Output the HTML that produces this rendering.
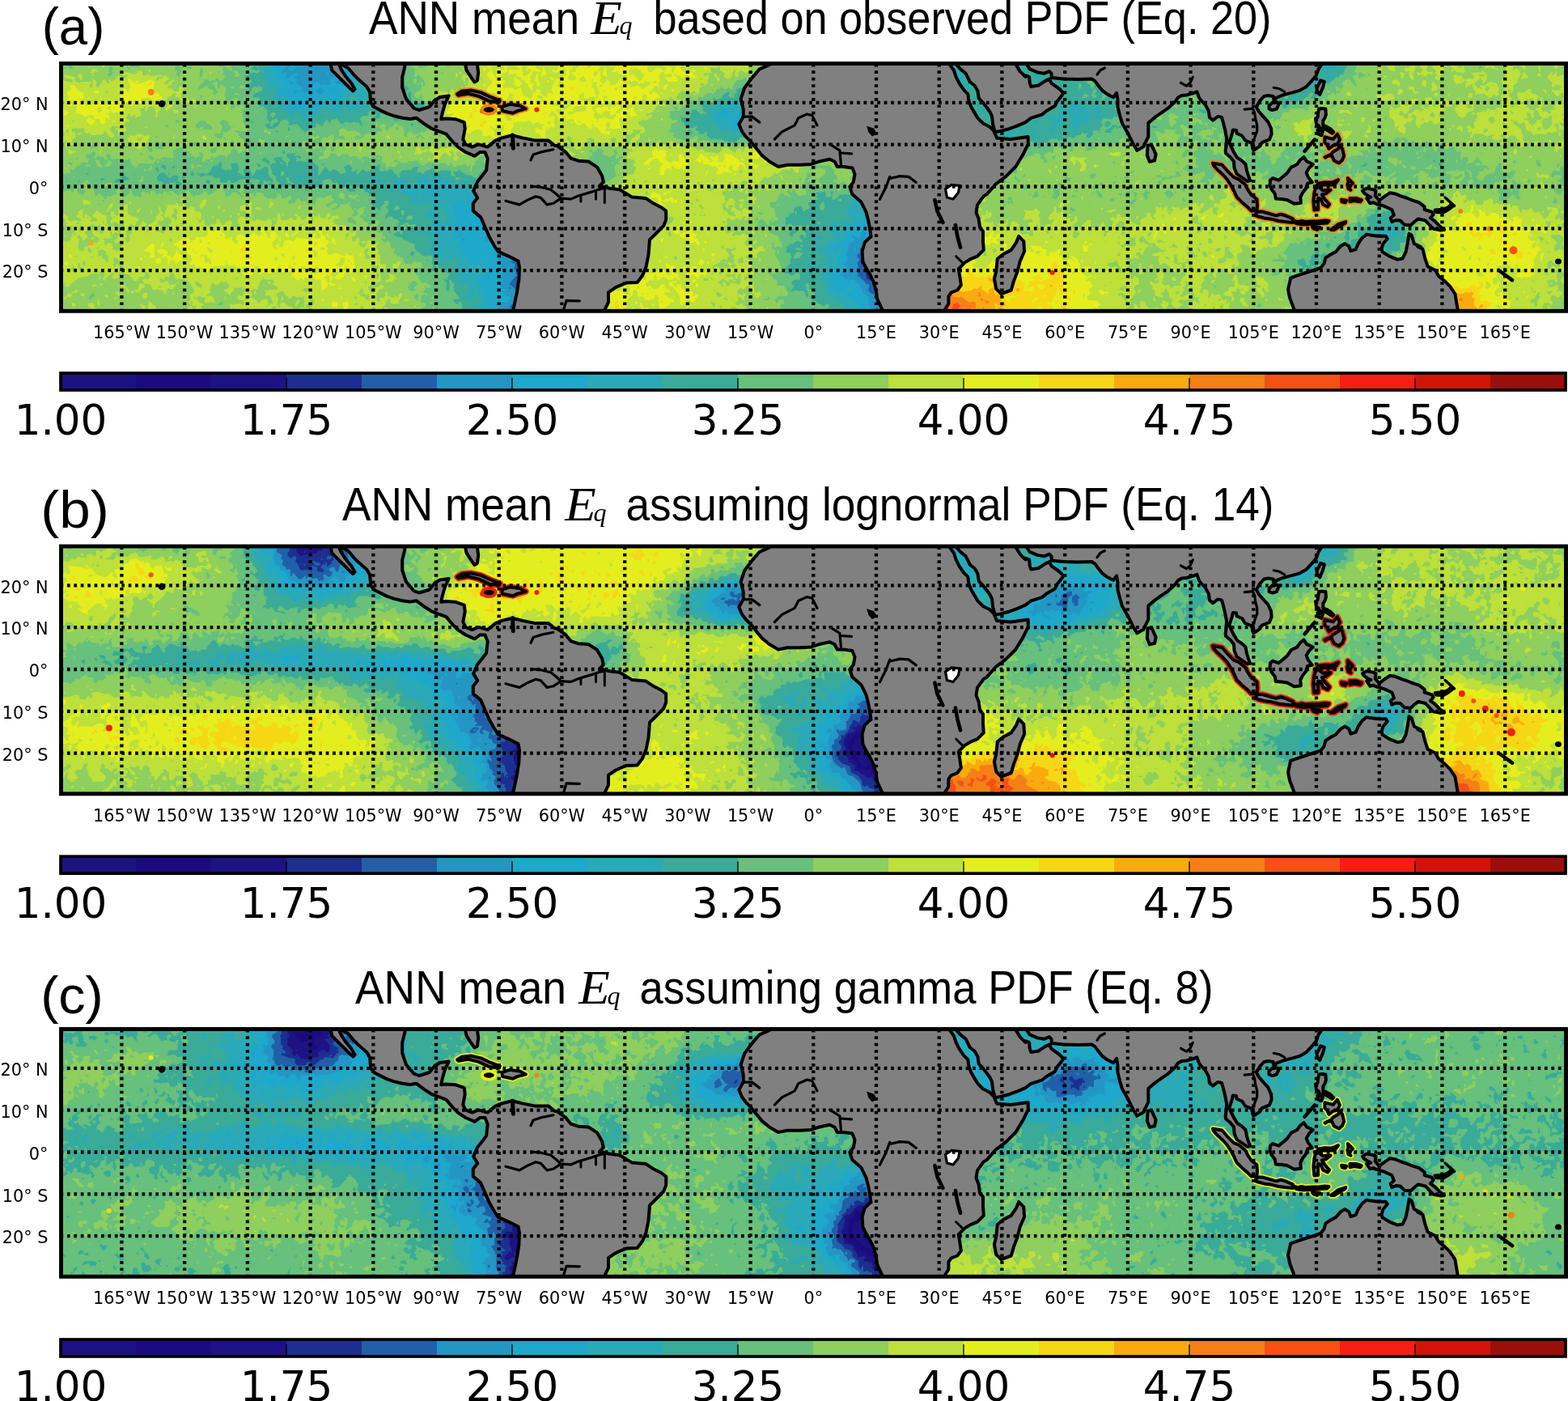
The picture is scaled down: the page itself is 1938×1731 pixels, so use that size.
<!DOCTYPE html><html><head><meta charset="utf-8"><title>ANN mean Eq</title><style>html,body{margin:0;padding:0;background:#fff;}svg{display:block;}.tk{font-family:"DejaVu Sans",sans-serif;font-size:20.8px;fill:#000;}.cb{font-family:"DejaVu Sans",sans-serif;font-size:51.5px;fill:#000;}.tt{font-family:"Liberation Sans",sans-serif;font-size:58px;fill:#000;}.em{font-family:"Liberation Serif",serif;font-style:italic;fill:#000;}</style></head><body>
<svg width="1938" height="1731" viewBox="0 0 1938 1731">
<rect width="1938" height="1731" fill="#fff"/>
<defs>
<clipPath id="mc"><rect x="75.5" y="78.5" width="1860" height="305.8"/></clipPath>
<g id="land"><g fill="#808080" stroke="#000" stroke-width="4" stroke-linejoin="round"><path d="M422.2 70.6 422.2 79.4 430.2 84 437 92.1 443.7 98.8 453.1 106.9 457.1 113.6 457.7 120.3 458.4 127 462.4 132.3 470.5 136.4 478.5 140.4 486.6 143.1 497.3 145.8 506.7 147.1 514.8 145.8 520.1 149.8 525.5 153.8 534 159.2 551.5 165.6 559.5 175.2 565.9 181.6 575.5 188 586.7 192.8 593.1 188 599.5 188 602.7 196 601.1 210.4 596.3 216.8 589.9 224.8 585.1 235.9 590.2 244.4 584.8 251.3 584.8 260.6 594.1 268.4 600.2 282.3 604.9 293.1 611.1 304 615.7 310.9 628.1 316.3 640.5 322.5 642 330.3 641.3 345.8 638.9 361.2 634.3 382.9 634.3 398.4 748.1 398.4 748.1 381.4 752 373.6 752 361.2 761.2 355 773.6 349.6 787.6 348.9 793.7 341.1 798.4 330.3 801.5 314.8 803 296.2 810.8 288.5 820.1 279.2 823.2 271.5 823.2 260.6 817 256 807.7 251.3 798.4 245.1 781.4 243.6 773.6 238.9 765.9 234.3 753.5 232.8 741.1 229.7 745.8 225 744.2 217.3 738 206.4 727.2 199.5 714.8 198.7 705.5 195.6 699.3 187.9 688.5 180.1 685.9 180 677.9 173.6 661.9 173.6 645.9 170.4 633.1 167.2 620.3 170.4 612.3 173.6 602.7 181.6 591.5 178.4 583.5 181.6 575.5 178.4 572.3 172 574.7 159.2 573.9 151.2 562.7 147.2 551.5 146.4 545.2 147.2 546.7 140 549.9 128.8 554.7 118.4 543.6 120 537.2 124 530.8 132 518 136 511.6 133.6 502 122.4 497.2 108 497.2 95.2 500.4 82.4 500.4 69.6Z"/><path d="M408.8 70.6 408.8 79.4 410.1 86.7 416.8 93.4 424.9 101.5 431.6 108.2 436.3 112.5 438.6 110.2 434.3 102.8 427.6 94.8 422.2 86.7 418.8 79.4 418.8 70.6Z"/><path d="M575.1 70.6 575.1 79.4 576.5 86.7 581.8 94.8 586.5 101.5 589.9 99.5 591.2 89.4 589.9 79.4 589.9 70.6Z"/><path d="M565.1 116.3 570.7 112.8 581.9 111.5 594.7 114.4 605.9 119.7 617.9 124.3 616.8 126.5 604.3 124.9 591.5 118.9 578.7 115.7 566.7 117.9Z"/><path d="M620.3 132 629.9 128.8 642.7 130.4 649.9 134.4 639.5 137.1 633.9 139.7 621.1 137.1Z"/><path d="M951.2 69.8 951.2 79.9 938.8 85.3 929.5 96.1 920.2 108.5 915.6 122.4 918.7 134.8 918.7 144.1 913.3 153.4 917.2 162.7 921.8 168.9 928 175.1 934.2 182.8 941.9 192.1 951.2 199.8 962 206 972.9 203.7 988.4 203.7 1002.3 202.9 1011.6 199.8 1025.5 196.7 1031.7 199.8 1034.8 206 1042.5 206 1053.4 207.6 1056.5 215.3 1054.9 224.6 1050.3 230.8 1053.4 240.1 1064.2 249.4 1070.4 261.8 1073.5 274.1 1075 281.9 1076.6 292.7 1074.9 293.5 1068.7 299.7 1065.6 310.5 1066.4 322.9 1070.2 330.6 1074.9 338.4 1079.5 347.6 1082.6 358.5 1084.2 369.3 1090.4 382.5 1091.9 397.2 1167.8 397.2 1167.8 382.5 1172.4 375.5 1172.4 366.2 1175.5 361.6 1183.3 358.5 1187.9 352.3 1186.3 341.5 1184.8 332.2 1192.5 324.4 1200.3 319.8 1208 316.7 1215.8 308.9 1215 298.1 1215 285.7 1211.1 281.1 1209.6 270.2 1206.5 262.5 1208 253.2 1215.8 242.4 1219.7 240.1 1230.5 227.7 1242.9 218.4 1255.3 206 1264.6 190.6 1270.7 178.2 1270.7 168.9 1249.1 172 1232 170.4 1228.5 161.9 1223.2 156.5 1215.1 152.5 1208.4 145.8 1204.4 139.1 1200.4 132.3 1197.7 125.6 1196.3 116.2 1191 110.9 1185.6 102.8 1181.6 94.8 1178.9 86.7 1173.5 79.4 1173.5 70.6Z"/><path d="M1181.6 70.6 1181.6 79.4 1187 85.4 1193.7 90.8 1199 101.5 1204.4 105.5 1208.4 112.2 1209.8 121.6 1215.1 127 1223.2 137.7 1225.9 143.1 1227.2 153.8 1229.9 163.2 1236.6 161.9 1247.3 159.2 1258.1 155.2 1267.4 151.1 1274.2 145.8 1287.6 141.7 1294.3 136.4 1303.7 131 1306.4 125.6 1311.7 118.9 1314.4 114.9 1309 109.5 1299.6 102.8 1297 97.5 1291.6 100.1 1283.5 105.5 1274.2 106.9 1272.8 102.8 1272.1 94.8 1268.1 93.4 1267.4 94.8 1260.7 88.1 1255.4 79.4 1255.4 70.6Z"/><path d="M1268.8 70.6 1268.8 79.4 1272.8 85.4 1282.2 89.4 1290.3 90.8 1297 88.1 1299.6 90.8 1299.6 96.1 1314.4 97.5 1331.8 98.1 1349.3 97.5 1353.3 100.1 1357.3 105.5 1362.7 112.2 1368.1 116.2 1376.1 120.3 1380.1 114.9 1381.5 123 1381.5 132.3 1384.2 143.1 1386.8 151.9 1394.6 165.8 1400.8 178.2 1405.4 185.9 1413.2 181.3 1419.3 168.9 1419.3 151.9 1428.6 144.1 1444.1 133.3 1451.9 126.3 1456 120.6 1460.7 118 1466.4 117.5 1474.2 115.4 1479.4 113.3 1482 120.6 1484.5 124.2 1489.7 129.4 1493.9 137.2 1494.9 144.9 1499 148.6 1505.3 143.9 1509.9 144.9 1511.5 150.1 1514.1 160.5 1516.1 170.9 1515.6 178.7 1514.6 186.4 1515.1 189.5 1520.8 194.2 1525 199.4 1525.5 207.2 1528.6 214.9 1534.8 219.1 1541.5 223.8 1545.2 223.2 1543.1 217.5 1541 210.8 1539.5 203 1534.8 198.4 1529.1 194.7 1524.4 186.9 1519.3 176.1 1522.9 165.2 1523.9 160.5 1528.1 161 1528.6 164.7 1535.3 167.8 1538.9 173.5 1546.7 176.6 1549.3 185.9 1557.1 180.7 1559.7 176.1 1569 172.4 1571.6 165.7 1571.1 158.9 1567.4 150.7 1561.7 144.4 1555.5 137.2 1552.9 132 1557.1 124.7 1562.3 119 1567.4 118 1573.7 119 1574.7 125.2 1577.8 120.6 1585.6 117.5 1593.3 115.4 1597.5 114.4 1606.3 111.8 1614.1 107.6 1621.8 99.3 1627 93.1 1629.6 85.3 1634.8 77.5 1634.8 64.6Z"/><path d="M1418.6 179.7 1423.2 178.9 1428.6 190.6 1427.1 198.3 1420.9 199.8 1417.8 192.1Z"/><path d="M1259.1 291.9 1265.3 298.1 1266.1 310.5 1260.7 322.9 1257.6 335.3 1252.9 347.6 1249.8 358.5 1237.4 363.1 1231.2 356.9 1228.9 344.6 1231.2 335.3 1232.8 319.8 1240.5 313.6 1249.8 308.9 1256 299.7Z"/><path d="M1568.5 130.4 1572.6 126.8 1578.8 126.3 1580.4 128.9 1577.8 134.6 1572.6 136.1 1568.5 134.6Z"/><path d="M1632.2 99.3 1636.9 100.9 1634.8 108.7 1631.2 116.9 1628.1 113.3 1627.5 108.7 1630.6 102.9Z"/><path d="M1630.1 134.6 1633.8 134.1 1638.4 134.6 1638.9 141.3 1637.4 146 1635.3 149.1 1635.3 154.8 1640.5 156.9 1644.1 158.9 1648.3 163.1 1646.7 164.7 1641.5 161.5 1635.8 158.4 1630.1 158.4 1630.1 155.3 1627 153.8 1626 146.5 1628.6 144.9 1629.1 139.8Z"/><path d="M1637.4 169.3 1643.6 170.9 1647.7 171.9 1652.9 165.7 1656 172.4 1652.9 178.7 1647.7 179.7 1642.6 183.8 1640 178.7 1637.4 176.1Z"/><path d="M1628.6 160.5 1634.8 162.1 1633.2 167.2 1629.1 165.2Z"/><path d="M1637.4 194.2 1645.2 190.6 1647.7 187.5 1654 183.8 1656 179.7 1659.1 183.8 1661.2 192.6 1659.1 197.8 1655 201.5 1648.8 198.4 1646.2 192.6 1641.5 192.6 1637.9 194.7Z"/><path d="M1570 222.7 1573.1 220.1 1580.4 222.7 1590.8 213.9 1595.9 206.6 1603.2 203 1606.8 197.8 1611.5 194.2 1615.1 199.4 1622.9 203 1618.2 207.2 1614.6 213.4 1616.7 218.6 1621.8 225.3 1616.1 226.4 1614.1 233.1 1609.9 238.3 1607.3 243.5 1607.9 250.7 1599.6 251.8 1590.8 247.1 1584 246.1 1576.8 245.5 1575.7 239.3 1571.6 234.1 1569.5 228.9Z"/><path d="M1499 201.5 1510.4 203.5 1516.7 210.8 1525 219.1 1531.2 221.7 1538.9 227.9 1543.1 235.7 1546.7 240.9 1553.4 246.1 1554 253.8 1553.4 260.6 1546.7 260.6 1541.5 255.4 1535.3 250.2 1528.6 243.5 1525 235.7 1521.3 228.9 1516.7 221.7 1511.5 216 1505.3 210.3 1500.1 204.6Z"/><path d="M1550.9 265.8 1554.5 261.6 1559.7 261.4 1566.4 263.2 1577.3 266.3 1583 264.7 1588.7 266.3 1598 270.4 1598 275.1 1588.2 274.1 1580.4 273 1570 270.4 1562.3 269.4 1556 267.8Z"/><path d="M1654 222.2 1649.3 228.4 1642.6 228.4 1634.8 228.4 1630.6 231.5 1634.8 235.2 1644.6 234.6 1638.9 239.3 1633.8 240.4 1637.4 246.1 1643.1 252.3 1641 255.4 1635.3 252.8 1632.2 245.5 1629.1 245 1629.1 259 1624.4 259.5 1623.4 248.6 1624.4 238.3 1626.5 230.5 1629.6 226.4 1637.4 225.3 1645.2 225.6 1650.3 223.8Z"/><path d="M1665.9 220.1 1668.5 222.7 1672.1 226.4 1669.5 228.9 1667.9 233.1 1669.5 234.6 1666.4 233.1 1665.4 227.9 1666.4 225.3Z"/><path d="M1668.5 245 1676.2 245 1683 247.1 1681.4 249.2 1673.6 248.1 1668.5 249.2Z"/><path d="M1598.5 272.5 1603.7 274.1 1608.9 273 1614.1 274.1 1621.8 273.5 1629.6 273.5 1637.4 272.5 1642.6 273 1640 275.6 1632.2 276.1 1624.4 276.1 1616.7 277.2 1608.9 277.2 1602.2 276.1Z"/><path d="M1647.7 281.8 1654 277.2 1663.3 274.1 1662.3 276.1 1655.5 279.8 1649.3 283.9 1645.2 283.9Z"/><path d="M1684 235.7 1689.2 232.6 1697 234.1 1700.6 235.7 1699.6 241.9 1704.7 247.6 1712.5 241.9 1717.7 238.3 1724.4 239.3 1733.2 242.9 1738.4 244.5 1746.2 247.6 1754 250.2 1760.7 255.4 1760.7 259 1769.5 261.6 1771.6 265.2 1767.9 269.4 1773.1 273 1779.9 279.8 1785 283.9 1779.9 284.4 1772.1 282.9 1767.9 279.2 1761.7 272.5 1752.9 270.4 1748.8 273.5 1743.6 278.2 1735.8 277.7 1730.6 272.5 1725.5 272 1720.3 274.1 1718.7 269.4 1722.9 265.8 1720.3 259 1709.9 254.4 1702.1 252.3 1697 250.2 1693.3 251.2 1689.2 245 1694.4 243.5 1690.7 241.9 1685.6 238.3Z"/><path d="M1773.6 259.5 1779.9 259 1785 258.5 1790.2 255.9 1793.8 252.3 1794.9 255.4 1790.2 259 1784 262.6 1774.7 262.1Z"/><path d="M1621.8 279.8 1631.2 280.8 1628.1 283.9 1622.9 281.8Z"/><path d="M1658.1 246.6 1664.3 247.6 1662.8 250.2 1658.6 249.2Z"/><path d="M1628.6 160.5 1634.8 162.1 1633.2 167.2 1629.1 165.2Z"/><path d="M1599.2 393.8 1599.2 381.5 1594.1 368 1592 357.7 1594.1 348.4 1595.1 343.3 1604.4 340.2 1616.8 336 1626 333 1632.2 330.9 1636.4 325.7 1638.4 318.5 1644.6 314.4 1650.8 311.3 1657 304.1 1662.2 301 1667.3 304.1 1669.4 310.2 1675.6 308.2 1678.7 301 1683.8 293.7 1689 289.6 1694.2 290.6 1703.4 291.7 1712.7 291.7 1714.8 294.8 1709.6 301 1707.6 307.2 1708.6 311.3 1716.9 316.4 1727.2 320.6 1733.4 319.5 1737.5 311.3 1739.6 301 1741.6 288.6 1744.7 290.6 1747.8 301 1756.1 305.1 1752.3 304.6 1758.4 307.6 1761.5 319.9 1764.6 329.2 1773.8 333.8 1778.4 341.5 1786.1 347.6 1792.2 353.8 1798.4 363 1801.5 381.5 1803 399.9Z"/></g><g fill="none" stroke="#000" stroke-linecap="round" stroke-linejoin="round"><path d="M633.5 167 634.3 183.2" stroke-width="5"/><path d="M656 197.9 659.1 191 668.4 187.9 683.8 184.8" stroke-width="3.2"/><path d="M625 248.2 642 252.9 652.9 246.7 662.2 242.8 668.4 244.4 676.1 252.9 683.8 251.3 693.1 245.1 705.5 245.9 714.8 242 730.3 237.4 739.6 234.3 745.8 232.8" stroke-width="3.2"/><path d="M659.1 230.4 668.4 231.2 680.7 234.3 688.5 240.5 693.1 245.1" stroke-width="3.2"/><path d="M717.9 242 717.9 249" stroke-width="3"/><path d="M736.5 237.4 736.5 245.9" stroke-width="3"/><path d="M747.3 234.3 747.3 250.6" stroke-width="3"/><path d="M697 381.4 700.1 371.3 716.3 371.8" stroke-width="3.2"/><path d="M918.7 144.1 929.5 144.1 938.8 151.1" stroke-width="3.2"/><path d="M957.4 172 966.7 162.7 982.2 154.9 986.8 145.7 997.6 141 1003.8 142.6 1010 154.9" stroke-width="3.2"/><path d="M1025.5 178.2 1037.9 185.9 1039.4 202.9" stroke-width="3.2"/><path d="M1039.4 189 1052.6 189.8" stroke-width="3.2"/><path d="M1087.4 246.3 1095.2 230.8 1099.8 218.4" stroke-width="3.2"/><path d="M1099 220.7 1112.2 217.6 1123 218.4 1132.3 225.4" stroke-width="3.2"/><path d="M1155.4 247 1158.5 261 1165.4 274.9" stroke-width="4.6"/><path d="M1180.9 278 1183.3 291.9 1187.1 305.9" stroke-width="4.6"/><path d="M1181.7 316.7 1189.4 324.4" stroke-width="3"/><path d="M1538.2 135.1 1548.5 134.1 1550.6 139.2 1551.6 146.4 1553.7 154.7 1553.7 161.9 1550.6 170.2 1548.5 176.4 1547.5 182.6" stroke-width="3.2"/><path d="M1574.3 108.3 1581.5 109.8 1587.7 113.4" stroke-width="3.2"/><path d="M1356 92.1 1360 86.7 1365.4 84" stroke-width="3.2"/><path d="M1459.5 102.3 1466.4 106.2 1471.1 102.3 1474.2 95.3" stroke-width="3.2"/><path d="M1612.5 186.9 1624.9 172.4" stroke-width="4.5"/><path d="M1786.1 244 1797.5 254.4" stroke-width="3.5"/><path d="M1852.2 333.8 1869.1 346.1" stroke-width="4.5"/></g><path fill="#000" stroke="#000" stroke-width="2" d="M1072.7 157.3 1079.7 159.6 1082.8 165 1078.1 167.3 1074.3 162.7Z"/><path fill="#fff" stroke="#000" stroke-width="3.2" d="M1168.5 233.5 1176 228.5 1186 229.5 1184.5 238 1178 246 1170.5 244Z"/><ellipse cx="200" cy="128.2" rx="4.3" ry="4.3" fill="#000"/><ellipse cx="604.3" cy="135.5" rx="6.5" ry="3.2" fill="#000"/><ellipse cx="1926" cy="323" rx="4" ry="3.5" fill="#000"/></g>
<g id="halo" fill="none" stroke-linejoin="round"><path d="M565.1 116.3 570.7 112.8 581.9 111.5 594.7 114.4 605.9 119.7 617.9 124.3 616.8 126.5 604.3 124.9 591.5 118.9 578.7 115.7 566.7 117.9Z"/><path d="M620.3 132 629.9 128.8 642.7 130.4 649.9 134.4 639.5 137.1 633.9 139.7 621.1 137.1Z"/><path d="M1499 201.5 1510.4 203.5 1516.7 210.8 1525 219.1 1531.2 221.7 1538.9 227.9 1543.1 235.7 1546.7 240.9 1553.4 246.1 1554 253.8 1553.4 260.6 1546.7 260.6 1541.5 255.4 1535.3 250.2 1528.6 243.5 1525 235.7 1521.3 228.9 1516.7 221.7 1511.5 216 1505.3 210.3 1500.1 204.6Z"/><path d="M1550.9 265.8 1554.5 261.6 1559.7 261.4 1566.4 263.2 1577.3 266.3 1583 264.7 1588.7 266.3 1598 270.4 1598 275.1 1588.2 274.1 1580.4 273 1570 270.4 1562.3 269.4 1556 267.8Z"/><path d="M1598.5 272.5 1603.7 274.1 1608.9 273 1614.1 274.1 1621.8 273.5 1629.6 273.5 1637.4 272.5 1642.6 273 1640 275.6 1632.2 276.1 1624.4 276.1 1616.7 277.2 1608.9 277.2 1602.2 276.1Z"/><path d="M1647.7 281.8 1654 277.2 1663.3 274.1 1662.3 276.1 1655.5 279.8 1649.3 283.9 1645.2 283.9Z"/><path d="M1654 222.2 1649.3 228.4 1642.6 228.4 1634.8 228.4 1630.6 231.5 1634.8 235.2 1644.6 234.6 1638.9 239.3 1633.8 240.4 1637.4 246.1 1643.1 252.3 1641 255.4 1635.3 252.8 1632.2 245.5 1629.1 245 1629.1 259 1624.4 259.5 1623.4 248.6 1624.4 238.3 1626.5 230.5 1629.6 226.4 1637.4 225.3 1645.2 225.6 1650.3 223.8Z"/><path d="M1665.9 220.1 1668.5 222.7 1672.1 226.4 1669.5 228.9 1667.9 233.1 1669.5 234.6 1666.4 233.1 1665.4 227.9 1666.4 225.3Z"/><path d="M1668.5 245 1676.2 245 1683 247.1 1681.4 249.2 1673.6 248.1 1668.5 249.2Z"/><path d="M1658.1 246.6 1664.3 247.6 1662.8 250.2 1658.6 249.2Z"/><path d="M1637.4 169.3 1643.6 170.9 1647.7 171.9 1652.9 165.7 1656 172.4 1652.9 178.7 1647.7 179.7 1642.6 183.8 1640 178.7 1637.4 176.1Z"/><path d="M1637.4 194.2 1645.2 190.6 1647.7 187.5 1654 183.8 1656 179.7 1659.1 183.8 1661.2 192.6 1659.1 197.8 1655 201.5 1648.8 198.4 1646.2 192.6 1641.5 192.6 1637.9 194.7Z"/><path d="M1621.8 279.8 1631.2 280.8 1628.1 283.9 1622.9 281.8Z"/><ellipse cx="604.3" cy="135.5" rx="6.5" ry="3.2"/></g>
<g id="grid" stroke="#000" stroke-width="4.3" fill="none" stroke-dasharray="3.7 4.715"><path d="M150.4 78.5V384.3" stroke-dashoffset="-0.39"/><path d="M228.1 78.5V384.3" stroke-dashoffset="-0.39"/><path d="M305.9 78.5V384.3" stroke-dashoffset="-0.39"/><path d="M383.6 78.5V384.3" stroke-dashoffset="-0.39"/><path d="M461.3 78.5V384.3" stroke-dashoffset="-0.39"/><path d="M539 78.5V384.3" stroke-dashoffset="-0.39"/><path d="M616.7 78.5V384.3" stroke-dashoffset="-0.39"/><path d="M694.4 78.5V384.3" stroke-dashoffset="-0.39"/><path d="M772.2 78.5V384.3" stroke-dashoffset="-0.39"/><path d="M849.9 78.5V384.3" stroke-dashoffset="-0.39"/><path d="M927.6 78.5V384.3" stroke-dashoffset="-0.39"/><path d="M1005.3 78.5V384.3" stroke-dashoffset="-0.39"/><path d="M1083 78.5V384.3" stroke-dashoffset="-0.39"/><path d="M1160.7 78.5V384.3" stroke-dashoffset="-0.39"/><path d="M1238.4 78.5V384.3" stroke-dashoffset="-0.39"/><path d="M1316.2 78.5V384.3" stroke-dashoffset="-0.39"/><path d="M1393.9 78.5V384.3" stroke-dashoffset="-0.39"/><path d="M1471.6 78.5V384.3" stroke-dashoffset="-0.39"/><path d="M1549.3 78.5V384.3" stroke-dashoffset="-0.39"/><path d="M1627 78.5V384.3" stroke-dashoffset="-0.39"/><path d="M1704.7 78.5V384.3" stroke-dashoffset="-0.39"/><path d="M1782.4 78.5V384.3" stroke-dashoffset="-0.39"/><path d="M1860.2 78.5V384.3" stroke-dashoffset="-0.39"/><path d="M75.5 126.8H1935.5" stroke-dashoffset="0.98"/><path d="M75.5 178.7H1935.5" stroke-dashoffset="0.98"/><path d="M75.5 230.5H1935.5" stroke-dashoffset="0.98"/><path d="M75.5 282.4H1935.5" stroke-dashoffset="0.98"/><path d="M75.5 334.2H1935.5" stroke-dashoffset="0.98"/></g>
</defs>
<g transform="translate(0,0)">
<g clip-path="url(#mc)">
<rect x="75.5" y="78.5" width="1860" height="305.8" fill="#1c2f91"/>
<g transform="translate(76.2 79.2) scale(1.5)" stroke-width="1" stroke-linejoin="round">
<path fill="#2160a8" stroke="#2160a8" fill-rule="evenodd" d="M389 198l2 3-3 2-2-2zM391 185l3 2-2 2-3-1zM389 180l1 1-1 3-2-2zM673 181l1-2 3 1-2 2zM676 176l1-1 1 1-1 1zM393 173l2 2-1 2-3-1zM669 167h0zM383 166l2-1 2 3-1 1zM383 164l1-1 1 1-1 1zM381 162l2-1 1 2-2 1zM666 160l1-1 3 0 1 1-2 2zM660 159l5 1 1 1 0 3 3 0 1-2 3 1-1 2 0 5-1 2-2 1 0 1 3-1 3 3-2 4-3 0-1-2-2 1-4-2-1-5-2-1 1-2 3-2 0-2-1-1-2 2-3-1 0-4zM383 160l1-1 1 2-1 1zM674 153l2-1 1 2-2 1zM393 150l3 4-1 2-2 1 1 2-3 2-3-3 3-3-1-2zM0 0l0 203 1239 0 0-203z"/>
<path fill="#2496c4" stroke="#2496c4" fill-rule="evenodd" d="M380 202l0 1zM671 200l1-1 2 3-1 1zM674 199l1-1 2 1-1 1zM375 195l1-1 1 1-1 1zM662 187l1-1 1 1-1 1zM368 184l2-1 1 2-2 1zM681 179h0zM376 179l0 1 2 1 0-2zM681 169l0 1zM653 160l1-1 1 1-1 1zM398 159l1-1 1 1-1 1zM368 156l2-1 2 3-1 1zM384 154h0zM669 147l3 0 1 1-1 3 1 0 1-2 1 1 3 0 3 3-1 1 1 3 4-6 2 1 1 3-1 3-4 0 0 5-1 1 3 4-2 4 0 4 1 1-1 1 0 5-5 2-2 2 1 1 0 3-1 1-3-2-1 1-6-2-2-3 1-4-2 0-3-4-3-1 1-1-3-1 1-2-2-3 2-3-1-3 2-3-2-2 0-2 3-2-1-3 2-2 3 1 5-1zM378 148l1-1 2 2-2 1zM675 144l1-1 1 2-1 1zM389 138l1-1 1 1-1 1zM388 136l1-1 1 2-1 1zM0 0l0 203 371 0 1-2-1 1-2-1 0-2 2-2 2 2 1-1 2 3 1-1 1 1 7-2 0-3-1 1-4 0-2-2 1-3-7-2 4-3 1-2-3 1-5-4 0-2 5-6 3 0-2 0-2-2 1-1-2-3 1-3-4-2 4-3 1 1-1-3 2-2 1 1 3-4 3-1 0-2 2-2-1-5 2-2 2 0 2 2 1 3-1 2 1 0 0-4 2-2-1-1 1-2 4-2 2 1 0 4 1 1-2 1 2-1 5 3-3 5-2 1-1 3 1 1-2 4 2 2-2 4 3-1 1 1 0 3-1 1 1 2-3 2 1 3-2 3 3-1 1 3-1 1-3 0 2 4 0 4-5 3 2 2 0 3 2 1 1 3 840 0 0-203z"/>
<path fill="#1ea8cb" stroke="#1ea8cb" fill-rule="evenodd" d="M661 199l1-1 1 1-1 1zM662 194l1-2 2 1-2 2zM660 192l1-1 2 1-1 1zM650 189l1-1 1 1-1 1zM358 184l2-1 1 2-2 1zM352 181l1-1 2 1-1 1zM350 177l1-3 3 1-3 3zM637 174l1-1 2 1-1 1zM646 172h0zM368 167l0 2 2 0zM338 159l1-1 1 1-1 1zM358 152l1-1 1 1-1 1zM689 151h0zM654 151l0 2zM360 149l1-1 2 2-2 1zM406 146l1-1 1 1-1 1zM329 144l3-1 1 2-2 1zM357 143l1-1 1 1-1 1zM348 143l3-2 3 2 3 0 2 2-2 1-1 3-1-2-2-1-4 0zM358 140l1-1 2 3-2 1zM327 140l1-1 2 3-1 1zM684 137l3-1 1 1 0 3-1 1zM346 135l1-1 1 1-1 1zM348 134l1-1 1 2-1 1zM343 133l1-1 1 2-1 1zM370 134l2-3 2 2-1 2zM353 133l3-2 1 1-1 2zM342 132l1-1 1 1-1 1zM336 132l2-1 2 4-1 1zM364 130l2 1 1 3-2 5-2-1 0-5-1-1zM675 129l1-1 1 2-1 1zM669 129l1-1 2 3-1 1zM387 127l1-1 1 1-1 1zM388 126l1-1 2 1-1 1zM366 126l2-1 1 2-1 1zM359 124l1 3-1 1-1-1-2 2-1-2zM343 121l1-1 2 1 1 2-1 1-2-1zM359 117l1-1 1 1-1 1zM345 116l1-1 1 1-1 1zM346 114l1-1 1 1-1 1zM350 113l1-1 1 1-1 1zM194 21l1 2-3 2-1-2zM222 21l1-1 2 2-2 1zM218 20l1-1 2 1-1 1zM206 20l1-1 1 2-1 1zM213 18l4 3-3 5-3-1-2-3 2-1zM192 17l1-1 1 1-1 1zM187 14l1-1 4 3-1 1-3 0zM226 13l1-1 1 1-1 1zM198 12l0 1zM234 11l-5 7-5-3 1-2 2 1 3-3 3-1zM182 9l1-1 1 2-1 1zM232 7l2-1 2 3-2 1zM218 6l1 2zM189 1l1 1-3 1 1 2 3 0 0-1 2-1zM0 0l0 203 364 0 0-1-2 1-1-1 1-6 1-1 4 1 0-2 2-1 0-2-2 1-5-3 2-2 2 0 0-1-3-1-3-3 3-2-2-3 3-5-2-2-1-4-2-1 0-4 6-7-1-3 3-5 2 4 1-1 5 1-1-2 0-6-1-1 3-3 4 2-3-4 0-3 1-1 3 2 1-1 4 0 1-2-1 1-4 0-1-1 3-5 3 2 6 0 3 3 3 0 1 1-1 2 1 1 2-1 4 2-1 2 2 1-2 2 0 3 2 1-3 4 1 2-1 5 2 2-2 2 1 6-2 4 1 13-2 1 1 2-1 2 3 3-2 2-1-1-2 1 4 5 0 1-3 2 0 1 2 1 260 0 3-2-2-3 1-1-1-2 1-2-3-3-3-1 0-3-2-3 0-2-1 1-3-4-3 0-1 2-1-3-2 2-2-4-2 0-1-2 1-1 1 1-1-1 2-3 3-1-4-3 3-2 1-4-2-3 2-1 1-7 5-3-3-3 2-2 5 3 2-6 2-1 1 2 1-1 1 1-1 3 2 4-1 2 1 0 2-3 0-2-4-2 2-1 0-1-2-1 0-3 2-1 1 2 2-3 3 1-3 2 1 2 2-4 2 1 1 3 5 3 3 5 3-1 1 1 2-2 5 4 0 4-3 3 1 4-4 3 1 1 0 8-1 2 2 1 0 3-2 2-1 6-5 3 2 1 2 3-1 12 555 0 0-203-1010 0-1 4 1 1 3-1 1 2-2 2-2-1-1 1 0 3-2 2-2-1 1-1-2 0-2 3 1 2-2 2-3-1-3 1-3-3-2 0 0 1-2 1 0 2-2 1 1 3-2 2-2-2-2 2-3-4 1-1-6-5 2-2-1 0-2-3 3-1-1-2-6 5-3 0-1-1 2-2-1-1 1-1-3 1-2-2 4-3-1-3z"/>
<path fill="#2aaab8" stroke="#2aaab8" fill-rule="evenodd" d="M358 202l-2-1-2 2 3 0zM652 199l1-1 1 1-1 1zM353 197l1 0zM653 194l1 0zM357 190l1 3-1 1 1 1 0-1 2-1-1-2zM651 185l-3-1-1 1 0 3 4-2zM348 181h0zM356 170l0 1zM340 172l1-3 3 1-2 3zM345 160l0 2 3 1 1-2zM329 155l1-1 1 1-1 1zM345 153l-1 2zM634 150l1-1 1 1-1 1zM696 142l1-1 1 1-1 1zM412 139l1-1 1 1-1 1zM342 139h0zM413 138l1-1 1 1-1 1zM338 138h0zM648 136l1-1 1 1-1 1zM359 135l0 1 2 0zM328 133l3 6 1-1 0-4-2 1zM407 129l1-1 2 2-2 1zM334 128l-1 3 1 0zM378 127l-1 1zM374 125l1 0zM344 125l-1 0 0 1zM341 125l-4 1 0 1 2 1zM374 122h0zM362 121l0 1 2 1 0-1zM356 121h0zM386 120l1-1 1 1-1 1zM328 118h0zM332 114l1 3 2-1 2 1-3-3zM378 112l1 3-3 1-1-1 2-1zM358 109l0 1 1 0 0-1zM366 108l1-1 1 1-1 1zM331 108l1-1 1 1-1 1zM340 107l1-1 1 1-1 1zM371 107l2-2 1 2 2 0 1 2-1 1-3 0zM307 105l2-1 2 2-2 2zM312 102l1 1-1 3-1-1zM303 103l2-1 2 2 0 2-2 1zM320 102l1-1 1 2-1 1zM312 100l1-1 1 1-1 1zM563 51l1-1 1 1-1 1zM567 48l1-1 1 1-1 1zM543 48l1-1 1 1-1 1zM539 40l5-2 0-1 2-1 8 6-1 2 1 1 2-1-2-2 2-3 5 0 1 1-1 1 4 2-1 1 0 4-1 1-3 0 1 1-2 1-2 3-2 0-3-3-2 0-3-2 1-1 3 0 0-1-2-1 2-1 0-1-1 0-1 2-3-2-5 3-2-3 1-1zM205 32l1-1 1 2-1 1zM187 18l0 1 1 0zM175 14l2-1 2 2-3 1zM170 14l1-1 2 1-1 1zM241 7l3 0 1 1-2 5-3-5zM177 7h0zM0 0l0 203 351 0-1-2 1-3-2-2 2-1 0-1-2-1-1-5-2-2 1-2-5-3 1-2-1-3 2-2 5-2 0-5 1-2 0 1-2 1-1-2-6 1-1-2-2 1-4-2 2-3-1 1-2-2-2 0-1-1 1-2-1-3-7-3 1-2 2 0 1-4-4 1-1-1 1-3-3-1 2-1-1-3 2-2 3 1 0-2-1 1-2-2 3-3-3-2 1-2-2-2 1-9 1-1 8-1 3-2-3-3 3-2 1 1 2-1 1 2-2 1 1 3 4 0 1 1-2-3 3-2 1-2 4 0 1-2 2 3 0 2 2 1 3-4 1 1 2-1 1-3 2 1-1 1 1 3 4 2 0 1-2 1-1 4 2 1 0-3 2-3 3 1 1-1 1 1-4 6 0 2 3 0 3-4 2 2 3 0 1 1-1 2 2 0 3 2 1-1 3 2 0-1 3-2 2 0 2 2 4-2 2 3 0 3-1 1-6-1 2 1 6 0 5 6 1 3 3 2 0 2-2 2 2 4-1 2-2 1 1 4-2 2 0 2 2 1-3 1-1 2 1 1-1 19 3 2-1 2-1-1-2 1 3 4-1 1 1 1-1 1 1 1 0 6-2 4 250 0 1-2 0-3-1-1-4-1-3-4-3-1-2-3-3 0-1 1-6-5 0-3 1-1-2-3 0-4 2-1 2-3 4 0 0-1-2-1 1-2-1-1 1-1-1-1 0-3 2-2 0-2 4-3-3-1-2 3-3 2-1-1 1-5 3-3 6-3-1-3 5-2-1-1 1-2 2 1 0-4 2-3 2-1 5 0 1-2-1-5 1-1 2 1 1 2-1-4 3-2 2 0 1 3 2 0 2 4 2-1 4 0 1 2 3-1 2 2-2 3 2 1 1 2 5 0 1 1 0 4 1 1-1 3 1 0 2 3-1 4 1 1 0 3 2 1-2 1 5 2 0 2-2 2-2 0-2-3-2 0 1 3-1 1 3 2 0 2-1 1-2-1-2 1 1 2-1 2 0 5-1 1 1 2-2 3-2 1 2 3-2 2 2 1-3 1 3 1-1 2 1 2-1 1 1 2-1 5 551 0 0-203-994 0 0 2 2 1 2 3-2 2-3-2-3 1-2-3-2 0 3 2 0 3-1 1 2 2-2 3 1 3-1 1-6 0-1 1 1 0 2 3-1 1-3-1 0 3-4 3 0 1 2 1-1 1-4 1-1-2-6-4-2 1 0 2 3 1-2 2-2-1 0 2-2 2-2 0-3-3 2-2 2 1 1-2-3-1-3 2-2 0-4 6-4 0-1-1-2 2-2 0-2-4-3-2 2-2 4-1-7 0-2-3-1 2-1-1-2-7 4-2 1-3-3-1 1 1-2 1-6-7 1-3-2-4 1-2z"/>
<path fill="#3aab98" stroke="#3aab98" fill-rule="evenodd" d="M653 202l-2 1 2 0zM628 194l3-1 1 2-3 1zM339 193l1-1 1 1-1 1zM623 191l1-1 2 1-1 1zM625 186l1-1 1 1-1 1zM336 186l0 1 1 0 0-1zM341 185l0 1zM336 184h0zM614 172l1-1 1 1-1 1zM333 172h0zM1070 170l1-1 2 3-1 1zM620 170l1-1 1 1-1 1zM320 171l1-2 2 1-2 2zM610 168l1-1 1 1-1 1zM1068 163l1-1 1 1-1 1zM1058 163l1-1 1 2-1 1zM408 162l1 0zM622 161l1 2-3 1 1 2-1 2-2 1-2-1-1 2-3-3 5-3 0-3 1-1zM1073 159l1 2-3 2-1-1zM624 161l1-2 3 0 1 1-2 3zM314 159l1 0zM628 158l1-1 1 1-1 1zM1076 154l1-1 1 1-1 1zM317 153l1 3 3 0zM632 152h0zM1093 151l1-1 2 1-1 1zM1068 150l1-1 3 2 1 2-1 1-2-1zM618 151l2-4 4 3-2 3-2 0zM616 145l1-1 1 1-1 1zM615 144l1-1 1 1-1 1zM631 143l1-1 1 1-1 1zM309 143h0zM617 143l3-2 1 1 2-1 3 0 1 2-2 2-2 0-1 2zM299 142l1-1 1 2-1 1zM642 141l0 2 1 0zM618 141l1-1 1 1-1 1zM640 140h0zM1103 139l1-1 1 2-1 1zM294 139l3-1 2 3-3 1zM1099 138l0 1 1 0zM1092 138h0zM1096 137l-1 3zM292 136l1 2-2 2-2-2zM631 134l1-1 1 1-1 1zM300 134l2-1 2 2-3 1zM302 133l1-1 1 1-1 1zM313 132h0zM1104 136l0 2-1 1-1-1 1 2-5 4-3-1 0 3-3 1-5 6-4-3 3-4-2 3-3 0-1-2-8-6 1-2 2 1 5-1 1-4 3-3 1 0 2 3 4-2 3 1-1-1 4-4 1 1 0 3-2 2 2 1 3-2zM700 123l1-1 1 1-1 1zM312 118l1 1-1 2 2 2-2 2-3-2 1-2-2 1 1 2 2 1 0 3 2 2 2 0 1-1 0-5-2-1 1-5-2 1zM318 118l2-1-2 0zM290 117l1-1 1 1-1 1zM658 116h0zM313 114h0zM281 113l1 1-1 3-1-1zM393 113l1-1 1 2-1 1zM644 112l1-1 1 1-1 1zM681 110l1 1-2 3-1-3zM316 111l-1 0 0 3 2-1zM682 110l1-1 1 1-1 1zM645 110l1-1 1 2-1 1zM264 110l1-1 1 2-1 1zM306 109l0 1zM289 109l1 1zM295 107l-1 2 2 0zM678 109l2-5 3 0 4 3-1 2-3-1-3 2zM378 103l1-1 1 1-1 1zM271 101l1 0 2 3-1 2-3 0-1-1 0-2zM365 101h0zM379 100l2-1 1 2-2 1zM253 100l1-1 2 1-1 1zM251 99l1-1 1 1-1 1zM379 96l1-1 1 1-1 1zM375 96l1-1 3 1 1 2-2 1-2-1zM335 96l1-1 2 3-1 1zM311 94l0 1zM255 94l4-2 1 2 4 2 1 2-3 2-1-2-3-2-1 1zM261 92l1-1 1 1-1 1zM289 91l1-1 4 3-1 1-3 0zM220 91l1-1 1 1-1 1zM203 91l2-1 2 1 1 2-3 1zM197 90l3 3-4 3-3-2 0-2zM373 90l1-1 1 1-1 1zM247 90l1-1 1 1-1 1zM196 86l1-1 2 1-1 1zM141 85l1-1 1 1-1 1zM724 77l1-1 1 1-1 1zM740 70l1-1 1 1-1 1zM731 67l2-1 1 2-2 1zM730 66l1-2 2 1-2 2zM730 67l-1 1-5 0-1-2 1-1 2 1 2-2zM743 62l1-1 1 1-1 1zM808 59l1-1 1 1-1 1zM803 59l1-1 1 1-1 1zM789 59l1-1 1 1-1 1zM545 59l1-1 1 1-1 1zM797 57l1 1-1 3-1-1zM546 57l1-1 1 1-1 1zM542 57l1-1 1 1-1 1zM536 57l2-1 1 2-1 1zM773 54l2 2-3 3-2-3zM802 53l2 2-1 3-2 2-2 0-1-3 1-2zM582 54l1-1 1 2-1 1zM826 53l1-1 1 1-1 1zM806 52l5 3-2 3-2-3-3-1zM749 52l1-1 1 1-1 1zM780 50l3 0 1 1 0 2-2 1 0 2 2-3 1 1 0 3-1 1 3 4-1 3-2 0-2-2-3 1-3-2-1-3 3-2 2 1-3-4zM738 51l1-1 1 1-1 1zM577 52l2-2 3 1-2 2zM809 49l1-1 1 2-1 1zM581 49l1-1 1 2-1 1zM774 48l1-1 2 1 2 3-2 1zM748 48l1-1 1 2-1 1zM715 48l1-1 3 1-1 1zM722 47l1-1 1 2-1 1zM526 49l2-1 1-2 4 3-2 2-3 0zM802 44l3 3-1 3-3-1-1-3zM719 46l1-2 2 1-2 2zM838 44h0zM230 44l2-2 2 1-1 2zM214 43l2-1 1 2-2 1zM742 41l1-1 1 1-1 1zM213 41l1-1 1 2-1 1zM724 40l1-1 1 1-1 1zM710 40l2-1 1 2-2 1zM701 40l1-1 1 1-1 1zM579 40l2-1 5 4-5 3zM568 40h0zM202 40l0 1zM837 39l0 1-2 1 1 0zM783 38l3 2 2-1 5 4 0 3 4-2 1 1-4 5-1 0-2-3-2 0 1 5-2 1 3-1 2 3-3 2-5-3 0-3 2-1-1-3 2-3-3 1-1-3-3-1zM777 39l1-1 1 1-1 1zM840 38h0zM799 36l2 1 0 3-1 1-3-2zM788 37l1-1 1 2-1 1zM555 37h0zM750 36l1-1 1 1-1 1zM703 36l1-1 1 1-1 1zM258 36l1-1 2 1-1 1zM849 35l3-1 5 4 0 7-1 1-3 0-1-1-1 1-2-2 1-2 2 0-1-3-4-2zM763 34l1 1-1 1 1 4-2 2-3 0-2-4 2-2 1 2 1-3zM747 35l1-1 1 2-1 1zM744 35l1-1 1 1-1 1zM725 35l1-1 2 1-1 1zM716 35l1-1 1 1-1 1zM713 35l2-1 1 2-2 1zM859 34l1-1 2 1-1 1zM768 34l2-1 1 2-2 1zM754 34l1-1 1 1-1 1zM693 34l1-1 1 1-1 1zM581 34l1-1 1 1-1 1zM254 34l1-1 1 1-1 1zM232 34l1 0zM809 33l1-1 3 0 1 1-1 1-3 0zM699 32l1 1-3 3-2-2 2-2zM677 33l1-1 1 1-1 1zM247 32h0zM847 36l0 4 2 2-2 1-2 4 1-1 2 2-1 2-2 0-1 2-2-2 0-2-3 1 0 4-5 3-3-7 1-1-1-2 1-4-2-1 0 1-2 1 0 2-4 2 3 1 1 3-1 1-3-2-3 1-5 7-2 0-2-4 3-1 1-2-1-1 2-2 0-3-1 1-3 0-4-2-3-4 0 1-2 1-1-1 2-3-1 0-2-3 2-1 1 2 2 0 3-2 1 1-1 1 1 2-1 1 0 3 3 1 2-2 1 1 2-1 1 3 2-1 0-2 3-2-3 0-2-2 6-3 2 2-3 1 2 1 3-2 1 1 2-7 2 0 3 2 2-1 2 3 4 0zM800 31l1-1 1 1-1 1zM786 31l1-1 1 1-1 1zM719 31h0zM692 33l1-3 2 2-2 2zM173 31l1-1 2 1-1 1zM543 30l3-1 2 2-2 1zM171 30l1-1 1 1-1 1zM744 27l2 3-1 1-3-1zM837 27l1-1 1 1-1 1zM688 26l1 1 0 3 2 1-5 4-3-1-2 1-1-3 3-1 3-5zM569 27l1-1 1 1-1 1zM261 26l2 2 0 2-6 5-1-1 2-4-1-3 1-1 2 1zM804 26l1-1 1 1 5-1 5 2 1-1 3 0 2 3-2 3-6-2-3 0-1 2-1-1-3 0-1 1-1-1zM236 29l2 2 4-1 2-3-1-1-2 1-3-1zM1017 24l1 1-3 4-2-2zM793 25l1-1 2 1-1 1zM567 25l1-1 1 1-1 1zM562 24l1 1-3 2-1-1zM711 24l3-1 1 3-2 1zM585 28l-1 2-1-1-9 6 0 1 4 3-1 10 2 1-2 2-7 1 1 2-2 2-4-1-2 2-3 0-1-1-5 2-5-4-4 1-5-4-1-3-1 1-3 0-2-2 2-1-1-3 1-3-3-3 2-1 1-2 1 1 3 0 2-4 6 2 3-1-1-1 1-3 1 2 2-2 3 1 4 5-1-3 1-1 2 0 1 2 4 1 1-3 2-2 2 0-1-1 0-4 1-1 5 2-3 3 0 2 3 1 4-5zM797 25l2-3 2 2-2 2zM731 22l1 1-1 2 2 1-1 1-3 0-1-2zM721 24l1-3 4 2-3 2zM718 21l2 1-1 3 1 1 3 0 4 3 0 2-2 2-4-1-3 3-4-6zM168 21l2 4-1 1-2-1 0-3zM1008 21l2-1 2 2-3 1zM865 21l1-1 1 1-1 1zM733 19l1-1 5 3-3 2-3-2zM1012 22l2-5 1 1 6 0 1-1 2 1-1 3-5 0-2 2-3 0zM1005 17l2 3 0 2-3 2-3-3zM830 18l1-1 1 1-1 1zM816 20l1-3 4 0 1 1-1 2-3 1zM662 18l1-1 2 1-1 1zM829 17l1-1 1 1-1 1zM822 17l1-1 1 1-1 1zM674 17l1-1 1 2-1 1zM268 16l1 3-2 1 1 1-1 1 0 3 1-1 1 2-1 1-4 0-2-4zM247 17l-2 1 2 0zM990 16l1-1 1 1-1 1zM764 16l1-1 1 1-1 1zM662 16l1-1 1 1-1 1zM1015 13l1 1-4 4-1-3zM684 12l1 1 0 3-2 2-3 0-1 1-2-2 2-3 3-2zM807 11l1 2 4 2 1 3 3 1-4 5-1-2-8-4 0-1 3-2 0-3zM735 12l1-1 1 1-1 1zM1037 14l-4 3-3-1 1 3-1 2-2-2-2 0-2-3-2 1-2-2 2-2 2 1 8-4 1 3 3 0zM728 10l1-1 1 2-1 1zM736 8l1 2-2 2-1-2zM260 9h0zM828 8l1-1 2 2-2 1zM807 8l1-1 3 0 1 2-2 1zM805 7l2 2 0 2-1 1-4 0-1-2zM683 8l-4 5-5-2 1-3 4 1 1-2zM1049 8l0 1-5 4-3 0-1-1 7-6zM857 7l2-1 1 2-1 1zM791 7l1-1 2 2-2 1zM759 7l1-1 1 1-1 1zM257 7l0 1 1 0 0-1zM758 6l1-1 1 1-1 1zM735 6l1-1 1 1-1 1zM273 5l2 2-3 3-1-2zM987 5l1-1 2 1-1 1zM852 5l1-1 3 2-3 1zM740 4l2 1-1 1 2 1-1 2 2 3-1 1 1 3 3-1 2-3 2 0 2 2-3 4-2 0-3 3-2-1-2 4-3-1 2-1-2-3 3-4-2-1-1 1 1 3-1 1-2-1 0-5 2-3-1-2zM734 5l1-1 1 1-1 1zM728 8l0 3-2 2-6-4-3 2-1 2 1 2-1 1-4-2 1-3-1-2 2-1 2-3 6-1 1 2zM706 5l-1 1 1 0zM1028 4l2-1 1 2-2 1zM252 4l1 0zM831 3l2-2 3 2 1-2 1 1 0 3-4 2-3-2zM795 2l2-1 1 2-1 1zM763 1l1-1 1 2-1 1zM669 1l1-1 1 1-1 1zM666 1l1-1 1 2-1 1zM741 0h0zM698 0l0 1 8 0-2-1zM253 2l3-2-3 0zM0 0l0 203 338 0 1-1 1 1 1-1 3 0 0-1 2-1-2 1-2-1-2 2-3-2 1-3 4 1 3-2 0-1-4-3 0-4-1 0 1 2-2 2 1 2-2 1-1-2-3 0-2-2 0-3 1-1 1 1 0-5 1-2-6 1-2-4-3-2 3-7 0-2-3-2 0-2 2-2-3-2 0 2-2 2-2-1-2 1-1-1 1-1-1 3-3 2-2-3 0-4 1-1-2 1-4-2-4-4 2-3 3 1 0-2-1 0-3-4 2-3 1 1 1-1-4 0-1 1-2-2 1-3 3-1 2-3-1-1 0-3 1-1-4-2 1-1-2 1-2-2 3-5 3-2-1-1 3-2-2 1-4-1-1-1 1-3-1 0 0 3 1 1-1 1-3-1-1 1-1-1-2 2-1-1 1-3-1 0 0 2-2 2-4-2 1-1 0-4-3-3-1 2-3-2 0-2-3 0-1-1 1-2-5-5 0-3 2-2 3 3 3 0 0-1 2-1 3 2 0 2-5 2 6-1 4 2-1-1 1-1 3 1 0-2-2-1 1-2 8-3 7 6 1-1-2-1 0-2 2-3 6 3 4 0 1-1 2 2 0 2 3 2 4 0 2-2 5 1 1 1-1 3 3 0 1-1 3 1 2-1 1 1 0-2 2-1 4 2 1 2 0-2 3-2 2-3 5 0 1 1 1-2 3 0 4 5 7 6 1 3 3 1 2-1 4 4 0 2 2 1 1 2 2 0 1-2 2-1 2 1 3 4 1 0-1-2 3-2 6 4-1 1 0 3 3 1-2 1 5 4 3 1 2 6-2 2 0 3-1 1 1 6-5 4-1 11-2 1 1 6-1 1-1-1 0 2 2 1-2 5 2 4 0 3-1 1 1 5-1 1 0 9-1 2 236 0-3-2 1-2-1-4-4 2-1-1 0-3-1-1-4 0-3-4 0-4 2-2-1-1-1 1-3-3 0-3 1-1 3 0 0-1-5 0-1-1 1-2-1-2 1-1 3 1 3-3-3 0-3 2-2 0-2-2 2-1 1-2 1 2 5-3 0-4-2-2-7-2 5-3 1-2 2 0 2-3 6-3-1-3-1 1-3-1 0-1 3-2 0-2-3-2 2-2 6-2 1 1-2 3 2 1 2-2-1-1 1-2 8 1-2-4-1 1-1-1-1-5 2-2 0-3 4-5 8 0 1 3 3 1 1-2 5 1 2-2 1 3 1 0 1-2 2 0 1 3 5 3 3 0 2-1 1-2 1 3 3 0 1 1 0 2-3 1 0 1 1-1 1 1 0 3 6-1 2 2-1 5-3 1 2 0 2 3-1 6 1 1 2-1 1-2 4 4-1 2 1 3 2 1-2 6-2 2-4 1 0 2-6 7 0 2-3 2-1 3 1 5-1 1 0 6-1 1 0 9 1 1 0 3-1 1 548 0 0-203-185 0 0 3-1 1-5 0-5 3-3 0-1-1 1-1-2-3-1 1-2-1-1-2-45 0 1 1-1 3-3-2 1-2-132 0 1 2-1 1-3-2 1 1-3 1-1-3-17 0-3 5-3-2 2-3-19 0-4 2-1-2-23 0-1 1-1-1-22 0 0 1 2 1-1 3-3 0-1-1 1-4-1 0 1 2-3 1 0 3 2 0 3 2 1 5-2 3-1 0-2-3 1-2-7-5 1-2-1-2-1 2-3 0-1-1 1-1-5 3-4-1-2 4-1-1-3 1-4-2 2-1-1-2 1-3 2 1 0 2 4-3 1 1 3 0 1-1 1 1 0-1-8 0-1 1-1-1-18 0-2 1 0 1 2-2 1 1 3-1 3 2-1 2-6-1 4 3-2 2-4 1-4 6 1-1 3 0 2 2-1 1 0 5 2 2-4 2-4 0-3-3 0-3-1-1 1-3-5 2-2-1-1 1 1 3 2 0 3 3-2 4 3 2-1 2-7-3 0-5 2-1-2 1-2-2 1-1-1 0-1 2-3-5 0-3 3-2 0-2-2-1 3-3 4 1 5-3 1 1 3-1-2-1-1 2-2-2-6 2-1-1 1-2-2-1 2-2-2 0 1 1-2 2-3-2 1-1-3 0-2 2-1-1-2 3-1-1 0-3-417 0-1 2 6 7 0 2 1-1-1-1 0-6 1-1 4 2 1 6-4 3-3 0-1-1 0 3 2 0 1 2-5 3-2-2-3 0-1-1 0-3 1-1-1 1-2-1 1 1-3 2 3 4-2 2 0 2 2-2 1 2 2 1 0 3-1 1-3 0-1-1-3 2 4 5 0 2-2 2-2-3-4 0-1 1 2 2-1 2-2 0-3-4 0 1-3 2-3-2 2-3-1 0-2 2-3-1 2 3-6 4-2-2 2-1-11-4 0 3-2 1-1 2-2 0 0 1-3 2-1-1-1 1-2-1-2 2-3-1-3-4-3-1-1 1 1 2-4 2-1-1 0-3-9-6 2-2-1-2 1-1-1 1-7-2 2-1-1-2 4-6-1 1-3-1-4 2-2-3 3-3-2-3 0-2-3-3 2-4 0-2-2-2z"/>
<path fill="#67c07c" stroke="#67c07c" fill-rule="evenodd" d="M319 196l1-1 1 1-1 1zM330 190h0zM329 186h0zM604 185h0zM1057 184l1-1 1 1-1 1zM598 184l2-1 1 3-1 1zM1051 184l3-2 3 2-1 1-4 0zM607 182h0zM1037 180l1-1 1 1-1 1zM1062 178l0 1zM311 178l1-1 1 1-1 1zM308 177l1-1 2 1-1 1zM305 177l1-1 1 1-1 1zM1019 175l2 2-2 3-1-1 0-3zM1068 175l-1 1 1 0zM1061 175h0zM1048 174l1-1 1 1-1 1zM602 171h0zM1030 172l0-2 2-1 1 2-2 2zM1046 169l1-1 1 1-1 1zM1056 166l-1 2 1 0zM1045 166l1-1 1 1-1 1zM1020 164h0zM1077 162h0zM300 162l1-2 2 1-2 2zM1031 160h0zM1053 159l0 1zM1036 159l1 3 0-3zM284 159l1-1 1 1-1 1zM1067 157h0zM610 156l-4-1-2 3 0 2 4-1zM288 154l3 0 1 1-2 2 1 1-1 1-4-2zM280 154l1-1 1 1-1 1zM1081 153l0 1 1 0 0-1zM1056 153h0zM605 152l4 1-1-1zM1035 149l1-1 2 1-1 1zM610 149l-1 1 1 0zM1042 147l3 0 1 1-2 6-3-4zM1027 148l1-1 1 2-1 1zM1046 146l1-1 2 1-1 1zM1047 142l3-1 1 2-2 1zM1062 140l1-1 2 3-1 1zM707 139l0 1zM1058 137l2 0 2 2-1 2 1 3-2 4-4-5 2-3-1-2zM269 138l2-1 1 2-2 1zM605 135l2 3-4 3-1 3-3-4 3-5zM614 133l1 2 0-2zM705 131h0zM703 131l-1 2 1 3zM428 131l1-1 1 2-1 1zM279 133l3 3 2-1-1-1 1-3 2 3 2-1 3 1 0-2-5 1-1-2zM264 131l1-1 1 1-1 1zM625 131l-1-1-1 1zM617 130l0 1zM272 129l1-1 1 1-1 1zM279 127l1 0zM597 125l1-1 1 1-1 1zM289 127l-1-2-3 1-1 2zM1105 123l1-1 1 2-1 1zM629 123h0zM257 123l2-1 2 2-3 1zM1090 122h0zM259 122l1-1 2 1-1 1zM605 121l0 3zM299 121h0zM282 121l-2 0 1 3zM1115 125l-2 1-1 4-6 4 2 2 0 4-1 1 3 2 0 2-2 2-5 1 2 1-2 1 1 3-5 2-3-1 1 1-3 3-4-3 0-2-4 10-3-1-1-2-2 0-1 3 1 1-2 1-1 2-3 0 1 2 1-1 1 1 0 4-2 2 2 3-2 3-4 1 1 2-1 1-6-2-4 3-2-5-1 1-8-6 1-3 2 3 1-1 1 1 3 0-1-5-2 1-3-2 1-3-3-2-2 2-4-4-1 3-2-3 1-1-2 0-2 4-1-1-2 1-2 3-3-3 1 2-2 3-4-3-1 1 2 2 0 2-2 2-3-3 0-4 1-1-4-2 0-4 1-1 1 1 2-2 3 2 1 4 2 0-1-3 2-1 0-3 2-2 2 0-2-2 1-3 2 0 3 3-1 1 1 2 3-2 3 1 2 3 1-1 2 1 2 4 1-3-3-1 0-2-2-3 1-1 3 0 0-3 2-3 3 0 3 2 4-2-1-1 2-2 5-1-1-3 1-2-1-7 2-2 2 2 0 4 3 0 1-2 1 1 1-2-2-2 0-4 5-3 2 0 0-3 1-1 3 1 0 2-2 1 0 1 4-2 1-2 3 1 2-2 2 0 3 2 3-2 3 0 1 1-1 5 3 3 3-4 3 0zM708 118l1-1 1 2-1 1zM277 117l-1 0-2 3 4-1zM599 116l1-1 1 1-1 1zM639 114h0zM627 114l-2 3 0 2 2 1 1-1 0-4zM419 113l2 2 0 3-1 1-4-3zM261 114h0zM705 113l1-1 1 1-1 1zM698 113l1 1 0-1zM689 111l0 1 1 0zM640 111l0 1 2 1 0-2-1 1zM709 110l1-1 1 1-1 1zM674 109h0zM438 106l1-1 1 1-1 1zM216 105l1-1 2 1-1 1zM717 103l1 2-3 2-1-2zM646 104l1-1 1 1-1 1zM437 104l1-1 1 1-1 1zM383 104h0zM648 103l1-1 2 2-2 1zM656 102l1-1 2 3-1 1zM258 102h0zM234 102l1-1 1 1 4-1 3 3-2 2-1-1-2 1-2-1zM176 102l2-1 1 3-2 1zM688 101l0 1 2 0 0-1zM218 101l1-1 1 1-1 1zM178 101l1-1 1 1-1 1zM158 101l1-1 1 1-1 1zM661 100l1-1 2 1-1 1zM75 100l1-1 1 1-1 1zM695 98l1-1 3 0 1 2-2 2-1-2zM80 98l1-1 1 1-1 1zM389 97l3-1 2 3-2 1zM3 97l1-1 1 1-1 1zM13 97l1-2 2 1-2 2zM210 95l1 0zM120 94l3 2-1 3-2 0-2-2zM325 95l3-1-3 0zM33 93l3 1-2 3-3-2zM351 93h0zM224 93h0zM440 92l2-1 2 3-3 1zM271 92h0zM98 94l2-3 2 3-1 1zM998 91l1-1 1 1-1 1zM59 91l1-1 1 2-1 1zM56 94l-1 2-5 0-3 2-3 0-1-1 2-3 3 0 1-2 3-2 1 2zM999 90l1-1 2 1-1 1zM441 90l1-1 1 1-1 1zM341 90l1-1 1 1-1 1zM317 90h0zM87 90l2-1 1 2-2 1zM78 93l3-4 4 0 3 4 2 0 2-2 3 0 2 2-1 3 4 2-2 3-2 0-3 2-1-1 2-2-1-3-1 2-1-1-7 2-2-3-2 0-2-2zM20 90l2-1 1 2-2 1zM1001 89l1-1 1 1-1 1zM342 89l1-1 1 1-1 1zM183 89l-2 0 0 3 2-1zM106 89l1-1 2 1 1 3-3 1-1-1zM702 87l1 3-2 1 1 2-2 2-1-2-3 0-1-1 1-2 1 1zM105 88l1-1 1 1-1 1zM1083 87l1-1 1 1-1 1zM382 87l1-1 1 2-1 1zM368 87h0zM88 87l1-1 1 2-1 1zM47 87l1-1 1 1-1 1zM21 87l1-1 1 1-1 1zM1082 86l1-1 1 1-1 1zM708 86l1-1 1 1-1 1zM306 85l1-1 1 1-1 1zM101 86l2-2 2 2-1 1zM1083 84l1-1 1 1-1 1zM154 84l1-1 1 1-1 1zM93 83l1 1-1 2-2 1-1-2zM78 83l3 5-1 2-2-1-1-3zM304 83l2-1 1 2-2 1zM249 83l1-1 1 1-1 1zM232 83l1-1 1 1-1 1zM208 83h0zM203 83h0zM93 83l1-1 1 1-1 1zM83 82l3 1 1 3-1 2-5-3zM1077 82l-3 3-3 0-1-1 5-3zM216 81l1 1-2 3-1-3zM160 82l3-1 2 3-3 2zM118 82l1-1 2 1-1 1zM1134 81l2-1 2 2 0 2-2 1-2-2zM1064 81l1-1 1 2-1 1zM180 81l2 1zM148 80l1-1 1 2-1 1zM133 80l1-1 1 2-1 1zM111 90l1-1 2 1 1-1 5 1 3-3 0-2 3-2 2 0 3-4 2 4-1 2 3 2 3-1 1 1 1-1-1-1 0-3 1-1 5 0 2 6-2 2 2 0 3 3-1-5 2-2 2 0 4 4 0 3 4-6 2 1 4-3 2 0 2 2 0 5 1 2 3 2-1 3 2 1 0 2-2 2-1-3-2 1-2-2 2-2 1 1 0-1-4 0-1-1-1 4-2 2-1-1-2 1-1-2 3-4-3-1-2 2-1-3-2 3 2 0 2 3-3 2-4-3-1-4-2 0-9 4-2-3-2 2-5 0-1-1 0-3-3 1-4-3-1 1-1-1-3 0-3 2zM1131 78l2 2-1 2-3-2zM132 79l1-1 1 1-1 1zM1082 78l1-1 1 1-1 1zM754 77l3 0 1 1 0 3-2 2-1-2-3-2zM167 76l5 4 0 2-2 2-2-3-2 0-2-2zM1124 76l1-1 1 2-1 1zM1125 75l1-1 1 1-1 1zM172 75l1-1 2 1-1 1zM170 75l1-1 1 1-1 1zM1011 72l1-1 1 2-1 1zM788 71l1-1 1 1-1 1zM183 70l2 3-2 2-2-2zM746 68h0zM775 67l-1 0 0 1zM968 66l1-1 1 1-1 1zM765 66h0zM758 66l3 0 0-1zM750 65l0 1zM792 64l0 1 1 0 0-1zM191 65l1-2 2 1-2 2zM154 63l1-1 2 2-2 1zM761 62h0zM719 61l1 0zM752 59l-1 1 2 2 1-2zM704 59l1-1 1 1-1 1zM826 58l0 2zM737 59l-1-1-3 2 1 1 1-2zM747 56h0zM824 55h0zM176 55l2-1 1 2-1 1zM526 54h0zM516 54l1-1 4 4-3 2-2-3zM982 52l1 2-2 1-1-1zM979 53l1-1 1 1-1 1zM298 53l1-1 1 1-1 1zM759 52l-2 1 1 1-1 3 2-1zM187 51l2 3-2 2-1-1 0-3zM898 51l2-1 3 2-1 1-3 0zM880 51l1-1 1 2-1 1zM877 51l1-1 1 1-1 1zM743 51h0zM902 50l1-1 1 2-1 1zM875 51l-1 2-3 0-2 1-1-2-3 3 1 1-1 1-5 0-1-1 1-2 4-2 2-3 1 1 2-1 1 2 3-1zM730 50l-2 2-3-1 0 3 3 2 2-3-1-2zM222 50l1-1 1 1-1 1zM219 50l1-1 1 1-1 1zM964 49l2-1 1 2-2 1zM762 49l2 1 0 4 2 0 0-3zM591 49l-2 0 1 1-1 1 1 0zM287 49l2-1 2 3-3 1zM249 49l1-1 1 1-1 1zM857 48l1-1 1 1-1 1zM851 48h0zM859 51l0-2 2-3 5 2-3 4-3 0zM155 47l1-1 3 1-2 2zM882 45l4 5-2 3-4-5zM296 46l1-1 2 1-1 1zM278 46l1-1 1 1-1 1zM243 45h0zM177 45l-4 2-1 3 1 1 2-3 3-1zM604 44h0zM151 44l1-1 1 1-1 1zM955 44l1-2 3 1-2 2zM884 43l1-1 1 1-1 1zM741 43h0zM706 43l-1 1 2 1zM698 43h0zM609 43l1-1 1 1-1 1zM509 43l1-1 1 1-1 1zM278 43h0zM152 43l1-1 2 1-1 1zM733 42h0zM682 42l1-1 1 1-1 1zM621 41l1-1 1 1-1 1zM973 39l2 3-4 2-1-3zM771 41l2-1-2 0zM736 40l1 0zM174 40l-2 2 1 0 1 2 2-3zM165 40l1-1 2 1-1 1zM960 38l3 2-2 4-2-3zM283 40l-1-1-1 1zM936 38l2-2 1 1 3 0 2 3-1 1-3 0zM923 36l1-1 1 1-1 1zM599 37l2-1-2 0zM876 35h0zM586 35h0zM279 35l-1 1zM953 33l2 2 0 2-2 2-1-1 1 1-1 1 1 3-1 3-2 1-2-3 1-2-1-2 3-6zM1018 33l1-1 1 1-1 1zM900 33l1-1 1 1-1 1zM604 33l0 1 2 1 1-1zM596 33l1 1 0 3 0-3zM901 32l1-1 2 1-1 1zM886 32l1-1 1 1-1 1zM598 32h0zM593 32l0 1zM776 31h0zM271 31l-3 1 2 1zM167 31l0 1zM997 30l1-1 2 2-2 1zM864 30l0 1 1 0 0-1zM998 29l1-1 1 1-1 1zM944 28l2 3-1 1-3-2zM609 29l1-1 1 1-1 1zM919 28l1-1 1 1-1 1zM749 28l-1 0 0 1zM922 27l1-1 1 1-1 1zM918 27l1-1 1 1-1 1zM881 27l1-1 7 1 1 2-4 3-4-3zM784 27l0 1zM737 27l-2 1-1 2 1 1 3-1zM672 27l1 2 2-1 0-1zM273 27l0 1zM977 29l-1 2-4 0-4 2-2-4 1-1 3 0 2-3zM948 26l1-1 1 1-1 1zM946 26l1-1 1 1-1 1zM925 26l1-1 1 1-1 1zM923 26l1-1 1 1-1 1zM920 26l1-1 1 1-1 1zM900 24l3 3-2 2-3-2zM875 25l-1 1 1 0zM846 26l-3-1-1 1 1 1-2 1zM825 25h0zM785 25h0zM1008 24l0 4 2 0 0-2zM995 24h0zM861 26l-1-1-1 1-1-2 0 4-2 1 2 0zM612 24l1-1 1 1-1 1zM552 24l1-1 1 1-1 1zM948 23l1-1 2 1-1 1zM877 23l1 0zM1035 22l1-1 1 1-1 1zM954 22l3-1 2 3 2 1-3 3zM580 22l2 1zM281 22l0 1zM278 22l0 1 1 0 0-1zM905 20l4 2-2 4-1 0-2-3zM852 21l-1 0-2 4 1 2 2 0 0-1-2-1 0-1 2-1zM966 20l1-1 1 2-1 1zM890 20h0zM667 20l0 1zM767 19l-1 0-1 3 1 0zM878 18l0 1zM854 18h0zM826 18h0zM633 17l1 1 4 0 2 2-1 1 0 4-3 4 2-1 2 2-2 3-2-2-2 1-1-1 0-2-2-2 0-3-2-2zM966 16l1-1 1 1-1 1zM839 16l-1 3 1 1 1-2zM649 16l2-1 2 4-2 1zM916 15l1-1 2 2-2 1zM883 18l2-1 3 0 1 1 2-3-3 1-2-1-3 2zM645 15l1-1 1 1-1 1zM627 14l1 3-3 2-1-2 1-2zM971 13l1-1 1 1-1 1zM969 13l1-1 2 2-2 1zM962 12l2 2 1 8-4 2-1-1 0-3 1-1-1-6zM959 12l1 3-2 3-2-2zM908 13l2-1 1 3-1 1zM769 13l1 2zM872 12h0zM647 12l2-1 1 2-2 1zM979 11l1-1 1 2-1 1zM917 11l1-1 1 1-1 1zM844 11l0 2 2 3 3 1-1 2 1 1 2-4-2-2-4-1zM836 11l0 2zM759 11h0zM622 42l-2 2-6-2-1-2-2 1-1-2-2 0 1 3-2 2 1 2-2 2-3 0-2 4-3 0-1-3-1 1-3 0-1 3 1 1-2 2-1-1-4 3-4 1-3-1-2-3-1 3-4-1 3 2-2 2-5-2 0 2-2 2-4-2-3 0 0 1-4 3-8-1-5-2-2 1-1-1-5 0-3-3 0-3-2 2-4 0-1-1 1-1-3-1 1-4-2 2-4 0-7-6 0-3 1-1 6 1 2-7 4 0 4 4 2-1 2 1-4-3 1-2-3-3 5-4 3 2 4 0-1-2 1-2 3 2 4-2 0-1 5-4 2 1-1 3 1 1 3 0-1-2 3-2-1-1 1-2 7-2 3-2 5 4 1-3 2 1 2-2 1 1 2-1 2 2 1-2 2 0-2-3 1-3 5 3-2 3 1 1 2-1 3 5-1-1 1-1 4 1 2-3 3 2 1 2-3 2-5-1 1 1-1 2 3 3 4-2 1 3 2 0 1-1-1-3 2-4 3 4-2 3 3 2 0 3 1 1-1 3 2 0-1-1 1-3 4-1zM964 10l1-1 1 1-1 1zM953 10l1-1 1 1-1 1zM989 9l-1 1 1 2 1 0 2-2zM886 9l-1 1 1 1zM835 9h0zM963 8l1-1 2 1-1 1zM661 8h0zM628 8l1-1 1 1-1 1zM844 6l1 0zM770 6l-1 2zM664 6l1 2 3-1-1-1zM154 6l1-1 1 1-1 1zM150 6l1-1 1 1-1 1zM953 5l2-1 1 2-2 1zM909 4l1 1-1 3-1-1zM898 5l-3 1-1 6 2 0 1-3 2-1zM763 5h0zM883 4l1 0zM1007 3l0 1 2 0zM1002 3l-1 1 1 0zM151 3l1-1 1 1-1 1zM1025 2l0 1 1 0 0-1zM1013 2l1-1 1 1-1 1zM946 3l2-2 2 2-1 1zM875 2l1 0zM778 2l-2 1 2 2 1-2zM161 2l1 0zM1028 1h0zM957 1l1-1 1 1-1 1zM906 1l1-1 2 1 1 2-3 1zM868 1l-1 3 2 0 1 3 0-3zM1010 0l2 2 0 3 1-1 5 6 3-2 2 0 0-2-3-5-5 1-1-2zM1004 0h0zM978 0l0 5 1 0 1-3zM961 0l1 0zM886 0l1 7 2 2-1 2 2 1 1-1-1-1 0-4-3-2 2-2 1 1 0-3zM878 0l1 4 2-3zM274 0l0 1 3 2 0-2zM0 0l0 203 318 0-1-1 2-1 1 2 6 0 1-1 3 1-1-6-1-1-1 2-2 0-3-3 1-2 4 0-5-7 1-1-1-1 1-3-1 0-2-3 0 8-2 2-2-3 1-4-2-3-3-1 1-1 5 1-1-1 2-3-3-1-2-3-3 0-2-4-1 1 1 1 0 3-1 1-3 0-1-1 0-2 2-1-2-4 1-1 0-3-2-1-3 1-3-1-6-5-1-5-3 0-2-2-4-1-1-2-3 0-4-2 1-2 4-2 2 3 1-2-5-2-1-2 2-1-1-1 2-2-2-2-2 0-2-2-2 0-3 2-1-1 0-2 3-4-1-2-2-1 3-2 0-3-3 0 1 2-4 3 1 2-3 1-1-2-1 0-1-2-2 0-2-3 2-2 2 0 0-2-1-1-3 0-2-3-2 0-2-3-1 1-2-1-1-2 0 1-2 1-2-2-3 0-1-1-3 2-4 0-2-4-3 1-3-4-5 1-1 1 1 2-1 2-3 0-1 1-2-1-1 3-1-2-3-1-3 4-1-1 0-3-7 2-1-1 1-1-6-5 0-2-2 0 2 2-1 1 4 1 1 2-5 2-3 0-1-1-1 1-1-2-2-1 1-1-3-2 0-3-4-3 1-1-2-6 3-2 2 0-2-3 2-2 4 0 1-1 1 3 4 4-1 1 1 1 0-3 2-2-3-2 0-3 1-1 6 0 1-1 1 2-2 1 4 0 2 2-2 2-2-2 0 3 2-1 6 1-1-1 1-1 5 1 1 2 4 3 0 7 5-7 1 0 3 4 3-2 3 1 3 3 4-1-2-4 4-3 3 2 1 2-1 2 2 0 0-1 2-1 1 1-1 3 1 0 4-4 3 2 2 0 2-2 2 1 2-3 3-2 1 1-1 4 2 1 3-1 1 1 2-2 2 0 3 4 3 1-1 1 1 1-1-3 2-1 1-2 5 0 1-1 1 1 4-3 3 0 1 1-2 3 1 1 1-1 3 2 1-2 7-3 3 4 3-2 8 0 1 1 0 3 3 1-2-3 1-1 3 0 1-2 7 5 3 0 5 3 1-3 5-5 8 2 3-3-1-2 1-1 2 0 2 4 11-4 2 6 6 2 1-1 1 1-1 3 3 2 1 7 2 0 2 2 6-1 3 2 0 2 1 0 1-2 5 1 1 1 0 6 6-2 2-3 2 4-3 3 1 1 0 3 3 1-1 6 1 2 3 0 1 1 0 3-1 1 1 0 3 4 0 2-3 4 0 4-5 3 0 3-1 1 1 1-4 4 1 1 0 3-2 3 0 4 1 1-1 1 2 6-2 3 0 5-1 1 3 5 0 2-2 1 0 1 3 2 0 2-5 3 218 0 0-1 3-2-1-2-3 2-6-3-1-2-2 1-3-4 3-3 1 1 0-2-5-3 1-3-2-1 0 5 2 1-1 1 1 2-1 3-3-3 0-2-2-1-2 1-1-1-4 0-1 2-2-2 3-4-2-1 0-3 3-2 4 0 0-4-3-2 1 1-5 3-2-2-3 0-1-1 1-1 0-3 4-4 0-4 1-1-1-3-3 0-1-1 1-3-1-1 5-4 1 1 4-3 3 1 1-1-1 0-2-3 2-2 2 0 2 3-1-1 1-2-3-4 1-2-2-1-6 1-2-2-2 0-2 2-1-1 0-7 1-1 1 1 1-3 4-1 0-3 2-2 4-1 2 3 0 2 5-3-1-1 0-3 1-1 3 0 2-2 2 0-2-1 1-2-1-2 1-1 5 0 2-1 1 1 0 4 3 0 1-1-1-3 2-1 1 1-1 6 2 0 4-4 3 0 1-1 1 1 3 0 1-1 1 1 5 0 1-1 1 1 1-1 3 1 2-3 7 2 1-2 4-2 3 0 1-2 2 1 2-4 3 1 4-1 4 3 0 2-2 2 3 3-1 1 1 3 0-3 4-2 4 3 0 4-1 1-1-1-1 2 1 1 1-1 6 5-1 3 3 0 1 1-2 4 2 1-1 1-3 0 0 2 1 1 1-1 1 2-3 1 3 2-1 5 1 3 4 4-3 4 0 5-1 2-3 1-3 4-3 1 0 1-5 4-1 3 1 3-3 4 0 5-1 1 2 3-2 4 3 2 0 2-2 2 1 3 544 0 0-203-178 0-2 2 1 1-2 1-2 6-2-1-2 3-2-1 0 1-5 4-7 1-4 3 2 3-1 1 1 2-2 1-1 2-4 0-1-1 3-3-1-1-2 1 0 2-3 1-3 4-3-1-1 2-5-1-4 5-2 0-2-2 1-3-3-1-2-3-1 1-2-2-5 1-7-2-1-2 2-3-4-2-2 4-1-1 0-7 2-2 2 0 1-3-2-3-2 0-1 3-3 3-4 0-1-2 2-1-1-1-3 1-2-3-7 0-3-3 1-4-33 0-1 1-1-1-30 0-1 1 4 0 1-1 2 2 3 0 1 1-3 1 3 2 0 1-2 1 0 6-3 2-1-1-2 1-4 5 1 2-3 5-2-2 1-3-2 0-2-2-2 1 0 3-2 1-1 2-3 1-1-1 0 3-1 1-3-1-4 6 3-1 3-4 7-4 1 1-3 2 3 2-1 4 2-1-1-1 3-2 2 1-2 3 2 0 2-3 2 0 2 2-2 4 0 3-2 3-2-1-2-4-1 0-1 3-3-3-4 0-1 1-3 0-2 2-3 0-1 2-7-1-2 3 2 3-3 2 0 4-1 1-1-3-3 0-1 1 1 2-5 4-2-1 0-3 1-1-1 1-3-1-1 2-3 0-3 3-4-2-4 6-2-3-3 1-1-2-4 0-2 1-1 2-4 0 1 2-4 3-2-1 0-2-3 0-1-1 1-1-4-1 1 2-1 1 1 1-1 3-4 0-4-2-4 3-3-1-3-3-5 3-2 0-1-2-3 0 0 3-2 3-8-3-1 1 1 1-2 1-1-1 0-4 1-1-2-1 0 1-4 3 1 4-3 3-3-2 2-3-1 1-4 0 1 2-2 2-1-1-5 4-3-3-5 1-2 2-6-3-3-11-3-3 0-3-1-1 2-3-1-3-1 0-3 4-2-1-5 0-2-2 0-2 3-1 0-2-2 1-1-2-2-1-1-3-3-1-1-4-3 0-1-1-4 0-1 1-1-3-7 1-1-2-3-2 0-2 2-2-2 0-2-3-4 1-2-3 1-3-2 0-1 3-2-1 2 1-3 2-1-2-1 1-2-2 1-1-1-2 2-3 1 1 0 3 3-2-1-2-3-1-1-3 2-1 0-1-5 0-2-3-4 0-1-1 0-4 2-1 1 2 2-1 2 1 2 3 3-6 0-2-3-1-373 0-2 1 2 3-4 2 0 5-1 1 1 1-2 2-1 5 2-1 0-2 2-2 3 0 1 2 4 3-3 3 0 3 1 0-1-2 3-2 2 2-1 2 1 5 1-1 3 0 6 4 0 5-2 2-3-2-2-4-4-1-1 2 5 3-1 1-4 0 1 1 2-1 2 3-5 3-3-1-3 2-1-2-1 0-2 2-3 0-3-5 0-3-2 4-4-2-2 1 0 2-2 2-1-1 0 1-3 2-3-3 5-3-1-2-4-1-1 1 1 1-2 2-3 0-3 2 2 3 0 3-1 1-3-4-1 1-2-1-3 1-4-1-2 2-3-1-1-2-2-1 1-1-1 1-3 0-2 4-3-4 1 1-3 2-1 3-5-3 0 3-1 1-4-1-1 3-3 1-1 2-1-3-1 0-4-5-7 1-1-1 1-2-2-2-4 1-2 4-3 2-5 1-4-3 1-2 3-1-3-4 1-1 0-5-1 0-2-3-3 0-1-1 0-4 1-1-1-1-4 0-1-1 1-3 4-1 1-2 1 1 1-2-3-2 1 1-1 1-2-1-3 1 0 2-2 2-1-1 0-5-2-1 1-2 2 1 1-2-4-2-1-2 7-4 3 1 2-2-2 1-4-1-2-2 2-1 1-2z"/>
<path fill="#8ecf5e" stroke="#8ecf5e" fill-rule="evenodd" d="M593 203l2 0zM313 203l2 0zM306 203h0zM616 202l0 1zM304 201h0zM622 200h0zM322 200h0zM307 200l-1 0 0 1zM94 198l1-1 1 2-1 1zM1032 199l3-3 5 3-6 2zM987 196l2 1 0 3-1 1-2 0-2-2zM984 196l1-1 1 1-1 1zM304 197l2-1-2 0zM134 196l-2 3-3 0-1-1 2-2 3-1zM984 194l1-1 1 1-1 1zM20 193l1-1 1 1-1 1zM1045 192l1-1 1 1-1 1zM1070 191l1-1 2 1-1 1zM578 194l1-2 2 1 1-3 1 2 2 1-3 2-3 0zM306 191l-1 2 1 0zM1015 190l3-1 1 3-2 1zM293 188l2 3-1 2 1 1-2 2-1-2-2-1 0-2zM1006 188l1-1 1 2-1 1zM592 188l1-1 1 2-1 1zM290 188l1-1 1 1-1 1zM27 187l1 1-1 1 1 2-5 4-1-1 0-3zM294 187l1-1 1 1-1 1zM47 186l1-1 2 1-1 1zM312 185h0zM1007 184l1-1 1 1-1 1zM21 184l1-1 1 1-1 1zM1008 183l1-1 1 1-1 1zM951 181l1 3-2 1-1-2zM1049 181l2 0zM1031 180l3 3-1 2-2 0-2-2zM951 180l1-1 1 2-1 1zM577 179l1-1 2 1-1 1zM291 178l3 3 0 1-3 2 0 1 1-1 1 2-5 2-3-3 0-2 4-5zM282 179l1-1 1 1-1 1zM1008 176l2 2-1 3-2-1 0-3zM973 177l1-1 1 1-1 1zM954 177l1-1 1 1-1 1zM302 174h0zM296 173h0zM1015 172l-1 0 0 1zM1042 170l-2 1 0 4 1 0-1-3zM992 169l1-1 2 1 2-1 2 2 1-1 4 0 1 2-2 3-5 1-2-2 1-1-4-1zM979 168l1-1 1 1-1 1zM290 167l1 1-3 3-1-2zM1011 167h0zM588 164l1-1 1 2-1 1zM578 160l1-1 1 1-1 1zM994 159l1-1 1 2-1 1zM295 159h0zM995 158l1-1 1 1-1 1zM993 158l1-1 1 1-1 1zM591 154l-1 0 0 2zM721 152l1-3 3 2-2 2zM1024 147l0 1zM1017 144l2-1 1 3-1 1zM1044 143l0 1zM1040 142l0 2 1 0 0-2zM1116 137l1-1 1 1-1 1zM265 136l0 1zM577 134h0zM272 134h0zM247 130l1-1 1 1-1 1zM1050 133l4-5 1 2 5 0 1 1-5 3-1-1-3 1zM717 128l1-1 1 1-1 1zM426 128h0zM573 125l2 3-3 2-1-2zM775 125l1-1 1 1-1 1zM769 125l1-1 2 3-1 1zM571 125l1-1 1 1-1 1zM432 125l1-1 1 1-1 1zM249 125l1 0zM238 124l1 2 5 4-2 3-7-3 0-3 2-1zM776 124l1-1 3 1-1 1zM718 124l1-1 1 2-1 1zM236 124l1-1 1 1-1 1zM1071 123l1-1 1 1-1 1zM433 123l1-1 2 2-2 1zM573 122l1-1 3 1 1-1 1 2-2 2-3-1zM118 122l1-1 1 1-1 1zM235 121l1-1 1 1-1 1zM1126 120l1-1 1 2-1 1zM1121 123l0-3 3-1 1 2-3 3zM1012 119l1-1 2 2-2 1zM241 119l1 0zM832 117l4 3-2 2-2 0-2-3zM1007 117l1-1 2 1-1 1zM847 115l1 1-1 3-1-1zM776 116l1-1 3 1-2 2zM590 116l1 0zM923 115l1-1 1 1-1 1zM30 116l1-2 2 1-2 2zM1103 114l0 2 2 1-1-3zM898 114l1-1 1 1-1 1zM776 114l1-1 1 1-1 1zM715 114l-2 3 3 2-1-2 1-3zM578 114l1-1 1 1-1 1zM1167 113l1-1 1 1-1 1zM216 113l1-1 1 2-1 1zM29 113l1-1 1 1-1 1zM781 112l0 1zM442 112l1-1 1 1-1 1zM244 112l1 0zM35 111l1 1-2 3-1-3zM1034 111l1-1 1 1-1 1zM788 111l1-1 1 2-1 1zM1230 109l3 3-1 3-3 0-1-1zM923 110l2-1 2 4-2 1-2-2zM868 110l1-1 1 2-1 1zM866 109l2 2 0 2-1 1-2-1-1 1-1-2zM155 109l2 2-2 2-2-2zM102 110l1-1 1 2-1 1zM24 110l1-1 1 2-1 1zM1116 109l1-1 1 1-1 1zM1111 109l1-1 1 1-1 1zM930 109l1-1 2 1-1 1zM847 109l1-1 2 1-1 1zM808 110l1-2 2 1-2 2zM805 109l1-1 1 1-1 1zM782 108l3 7-1 1-2-1-2 1-1-1 0-5zM206 109l-3 1 0 3 3-2zM81 109l2-1 1 2-2 1zM1160 108l1-1 1 1-1 1zM1123 115l-1 2-2 0-1 3-1-1-3 2 4-1 1 1-1 1 1 3-1 2 2-2 1 2-2 6-2-1-3 1 2 6-1 6-2 2-2 0 1 1-4 5-1-2 1 3-3 3-1-1-5 0 1 4-5 3-2 0-1-1 1-1-1 1 1 2-3 2-2 0-2-2-2 2 0 3-3 2 0 4-1 1 1 3-3 4-3 1-5 4-2 0-1-2-4 0-4 3-1 2 1-1 2 1-2 3-1-1-2 1-3-3 0-2-3 2-3-3 1-2-5-2 2-2-1-1 0-4-2 0 1 3-2 5 3 4-4 2-1-3-4-2-4-6 1-3-9 8-3-2-3 2-2-1-1-2 0 2-3 2-1-1 2-2-1 0-2-3 2-1 0-2-2-2 1-1-3 2-1-1 4-5-1-1-2 1-3 0-1-1 0-2 3-2 0-2-2 1-1-1-5 0-1 1-1-1 1-3 5 0-1-1 1-3 2 1 0 2 1-1 2 3 1-1 0-2-5-3 3-1 5-7 3 0 1-2 1 2 2 1 2-3 3 0 2-3 4 2 1-1 2 1 4-1-3-6 1-1 2 0 1 2 2-1 2 1 6-1 2 2 5 0 2-3 3 0-1-3 4-3 3 0 1-2-1-1 2-4 3 0 1 1-1 2 1 0 3-4-2-1 4-3 4 1 3-4 3-1 3 2 0-3 4-3 2 0-1-1 2-2 2 4-4 2 1 1-1 2 2-1 3-6 4 0 2 2 0 2 3 2 2-3 3-1 2 2-2 1 0 2 4-5zM1002 108l2-1 1 2-2 1zM989 109l1-2 2 1-2 2zM831 109l3-2 3 2-1 1-4 0zM237 109l5 2-1-1 3-2-2 0-1 2-1 0-1-2-2 0zM870 108l1-2 3 0 1 1-2 2zM836 107l1-1 1 1-1 1zM796 107l2-1 1 2-2 1zM755 107l1-1 1 2-1 1zM1179 106l1-1 1 2-1 1zM1100 106l1-1 1 1-1 1zM934 106l1-1 2 1-1 1zM848 106l2-1 1 2-2 1zM830 106l1-1 1 1-1 1zM828 105l1 2-2 1-1-1zM824 106l1-1 1 1-1 1zM814 105l1 2-2 1-1-1zM230 106l-1 2 1 2 3 1-1-1 1-2zM90 105l1 2-2 2-1-2zM1167 104l1 2-2 1-1-1zM1121 105l2-1 2 3-3 1zM1109 104l3 2 0 2-3 1-1 2-3-2 0-2zM1099 105l1-1 1 1-1 1zM916 105l2-1 2 2-3 1zM804 104l2 4-2 2-4 1-1-1 2-3 0-2zM742 105l1-1 1 1-1 1zM427 105l-1 3-3 1 5 1zM35 105h0zM1223 104l1-1 1 1-1 1zM1064 104l1-1 1 1-1 1zM911 103l3 1 3 3 0 1-4 3-1 0-4-5zM894 103l4 3-3 2 1 3-3 2-3-6zM883 103l1 2 2 0 1 2-1 1 0 5-5 4-3-2 3-3 3-1 0-2-3-5zM880 103l1 1 0 5-4 2-2-4zM854 103l2 3 2 1 0 3-2 2-1-2-2-1 0-2-2-1 0-1zM834 104l3-1 1 2-2 1zM728 104l1-1 1 1-1 1zM591 104l1-1 2 1-1 1zM1195 103l-1 1 1 0zM933 103l2-1 1 2-2 1zM433 103l1 4 0-3zM994 103l1-2 2 1-2 2zM941 102l1-1 1 1-1 1zM832 102l1-1 1 1-1 1zM745 104l2-3 3 2 1 2-3 1zM642 102l-2 0 0 2 1 0zM445 102h0zM420 102l-1 1 1 1 1-1zM137 102l0 1 1 0zM1041 100l1 1-4 3-1-2zM942 101l2-1 3 5-2 1zM872 101l1-1 1 1-1 1zM850 100l3 1-2 3-3-2zM770 101l1-1 2 1-1 1zM722 100l1 2-2 1-1-1zM607 101l2-1 2 2-2 2zM1004 100l3-1 1 2 2 1-3 2zM934 99l1 2-3 4-2 0-1-2zM928 100l1-1 2 2-2 1zM894 100l2-1 1 2-2 1zM815 99l5 4 1-1 2 2 0 4-4 4-4-2 2-3 0-4-1 0-2-3zM792 100l1-1 3 0 1 3-2 2-2 0-1-1zM776 100l1-1 2 1 1-1 1 1 0 3-2 1zM43 100h0zM1084 98l1 1-1 1 1 2-2 1-1 2-1-1 0-5zM1079 99l1-1 1 1-1 1zM923 98l2 2-1 1 2 1 0 3-1 1-3-2 0-5zM441 99l0 1zM1124 99l1-2 2 1-2 2zM895 98l1-1 2 1-1 1zM854 100l1-3 3 0 1 1-1 2-3 1zM842 98l1-1 2 3-2 1zM823 97l2 3-1 3-1 0-3-4zM41 98l-5 1 0 2 4-1zM1227 97l2-1 1 3-2 1zM1132 96l2 1 0 3 1 1-2 3-1-1-1 1-2-2 0-3zM1030 97l1-1 1 2-1 1zM951 98l2-2 3 0 1 1-1 2-4 0zM934 98l2-2 2 1-1 2zM865 97l3-1 1 2-2 2zM610 97l1-1 1 1-1 1zM401 97l1-1 1 1-1 1zM1204 101l-2 1-1 2 1 1-1 3 2 2-2 2-2 0-3-4-6 5-1-1-1 1-3 0-1-1 0-3 1-1-2-2 0-3 2-2 7 1 3-3-1-3 1-1 2 0 3 3 2-1zM1125 96l1-1 1 1-1 1zM904 95l3 2 0 2-2 2-2-2 0-3zM875 96l1-1 1 1-1 1zM639 96l1-1 1 1-1 1zM403 98l1-3 2 2-2 2zM0 106l0 97 296 0 0-2 4-2-1-2-3 0-1-1 1-3-1-2 4-2 2 1-5-2 3-2 0-4 1-1 1 3 1-1 2 1-1-2-1 1-2-3-3 1-4-5 1-2-1 1-2-2 0-3-1-1 2-2 5 0-1-3-5-1-4 3-1-1-3 0-2-3 0-2-2 0-1-2-2 1-1-2-2-1 1-4-2 1-1-1-1-5-2-1-1 2-3-2-1-3 1-1 2 2 0-2-1 1-1-1 0-3-4 0-1-3-2-1 3-2 1-4-4 1-3 5-2-2 0-2-3-1-1-2-3-2 1-2 2-1 1-5-5 2 1 4-3 2-2 0-2-2 2-1 0-2-4-5 1-2-2 2-5 0-2 4-1-1-3 2-2-1 1-3 1 1 3-2-1-1-2 0-5 4-2-4 7-3-2-2 0-2-7 3-2-1-3 1 0 3-3 3-1-2-3 2-2-4-3 1-3-3-4 5-1-1-3 1-1-2 1-2 2-1-1-2-4 2-3 0-1-3-2-1 1 1-1 2-3 2-1-1-5 0-3-2 0-2-5-1-2 5-2-4-8 0-1-1 1-1 0-3-3 1 2 4 3 1-1 2-2 1-1-2-4-3-2 0-2 3-3 1-2-2 0-3-2-1 0-4-4 2 0 2-5 4-3 0-3-4 1 1-3 3-3 1-1-1-2 3-5-7-3 3-2 0-3 2-5-4-2 0-1 2-3-2-2 3-2-1-3 1-2-3-3 0 1 2-2 1-1-2-1 1-3-2-1 2 1 1-2 3-3-2-2 1-2-2-1-4-1 3-5 4-2-2 1-2-3-4-2 2 1 2-1 1-2 0-3 2-2-1 0 2-2 1-5-5-3 3-1-1-1-6-6-2 0-3 2-1-1-1-6 5 0 1 6 2-3 4-2 0-5-4 2-4-2 1 0 3-2 2-1 0-1-2zM1207 97l2-3 3 1-3 4zM1087 94l1 2-2 2-2-2zM1083 94l1 2-2 1-1-1zM1062 95l1-1 1 1-1 1zM914 95l1-1 1 2-1 1zM749 95l1-1 1 1-1 1zM1107 94h0zM898 94l2-1 1 2-2 1zM872 94l1-1 2 1-1 1zM774 94l2-1 1 1-1 1 1-1 2 2 2 0 1 2-1 1-1-1-5 0-1-1zM622 93l1 2-2 3-1-1 0-3zM609 93l2 2-3 2-1-2zM1181 93l1 0zM875 93l1-1 3 0 1 3-1 1-3-1zM833 94l-2 3-3 0-1 2-2-1 1-4 2-2zM609 93l1-1 1 1-1 1zM67 93l-1 0 0 2-2 1 1 1 2-1-1-1zM10 93l0 1zM1119 92l1-1 1 1-1 1zM1037 92h0zM953 92l1-1 1 1-1 1zM901 92l1-1 4 0 1 2-1 1-3 0zM890 92l1-1 1 1-1 1zM881 92l1-1 1 1-1 1zM866 93l2-2 2 2-1 1zM786 91l2 3 3 1-2 3-5-4zM1155 91l0 1-4 3-3 0-1-1 1-2 2 0 3-2zM1090 91h0zM1073 90l8 4-1 3-2 1-1 2-3 0-1 1-4-4 2-3 2 1-1-2zM1018 91l1-1 1 2-1 1zM978 90l2 1 0 3-2 3 3 0 1 1-3 4-3-3 0-2-2-1zM844 91l1-1 1 1-1 1zM794 90l1 1-1 2-2 1-1-1 1-2zM1102 90h0zM1092 90h0zM923 90l1-1 1 1-1 1zM872 90l1-1 1 2-1 1zM851 89l2 2-3 4-3-1-1-3zM655 90l1-1 3 1-2 2zM1039 89l-2 1zM923 92l-1 1-7 1-2 2-1-1-2 0-3 2-1-1 0-2 2-2 4 1 1-2 2 1 3-1-1-2 1-1 3 0zM652 90l1-2 3 1-3 2zM936 88h0zM921 88l2-1 1 2-1 1zM901 88l1-1 1 2-1 1zM883 87l1 2-3 1-1 2-1-3 2-2zM817 88l1-1 1 1-1 1zM1158 87l2 2 1 4 1 0-1-1 1-1-1-2zM1043 87l0 1 1 0 0-1zM640 87l1-1 1 1-1 1zM68 87l0 1 1 0 0-1zM59 87h0zM1229 86l1-1 1 1-1 1zM1183 86h0zM948 86h0zM440 86l-2 0 1 2zM1131 85l2 1zM1092 85l1 0zM1051 85l-1 5 4 1 0-2zM694 85l0 3 1-1zM642 85l1-1 3 2-3 1zM1179 84l1-1 1 1-1 1zM1112 84l0 2 3 1 0-2zM900 84l1-1 1 1-1 1zM354 84h0zM117 84h0zM74 84l-1 0 0 2-2 1 3-1zM1192 83l1-1 3 1-1 1zM1129 84l-1-1-2 3-1-1-1 1 4 0zM1105 83l1 2 2 0zM902 83l1-1 2 1-1 1zM899 83l1-1 1 1-1 1zM785 82l3 5 0 2-2 2-1 0-3-4 2-1 0-3zM255 83h0zM112 83l0 1 3 0zM107 83l1 3 1-2zM21 83l0 1 1-1 1 1 0-1zM1234 81l1 1-1 3-2 1-1-3zM1191 82l1-1 1 1-1 1zM1165 82l1 1 3 0-1-1zM974 82l-1 1 2 1zM898 82l1-1 1 1-1 1zM686 82l1-1 1 1-1 1zM638 83l2-2 2 1 1 2-1 1-3 0zM630 82l1-1 1 1-1 1zM464 81l2 2 0 2-2 2-4-2 3-2zM428 81l1 1-1 3-1-1zM352 82l0 1zM1234 81l1-1 1 1-1 1zM936 81h0zM915 81l1-1 1 1-1 1zM900 81l2-1 1 2-2 1zM819 81l1-1 1 1-1 1zM702 81l0 1zM638 81l1-1 1 1-1 1zM454 81l0 1zM430 81l1-1 1 1-1 1zM229 81h0zM61 81l1-1 1 1-1 1zM6 80l3 1 0 3-1 1-1-2-3-1zM1181 80l1-1 3 1-1 1zM1117 80h0zM1104 80l-1 0-1 2 1 0zM1060 80l-1 2 2 1 0 3 2-2-3-2zM865 80l2-1 2 3-2 1zM653 80l2-1 1 2-2 1zM641 81l1-2 2 1-2 2zM629 80l1-1 1 1-1 1zM428 80l1-1 1 2-1 1zM238 80l0 1 1 0 0-1zM80 80l-1 0 0 1zM40 80l-1 0-3 4 2 0 3-2zM1214 79l3-1 3 5-2 2-2 0zM1198 78l1 3-2 2-2-3zM1149 79l1 2zM919 78l2 4-1 2-1 0-2-3zM784 79h0zM644 79l2-1 1 2-2 1zM381 79l2-1 1 3-1 1zM257 79l-2 0 0 2 0-1zM124 79l-1 1 1 0zM91 79l-1 1zM83 79l1 0zM71 78l1 2-2 1-1-1zM28 79l2 5 2 1 1-1-2-2 0-2zM1075 78h0zM1033 78l1-1 2 2-2 1zM955 78h0zM248 78l0 2zM1183 77l2-1 1 2-1 1zM1119 77l-1 0 0 1zM1113 77h0zM1111 77h0zM1094 77l-1 2 7 5 0-3 1-1-1-3-2 1zM1030 77l-1 1 1 0zM1022 77h0zM977 77h0zM916 77l1-1 1 1-1 1zM645 77l1-1 1 1-1 1zM262 77l-1 0 0 1zM13 76l1 2-2 2-1-2zM1132 76h0zM1108 76h0zM1075 76l1 0zM1070 76h0zM979 76l0 1 1 0 0-1zM975 76l-3 4 3-1zM819 75l1 1-3 4-2-3 2-2zM703 76l1-1 2 1-1 1zM688 76l1-1 1 1-1 1zM272 76l1-1 1 2-1 1zM96 76h0zM70 77l2-2 3 0 1 2 2 1-3 2zM47 76l1-1 1 1-1 1zM1219 75l1-1 1 1-1 1zM1171 75l1-1 1 2-1 1zM1121 75l0 1zM1008 75l2 3 1-1zM917 75l1-1 1 1-1 1zM635 76l1-2 2 1-2 2zM1220 74l1-1 2 1-1 1zM1062 74l1-1 1 1-1 1zM985 74l2 1 0 2 1-2zM918 74l1-1 1 1-1 1zM699 74l1-1 1 1-1 1zM669 74l1-1 1 1-1 1zM639 73l1 0 2 3 0 3-1 1-3-4zM449 74l1-1 2 1-1 1zM358 74l1-1 2 1-1 1zM214 74h0zM105 74l-1 1 1 0zM1171 72l1 1-3 2-1-1zM1116 73l1 1 0-1zM714 73h0zM163 73l1 1 0-1zM66 72l1 3-2 1-1-2zM1119 72l1 0zM1020 72l-1 1 1 2zM891 72l1-1 1 1-1 1zM1164 70l1 2-2 1-1-1zM938 71h0zM228 71l1-1 1 1-1 1zM202 72l2-1-2 0zM1126 70l1 0zM1110 70l0 1zM1001 70l1-1 1 2-1 1zM890 70l1-1 1 2-1 1zM213 70l1 2zM132 70l1-1 1 2-1 1zM1123 69l-1 1 1 2 1-1zM1083 69l0 2 2 1 1-3zM943 69l1 0zM939 69h0zM658 69l1-1 1 1-1 1zM655 68l4 3-3 5-4-2 0-2 3-1-1-1zM342 68l2 3-3 3-2-2 0-2zM270 69l1-1 1 1-1 1zM162 69l0 1zM139 69l1-1 1 1-1 1zM75 69l1-1 1 1-1 1zM985 68l2-1 1 2-1 1zM951 68l1-1 1 2-1 1zM894 67l2 3-3 2-1-1zM268 68l1-1 2 1-1 1zM130 67l1 1-3 2 1 1-2 2-3 1-2-2 1-3zM69 68l1-1 4 1 2 4-3 1zM974 67l-2 0 0 2 1 0zM148 67l1-1 1 1-1 1zM48 67l1-1 1 2-1 1zM23 68l2-2 2 1 1 2-3 1zM1152 66l1-1 1 1-1 1zM1060 67l1-2 3 0 1 1-3 2zM1051 66l1-1 1 2-1 1zM915 66l1-1 2 1-1 1zM217 66l1-1 1 1-1 1zM187 66l-1 0 0 2zM1171 64l1 3-2 2-1-3zM921 65l-1 1zM910 64l2 3-2 2-2-2zM701 65l0 1zM691 65l1-1 1 1-1 1zM647 65l1-1 3 0 2 2-3 1zM176 65l1 1 0-1zM105 67l2-3 3 0 2 2-2 2-4 0zM89 66l1-2 2 1-2 2zM1036 63l3 2-1 3-4-2zM653 64l1-1 2 1-1 1zM320 64l1-1 1 1-1 1zM265 66l1-3 3 2-2 2zM199 64l0 4 2 1-2-3 1-2zM76 67l2-3 2-1 5 7-3 1-5-2zM1175 63l2-1 1 2-1 1zM1106 63l-2 0-2 4-1-2 2 6 1-1-1-3zM885 63l1-1 1 1-1 1zM868 63h0zM188 63l0 1zM141 62l2 2-1 3 1-1 1 1-1 2-2 0-3-3 0-2zM1037 63l1-2 2 1-2 2zM999 61l2 2 0 3-3 2-1-1 1-2-2-2zM886 62l1-1 1 1-1 1zM163 62l0 5 1 0 3-4zM1031 93l0-4 2-2 1 1-1-1 2-3-1-1 3-3-1-1 2-1 1 2 5-2 2 1-1-5-1 1-1-1-3 1-6-3 0-2 3-3 1 3 6-1 1 3 3 0 1-1 2 1-1 2 2 4-4 3 3 2 2-3-1-2 2-4 6 3 3-2 5 0 1-1 3 1-1-2-3-1 1-1 7-1 2 3-2-4 2-1 3-4 1 0 1 3 5-2 2-3 3 2 0 3 1 0 2-3 2 3 1 0-3-3 2-3 3-1 2 1 3-1 4 3 1 2 1 0-1-1 2-2 4 3 0 2 3-1 1-2 4-1 6 5-1 1 1 2 2 0 0-4 3-2 3 0 1 1 0 4 7-3 3 5 2-1 2 2-1 1 0 4 2-2 3 0 2 3-2 3 1-1 3 0 4-4-1-1 2-1 1 3 3 3 0 2 3 0 3 3-1 2-3-2-2 3-3 0 0 2-2 2 4 3 3-5 7-2 1-4 4-5 2 2 0 6 2 2 4-1 2-2 2 0 2 2-5 7-3-2 2 2-2 3-2 0-1-2-3 0-1 1-2-1-4 8-1-1-1 1-2-3-6 1-7-2-1-2 3-2-1-2-3 2 1 3-1 1-3 0-2 2-2 0-1-1 1-6 2-1 2-3-1-2 1-2-5 1-1-2-1 1-8 1 0 1 3 0 3 2-2 2-1 6-2 1 0 2-2 2-3-2 0-2 2-2-5-2 1-4-7 2-1-2-1 1-1-1 1-2-1-1-1 1-1-2-3-1-1 2-5 2 0 1 1 0 0-1 2-1 2 2-1 3 1 1-3 3-3 0-3-4-2 0-4 5-2 0-4-2 0-2 2-3-3 0-2 3 1 3-2 2-3-2-1-3 4-2-1-2 3-2 2 0-1-1 2-1-8 5-5-3-5 2-6-5-2 0-1 3-1-1-2 1-1-1 0-3 0 2-2 2 1 1-1 2-3 0-1-3-4 0-1 3-3 1 0 1 2-1 2 2-3 4-1-1-2 1-1-2-4-3-2 0-2-3-4 0 0 3-1 1-4 0zM1007 61l1-1 1 2-1 1zM854 61l1 0zM314 63l2-3 2 2-2 2zM237 61l2-1 1 2-1 1zM133 61l2-1 1 3-1 1zM1067 60l1-1 1 2-1 1zM303 61l1-2 2 1-2 2zM1135 59l1-1 1 1-1 1zM1101 59l1-1 2 1-1 1zM212 60l-1-1-2 2-1-1-3 0 0 1 3 1zM187 59l-2 1zM161 59h0zM99 59l1-1 1 2-1 1zM77 59l1-1 2 2-2 1zM1139 57l1 2-2 1-1-1zM1117 57l1 1-1 3-1-1zM964 58l0 1zM150 58h0zM989 58l1-2 2 1-2 2zM949 62l-1 2 1 2-3 3 4 3-1 2 3 0 1-2 6 5 1 3 0-2 2-3 1 1 2-1 2 3 2-3-1-4-1 0-1 2-5 1-1-1 0-3-6-5 1-2-1-1 2-1 1-4-3 1 1 3-2 3zM312 56l1 1 0 3-1 1-2-2zM667 55l6 2-2 2 0 3-2 4-6-4 1-1 2 1-1-4zM483 56l1-1 1 1-1 1zM1040 54l1 1-1 1 1 3-2 2-1-1 0-5zM208 55l-1 1zM963 54l0 1 4 1 0-1-3 0zM957 55l2-1-2 0zM937 54h0zM256 54h0zM168 54l-1 2 3 0 1 2 1-2-2 0zM141 54l1-1 1 1-1 1zM114 54l1-1 1 1-1 1zM685 52l1 3-2 1-1-1zM663 53l1-1 2 1-1 1zM157 53h0zM1081 52l1-1 1 1-1 1zM951 53l-3-1 1 2-2 2-1-2-2 0-1 1-3 0-4 3 2 0 2 2 0 2 1-2 3 2 3 0 0-1-4 0-1-1 3-3 1 2 3-2-1-2 2-2 1 1zM274 52l3-1 2 3-2 1-2-1zM998 51l1-1 2 1 1-1 4 2-4 3zM984 51h0zM608 51l0 1zM302 51h0zM184 51h0zM140 51l2-1 1 2-1 1zM126 51l1-1 1 2-1 1zM993 51l3-2 2 3-1 1-3 0zM923 50l-1 1 3 5 0 3 3 0 2 4 1 0 0-3 1-1-1-4zM908 50h0zM626 50l1-1 1 1-1 1zM96 50l1-1 1 2-1 1zM85 50l2-1 2 3-3 1zM942 49l1 0 1 2 0-1zM695 49h0zM479 49l1-1 2 1-1 1zM97 49l1-1 1 1-1 1zM260 48l-1 3 1 0zM1012 47l1-1 1 1-1 1zM942 47h0zM923 47h0zM110 50l4-4 4 0 2 3 2 0 2 2 1 3-1 1-6-1-1 1-1-3-3 2-3-2zM1043 46l2-1 1 3-2 1zM1007 47l1-2 3 1-2 2zM987 46h0zM133 45l5 3 0 2 2 1 0 3-5 3-2-1 1 2-1 1 1 1-3 2-5-2-1-2 2-2 2 1 2-1 1-5-2-2 0-2zM92 47l4-2 2 3-3 1zM985 45h0zM978 45h0zM1075 44l1-1 1 1-1 1zM1064 44l1-1 1 1-1 1zM142 44l1-1 1 1-1 1zM1143 43l1-1 1 2-1 1zM1091 42l1 1 0 3-1 1-1-1 0-3zM988 43l0 1zM1015 42l1-1 1 2-1 1zM900 43l1 1 1-2 1 3 3 1 0-3-1-1-4 0zM933 42l3-1-3 0zM916 41l-2 0-2 2 1 1 0 5 1 2 1 0 2-3 1 1 0-2-3-1 3-2 2 0 0-1-2 0zM983 40l-1 1 1 2 1 0 1-2zM930 40l0 3-2 3 4 4 4-3 1 0 1 2 2 0-2-3-1 1-1-2-5-1-1-1zM639 40l1-1 1 1-1 1zM506 40h0zM146 40l1-1 1 1-1 1zM98 41l1-2 2 1-2 2zM1020 39l1-1 1 2-1 1zM141 39l1-1 1 2-1 1zM1143 38l1-1 1 1-1 1zM162 37h0zM639 35l1 0zM978 34l0 1 2 0 0-1zM917 34l0 1 2 1 0-1zM660 33l1-1 1 1-1 1zM142 32l1 1 0 3-4 3-1-1 1-1 0-3zM1078 32l1-1 2 1-1 1zM1068 32l1-1 1 1-1 1zM128 32l1-1 1 1-1 1zM1049 29l2 3 0 2-4 3-1-1 0-4zM957 30l0 3 1-2zM907 30h0zM654 30l-1 0 0 1zM126 30l2-1 1 2-2 1zM939 29h0zM125 29l1-1 1 1-1 1zM981 28l1 3 1 0 1-2 1 1 1-1-1-1zM914 28l-4 3-1-2 1 2-4 2 0 3 4 1 3-3zM615 28l2 1 0-1zM151 28l0 3 1 1 3-1-2-3zM625 28l3 0-1-1zM1054 26l1-1 1 2-1 1zM113 26l2-1 2 2-2 2zM1217 24l1-1 1 1-1 1zM143 24l0 1 3 0zM110 23l1-1 1 1-1 1zM1043 22l0 1 2 0 0-1zM939 21l1-1 1 1-1 1zM614 21l1 1 0-1zM535 22l1-2 2 1-2 2zM533 21l1-1 1 1-1 1zM107 21l1-1 1 1-1 1zM1074 20l1-1 2 2-2 1zM132 20l1-1 1 1-1 1zM140 19l1 1 0-1zM124 19h0zM612 19l-1-1-1 1zM150 18l-2 0-1 2 3-1zM1223 17l1-1 1 1-1 1zM606 17l-2 1zM301 16l1 1-1 3-1-1zM951 16l2 0zM294 16l0 1zM307 15l1-1 2 1-1 1zM1059 14l1-1 2 2-2 1zM634 14h0zM612 14h0zM300 14l1-1 1 1-1 1zM600 13h0zM606 12l-1 0-2 3 1 0zM305 12l1-1 1 1-1 1zM292 12l-2 1 1 3 1-1zM308 10l1-1 1 1-1 1zM1075 9l2-2 2 2-1 1zM312 7l2-1 1 2-1 1zM1068 8l2-3 1 2 3 1 1 2-6 2-1-1zM598 6l-1 1-1-1 0 4 2-1zM142 6l2 2-1 2 2 0 1-1-1-2zM128 6l2-1 1 2-2 1zM925 4l-1 4 2 0 2 2-4 2-1 6 1 2 1 0 1-2 4 3 1 8-3 5 1 0 1 2 2 0 1-2-1-1 0-3 2-1 0-1-2 1-1-3 2-2-3-2-1-5-3-1 5-4 1 1-1 2 1 0 1 2-1-2 0-3 1-1 3 3 3-1 1 2-3 1-2 4 3-1 1 1-1 2 3 0-1-3 1-6-1-1-3 0-5-3-3 1zM625 4l-1 0-1 3 2-1zM602 4h0zM108 4l1-1 1 1-1 1zM86 4l1-1 3 1-1 1zM1064 3h0zM612 4l3-2 1 1-1 2zM115 2l2 3 0 3-2 4-2-2 1-7zM326 2l1-1 1 2-1 1zM53 2l1-1 4 3-3 1zM41 1l2 3-1 1 1 2-1 2-3 2-2-3 2-1-1-2 1-3zM4 1l1 2-3 2-1-2zM1169 0l2 3-3 2-1-2zM643 1l0 1 1 0 0-1zM316 2l2-2 2 1-1 2zM108 1l0 2-2 2-5-2 1-2 4 0 1-1zM98 1l0 1 1 0 0-1zM91 0l1 2-2 1-1-1zM1239 0l-171 0-2 6 2 2-2 2-2 0 1 2 2 1-1 1 2 4-2 1-5-6-4 1-2 2 2 2-2 3-5-2 1 3 1 0 1-2 1 1 0 2-2 2-1-1 0 1-2 1-1-2-1 0-1 2-2 0-1 2 2 3-1 3-2 0-2-2 1-1-1-3-4 5-7 1-2 2 1 1-1 2-2 0-2-2-5 0-1 1-1-1-3 0-2 3-4 0-3 6-3 0-2 3-1-1 0-3-5 2-1 3-2 1 0 2-1 1-2-1-2 2 3 1 1 4-4 2-4-2-2 4 3 0 1 2 2 1-1 2-2 0-1-2-3 0 1 0 2 3 4-2 1 1 0 3 2 0 2-3 3 5 3 1 1 2-1 1 2 2-1 1 1 1 2-1 0-3 4-2 0-3 3-2 1-3 4 0 4-3 7 1 3 5 3-1 1 3 2-1 1 1-1 13-4 2-1-1 1-2-5-4 2 7 2 1 0 5 3 2-1 2-1-1-3 0-3-5-2-1 1-4-1-2-3-2 4-2 0-1-3 1-1-1 1-2-1 0 0 3-2 1-1-2 1 2-1 1 0 5-4 2 0 1 3 0 1 3-2 1-1 2-5-1-4 4-3-2-3 1-1-1 1-1-2 0-2-2-2 1-2-2 2-3 3 0 1-3-1 0-2 3-4-1-1-2-2 2 1 1-1 2-5-3 3-2-2 1-2-2-3 2-1 3-3-2 0-2-4 2-3-2-2 3-1-1-2 1-2-4 1-1 3 2 1-1 0-2-3-2 1-1-6 4-6 10-3-1 1 2 0 3-1 1-3-3-3 0-2-2 2-1 3-4-1-2-9 3-2-2-7-3 1-2 4-3 2 0 2 2 4 1 0-1-2-1 0-6-1 0-1-2-4-1-1 2-4 2-1-2 4-6 4 0 2 2 4-2-1-1 2-2-1-1 0-3-3 1-1 4-3 2-1-1 1-4-3-1-1 1 1 0 2 3-1 1-1-1-6 2-2-3 0-2 2-5 2-1-6-2 2-3-1 1-8-1 1 2-2 2-2 0-2-2-3 0 2 3 1 5-1 1-3 0-2 4-3-1 1-2-2 0-2 2-1-1 3-5 0-2-1-1-2 1-1-1 1-1-2 0-2-2 0-2-1 0-1 4-5 5-6-2-2 2 2 1-2 2-4-1-3 5-2 0-2-3-4 0-4-3-1 2-2 0 3 0 1 1-2 4-2-1-2 2-5 0-1-1 2-1 0-2-6-2-4 3 0 2-2 2-3-2 2-2-3 0-3 2-5-3-2 1 0 4-1 1-3-1-4 2 2 4 2 1-3 2-2-1 0-2-3-1 0-3-1-1-3 0-1 2-5 0-1 2-5 1-3 3-7 0-2-3 1-3-3 0-4 13-2-1 1-4-2 0-1 2-2 1-1-1 1-1-1-1 0-3-1 0 0 2-2 3 4 2 0 3 5 3 0 3-3 2-2-3-2 0 0 2-3 3-1-2 2-3-1-3 1-1-3-3 2 3-2 1-1 2-3-1-1-3-3-3 0-1 2-1-2-3-1 1-2-1 0 2-3 3-5-3-3 3-2 0-3-3-1 1-2-2-3 1-4-1-2 2-4-4-1 1-2-3-2 0-1 1 1 1-1 2 2 2 0 1-2 1 1 3 2 0-2-3 3-4 2 1 0 4 5-4 3 0 2 3-1 1 1 2-3 3-1-2-2 1 3 1-1 3 1-1 1 1-1 2-2 1-1-1 0-4-7 1 3 5 3 2 2 0 2 2-1 1 4 4 0 2-4 3-3-1 2 4-2 1 0 3-2 3 1 2-2 1 0 1 2 1 0 2-4 6 6 2-2 4 0 2 2 2-4 4 0 4-2 1 0 3 1 1-6 2-3 4-3 2 0 2-5 4 0 5-3 3 0 4 3 3 0 7-1 1 1 5 342 0 2-4 3 1 1 3 193 0 0-97-1-2-1 0-1 3-3 2-1-2-3-2 0-2-1 1-1-1 2-3 2 2 3-1 1 1 3 0 0-1-4 0-1-1 1-3-1 1-1-1 0-2 3-1 0-2-5 0 1 1-3 1-1-1 0-3 2-3 5 1 0-3 2-1 3-4zM932 0l0 1zM930 0h0zM625 0l1 2 2 1 1-1 0-2zM618 0l-6 0-4 6 1 1 2-2 2 0 1 2-2 2-3 0 0 1 3-1 1 1-1 2 1 0 1-2 2 0 0-1 2-1-1-3 4-3-3 0-1-1zM599 0h0zM205 65l0 4 2 1 6-2 1-2 5 3-3 4 1 2-2 2-2-1-1 2 7-1 3-5 1 1 3 0 2 3 4-3 1 1 2-1 3 3 3-1 3 1 1 2 1 0 2-3 1 1 2-1 3 2 2-2 3 1 1-2 5 2-1 4 3 1 1 4 3-2 1 1 3 0 0-1 2-1-1-1-2 1-1-3 3-1 3 3 1-1 1 1 3 0 2-2 3 1 1-1 4 0 1 2 3 2 5-3 8 2 2-2 1 1 3 0 1 2 2 0-1-1 2-1 2 3 2 0 1-2 1 1 3 0 2-2 3 3 1-2 2 2-1 1 0 3 1-4 2-1 0-3 2-1 2-3 3-1 0-3 1-1 2 0 1 1-1 3 1 2-3 2 0 2 1 0 2-3 5 0 1 1 6-1 1 3 1 0 0-3 1-1 2 1 1 3 2-1 9 1 1 2 5 1 3 3-1 2-2 0 2 3 9 5 2 5 1-1 1 1 2-3 2 1 6 0 2-3 1 1 1-3 1 0 1 2 1-1 5 0 1 1-1 2 1-1 1 2-1-10 3-1 1-3 4 0 1 1 1-1-2-3 2-2 0-5 3-1 0-1-3-2 1-2 2 0 1 2 2-1 1-2 2 0 5 3-2 2 6 2 3-2-1-3 2-1 3 3-2 2 0 3 4-3 2 1 0 2-3 1-1 2 2 1-1 1-3 0-1 2 0 3 2 4-9 6 0 2-2 2 2 7-1 1-2-1-1-2-1 1-2-1-3 4-4 0 1 1 0 3-3 2 0 2-3 2-2 0-1 2-2-1-2 2 0 1 3-1 3 3 1-1 3 3 0 2-2 3 1 8-8 5 1 1-1 1 1 2-1 2-3 0-1-1 1 8-1 1-2-1-1 1 2 2-4 5 1 2-1 4 1 2 2 1-2 3 1 1 0 22 173 0 2-3-1-1 2-2 2 0-1-3-3 1-1 2-2 0-1-3 5-4 5 1 1-2-3-6-5 0-1-1 0-4-2 0-3-4-2-1-1-5 3-2 3 3-3 2 1 1 3 0 3-2 2 0-2-7-4-6 1-3-3-2 0-5 1-1 2 2-1 1 1 2 3-2 2 2 0-3-2-2-1-4-8-3 3-5 2 0 1 3 2-1 2 1 0-2-7-2-2 3-4-1-5 3-2-1 2-3-1-1 0-3 2-2 3-1 4 5 1 0-1-3 2-1 1-2 2 1-2 3 3-2 2 0 0-1-2-1-1-6-4-3 0-3 1-1 4 0 5-8 4 3 1-1 1 2 1 0-3-4 2-3 2 3 1-2 2 0 3 5 6-1 0-3-3-5 2-2 0-2 2-3-1-1 1-2 3 0 1 1 0 4-2 1 0 1 2 1 1-1 4 5 2 0 0-3-1 0-1-2 1-2 5-4 0-3-5-1-7 2-1-2 2-3 3-2 2 2 1-1 2 1 1-1 1 1 3 0 1-1 5 5 0 3 2 2 1 3-1 1-3 0 1 1 4 1 3-2 2 1 2 3 1-1 4 1-1-3-3-2 1-3 5 0 1 1 0 4 2 0 1 2 1 0 2-3 2 1 6-3 1 1-1-2 1-2-1-6 1-1 3 1 5-6 2 1 1-1 1 1-1 3 3 3 2-2 1 1 3-1-2-3-1 1-1-2 1-1 3 0 1-2 5 1 2 3-2 1 2-1 2-4 4 3 1-2 4-3-3 2-2-3-5-1-1-2-2 0-1-1 1-2-1-2 2-3 3-1 0-1-6 2-3-3 1-3-3-3-1-4-2-1 0 1-4 2-1-2-3 2-2-3 2-1 2-3-3 1-3-1-5-4-3-5-3-1-3-3 0-2-1 3-4-3-2 3-2 1-2-1-1 1-3-4-2-1 0 3 1 1-1 1 0 3-1 1-3 0-1-1 1 2-1 1 1 1-1 3-5-3 2-1-1-1-1 2-2 0-1-1 1-3-4-2 1 3-1 6-2 1-2 3-2-2 1 2-1 1-4-3-3 5-4 4-3 0-1 2-7-2-5 4-3-1-2 1-2 3-2-1-3 1-6-1-4 2-1 2-3 0-1-1-2 2-3 0-1-1-7 4-6-3-3 0-1 1-5-1-2 1-6-4-1 1-2-1-5 2-1-1 1-4-2 0-2 2-4 0-3 2-3-2-4 0-3-3 1-2-3 0-2-2 3-2-1-1 1-3 5-2-1-1-3 1-3-4 1-2-1-1 2-2 3 0-3-3 1-1 2 1 2-1 1 1 0 3 1 0 2-3 6-1 1-2-3-3 2-3 3 1-1 2 4 1 1-1-1-1 2-2 3 1 3-3 3-1 3 1 3-4 2 0 1-2 3 2 2 0 2-2 1 2 2 0-1-2 4-5 5-1 2-2 1 0 1 3 4-2 2 0 3-4 3 4 5-4 6 2 1 2 2 1 1-2 0-6 3-2 1-2-286 0-1 1-2-1-1 2-1 0-1-2-2 2-6 2-3-2 0-2-1 2-3 0 3 2-1 6 1 0 1-2 2 1 4 4 1 4-2 2-1-1 0-3-1 1 1 1 0 4-5 3-1 2 2 1-1 1 2-1 1-2 2 0 1 1 0 4 3 0 1 1 2-1 2 2-3 5 0 3 1 0 4 5 0 2-2 2 3 3 2-3 5 4-6 2 1 1-4 4-2-1 1-2 2-1 0-2-2 1-3 0-1-1-3 3-3-1 0 2 1 0 2 3-2 1-1-2-3 2-2-2 2-1 1-2-4 2-2-3-2 0-1 2 1 2-2 1-3-2 1-2-1-5-1-1-2 1-1-2-2-1-2 3-3 1-1 3-1 0-2-3 1-3-4 0-1 2 3 2-1 2-3 0-1 2-4 2-2-3-5 2 1 1-1 1-7 2-1-3 2-2 3 1-1-2-4-2-5 1-2-2-1 1-1-2-3 2 0 4 3-1 2 2 0 2-1 1-5-1-3 2 1 2-2 7-2-1-1-3 3-8-1-3-4 3-4 0-1 5-1 1-1-1-3 3-1-3zM134 0l0 1 6 4-1-3 1-2zM0 0l0 81 1 1 0 6 1 2 5-1-1-2 1-1 2 1 4-4 2 0 0-1 3-2 3 1 1-3-2 0-1-3 1-1 3 0 3-3 3 2-2 4 1 0 1-2 6 1 1 3 2-1-2-1 1-3 2-1 2 3 0 2 6-1 1 1-1 3 2-2 6-1 1-2 2 6 3 3 3-4 6 0 1 1 3-1 1 1 3-4 3 0 2-2 9 1-1-6 6-3 2 0 1 2 5 1 3 4 3 1-1 1 3-2 1 1-1-1 0-3 1-1 3 3-1 6 2 0 1-2 3 0 2-3 2 2 4-3 5 1 1 2 0-2 3-2 0-2 2-2 3 0 2 4 6-3 2 4-1-7-3-2 0-2-4-3-1-3-3-1 1-2 9 1 2-2 0-2-3 0-2-3 0-4-1-1 1-3-2-2 3-2 0-1-2-1-3 2-2-2 2-6-3 2-1-1-2 2 1 1-3 1-3-3 1-2-1-3 1-5-4-3 0 2-2 2-1-1 0-5-4 1 2 1 1 3 3 3-4 3-2-1 1-3-1-1-3 0-1-3-1 0-2 3-1-1-2 1-1 2-2-1 3-6 2-1 2-3 3 0 1 2 1-1 3 0 1-2 2 0 1 2 2 0 2-2 0-1-3-2 2-1-1-5-2 1-3-3-25 0-4 8 1 1-3 2-2-2 1-3-3-1 1-1-1-2 4-2-3 0-1 1-1-1-4 0-1 3-2-2 1-1-19 0-2 3-7 0-2-3-1 1-1-1-6 0-1 1-2-1-20 0-1 1-2-1-15 0 2 0 2 3-2 2-1 0-4-5z"/>
<path fill="#bde03a" stroke="#bde03a" fill-rule="evenodd" d="M911 203l1 0zM267 203h0zM34 203h0zM1235 202l-1 1 1 0zM1055 202l3 1zM272 202h0zM240 202l1-1 1 1-1 1zM165 202l1-1 2 1-1 1zM84 202l0 1 1 0 0-1zM14 203l3 0-1-1zM8 202l1 1 1-1zM266 201l2 0zM167 201l1-1 1 1-1 1zM1008 200l0 1 3 2 2-2 0-1-1 1zM1006 200l0 1zM582 200l-1 1 1 1-1-1zM172 202l2-3 3 0 1 1-3 3zM119 200h0zM15 200h0zM541 199l2-1 2 3-2 1zM291 199l0 1zM247 198l3 3-2 2-3-2zM72 199l1-1 1 1-1 1zM941 198l2-1 1 2-2 1zM569 198l0 2zM79 198h0zM65 198l2 3 0 2 2-3zM47 198h0zM947 197l1-1 3 2-3 1zM530 197l1-1 3 1-1 1zM22 198l1 2 4 1-2-4zM9 197l0 2 2 0-1-2zM884 198l0 3 2 2 6 0 1-1 1 1 10 0-1-2-6 1-4-3-1-3-3 0 0 5-2 1-1-3zM534 196l1-1 4 2 0 3-2 1zM262 196l1-1 2 3-1 1zM243 195l2 3-3 2-1-2zM72 196l0 3-1 1 2 3 1 0 1-2 2 0 0-2-2 0-1-2zM48 196h0zM1225 195l1-1 1 1-1 1zM907 195l1 2-2 1 2 2-1 1 2 1 3-5zM196 195l-2 0-1 4zM64 195h0zM992 194l1 1 0-1zM552 194l1-1 1 1-1 1zM283 195l3-1-3 0zM30 194l0 4 1 0zM1003 193l0 1 3 0zM981 193h0zM972 193l-1 2 2 1 0 2 1 1 3 0-3-4 0-2zM954 192l2 2-1 2-3-1zM932 193h0zM551 193l1-1 1 1-1 1zM544 193l1-1 3 0 2 2-2 1zM1200 191l1 3-2 2-2-3zM900 192l0 3 1 0zM238 192l1-1 1 2-1 1zM206 191l3 5-3 5-5 1-1-1 1-3 4-3-3-3 1-1zM182 192l-1 2 1 0zM135 192l0 1zM45 192l-1 0 0 1zM31 192h0zM1237 191l2 2 0-2zM983 191h0zM888 191h0zM549 191l1-1 1 1-1 1zM242 190l2 2-1 2-3-1zM878 190l2-1 2 2-2 1zM547 190l1-1 1 1-1 1zM163 190h0zM36 190l0 1 2 1 0-1zM265 189h0zM115 189l1-1 1 1-1 1zM70 189l-2 0-1 2 1 2 2-1zM18 191l0-2-2 1zM8 190l-2-1-2 3-3 1 2 0 2-2 2 1zM1218 187l1 1-1 2 1 2-3 4 1 3-3 2-1-1 0-3-2 0-2-2 2-2 2 0 3-5zM928 188h0zM539 188l2-1 3 2 1 2-4 2-2-3zM248 188l0 1zM92 188l0 2zM45 188l0 1 3 2-2-3zM1223 187l1-1 1 1 3-1 1 2-3 2-2-1zM1212 188l1-2 3 1-2 2zM917 188l3-2 2 3-1 1-3 0zM159 187l0 2 1 0zM59 187l-2 1 2 0zM957 186h0zM889 186l-2 1 1 1zM537 187l1-2 2 1-2 2zM34 186h0zM13 187l-1-1-1 2-2 0 3 0zM546 185l1-1 1 1-1 1zM198 186l2-2 4 0 1 2-3 2-2 0zM1210 184l1-1 2 3-2 1zM921 183l1 2-2 1-1-1zM248 183l2 6 1 1 1-2 2 2 0 4-1 1-3-1-1-2-2 0-2-2 1-1-1 1-1-1zM191 184l1-1 2 1-1 1zM85 184l1-1 1 1-1 1zM1222 183l1-1 1 1-1 1zM1086 183l1-1 1 1-1 1zM930 183l-2 1 1 1zM249 183l1-1 1 1-1 1zM79 184l2-2 3 1-3 2zM980 182l0 1zM968 182l1-1 1 1-1 1zM858 182l2-1 1 2-2 1zM26 183l3-1-3 0zM881 181l-3 2-1 3-1-1-1 3-4-2 1-3 3 0 3-3zM574 181h0zM68 182l-3-1-1 1 0 3-2 2-1-1 1 1-1 1 1-1 1 1 3-4 2 0zM32 181l1 1 0-1zM1228 180l-1 0 0 1zM1214 180l1-1 1 2-1 1zM889 180h0zM869 180l1-1 1 1-1 1zM151 180l1-1 2 2-2 1zM100 180h0zM48 180l0 2 5 2 2 4 0-2-4-4-2 0zM865 178l1 2-2 1-1-1zM564 179l1-1 2 1-1 1zM249 179l2-1 1 3-1 1zM171 179l-1 1 2 1zM108 179l1-1 4 1 3 3 0 2-1 1-3-1-3-3 1-1zM96 179l0 2zM1211 178l1-1 2 2-2 1zM950 178l-2 1 0 1zM882 178l1-1 1 1-1 1zM581 177l1 0zM528 178l1-2 4 0 1 1-2 2-3 0zM166 176l2 1 6 0 2 2-2 2 5 3-2 3-2-1-6 1-1-1 1 2-1 2 4 0 3 7-3 1-3 3-1-1 2-3-1-3-3 0-3 3-2 0-1-2-3-2-2 0-3 2-2-1 3-3 3 0 1-1-2-3 2-2 4 0 2-6zM133 177l1-1 2 1-1 1zM107 177l1-1 1 1-1 1zM1221 176l1-1 1 1-1 1zM1214 176l1-1 1 2-1 1zM915 176l1 2 2 0-1-2zM875 175l1 1-3 2-1-1zM534 176l2-1 1 3-1 1zM142 176l3-1 1 2-3 1zM984 175l-1 1 2 2 1 4 1-1 2 2-2 2-2-1 1 3 3 3 0 2 2-1 0-1-3-4 2-3 3 4 1-1-1-3 1-1-1-2-3-2 0-2-1 1zM255 175l1-1 1 1-1 1zM128 174l1 1-1 3-1-1zM32 175l-1 2zM1239 174l-3 3 0 2 2 2 1 0zM968 174l-1 0-2 4 3 1-1 1 0 3-1 1-3 0-1 1 1 1-5 3 0 1 6 1 1 1-1 3 1 0 1-2-3-5 1-1 3 0 2-4 1 2 3-1 2 2-1 1-2-1 0 3 3 0 0-2 3-1 0-3-3 0-1-1-2 1-3-2zM903 174l1-1 2 1-1 1zM133 174l2-1 1 2-2 1zM540 180l5-4 4 3 1 0-1-1 1-1 3 0 1 2 1 0-3-4-3 1-3-2 3-2 3 1 3-1 1 1-1 2 1 2 2-5 3 1-2 3 1 1 0 3-2 3-2-2-3 0-1-1-1 2-3 2-2-5-1 3 1 1-2 2-1-3zM462 173l1-1 2 1-1 1zM276 177l-3-3-3-1 1 3-2 2-2 0 1 2 1-2 3 1 2-3zM972 172h0zM535 173l1-2 2 1-2 2zM260 171l2 2 0 2-2 3-1-1 0-5zM80 172l1-1 1 1-1 1zM1216 171l1-1 1 1-1 1zM933 171l2-1 1 2-2 1zM540 172l3-2 2 2-2 2zM891 170l-2 0-1 3 3-1zM459 170l1-1 1 1-1 1zM80 169l1 2-2 1-1 2-1-3zM12 170l1-1 1 1-1 1zM1219 169l2-1 1 2 2 0 1 1 0 3-1 1zM559 169l1-1 1 1-1 1zM103 169l1-1 1 1-1 1zM83 169l3-1 1 2-2 1zM892 168l2 1zM39 169l1-2 3 1-3 2zM988 167h0zM918 167l1-1 1 1-1 1zM9 166l3 2-1 1 2 3-1 1-5-3 1-1-1-1zM940 166l1-1 2 1-1 1zM937 166l2-1 2 3-2 1zM899 166l-2 0 0 3 1 0zM858 166l1-1 1 1-1 1zM269 165h0zM254 165l1-1 3 0 1 2 1-1 2 1-1 3-4 2zM990 164l0 1zM889 164l-1 4 1 0zM14 163l2 2-1 1 3 1 0 2 2 2-1 1-2 0-1-2-3-2 0-4zM941 163l1-1 1 1-1 1zM550 163l-1 1 2 1-1 1 1 0 1-2-1 1zM547 163l0 1zM279 163l-2 0-1 2-3 0 0 2 3 2zM1223 165l2-3 3-1 1 2 3 2 1-2 2 2 0 2-1 1-3 0-3-2 1 1-4 3-2-3 1-1zM983 162h0zM981 162h0zM967 162l1-1 1 1-1 1zM940 162l1-1 1 1-1 1zM894 162h0zM861 165l2-2 3 0 3-2 6 10-3 2-3-4 0-2-5 1zM759 161l1 1-3 2-1-1zM563 162l1-1 2 2-2 1zM57 162l1-1 1 1-1 1zM19 161l1 1 0 4-2 1-2-3zM1229 160l1-1 1 1-1 1zM923 160l1-1 2 2-2 1zM575 160l0 2 1-1zM984 159h0zM908 159l1-1 3 0 2 3-2 1zM560 158l2 2 0 4-1 1-1-1-2 1-1-1 0-3zM491 159l1-1 1 1-1 1zM13 159l1-1 1 1-1 1zM506 157l2 3-1 2-3-1 0-2zM27 157l1 1-3 2-1 2-1-3zM10 158l2-1 1 2-2 1zM906 157l1-1 2 1-1 1zM492 156l1-1 1 2-1 1zM944 155l3-1 1 2-2 1zM939 155l1-1 3 0 2 4-2 2-4-3zM871 154l2 2-1 3-3-1zM1226 153l1 2-2 1-1-1zM927 155l3-2 2 1 2 3 1-1 2 2-3 2-2 0-2-2-2 0zM259 154l1-1 1 1-1 1zM62 154l1-1 1 1-1 1zM1117 153l1-1 1 1-1 1zM761 152l2 5-1 2-3-1 0-3zM257 153l1-1 1 1-1 1zM33 152l4 2 0 2 2 3 0 4-2 1-2-3-3-1 1-2-2 1-2-2 1-1-1-2zM950 154l2-3 3 0 1 1-2 3-3 0zM945 152l1-1 2 1-1 1zM887 152l2-1 2 2-3 1zM767 152l2-1 2 3-3 2-1-1zM489 152l1-1 1 1-1 1zM434 152l1-1 1 1-1 1zM251 151l3 1-2 4 3 2-1 3-3 0-1-1-1-7zM962 150l1 1-1 2 4 4 0 3-1 1-5-1 0 2-2 2-5 1-1-1 1-4 1-1 1 1 2-1 1-2 0-6 1-1zM937 150l2 4-2 2-2-4zM765 151l1-1 1 2-1 1zM556 151l1-1 1 2-1 1zM555 150l1 3-4 2 3 3-1 2 1 2-1 1 1 2 2 1-2 2-5 0-1 1-1-1-6 1-1-2-2 0-2 3-1-1 0-3 6-3 1-2 3-1 2 1 0-2 2-1-4-6 1-1 6 1 0-1zM514 151l1-1 2 1 1 2-3 1zM28 151l3-1 1 2-3 1zM21 151l1-1 4 4-3 2-2-2zM927 149l3 1-2 4-2-2zM897 150l1 0zM434 150l1-1 1 1-1 1zM991 149l1-1 1 1-1 1zM981 149l1-1 2 1-1 1zM553 149l1-1 2 1-1 1zM545 148l1 1 0 3-2 1-1-2zM479 149l3-1 2 4-2 1zM30 149l1-1 2 1-1 1zM912 150l1-1 1 1 1-2 2-1 3 4-1 1-3-1-3 1zM580 148h0zM936 149l2-3 2 2-1 2zM869 147l2-1 2 2-2 1zM859 147l1-1 2 1-1 1zM1222 146l1-1 3 3-2 1zM858 146l1-1 1 1-1 1zM822 146l1-1 1 1-1 1zM572 146l-1 0-1 2 2-1zM557 146l1-1 1 1-1 1zM248 146l0 1 2 0zM965 145l1-1 3 1-1 1zM902 145l3-1 5 3-1 1-3-1-3 1zM506 145l1-1 1 1-1 1zM473 144l2 2-3 5-2-3 1-3zM22 145h0zM945 143l2 0 2 3-2 3-3-2 0-3zM795 144l1-1 1 1-1 1zM550 144l1-1 2 1-1 1zM233 144l1-1 2 2-2 1zM88 146l1-3 3 2-2 2zM981 142l3 3-3 2-2 0-1-2zM896 143l1-1 1 2-1 1zM563 143l1-1 1 1-1 1zM26 143l-1 0 0 1zM1218 141l4 3-2 3-4-4zM872 141l1 2-2 1-1-1zM814 142l2-1 1 2-2 1zM1004 141l1-1 1 1-1 1zM957 141l2-1 2 3-3 2-1-1 1-1zM948 141l1-1 1 1-1 1zM886 141l-1 2 0 4 1 1-2 3-1-1-2 1-5-1 0 1-2 1-2-2 1-2 2 0 4-4 1-3 3 2 2-3zM810 141l1-1 1 1-1 1zM70 141l1-1 1 1-1 1zM3 141l0 1zM1003 140l1-1 1 1-1 1zM808 140l1-1 1 1-1 1zM803 140l1-1 3 1-1 1zM580 140l0 2 1 0zM437 140h0zM233 142l1-3 3 0 1 1-3 4zM898 138l1 1-3 4-2-2 2-3zM888 139l1-1 1 2-1 1zM857 139l1-1 1 1-1 1zM845 139l1-1 1 2-1 1zM227 139l1-1 1 1-1 1zM944 140l2-3 2 1-1 3zM942 138l1-1 1 1-1 1zM930 137l1 2-2 2-1-2zM878 138l2-1 1 2-2 1zM839 138l1-1 1 1-1 1zM732 138l1-1 1 1-1 1zM501 137l2 3-1 3-3-1 1-1-1-2zM1236 137l1-1 1 1-1 1zM1023 137l0 1zM1013 137l-2 2 2 1zM989 137l1-1 1 1-1 1zM846 137l1-1 2 1-1 1zM812 136l2 1 0 3-1 1-3-3zM781 137l1-1 1 1-1 1zM569 137l0 2 2 1zM558 137l1 1zM197 137l1-1 1 1-1 1zM1126 136l1-1 1 1-1 1zM995 136l1-1 1 1-1 1zM228 136l2-1 1 3-1 1zM160 136l1-1 1 2-1 1zM1039 135h0zM824 135l1-1 1 1-1 1zM500 135l1-1 1 1-1 1zM139 134l1 1-1 3-1-1zM958 133l3 2-2 4-3-4zM888 134l1-1 1 1-1 1zM169 134l1-1 1 1-1 1zM125 134l1-1 1 1-1 1zM41 134l1 6 2-2 3 1-4-5zM986 133h0zM945 133l1-1 2 1-1 1zM820 132l1 3-3 2-1-3zM168 133l1-1 1 1-1 1zM104 133l2-1 1 2-2 1zM102 133l1-1 1 1-1 1zM93 133l2-1 2 3-2 1zM16 132l2 1 1 2-3 2 1 1-2 1-3-3zM1016 132l2 0zM977 132h0zM896 132l1-1 3 1-1 1zM804 131l1 3 2 1-2 3-3-3 0-2zM472 132l2-1 2 2-3 1zM199 131l1 1-2 1-2 3-1-3 2-2zM31 131l2 3 1-1 2 1 0 3-3 4-2-1 0-2-1 1-1-1 0-4zM26 131l3 3-1 3-2-1 0 3 1 2 3 1 2 3-3 3-2-1-2 2-6 2 0 3-2 1-3-2-1-3 1-6-1 0-1-2 3-2 3 5 3-3-3-4 4-2 0-3zM1027 131l0 1 3 2 0-1-2-1 1-1zM893 131l1-1 1 2-1 1zM829 131l1-1 1 1-1 1zM820 131l1-1 2 3-1 1zM726 131l-1 0 1 3-5 3 1 1 3-1-1-1 3-2zM542 131l1-1 1 2-1 1zM97 131l2-1 3 2-3 2zM11 132l1-2 3 0 1 1-4 2zM0 131l0 1 1 0 0-1zM878 130l1-1 2 1-1 1zM743 129l2 1-2 4 2 1-1 2-2 0-2-4zM543 130l1-1 3 0 1 1-2 2zM194 130l1-1 2 1-1 1zM58 130l1-1 1 1-1 1zM33 130l2-1 1 2-2 1zM1223 128l2 2 1-2 2 1-2 7-2-1-1-2 1-1-2-1zM821 129l1-1 1 2-1 1zM730 129h0zM49 129l1-1 1 1-1 1zM31 129l1-1 1 1-1 1zM1132 128h0zM738 128l1-1 2 1-1 1zM48 128l1-1 1 1-1 1zM18 128l1-1 1 1-1 1zM889 127h0zM822 127l1-1 1 1-1 1zM817 127l1-1 1 1-1 1zM734 127l0 1zM468 127l1-1 1 1-1 1zM174 127l2 1zM142 127h0zM971 126l1-1 1 1-1 1zM815 126l1-1 1 1-1 1zM760 126l1-1 1 1-1 1zM752 126h0zM504 126l1 2-2 3-5 3-2-3-3-2 1-2 3 1 1 2 0-1 2-1-1-1 1-2zM448 126l4-1 2 2-1 3 1 0 1-2 2 0 1 3-3 1-1 2-2 1-5-7zM207 125l1 1 0 3-2 1-2-3zM124 126l1 0zM110 126l1-1 1 1-1 1zM19 127l2-2 2 2-1 1zM995 125l0 1 1 0 0-1zM935 124l2 1 0 5 1-1 2 1 2 5-2 3-4 2-2-1 2-3 0-2 2-1-6-2-2-4zM886 125l0 2 1-1zM725 125l-1 1 1 1 1-1zM453 125l1-1 1 1-1 1zM140 125l-1 0 0 1zM88 125l1-1 1 1-1 1zM42 125l1-1 2 3-2 1zM1202 124l1-1 1 2-1 1zM1049 124l1-1 1 1-1 1zM908 123l1 2-2 2-1-2zM830 124l1 1 0-1zM528 124l2-1 1 2-2 1zM525 124l2-1 1 2-1 1zM182 124l1 0zM812 123h0zM759 123l1 0zM522 122l1 2-2 2-1-2zM145 123l1 2 0-2zM87 123l1-1 1 1-1 1zM8 123h0zM1048 121l1 2-1 2-2 1-2-2zM1008 123l3 1 0-2zM984 122l-3 2 1 1-1 3 3 0 1 2 2-1 0-4-1 0zM729 122h0zM444 121l2 2 0 3-1 1-2-2 0-3zM1235 122l4 1 0-2-3 0zM1221 121l-1 1 1 0zM919 121l1-1 1 1-1 1zM876 121h0zM555 121l1-1 1 1-1 1zM205 121l2 1 0-1zM122 121h0zM74 121l0 2zM51 121l1-1 1 1-1 1zM964 119l1 2-2 1-1-1zM868 120l-6 1 3 1 2-2 1 1zM134 120l-1 1 1 0zM50 120l1-1 1 1-1 1zM1045 119l1-1 1 1-1 1zM858 119l-1 0 0 1zM756 119l2 2-1-1 1-1zM93 118l3 2 0 3-1 1 1 3-2 3-2-3-3-1 3-4 0-3zM76 119h0zM65 119l-3 2 1 1zM56 119h0zM1239 118h0zM729 118h0zM160 119l4 1-2-2zM0 118l0 1zM1233 117l1 0zM1019 117l2 0zM749 117l1 0zM574 117l0 1zM197 117l-2 1 0 1 1 0zM68 117h0zM1142 116l1-1 1 2-1 1zM795 116h0zM732 116l-1 3 1 0zM524 116l3-1 3 4-3 1zM130 116l-1 3 1 0zM86 116l0 1zM1152 115l1-1 1 1-1 1zM930 115l0 1zM905 115l1 0zM561 115l-2 1 0 2 2 0zM1 126l3 2-1 1 2 2-1 2 3 3-1-1 1-2 2-1 1 1-1 3 1 0 3 4-3 2-1-1 1-2-3 7-4 1-3-2 0 4 2 1 0 2-1 1-1-1 0 20 1 1-1 1 0 5 1 1-1 1 1 1 0-2 2-1 1 1-1 2 1 1 2 0 0-1 7-6 9-2 3-2 5 0 1 1-1-1 2-2 3 0 1 1 0 3-2 3 2 1-1-1 7-6 2 2-2 2 1 2 4-2 2 1-3-2 2-6-2-1 1-1-2-1 1 1-2 2-2-2 1-3-1-3 2-1 5 3 1-1 2 1-1 5 2 2-2 3 5 1 4 5 2 0 2-3 3 0 1-1 0-3 1-1 4 3 0 3-2 2-3-1-1 1 1 2 5 1 3 5 2-1 6 1 1 3 2-5 4 1 3-4-1 1-3 0-1 2-2-5-5 2-2-3 1-2 3 1 2-3 2 1 1-3 2-1 3 3-1 1 2 2 2-1 7 2 3 3 3 6-1 2-3 1 1 4-2 3 1 0-1-1 1-1 2 0 1 1-1 2 1 1 2-1 1 1-2 4-2 0-1-3-2 0-1 3 12 0-2-4 3-1-4-1-1-2-4-2 1-2 2 1 2-2 1 1 1-1 1 2 2-1 1 1-1 4 3 0 1-1 4 1-2-4-2-1-2 1-1-2 3-2 0-6 3-3 1 2 3 0 3-3 1 1 3 0 2 2 1 3-3 2-2 0 5 4 0-2 2-1 0-2 2-2 1 1 5-1 1 1-1 1 2-1 2 2-1 2-2 0 1 1-2 3-3-1-1 1 1 2 4 0 1 3-2 2-1-1-5 0-1 1-3-1 1 5 1-3 4 3 7 0 1-2 1 0 1 2 26 0 1-1 2 1 1-1 1 1 5 0-2-3-2 0-4-3-2 0-1 2 1 1-2 2-2-4 1-5-1-2-2-1 7-4 6 7 3-3 3 2 2-1 2 1 1-2 1 1 0 3 1 1-1 2 1 1-1 1 1 1-1 1-3 0-2 2-2-1 0 1 64 0-1-2 1-1 2 1 0 2 4 0 1-3 3-3-1-1 4-4 2 5 5 0 0-2 3-4 0-2-1 0-2 4-1 0-1-2-1 2-2 0-4-2 0-3-1 1 1 1-2 3-4 0 1 2-2 2-2-3 0-6 4-4 1 1 1-2-2-1-1 2-3 0-2 6-4-3-1-4 2-1 0-2 2-2 3 2 4-2-1-6 1-2 3-1 1-3-2-1-1 1-3-3 1-1 0-4-2-2 1-2-2-2 0-3 2-2-2 2-6-4-3 6-2 1-4-3 1-2 0-3-1-1-3 4-2-1 0-4 3-1 0-4 0 1-3 2-6-7-3 0-1 1-4-2-2-2 2-4 3 1-1-2-3 1-1-1 0 2-3 2-2-2 3-2-1-2-3 5-4-1-1-3-1 2-3 0-1-2-4 1-2 3-3 1-2-2 1-1-2 0-1-2-2 0 3 2-2 3-2 0-2-2-4 2-4 0-2-2 1-1-1-3-1 1 1 1-1 1 0 5-2 1 1 3-1 1-2 0-2-2 1-3-1-3-2 0-2 2-7-2-1 2-2 0-4-3-2 2-2-3-2 0-3 2 3 7-3 2-2 0-1-2-3-2 1-3-2-1-2 1-2 3-2 0-3-5-1 0 0 3-2 2-2-1-2 2-2 0-3-2 0-4-3 4-3-5 1-1 2 2 1-3-1-3-4 0-1-1 0-3-1 1-2-2 0 2-3 1-2-4-4 2-2-3-2 2-1-1-2 1-2-1-3 9 1 1 2-1 3 3 0 2-2 3 1 1-3 3-2-1 0 3-1 1-7-2 1-3 3 1 1-2-2-1-2 1-1-1 2-2-1-1 2-2 2 1 2-1-1-2-2-1 0-1 2-1-2-3 0-2-1 1 2 3-4 4 0 3-6 4 0 2 2 1-4 3-1-1 1-2-2-1 0-2 2-1-3-2-4 6-4 0-1 2 1 1-3 2 1 4-3 3-3-4 2-2 0-3-1-1 2-2 2 0-1-3 2-2 3 2 1-2-1-1 3-1 0-1-3-2-2 0-2-2-1 1-1-1 0-3-1-1 1-1 0-3-2 0 0 1-5 4 1 3-2 2-3-2 0-2-2 0 0 3 2 3-2 1 0 2 4-2 1 2 3 0 1-1 3 3-5 3 1 1 0 4-2 1-3 4 0 1 2 0 0-1 2-1 3 2-1 3-4 5-1 0-1-2-1 1-2-1 1-2-1-3-3 0 0 1-2 1-2-3 1-1-1-2 1-2 1 1 3 0 1-1 1 1-2-5-2-1 1-5-1 2-2-1 2-3-1-3 1-2-3 0-5-4-3 4 3 2 1 2-1 1-5 0-1-1 1-2-4-3-1 1 1 1-2 2-1-1 0-7-3 2 1 1-2 2 0 1 2 0 2 2-1 2-3 0-1-1-5 1-3-2 1-2-3-2zM42 115l-2 1-2 5 1-2 2-1zM1037 114l1 0zM519 113l2 2-1 2-3-2zM180 114h0zM172 114l0 3-1 1 2-1 1-2zM147 118l1 1-1 2 1-1 3 0 6 6-1-1 0-10 1-1-1 0-4 5-2-2 1-1zM57 114l-1 0 0 1zM961 116l4-4 5 2 2 0 2-2 1 2 2 1 2-1 2 3-1 1-5-1-4 5-1-3 2-1 0-2-3 1-1-2 0 2-2 3-1-2zM930 113h0zM830 113l-1 1-2-1-2 2-2-1-1 4 3-1 1-3 3 1zM766 113h0zM734 113l1 2 5 0-1-2zM1029 112h0zM965 112l1-1 1 1-1 1zM731 112l0 1 1 0 0-1zM559 112l0 1 3 0 0-1zM457 111l2 3-1 2-3-3zM452 112l2-1 1 2-2 1zM119 112l-2 0-3 5 1 2 0-1 3-2zM72 112h0zM18 112l0 3 5 0 1-1zM889 111l1 0zM761 111l-1 0-1 2 2 0zM523 110l3 2-2 2-3-2zM99 111l0 1 2 1-1-2zM740 110l1 0zM1223 109l0 1zM1064 109l1 1 0-1zM985 109l-2 3zM841 109l0 2zM735 109l0 1zM564 109h0zM1062 108h0zM1061 110l-1 0-1-2-1 2-2-2-2 0-4 5-5-2-2 1-3-1 3 4-4 3-5 0-7-3-3 2 1 2-2 2 4 2-2 1-1 2-2-2-1 2-2 0-2-2 0 2 4 0 1 1-1 1 1 2-1 4 1 0 0-3 2-2-1-2 3-2 2 3 3-4 3 5 1-3-2-1 1-2 3 1 1 2-1 1 2 4 1-1 4 0 3-2 2 1 2-1 1-2-1-6 2-3 6-3 2 2-1 1 1 1 1-2zM1038 108l1 1 0-1zM946 109l0 2 3 1-1-4zM771 108h0zM738 108l0 1zM585 108h0zM567 108l1 2-3 1 1 1 2-1 3 5-1-3 2-2-3-3zM551 108h0zM463 108l1-1 1 1-1 1zM1149 106l2 2-1 3-2-1 0-3zM1083 107l0 2 2 1 1-2zM1013 107l0 3 5 3 0-1-2-1 1-2zM729 107l-2 1 2 3zM554 107h0zM536 107l1-1 3 1-1 1zM1129 106h0zM1051 106h0zM764 106l0 1 1 0zM541 106l1-1 1 1-1 1zM1090 105l3 2-1-2zM1028 105l1 0zM760 105l0 1 2 1 0-1zM531 105l1-1 1 1-1 1zM524 104l1 2-2 1-1-1zM453 106l4-2 3 5-1 1-3 0zM1239 129l-3 0-1 1-1-3-2 2-2-2 0-2 3-2-1-4-8-1 1 2 3-1 1 2-3 2 0 2-4 3-5-6-4 1-2-4-4 2-3-1 0 2-2 1-3-6-3 0-1 2-2-2 0-2-3 3-2-2-4 0-1-1-3 1-1-1 0-3-2-1-3 2-2 0 0 2-2 2-2-1-2 1-2-4-2-1-2 2-1-2 0 1-3 2-2-2 3-2 0-3-4 1-3-5-1 2-2 1 0 2-3 5-2 0-3-3 0-2-2-1 0 2 2 3-4 5 1 0 1-2 8 2 1 2-1 1-8 0-1-1 0 2-3 3 2 4-3 1-1 2-2-1 0-2-3 0-1 1 0 6 2 2 0 3-3 3-2-1-1 3 2 1 2 3-5 4-3-2-3 4 0 2-2 1-3 4-1-1-2 2-3-1-2 2-2 0-1 2-4 1-1 2-3 1-1 6-1 1-2-1 0 1 2 1-6 7-1-1-2 1 0 2-2 1 1 2-5 4-2-1-4 2 1 1-1 2 1 2-1 1-5-1-2 2 165 0 1-1 1 1-2-4 0 3-1 1-1-1-3 0-1-1 3-5 4 0 1 2 1 0 0-2-2-2 1-3 2-1 4 2 3-3 0-2-1 1-1-1-1 1-2-1 2-2-1-1 1-2-4 2-4 0-1-1 1-2-2-2 3-2 4 0 1 2 1 0 0-3-1-1 1-3-4 1-1-1 1-3 3 0 8 3 0-19-2 1-3-1-2 2-3-2 1-4 2-2-5-4 0-3 1-1 1 1 6 0 3 3-1 6 2 0 0-5-1-1 1-10-3 4-1-1-2 2-1-1 0-5 2-1 1 3 0-2 2-2 2 1-1-1zM1053 104l1 2zM966 103l1 0 2 3 0 3-2 2-1 0-2-3 0-3zM482 103l2 4-2 2-2-3zM1055 103l1 1zM1018 104l-1-1-1 2zM767 103l0 1zM575 103l0 1zM530 103l1-1 1 1-1 1zM1214 102l0 1 1 0 0-1zM1044 102l-3 4 0 2 4-2 1-2zM552 102l-2 1 0 1 2 0zM999 101l1 0zM767 101h0zM765 101l0 3zM1018 100l-1 1 1 0zM1008 129l-3 2-4-3 1-2-1-1-1 1 0 6 3 0 2 3-2 1-1 3-1-1-3 1 1 3-1 1 0 6-1 1-3-2 0-2-2-2-4 1-3-2 3-2 3 0 2-3 2 0 3-2-2-1-1-6-3 2-3 0 0 3 1 1-3 3-2 0-1-1 1-2-2-1-3 1-2 3 3 1 3-2 1 1-1 2 1 1-1 1-4 0-3-2-5 3-3-3-1 1-2-3 1-2-1 1-1-2 3-2 3 3 1-1 2 2-1-1 1-1-1-2 1-2 2-1-2-3 2-2 3 0-1-1 0-4 2-1 1-2 6 2 4-3 1-3-1-1 1-1-3 3-2 0-2 3-6-7 2-3-2 0-2 2-3 0-1-1-1 1-3-5 1-2-3-2-2 3-1 0-1-2-5 4 2 1 1 3-2 2-4 1 0 3-1 1-1-1-3 0 0 3 1-1 4 2-3 2 1 3-1 1-4-2 0-5-9 6-3-2 2-2 0-2 1-1 1 1 1-3-2 0-1 3-2-1-1-2-2 0-2 3-6 1-2 2-1 0-2-3-1 1-4-1 2 3-2 1-2 3-2-2 0-1 2-1-2 1-1-1 1-3-2 0-2 4-1-1 0-3-1 1-3-1 0 5-2 1 0 2 1 0 1 2-2 1-3-3 0-3-2 0-1 3-5 3 1 3-2 2-6-3-4-5-5 1-1-3-2 0 0 2-2 2-2-2-1 2 3 1-2 3 0 2 3 0-1-1 4-5 4 2 0 5-1 2 2 2-3 3-1-1 0-5-2-1-3 2-4-1 1 1-4 3 1 1-3 2-1-1 1-5 1-1 2 1-4-3 1-1-1-3-2 4-7 2-2-4 1-3-3 0 0 1-4 3 2 3-1 1-3 0-1-1 1-1-4-1 2 0 1 1-1 3 3 1-3 4-3 1-1-1 0-5 1-1-1-2-2 1-2-1 8-6-1-3-1 0 0 3-3 2-2-2 1-2-3 1-2-1 1-1-2-3 0-2-4 3-2-2 0-4-1 0 0 4-2 1-3 4 1 1 3-1 1 1 0 2-2 1 0 4 1 1-1 2-3-2 1-1 0-3-3 1-1 2-2-1-1 1-1-1 0-3-1-1 1-2-2-4 2-2-2-1-1-2-2 2-7 0-1-1 2 2-2 6 6-1 2 2-1 2-3 0 0 4-1 1 0 2 1 0 1-2 3 1 0 4-1 1-3 0-1-2-5 1-2-3-2 0-1-3 3-2-4-3-2 0-1 4-2 1-2-2 1-1 0-4 0 3-1 1-5-1-1 1 1 2-1 1-3-1-2-2 0-2-2 1-5-1-1-1 2-2 4-1 1-2-1-2-2 2-1-1 1-2-1 0 0 3-1 1-3 0 1 1-1 2-2-1-4 3-3-4 1-1-1-3-1 0 0 3-1 1-1-1-3 0-1-2-4-1 2 2-2 3-2 1-3 4-2 0-1 2 3 5 0 2-2 1 0 1 2 0 1 3-2 2-1 0-1-2-1 1-1 5-3 4 1 2-3 3-7 3-6 0 0 2-4 3-6 8-1 5-2 2 0 3 3 4-1 12 180 0 0-3-3-1 0-4-3-4-2 1-1-3 1-1 3 0 4 3 0 3 2 2-1-2 2-1 4-5-2-3 1-3 3-1 0-4-3-2-2 3-3-2 1-4-3-4 2-3-3-4 1-1-1-1 3-2 2 3 3-1 3 1 0-1-3-2 3-3 1 0 2 3 3-6 2-1 0-1-2 0-2-2-1 1-2-1-1-3 3-3 1 0 5 6 5 0 1 2 5 4 1-1 3 1-4 3-2-1-6 2 1 1 1-1 1 1 2-1 1 1-1 3 1 4 4-2 9 8 2-1 1 2 2-1-2-3 2-2-1-1-2 1-5-3 1-1 0-5 2-1 2 2-1 1 1 1 0 3 5 0 3-2 2 0 2 2 0 3 1 1 0 2-3 1-3-6-1 1 1 1-1 2 1 4-1 3-2 1-2 4 1 2-1 1-5 0-2 2-1 0-2-3-2 1-3-1-1-2 2-6-2-3-2 0-1 2 1 3-2 1 0 1 2-2 1 3-2 2-3 0-3-2 0 2 3 2-1 2 3 2-1 3 6 2 0-1-2-1 1-2 2-1 1-3 2 1 2 4 0 3 3 2-1 3 1 2 3 2 4-3-3-1 0-2 2-2 3 1 5-1-1-3-2 0-2 2-3 0-1-2 2-1 0-2 2-1-2-2 3-2 0-1-3-1 2-2 1 1 3 0 3 3 2 9 1 1 2-1 1 1-1 2 1 3-1 1-4-3-1 2-3 2 1 2-1 2 5 0 1-2 4 2 8 0 2-4 2 1 0 3 2 0 1-4 3-2 1 1-1 3 1 2 1-2 3 1-1-3 1-1 0-3 0 2-2 1-1-1 1-3-3 1-2-2 0-2-2-1-4 1-1-2-2 5-2-2 1-4-2-2-2 0 0 2-2 2-2-3 2-3-1-2 3-4-1-2 6-5 1-2-1-2 2-1 2 2-1 6 2 2 0-4 2-2 2 0 1-2 3 1 3 3 4 0 0-2-2-1 0-4 2-1 1 2 2 0 1-2-2-3 0-5 5-2-3-4 2-2 6 1 2 3 0 2 3 1-1 2 1 0 2-4 4-1 2-3 1 2 3-2 2 2 1-1 3 0 2-3 4-2-1-5 2-1 0-1-2-1 0-2 2-3zM910 100l-1 0 0 1zM725 100h0zM579 100l3 4 1-2-2-2zM531 101l2-2 2 0 1 2 2-2 1 1 0 3-3 2-3 0-1-1 1-1-1 0zM527 100l1-1 1 1-1 1zM542 99l2-1 1 1-1 2 2 1-3 1-1-1zM926 98h0zM601 98l0 1zM597 98l1 0zM1219 97l0 4 2 1 0-2zM732 97h0zM568 97l3-1 1 2-1 1zM889 96l-4 2 0 3 1 0 0-3zM565 96l1-1 2 1-1 1zM546 96l1-1 1 1-1 1zM531 96l1-1 2 1-1 1zM525 95l1 3 2 1-3 2-2-3zM479 96l3-1 1 2-2 1zM1205 95l1 0zM821 95l-1 0 0 1zM797 95l0 1zM535 95l3-1 1 2-3 1zM471 94l2 1 0 3-1 1-2-4zM461 95h0zM520 94l1-1 1 1-1 1zM741 93l-3 1-1 6 3-3zM521 93l1-1 1 1-1 1zM727 94l2 1 2-1-3-2zM592 92l2 3-1-3zM505 92l1-1 3 1-1 1zM573 91l1-1 1 1-1 1zM1215 90l2 3 3 0 1-1 3 2 1-1-1-2-1 1-3-1-2 2-2-3zM828 90h0zM526 89l1-1 1 1-1 1zM906 88l1 0zM1207 87l1 1 0-1zM813 87l2 3 0-2zM560 86l1 1 0 3-2 1-1-3zM790 86l0 1 1 0 0-1zM415 88l-3-2-1 3-2 1-3-1 1 6 3 0 2-3 3-1zM819 84l0 1 1 0 0-1zM851 83l0 2 3-1zM862 82h0zM840 82l1-1 1 1-1 1zM417 82l2 1-1 1 2 1 1 2 2-2 0-2zM874 81l0 2 1 0 0-2zM650 81l1 0zM667 80l0 1 1 0 0-1zM467 80h0zM303 78l0 1zM296 78l1 0zM898 77l1 0zM877 77l-1 1 1 0zM1211 76l-1 0 0 1zM889 76l2 1zM831 78l0 1 3 2 0 2 1-1 0-3 2-1 4 5 0 2-2 2 1 1 3-1 1-4-2-2 0-2 2-2-7 1-4-2zM649 76l1 2 1 0-1-2zM279 76l0 1zM1235 75l0 1zM848 75h0zM393 75l1-1 1 1-1 1zM912 74l1 1 0-1zM864 73l0 1 2 1 6 0 0-2-4 0-1 1zM685 73l-2 3zM666 73l-1 0-1 2 1 0zM648 73l1 0zM857 72h0zM617 72l1-1 2 1-1 1zM428 73l2-1-2 0zM294 72l1-1 1 1-1 1zM277 72l1 1 0-1zM996 71h0zM693 71h0zM516 73l1-3 2 2-2 2zM48 71h0zM1198 70l-1 1 0 3 1 0 1-3zM673 70l1 0zM616 70l1-1 1 1-1 1zM608 70l1-1 1 1-1 1zM564 70l1-1 1 1-1 1zM32 70l0 3zM6 70l0 3 1 1 4-2-3 0zM887 69l-1 0 0 1zM685 69l0 1 1 0 0-1zM677 69l-1 1 1 0zM618 69l1-1 1 1-1 1zM368 70l3-2 3 4-3 1-1-2zM325 69l1-1 1 1-1 1zM291 74l2-1 2 1 3-2 3 0 0-2-3 2-2 0-1-3-2-1-1 2 2 2zM501 66l2 2-1 3-4-2 2-1zM428 67l1-1 1 1-1 1zM310 67h0zM289 67h0zM247 67l-2 1 1 3zM237 67l-2 1 0 1 1 0zM527 66l-1 1 1 1zM641 65h0zM600 64l1 1-1 3-1-1zM457 65l1-1 1 1-1 1zM333 74l-2-3 1-2-2-2 1-2-3 0-4 6-2-2-3 0-1 1-1-1-3 1-1-1-2 2-3 0-2-3-1 0-2 3 4 3 0 3-1 1 3 2 6-8 5 4 1-2-1 0-1-2 3-2 3 6-2 1 1 2 1 0 1-2-2-3 1-2 3-1 2 3zM301 65h0zM133 65h0zM102 65l1 0zM47 65h0zM1216 64l-4 1 1 2 3-1zM1184 64l3 2 0-1zM459 64l1-1 1 1-1 1zM381 68l1-1-1-1 2-3 1 0 1 2 1-2 3 1-2 3-4 2zM282 64l1 2 0-2zM44 64l0 1 1 0 0-1zM5 64l1-1 1 1-1 1zM1226 63l0 1 1 0 0-1zM1161 63l-3 2 2 0zM616 63l1-1 1 1-1 1zM487 63h0zM408 63l1-1 1 1-1 1zM384 63l1-1 1 1-1 1zM87 63h0zM38 63h0zM1073 62h0zM484 62l0 1 1 0zM386 62l1-1 1 1-1 1zM1239 61l-2 4-1-2-2 1 0 2-3 2 0 1 2 1-3 1 2 1 2-4 2 1 3-4zM600 61h0zM451 62l3-2 2 0 2 4-1 1-3 0-2-1zM264 61h0zM32 61h0zM498 60h0zM461 61l1-2 2 1-2 2zM66 59l1 1-1 3-2 1-3-2 2-3 1 2zM1190 59l1-1 1 1-1 1zM269 59l-1 1 2 1zM117 59l-1 2 3 1zM93 59l-1 2zM90 59h0zM1074 58l0 2 2 0 0-1zM681 58l-3 4 4 0zM640 58l1-1 1 1-1 1zM71 59l-3 1-2-2-3 0-3 2-3-1 0 1-2 1 0 2 6 2 2 2-1 2 2 1 2-1 1-3 3-2 2-4zM8 58l1-1 1 1-1 1zM639 57l1-1 1 1-1 1zM634 58l1-2 3 1-2 2zM423 57l1-1 1 1-1 1zM317 57h0zM14 58l2-1-2 0zM1234 56l0 3 1-1zM1096 56h0zM422 56l1-1 1 1-1 1zM1194 55l1-1 1 2-1 1zM1133 55h0zM1063 55l-1 1-3-1-1 1-3 0 3 6zM640 55l1-1 1 1-1 1zM1116 54h0zM1091 54l0 1zM1067 54h0zM4 53l2 1 0 3-1 1-2-2zM1185 53l1-1 1 1-1 1zM1174 52l2 3-4 3-1-3 1-2zM1144 53l0 1zM1021 53l1-1 1 1-1 1zM626 53l-4 1-1 2-1-1-4 0-3 5-3-1-3 1-1-1-1 1 1 2-1 1-6 0-1-1-3 2-3-1-1 1-3 0 0 3-2 2-3 0-1-1-4 1-1-1 1-1-2 0-4 3-1-1-7 0-3 4-2-1 1-2-3 0-2 4-7-5-1 1-2-1-1 3-3 2-3 0-1-1-1 1-1-1-5 0-1-2-2-1-2 2-5-3-3 0-1 1-1-1-4 0-2-3-4 1-1-3-4 0-3 3-3 0-1-1 0-3-2 2-2 0 0 1-4 3-6-2-1-1 1-1-5 4-3-3 0-1 5-4 0-3-2 0-2 3-2 0-1 5-2 2 1 2 2-1 1 3-2 2-1-2-2 5 5 1 2 2 0 2-2 1 3 2-2 5-2 2-2-1-5 3 0 1 3-1 2 2-2 2-10 2 1 2-4 4 1 3-2 3-2 0 2 4 2 1-2 4-5-3 2-3-1-1-2 3-3-1-4 5 1 2-1 3-3 2 0 4 3 0 2 3 4 0 2 2-7 5 1 5-2 2-3-1-3 2-1-1 1-2-6 1 0 6-4 4 0 3-3 3-1 7-2 2 0 1 3 2 2 7-2 4 0 5-1 1 1 1-1 2 1 1 0 5 1 1 130 0-1-2 4-2 3 2 6 1 0-2-3-2 1-1-3 2-2 0-2-3 3-1-1-2 2-2 4 3 0-3 1-1-1-1-1 2-5-2 0-2 4-4 1 2 1 0 3-3 2 0 3 7 2 1-1 1 1 1 2 0 0-1 2-1-1-2-3 1-2-1 0-5-1-1 1-1-3-2-1-2-1 0-1 2-2-1 0-2 4-4 3 1 1-1-2-1 1-2 1 1-3-5 1-2-1 0-2-3-1 1-1-3 5-3 2 2 0 2 3 0-1-3 2-1 1-2 1 1 1-1 2 1 0-1-2-1 1-2-4 1-1 2-3 0-2-4-3 2-2-2 0-4 3-2 0-2-1 2-2-3-2 0-2 2-3-1-3 2-1-3 2-2-5 2-4-3 1-1-1-2 2-1 1-2-1-2 2-3 3 2 2 0 2-2 3 2 3-4 2 2-1 2 1 0 1-3 3 1-1-1 1-4-5-2-2 1 0 3-1 1-1-3-2 0-3-3 0-4 1-1-1 1-1-3-2 0-4 5 2 3 0-3 1-1 1 1 2-1 1 2-2 2 1 1-1 1 2 0 2 4-1 1-5-1-3-4-1 1-2-3 0-4 3-2-1-1 0-3-2-1 0-3 4-3 1-4 2-2 2 2-1 1 1 1 4 0 5-5 4 2-2 4-4-1 1 2-2 2 0 1 1 0 5-4 1 1-3 5 2-1 0-3 2-2 1 2 2 1 1-3-1-1 1-1 2 1 5-7 2-1 1 2 4-2 2-3 3 1 5-4 4 1 2-2 1 0 3 4 2 0 0-3 3-3 3 0 3-4-4-5 0-2-3-3 1-1-1 0-1-2 4-4 4 2-3 3 0 3 3 2 1 4 2 1 1-1 3 0 1-2-4-5 2-2 2 0 1-3-5-2-4 0-1-2 2-2 1 1 2-3 5 3 0-3 1-1-1-1zM617 53h0zM1219 51l1 2-2 2-2 0-1-2zM1212 52l1-1 1 2-1 1zM1042 52l2 0zM1022 52l1-1 1 1-1 1zM69 52l1 0zM29 52l1-1 1 1-1 1zM1151 51l-1 3 1-1 3 2 0-3zM1146 51l1 0zM1077 51l1 1-3 4 3 0 0-4zM1182 50l1-1 2 1-1 1zM381 50l1-1 1 1-1 1zM1157 49h0zM1060 49l0 1 1 0zM1052 49l0 2 3-1zM664 49h0zM465 49l1-1 2 1-1 1zM16 49l1-1 1 1-1 1zM1239 48l0 1zM1188 47l5 5-2 3-1-3-1 1-2-2 0-3zM1120 48l1-1 1 1-1 1zM667 48l-1 1 3 2 0-2zM46 49l1-2 2 1-2 2zM1193 46l1-1 3 1-2 2zM1086 46l1 1 0-1zM1082 46l-1 0 0 1zM1055 46l0 1 1 0 0-1zM1052 46l0 1 1 0 0-1zM315 46l1-1 1 1-1 1zM8 48l1-3 2 2-2 2zM494 45l0 1 1 0 0-1zM57 45h0zM1229 44l1-1 2 1-1 1zM1122 43l1 3-2 1-1-2zM1073 44l-2 1 1 3 2-3zM1032 44l-6 3-2-1-2 1-2 3-1 0-1-2-3 1 2 3-1 2 2 2 1-1 1 1-1 2 1 1 2-1 2 1 0 4 3 0-2-4 5-2-2-6 3-5 2 1-1 1 1 4 4-3-2 0zM657 47l-4-3-3 3-2-2-6 2-6-1-2 3 1 1 2 0-1-1 4-2 2 1 0 2-2 1 0 2-2 3-2-3-7-1-1 3 2-1 3 2-3 2 1 2-3 1-1 3 2 0 2 2 0 2 4-1 0-3 2-1-2-3 2-2 1 1 3 0 1-1 1 1 0 4 1-1 3 0 0-2-4-1-2-3 2-1-1-1 1-2 6 2 1 1-1 2 2 2 2 0 1-1-2-1 0-2-3-3 1-1 6 0 0-3zM1179 42l3 5-4 3-3-4 1-2zM1041 43l0 1zM1229 42l1-1 3 1-1 1zM1227 41l2 3-1 2 1 3-2 3-4 3-3-2-1-7 3-2 2 0zM666 42l2 3zM1235 41l2-1 1 2-2 1zM1182 41l1-1 1 1-1 1zM1176 39l1 2-2 1-1-1zM1164 41l-1-1-1 1zM1129 39l1 0 2 3-1 3-5-2zM1124 40l1-1 2 1-1 1zM1201 39l1-1 1 2-1 1zM1193 39l1-1 2 1 1 2-1 1-2-1zM1099 39l1-1 1 2-1 1zM491 39l1 0zM1183 37l1 2-2 1-1-1zM1166 38h0zM1128 38l1-1 2 1-1 1zM1053 39l0 1 5-1 5 2-4-3-1 1-3-1zM1035 38l-3 1 1 0 1 2 2-1zM92 38l2 2 2-1-1-1zM1223 37h0zM1205 37l1-1 1 1-1 1zM1191 37l1-1 1 2-1 1zM1074 37h0zM664 38l-2-1-4 4 4 1zM650 37h0zM645 38l0 2 2-1 3 2-2-3-2-1zM136 36l0 1zM1198 35l1-1 1 1-1 1zM1080 35l0 1 1 0 0-1zM1065 34l2 1zM110 34l0 2zM1210 33h0zM1157 33l2-1 4 3-2 2-2 0-2-2zM79 34l1-2 3 1-2 3zM92 32l-2 1-2-1 0 3-2 1 0 2 1 0 1-2 2 0zM1159 31l-4 2-1-1-6 5 3 5 3 2 2-1 2-4 5-1 0-4zM512 30l1 0zM1136 32l4-1 1 1 0 3 1-1 2 1 4-5-4 2-4-3zM331 29l1-1 1 1-1 1zM108 29l0 2 2 0 0-1zM1152 28l-2 1 2 0zM1140 37l-3 0-3-5-1 2 1 1-3 1-2-2 1-4-1 0-1-2-4 0 0 3 3 2 1 2-4 3-2-3-1 1-1-2 0 1 3 2-3 3-2-2-2 0-4 3-2 0 0 3-3 2-2-3-2 0-2-2 3-4 3 4 3-3 0-2 2-1 0-2 5-3 0-1-5 0 1 1-3 2-1 3-2 0-2-2 0-2-2 1 1 3-1 2-1-1-4 2-1-2-2-1 1 2-2 2 1 5 2 1 2 3 0 4 3-2 1 1-2 2 1 2 4 2 1-1 0-3-2-3 2-1 1-2 3 0 3-2-3-1 1-3 2 0 3 2-1 5 2 4 1 0 0-2 4-3 2 1 2-2 2 0 2 3 2 0 3-2-2-7 3-2 1 2 1 0-1-1 2-1zM1190 27l1-1 1 1-1 1zM1225 26l1 0zM1197 26h0zM1080 26h0zM37 26l1-1 1 2-1 1zM1175 25l1-1 3 1-1 1zM521 25l1 0zM1160 24l-1 3 3 0 0-2zM1144 24l-1 2zM1134 24l-2 0-1 2 2 1zM1084 25l0 2 2 3 6-1 1 2 2-3 1 1 2-1-2-3-4 0-4 2-2-3zM1227 23h0zM1060 23l-1 2 3 1 0-2zM1122 22h0zM306 22l1 2zM36 22l2-1 1 3-2 1zM1221 21l2 3 0-2zM1104 21l-2 0-1 3 1 1 3-2zM1135 19l0 1zM1110 20l2 1 1-1 2 4 3-1-3 0-1-1 0-3-3 0zM330 19l0 1zM16 19l1-1 1 1-1 1zM1174 17l4 3-2 1-1 3-3-3zM502 18l1-1 2 1-1 1zM1199 17h0zM1178 17l1-1 2 2-2 1zM535 17l2 0zM1229 16l1-1 1 1-1 1zM336 16l1-1 1 1-1 1zM332 16l1 0zM305 16h0zM17 16l1-1 1 2-1 1zM1216 15h0zM1130 15l-1 2 1 2-1 3 4-1 0-2zM1228 14l1-1 1 1-1 1zM1124 14l-2 0-1 3 2 1 1-1zM1154 13l1-1 1 1-1 1zM1097 14l0 2 3 0 2 2 0-3-3-2zM1086 13l-3 1zM1228 12l1-1 1 1-1 1zM1152 12l1-1 2 3-2 1zM1122 12h0zM526 13l1-2 2 1-2 2zM1227 11l1-1 1 1-1 1zM1143 11h0zM1090 11l2-1-2 0zM71 10l1-1 1 1-1 1zM1181 9h0zM1167 9l1-1 4 0 1 1-2 2-2 0zM25 9l1 0zM1216 9l3 1-1-2zM538 8l0 2 2 1 1 3 1-1zM325 8l0 2 1 0 0-2zM15 8l-1 2 2 3 1-3zM1208 10l-1 0-2-3-2 5 1 0 1-2 1 1 2 0zM1103 7l1 1 0 3 1 0 1-3zM1087 7h0zM555 7l1-1 1 1-1 1zM328 7l1 1 0-1zM122 7l1 0zM1228 7l-3 3 0 2 1 0 3 4-1 1 1 2 2-3 6 2 0 1-2 1 1 1-1 1-5 0-2-1 4 5 1 0 3-4 3 4-2 3 1 2 1 0 0-16-1 1-1-1 0-6-4 2-2-2 1-3-2 3-2 1-1-1zM1184 25l-1-1 1-3-2-5-5-1-4 3-4 0 2 2-1 2-2-2-1 1-2-1 1-1-2-1-1-2 6-5 3 3-1 1 1 0 2-3 0-3-3-3-2 2-2-1-5 1 3 2-2 3-3-1-3 1-3-1-1-2-3 0-1-1-2 1 2 1-2 1 2 4 5-1 2-2 2 1-1 5 4-3 2 0 1 1-1 1 1 3 2 2-1 2 2-2 1 1 4 0 4 3 2 0 0-1 3-2 1 2zM1142 6h0zM105 31l-1-2-5 0-1-1 0-4 2-3-1-2-2 0 0 3-1 1-3 0-4-3-1 1-2-1 2-3 2 0 0-2 2-1 0-1-5 4-2 0-1-2 4-3-2-2-2 0 0 1-2 2-1-1-2 3-2-2 2-4 3 1 0-1-1 1-2-1-1 1-5 0-1-1-5 1-1-1 0-3-4 0 1 1-2 2-8-2-2 1 0 1 3-1 1 1-1 2-3 1-5-2 0 2-5 3-2-2 1 2-1 2-2-1-2-3-5 7-2-1 0-5-2-1 0 6-3 1-1-1 2-4-7 0-2 1-3-1-2-2 1-1-1-1-7-2 0 2 5 1 2 2-2 2-1-1-7-1 0 37 1 1 0 3 2 1 0 3-3 2 0 3 2 0 0-1 2-1 1 1-2 3 1 2 2 0 1-2 2 0-1-2 1-3 2-1 0-3-3-1 0-3 1-1 1 1 1-1 2 1 1-1 1 1 2-1 3 2-1 2 2 1 2-1 2 2 3 0 1-1 3 1 2-1 2-3 4 6 2 0 1-1-4-5 2-3 2-1 1 1 3 0 1 2-1 1-2-1 2 2 0 2 3 0 3-3-2-4 2-3 2 0 0-1-3-1 3-5 2 1 0 2 4-2 1 1-1 2 4-2 0-3-2-2 1-1 3 0 0-1 2-1 1 1-1 3 1 0 1-3 3-1 4 3-1 1 1 1 0 4 1 0-1-2 5-7 2 0 2-7 1-1 1 1 3-4 3 1-1 3 3 0 3 5 1-2 1 2zM545 5l1-1 1 1-1 1zM72 5l0 1 1 0 0-1zM32 4h0zM24 7l2 0 1-2 3 1-4-2zM1135 3l1-1 1 1-1 1zM588 3l0 1 1 0zM1158 52l2 2-1 1 1 1 1-1 2 1-2 4 1 0 2-4 1 1 1-1 1 1 4 0 3 2 6-2 1 2-2 1 0 1 2 1 3 0 1-1 2 1 0-1-3-2 3-2 3 2 0 2 1 0 1-2 4-1 3 2 1 2 3 1-1 1-3 0 2 4 2 0 4-2 1-2-2 1-3-3 1-2-2-6-7-5 2-3 2 0 2 3 4-2 2 4 0 3 2 1 1-1 3 4 2-1 8 0 2-2 2 1 5-1-1-3-3-2 5-2 1 1 0 5 3-1 2 1 0-2-3 0-3-4 1-1 3 1-1-3 3-1 0-11-2 1-2-2 1-1-2-1-3 3 1 1-2 1 0 1 2 1-1 1-4 0 1 2-2 2-3-3-2 1-3-3 2-3-1-3 1-3-1 0 0 2-2 2 1 1 0 3-3 1 3 3 0 2 3 2-3 3-2-1 0 2-3 2-1 2-4-4 1-1-1 1-1-2-1 1-2-1 1-2 3 0-1-1 0-3 1-1 3 2 1 3 1-1-1-1 1-3-1-1-1 1-4-3-1-7 1-1 2 1 3-2 1 3 2 0 0-2 2-1-3-2-2 0-2-2 1-2-2 0-4 3-3 0-1-1-1 2 1 6 4 0 1 1-1 1-5 0-5 4-2-3 1-2 3-1 0-1-2 0-1-2-3-2 2-1-2-4 3-1 1 1-1 2 1 0 1-3-1-2 4-3 0-2 3-5-3-4-3 2-1-1 1-3-5 0-1 1 1 1-1 2 3 1-6 6 0 2 3 3 0 2-2 2 1 3-3 1 2 4-1 1 1 5-1 1-4-1-2 3-2-1-2 1-1-2-1 0-1 3-3-1-1 1-3 0-1 1 1 1 0 3-2 1 2 1-3 1 1 5-3 1-2-3zM1142 2h0zM539 2l1-1 1 1-1 1zM341 2l1-1 1 1-1 1zM1231 1l-1 1 1 2 2-2zM1173 3l4-1 6 3 0-1-2 0-2-3-3 0-1 1-1-1zM1222 0h0zM1219 0l-2 0 1 6 0-5zM1204 0l-1 2 1 0 1 2 1-1zM1144 0l2 1-1 1 2 1 0 1-2 1 1 1 1-2 1 0 1 2 4 0 1 1 2-1-2-5 1-1-1 0 1 2-2 2-3-1-2-3zM1140 0l-10 0 0 3 2 1 1 2-1 1 2 2-2 2 2 2 2-2 0-2 3-2-1-5 2-1zM1120 0l0 3 1 0 1 2-2 3-3-1 1 2 2-1 4 2 2-3 3 1 0-1-3 0-3-3 2-1-1-3zM1115 0l-1 0-1 2-2 0-2 3-1-2-1 1 1 2 2-1 1 1 0 4 2 3 1-2-2-3 3-4zM1101 0h0zM1091 0l3 4 4 2 0-4-1-1 1-1zM1080 0l2 1 3-1 3 3-2 1 0 1 2 0-1-1 1-1-1-3zM577 4l5-4 3 2 3-2-10 0zM308 28l2-2 1 1-1 3 1 0 3 4-2 5 2 1-2 2 3 2 3 9 2 1 1 3 2-1-2-1 4-4 2 0 2 2 0 3-2 1 0 1 2 0 2 2-1 2 3 1 3 4 1 0 3-4 2 3 5 0 2-1 1 2 2 0-1-3 3-1 3 2-2 3 2 1 1-2 2-1 1-3 4 5-1 1-3 0-2 2 1 1 3 0 8 5 3-1 3 1 0-2-2-2 1-2 2 0 2 4 4-2 2 2 4 1 1 1 0 3 2 2 5 1 2 2-2 1 0 5 2-1 2-3 2 0 0-2-5-4 1-2 3-1-1-1 1-1 3 2 1-1 2 2-1 5 4 0-4-6 1-2 3 0 6-3 2 2 3-1-3-1-3-3-4 0-1 1-1-1 2-5 2 1 3-1 0-1-3-2 2-3 2 0 3 6-3 2 3 0 2 3 3 0 1-2 3-1 0-2 2-2-1-1 1-2 1 1 2-1 4 2-1 1 1 1-1 1 1 2 1-1-2-1 1-1 3 1 4-1 1 1 3 0 4 3 6-1 1 1 3-3 0-4-2-2 4-2 1 1 3-2-1-2 1-1 3 1 3-1 1 1-1 2 1 1 2-1 0-3-5-3 0-3 5-2 1 1 5-3 0-1-4 1-2-2 7-2 3-5 2-1 2 1 1-1 1 2 1-1-3-4 2-2 1 1 3 0 1-2 2 0 3 4 4-1-1-1-1 1-3-2 4-5 3-2 4 3 2 0 2-2 2 0 2 2 1-1 0-4 3-1-2 0-1-2 3-1 2 2 2-2 1-6-2 1-3-1 2-2 5 0-1-3 1-2 5 1 2-2 1 1 0 3 4 2-1 3 3 2 3-2 0-3 2-3 2 1-1 3 1 2 1 0 0-3 2-2 2 0 3 2 2-2 0-3-1-1 1-1 3 1 0-1-5 0-1 2-4-2-213 0-1 1-2-1-8 0 3 2 2 0 2 2-1 5 1 0 1 2 4 0 1 1-6 3-2-2-2-5-2 0-2 2-3-1-1 2 2 3 0-2 2-2 2 2-1 6-2 1 1 1-2 4-5 1-1-1 0-3-2 2-3-2-1 5-2 1-1-1 1-2-1-1-5 0-2-1zM34 0l0 2 1 0z"/>
<path fill="#e4ee1e" stroke="#e4ee1e" fill-rule="evenodd" d="M1193 203h0zM860 202l0 1zM505 202l2 1zM449 202l1-1 1 1-1 1zM845 201l1-1 1 2-1 1zM472 203l-1-2-2 2-2 0zM848 200l1-1 1 1-1 1zM515 200l0 1 1 0 0-1zM846 199l1-1 2 1-1 1zM210 199h0zM848 198l1-1 1 1-1 1zM487 198l1 1 0-1zM477 197l1 6 4 0 1-2-4 0zM473 196l0 1 1 0 0-1zM235 196l-3 1 1 6 0-1 3-2 0-3zM223 197l0 2 4 1 0-3-2-1zM492 196l3-2 1 1-1 2zM216 194l-1 0 0 1zM211 194h0zM423 193l1-1 1 1-1 1zM445 192l1-1 1 1-1 1zM1208 191l0 1zM504 191l1 1zM230 191l1 2zM842 188l2 2-2 4-1-1 0-4zM837 189l1-1 1 1-1 1zM534 189h0zM477 189l2-1 1 2-2 1zM532 188h0zM481 188l1-1 2 2-2 1zM472 188h0zM1205 187l0 1zM491 187l1-1 1 1-1 1zM855 187l2 3 3-2 2 1 0-1-3 0-2-2zM461 186l1-1 1 1-1 1zM483 185l2-1 1 2-2 1zM1201 184l1 0zM230 184l-1 1 1 0zM517 183h0zM475 182l2 1-1 3-3-1zM158 182l1 0zM935 181h0zM523 181l0 2 1 0 0-2zM459 181l1 0zM838 180l1-1 1 1-1 1zM831 180l1-1 3 1-1 1zM516 180h0zM424 180l1-1 1 1-1 1zM235 180h0zM220 180l2 2 3 0-1-1-1 1-1-2zM1174 178l5 4-4 4-2-1 0-6zM501 180l0 2 3 1 6 8 0 6 1 1 3-3 1-3 5 4 2-2-1-1 2-1 1-2-2 0 1 1-2 1-1-1 0-4-1 2-2-4-2 1 1 1-3 2-1-1 1-2-3-1 0-3-2 0-2 3-1-2-3-2 2-2 2 1 0-1zM467 178l2 1-2 3 2 3-1 3 2 2-1 1-5-1-2-2 1-3 2-1-1-1zM1154 178l1-1 2 1-1 1zM1152 178l1-1 1 1-1 1zM1150 178l1-1 1 1-1 1zM520 180l3-2-3 0zM239 176l2 3 1-1-1-2zM1227 175h0zM861 175h0zM851 175l0 1 1 0zM163 175h0zM1193 174l-3 1-1-1 1 3-1 2 2 1-1 1 2-1-2-3 3-2zM251 174l-1 2 1 0zM99 174l2-1-2 0zM1165 172l1-1 4 0 1 2 2 1-1 1 1 2-1 1-2-3-1 1-2-1zM1137 172l-1 2 1 2-5 4-5 0-1-1 0-2 2-2 4-2 1 2 1 0-1-2 3-2zM860 172h0zM126 172h0zM862 171l1 0zM253 171h0zM1157 170l1-1 3 0 2 3-3 1-1-2zM834 169l2 2-2 3-2-2zM445 170l1-1 1 1-1 1zM186 170l1-1 1 1-1 1zM1237 169l1 0zM1209 169l1-1 1 1-1 1zM1140 169l1-1 1 1-1 1zM473 169l0 1 1 0zM192 169l1-1 1 1-1 1zM56 169l-1 1 1 0zM466 168l1 1zM246 168l-1 1 1 0zM1176 166l1 1-1 3-1-1zM843 167l2 3 3 1-1-3zM510 168l7 3-2 2 0 4 1 0 2-3 3-1 3 3 3-4 3 2 1-2-3 0-2-3-4 3-1-2 2-1 0-2-3 0-2 3-5-3-1 2zM198 166l2 0 2 2-1 2-2 0 1 2-1 1-5-3zM170 166l1 2-4 2-1-1zM63 167l0 1 1 0 0-1zM747 166l1-1 1 2-1 1zM727 166l1-1 1 1-1 1zM195 166l1-1 1 1-1 1zM186 166l1-1 5 2-4 2zM1116 166l3-2 1 1-1 2zM824 165l1-1 1 2-1 1zM445 165l1-1 2 1-1 1zM1174 166l0-2 2-1 1 2-2 2zM849 164h0zM775 163l2 3-1 1-3-1zM498 164l1 5 1-1 1 1 3 0 1-1-1-2-2 1zM237 164l2-1 1 2-2 1zM190 164l3-1 1 2-3 1zM852 163l0 1zM532 163l1 1 0-1zM3 163l0 2 2 0 0-1zM840 162l1 1 0-1zM747 164l1-3 2 2-2 2zM493 162l0 1zM188 162l1-1 1 1-1 1zM1125 160l4 2 3 4 1-2 3 1-2 4-2-1 2 3-1 2-2-1 0-2-2 1-2 3-1 0-1-2-4 1-2-2 3-5 2 0 1 2 2-1-3-5zM537 161l0 1zM527 161l-2 3 1 1 2 0 1-2zM471 162l2 2 2 0 2 2 0 2 3-1 0-4-1-1-4 1-1-2zM446 160l2 2-1 2-3-2zM234 161l2-1 2 3-1 1zM180 161l1-1 1 2-1 1zM1155 160l1-1 1 1-1 1zM1134 163l0-3 1-1 2 0 3 2-2 1-1 3zM801 160l1-1 1 1-1 1zM209 160l1-1 1 1-1 1zM81 160l-3 1 0 2 2 1 1-2 1 1zM65 160l0 1 1 0 0-1zM1168 158l2 4-1 1-2-1 0-3zM497 159l2 0zM232 158l2 2 0 3-2 3-3 2-4-3 4-3 0-2zM176 158l1 0 2 3-2 2-3-2zM1184 158l1-1 1 2-1 1zM948 158l0 1 1 0 0-1zM453 159l1-1 2 2-1-2zM69 158l0 1zM67 158h0zM1161 156l1 1 0 4-3 1-1-1zM192 156l1 3-1 2-2 1-1-3zM114 157l1-1 3 1 1-1 2 2-1 1 3 1 1 5-1 1-2-2-3 0-1-1 0-4-1-1-1 3-1-1zM7 157l-1 2 2 0zM1221 156l-2 1 0 5zM847 156h0zM536 156l0 2 2-1zM246 156l0 2zM182 155l2 1 0 3-1 1-3-3zM232 155h0zM109 156l1-2 2 1-2 2zM801 155l4-2 3 1-3 4zM475 154l-2 0-2 2 0 2 4-1-1-2zM207 153l2 0 2 2 0 3-2 2-2-2 0-3-1-1zM1171 153l1-1 1 1-1 1zM826 153l1 1 0-1zM79 154l2 2 3 0 1 1-2 2 3-1 2 2 0 5 0-2 3-3 3 2 0 2 2-2 3 0 0-4-2-1-2-3-3 6-2 0-1-2-2 0-1-1 1-2-3-2-4 0zM1135 154l2-3 1 0 1 2 1-1 3 1 0 2-4 2zM801 152l1-1 1 1-1 1zM529 152l0 1zM422 166l0 3 3 4-1 2 3 3-1 2-1-1-2 1 3 5-2 1-2 3 0 3 2 2-1 2 2 3-2 3 2 1 39 0 1-2 0-5 2-4 3-2 0-3 2-2 3 2 0 4 5 0 1 3 1-1 1 1 5-1 0-2 2-2 3 4-1 1 1 7 2 0 4-2 3-4 2 1 0-2-4-1-5-4 3-2 2 1 1-1-4-2-1-3-2 0-2 3-5 1-2-3-3 1-1-1 0-3 4-3 2 1 1-1-1-2 2-2 2 2 0 3 4-3 3 0 1 2 4 0 2-2 2 1 1 2 1-2-1 1-1-1 1-3-3 0-1-2-3 3-2 0-3-4-3 0 1 1-1 2-4-2-2 2-2 0-1-1 0-3-1 0-1 2 0 7-1 1-6-4 1 3-2 1 1 1-2 1-1-2-2-1 0-3-3 0-4 3-1 2 2 3-1 2-5 3-3-3-6-3 1 5-3 2-2-2 0-2 1-1 1 1-1-1 4-8 1 3 2 1 3-1-3-2 0-5 1-1-2-3-3 2-2-2 0-2 1-1 2 1-2-4 0-3-2 0-1 2-3-6 2-1 0-2-4 0-1 1 3 2-2 2-3-1-1 2-3-1-1-2-2 0-2 4-4 3 0 2zM107 152l1-1 2 3-2 1zM797 151h0zM783 151l1 0zM748 151l1 0zM493 151h0zM212 152l2-2 2 1 1-1 1 1-1 2-3 1zM119 151l1-1 6 4-2 2-3-1zM104 151l2-1 1 2-2 1zM794 150l-2 1 2 0zM455 150l2 4 3-1-1-2zM448 151l1 1 2-1 0-1zM101 150l1-1 2 1-1 1zM1166 152l2-4 1 0 2 3-1 2-3 0zM1154 148l1 2 3 2-1 3-4-4zM842 149l0 5 3 0 0-3 1-1-3 0zM221 149h0zM166 149l1-1 1 1-1 1zM1154 148l1-1 1 1-1 1zM847 148l2 1zM75 148l-6 5 0 1 3 0 3 3-2 1 0 1 3 0 0-3-1-1 1-1 0-5zM523 147l1-1 1 1-1 1zM229 147h0zM205 147l1-1 1 1-1 1zM119 147l3-1 1 2-3 1zM83 147l-1 3 2-2zM1216 146l0 2zM921 146h0zM843 146l1 1 0-1zM811 146l0 1 2 0zM530 146l1 1 0-1zM216 146l1-1 1 1-1 1zM209 145l2 3-1 2-1 0-2-3zM1147 145l1-1 1 1-1 1zM780 145h0zM740 145l1-1 1 1-1 1zM136 145l1-1 1 2-1 1zM113 147l1-3 3 2-3 2zM765 145l1-2 2 1-2 2zM494 144l0 2 1 0 0-2zM469 143h0zM223 143l1 2-1 2 3 1-3-1 2-2zM180 143l0 3zM127 144l1-2 2 1-2 2zM146 142l1-1 1 2-1 1zM519 141l1-1 1 1-1 1zM540 140h0zM460 140l-4 1 0 1-2 1 0 3 1-2 1 1 1-2 2 0zM219 140l1 3zM180 140h0zM130 142l1-3 2 2-2 2zM819 139l1 0zM533 139l0 1zM185 139l0 3 2 0zM903 138l-1 0-2 6zM465 138h0zM455 138h0zM195 138l-5 3zM1220 137l0 1 3 1-1-2-1 1zM1151 137l1-1 3 2-3 1zM764 138l-1-1-1 1zM754 137h0zM510 141l0 1 6 1 1 1 0 3 5-1 3 3-1-4-3-2 2-3-1 1-4-3 1-1-2 0-2 3-2-1zM504 138l3 2 2-1-1-2zM461 137l1 0zM909 136l-1 1 1 2 1 0zM1212 135h0zM700 183l1 12 2 4-2 4 147 0 3-3 2 0 1 2-1-2 2-2-2-3-1 1-1-1-5 0-2-3 3-3-1-4 3-2-2-4-3 1-1-2 3-3 2 0 0-1-3 2-7-6 1-5-2-2 0-2-5-3 3 4-2 1-1-2-2 0-2 2 1-1 3 5-3 1-2-2 1-1-4-3 0-3-3-2 2-4-2 0-3 3-1-1-3 1 1 2-2 1-3-2 1-4-2 0-3-3-1 1-1-1-5 0 3 4-1 1-3 0-1-1 1-1-2 1-2 3-2 0 1 1-1 1 2 1-1 2-5-2 0-1 2-1-2-1 1 1-2 1-1-2-3 1-2-2 0-2-3-1 0-5-2 0 0 3-2 4 1 1 2-1 4 6 3 0 1 1-1 2 1 1-2 2-3-4-9 1-4-2-5 7-7 0-1-1-2 1-3-5 1-1 1 1 2-1-1-1 1-5-1 1-3 0-1 2-2-1-1-3 2-1 0-2-3-1 0-3-1 0-2-3 1-1 5 0 3 4 2 1 4 0 2-3 6 2 2-3 6 2-3-4 3-1 1-3-3 1 1 1-3 2-1-1 0-3 1-1-1-1-4 5-4 0-2-2 2-3-2-3 0 2-2 2-2 0 0 3-1 1-4 0-4 2-1-2-3 2-3-1 3 3-1 2 0 5-3 1-7-2 1 0 3 4-1 1-2-1-2 3 0 3-2 2-8-1-2 1-2 3-3 0-6 6-1 3-3 2 1 1zM522 135h0zM514 135l0 1zM93 148l0 1 2 0 3 4 3-2 3 5 3 1 1 6-2 1 0 1 3-1 2 3 3-1 3 2 1 3 2 0 0-1 3-2-1-1 1-1 6 0 1-1 2 1 3-1 0-1-2-1 2-2 3 5 5-1 2 2 2-1 1 1-1 1 1 0 1-2 3 1 1 2-3 3 0 1 2 1 1-1 1 1 3-1 0-3 2-1-1-2 1-1 3 0 2 2-1 5 2-2 8 1 0-1 4-2 1-3 2-1 1 3-2 1 1 0 1 2 2 0 1-2 3 2 1-1 3 2-1 3 2-1 1 3 2 1 2-3 2 2 1-2 3 0 1-1 0-3 6-5 2 2 0 4-1 1-4 0 2 4 4 0 2 2-1 1 1 6 2-1 2-3-2-5-1 1-1-2 2-1 1-2 2 0 2 2-1 1 1 2 1-2-2-3 4-5 5 4-5 4 4 1 3-2 0-1-2-1 3-1 0-1-2-1 3-4 4 2 0 4 3-4-1-10-4 0-2-2 1 1-2 2-7-3-5 2-2-1-1-3 1-2-2-3 3-2 0-1-3-1 0-2-3-3 0-3-2 1 2 3-1 3-4 0-1-1 1-3-1 0-1 4-2 2-4-2-5 0-2-1-3 4-4-2-3 1-1 4-2 2-3-2 1-2-2 2 1 1-1 2-3-1-1-5 5-6-1 1-2-4-3 0 1 2-1 2 1 1-2 1-2-2 0-2-4-3 1-1-2-1 0 2 2 2-3 4-5-4-1 2-7 2-1-2-4 0-1 3 2 1 0 2-3 2-2-3-2-1 1-2-4 2-2-1 0-4-3-2 0-3-2 0 0 2-4 2-4-3 0 4-3 3-7 0 0 1-2 2-1-1 1 1-3 2-1-1 1-2-1 0-1-2-2 2-2-1-2 2-2 0-1 2zM1229 134h0zM508 134l1 0zM492 134h0zM919 133l-1 1 1 1-2 1 0 2 3-2zM1215 132l1 2-2 1 3 1 1-3zM962 132l0 1zM907 132l1 2 1-1zM460 132l-2 1 1 1zM512 130l0 1 1 0zM960 129l-2 1 2 0zM515 131l3 0 1-2-1 1-2-1zM1212 128l0 1 1 0 0-1zM1199 127l1 1-1 3-1-1zM1143 128h0zM957 128h0zM916 127l0 1 1-1 1 1 0-1zM475 127l1 0zM1148 125l-3 2 1 2 1-2 2 0zM942 125l-3 2 2 1zM488 125l-1 2 1 0zM1157 124l1-1 1 1-1 1zM1041 124h0zM539 124h0zM957 123l-4 3 4-1zM458 124l3-1zM473 122l1 1 2-1zM449 122l-1 1 2 1zM500 121l1 1zM1027 118h0zM512 117l-1 1 1 0zM1218 153l-1-2-2-1-2 3-2-2 0-3 3-2-4 0-3-4 2-2 1 0 1 2 0-1-3-2 2-2-3-2 1-1-2 0 2 2-2 2-2-1-2-4 1-5-2 0-2-2-3 1 1 2-1 2-4-3-1 1-3-3-3 2-1-3-3-2-3 0-1 2-2 1-2-1-1-3-2 0-1-2-2 0 2 3 0 2-3 2-5-5 2-2-1-1 1-1-1-2 0 3-2 4-4 1-2-2-3 0 3 2 0 2-3 1 0 2-2 1 2 6-1 2-2 1-2-2-7-3-3 2 0 1 2 1 0 2 2 1-1 2 1 4-2 1-3-3 0-3 1-1-1-2-4-3 2 2 0 2 2 1-2 2 1 3-2 1-2 3-3 1 2 3-3 1-2 5-2 1 0 2-1 1-5-1-1 1 1 2-1 1-3 0-1-1-3 3-4 0-1-1-9 6-1 2-2 0 0 1 3 2 0 2-2 1-2 4-3 1 0 3 1 1-4 4-2-1 1 1-2 4-2 0-1 2-7 1-1 1 1-1 3 0 1 1 108 0 1-1-3-2 1-2 3 0 2 3-1 1 1-1 5 0 2-6-2 0-2-3-2 0-1-1 0-3-3 1 2 1-1 2-3 0-2-3 1-3 3-2 0-3 1-1-2 0 1 1-1 1-3 0-1-1 0-5 3-1 0-4 1-1-1-1 0-3 1-1 3 1 2-1 1-2 8 5 1-1-1-2 2-1 2 3-1 3 3-1 2 1-2 3-1-1-3 1 0 2 3 0 1 1 1-1 6 0 3-3 0-3-2-1 2-3-1-4 3-4 0-3zM509 114h0zM511 112l0 3zM480 111l0 2zM507 112l-3 0-1-2-1 0-2 2-1-1-3 2 3 0 2-2 2 3 2-1 1 1zM498 106l-2 1 2 0zM487 106l-2 4 5-1 2 3 0 3-1 1 1 2 2 0 1-3-2-1 1-2-1-4zM500 106l2-1-2 0zM471 105h0zM491 97h0zM487 97h0zM516 96l0 1zM489 96h0zM491 95h0zM557 93h0zM555 90l-1 1 1 0zM475 89h0zM532 88l-1 3zM499 88h0zM483 86l1 0zM582 83h0zM544 83l3-1 1 3-2 1zM540 83l3-1 1 2-2 1zM514 80l1-1 1 1-1 1zM580 78l1-1 1 1-1 1zM567 78l0 4 3 1 2 3 2-3-3 1zM560 78l1 1 0-1zM607 76l0 2 4 2 1-1-2-3zM602 75l-3 2-2-1-1-2 0 3-1 1-5-1-1 2 1 4 1 1 5-6 2 3 2-1 0-3 2-1zM523 79l3 2 2-3 1 1 0 3 4 0 3 2 1-1 3 1 2 2-2 4 4 0 2-2 6 1-4-3 4-4 2 2-1 2 1 1 3 0-1-1 3-4 3 1 2 4-2-5-4-1-1-1 1-1-3-1-3-3-3 0-1-1-2 1 1 3-2 3-4 0-1-1 1-2-1-2-1 0-1 2-3-2 0 1 3 2-2 2-2 0-1-2-7-5 0 2zM502 74l0 1zM585 73l-3-1-3 2 2 3-2 1 1 1-1 2 7-5zM575 76l-1-3-1 1-1-2-7 3 4 1 1 2 2-1 1 1zM511 71h0zM387 71l1 1 0-1zM481 83l1-1 2 1-1-1 4-4 4-1 2 3 3 2 0 1-3 2 1 1-1 2 1 2-1 1 3 0 0-3 3-3 4 2-2-1 2-3 1 0 2 3 1-1 1 1 3-1 2 2 1-2-2-1 5-3 1-2-1 0-1-2 0 1-2 1-4-5-1 1 0 4 1 1-1 1-5-1 0 1-2 1-5-3 0-3 1-1-1-2 1-1-2-1-5 1-1-2-1 0-2 3 1 4-1 1-2-1 0 1-2 1-1 2-2 0zM597 66l-3 2 1 4 1 0-1-1 0-3 2-1zM405 60h0zM468 54h0zM378 53l1 0zM462 52h0zM36 51h0zM4 51l1 0zM443 50l1-1 2 1-1 1zM440 50l1-1 1 1-1 1zM358 49l1 2-2 1-1-1zM377 49h0zM364 49l1-1 2 1-1 1zM420 48l1 0zM1173 47h0zM436 48l1-2 2 1-2 2zM425 47l2-1 1 2-2 1zM401 46l3 2-2 2-3-1zM42 47l2 0zM359 47l3-2 2 2-2 2zM427 45l1-1 1 1-1 1zM22 45l-1 2 4 3 1-1-1-1 2-1-3-2zM462 43l1-1 1 2-1 1zM452 41l1-1 1 1-1 1zM365 40l3-1 1 3 3 3-2 2-3 0-2-4zM2 39l1-1 1 2-1 1zM477 38l2 0zM377 37l2 2-2 1 0 3-1 1-3-3 2-1 0-2zM2 38l0 3 1 1 2-2zM323 37l1-1 1 2-1 1zM22 36l1-1 1 2-1 1zM328 35l1-1 1 1-1 1zM32 34l2 5-4 2-1-1 0-3 1-2zM5 35h0zM42 34l1-1 1 1-1 1zM451 33h0zM433 32l-1 3 1 3-2 2-3-1-1 1-4 0-2 2-4 0-1-1 1-2 4-1 0-2 2-2 7 0 1-1-2-1 1-1zM404 33l3-2 2 0 3 2-2 2-5 0zM489 31h0zM403 30l2 2-3 3-1-3zM350 30l3 1-1 1 2 1-2 2 0 2 3 2-3 5-3-2 1-2-1-3-2-1 3-4-1-1zM74 31l0 1zM492 29h0zM463 29l1-1 1 1-1 1zM419 28l2 4-1 3-6 4-2-1 1 3-1 1-3 0-1-3-3-1 2-1 1-2 1 2 1 0 3-4 3 1 1-1-1-2 1-2zM348 29l1-1 1 2-1 1zM369 28h0zM22 28l1 0zM13 28l2-1 1 2-1 1zM473 26l2 2-4 2-1-2zM473 26l1-1 1 1-1 1zM462 33l2 4-3 2-2 3-3-2 0-1 4-3 0-1-2-1-2 2-3-1-1 3-3-1 1-2-2 1-1-1-2 2-1-1-3 0-1 1 2 3 2 1 4-3 4 0 1 1-1 2 1 1 3-2 2 3-2 1-1 2-4 0-4-2-1 1-3 0 0 2-2 2-1-1 1-2-3-2 0-3 1-1-3-4 6-5 1 1 4 0-1-1 0-5 1-1 4 2-3 2 1 2 1-1 4 1 1-3 2 3 2-1zM391 26l1-1 3 0 2 2 0 2 3 2-2 2-1-2-2 1-1-1 1-2-3 0zM494 24l1 0zM411 24l1-1 2 1-1 1zM369 23l4 2-1 3 2 2-1 1-3-1 1 1-2 3-4-2zM355 23l2 0 2 2-1 4-2 2-3-4 0-2zM73 24l1-1 1 2-1 1zM414 23l1-1 1 2-1 1zM360 23l1-1 1 2-1 1zM445 22l1-1 3 1-2 2zM367 22l1-1 1 1-1 1zM27 23l3 1 0-2zM503 21l0 1 1 0zM444 20l1-1 1 2-1 1zM456 18l3 2-2 3-2-2zM459 18l2-1 2 3-1 1-2-1zM513 17h0zM499 17l-2 1-1 2 1 1zM442 17l3-1 1 2-2 2zM431 17l2-1 1 3-2 1zM349 17l-1 0 0 1zM414 16l1-1 1 1-1 1zM440 14l2 2-1 1 3 7-2 2 1 2-2 1-1 2-2 0-2 3-3-3-3 0-1-1-1 1-2-2 0-4 4-2 1 1 0 4 7-2 2 1 0-2-2-2 1-2-3-2 1-2-1-1 2-2zM360 14l1 2-3 2-1-2zM486 15l3-2 2 1-1 2-3 0zM408 18l2-5 4 2 0 2-2 2-3 0zM400 14l1 1 0-1zM482 12l1-1 1 1-1 1zM436 14l1-3 2 2-2 2zM82 27l-1 0-2-3-1 1-3-2 1-1-1-2 1-5-3-2-3 2-8 2-1-1 2-2-1 0-1 2-2 0-3-4-1 1 2 4-1 6-2 1-2-4-3 4 0 3 2 1 0 3-1 1-2-1-4 2-2-2-7 4-2-4-2 1-1-1-2 2-8 2-2-4-2-1 0-1 2-1-1-4-4-2-3-4-3 0 2 3-4 2 0 2 2 3-2 1 0 4 3 1 0-1-3-1 4-3 2 2 2 5-1 4 5 1 2 2 6-2 2 2 0 2 4-1 2 5 3-1-1-3 2-2 2 2 0-2-4-3 1-1 3 1 0-2-3-2 3-2 3 1-1 1 0 3 2 1 1-1 5 0 2-1 0-1-2-1 0-3 1-1 4-1 4 3 1-2-1-1 3-2 1 1-1 2 4 0 1 1-1-2 0-3 1-1 1 1 1-1 5 0 2 2 4 0 1-1 2 1zM403 11l0 1 2 1 0-1zM389 11h0zM373 11l1 6 3 1 2-2zM430 8l3 6-1 1-4 0-2-2 0-2 3-1zM392 8l-2 6 2 1 0 3 1 0 1-2-2-3zM516 9l3 2 4 0-1 0-3-4zM352 5h0zM519 5l3 1-1-2zM530 3l0 1 2 0zM470 2l1 2 2-2 2 2 2 0 1 3 3 2-4 6-1 0-5-6-2 1-2-1 0-4zM459 3l1-1 1 2-1 1zM448 3l-2 5 3 2zM397 3l-2 7 1 0 1-2 1 1 1-2zM348 3l0 2 1 0 0-2zM514 2l1 1 2-1zM475 1l1-1 2 1-1 1zM455 0l0 1-2 1 1 0zM393 0l1 0zM369 5l0 3 4-1 2 1 1 2 3 0 1 3 1-1 2 3 2 1 0 2 2 3 1 0-1-2 2-3-1 1-3-3 1-2-1-2 2-1 0-3 1-1 6 1 0-1-3-1-2-3-3-1-2 1 0 3-1 1 1 0 1-2 3 2-1 2-5 4-3-2 1-2-2-2 1-1-1-1 3-3-3 0-1 2-1-2-2 1 4 3-1 1-3 0-1 1-1-1zM369 0l1 1 0-1zM317 41l1-1 2 1 3-2 1 1-3 4 2 4 1 0 0-2 2-2 2 0 4 5-1 1 1 2 2-1 1-2 2 2-5 6 1 3-1-3 1-1 3 1 2-2 5-2 5 2-1 2 1 1-1 1 6-1 5 4 0-2-2-1 0-3-4-5 1-1 4 3 3-4 3 2 1-2 1 1 0 4-2 2 1 2 6-2 0-2 2-3-1-2 2-2 10 0 1-1 2 0 3 3 3-2 3 2 2 0 1 1-2 2 2 2-2 1-5-2 0 3 3 1 2 3 2 0 0-5 1-1-1-2 2-1 1 2 2-2 2 1 1-1-1-3 1-4-2-1-2 1-1-1 2-5 2 0 5 6 0 2 2-1-1-2 3-1 2 2 0 2 1 0 1-2 1 1 2-1 3 5 2 1 5-2 4 5 2-1-1-2 2-2 1 3 2 0 4 5 6 2 1-3-1 1-3 0-1-1 2-3-2-2 3-3 3 1 0 2-2 3 2-1 1 1 3 0 1-1 2 1-1-9 2-1 3 4 2 0-2-6 1-2 3 0 1 1-1 2 2 1 1-1 3 0-3-3 0-4-5 4-3-5 1-2 1 1 1-1 2 1 2-2 4 0 4-2 0-3 2-2 2 1 1 2-1 4 2 1 1-3 2 1 3-3 2 0 0-1-4-3-1 2-3 0-1-2 2-1 4-5 3 1-1-2 2-3-2-3 3-4 2 0 2 2 4-1 2 2-3 3-3-1 2 3 7 0 0-2-3-3 1-2 1 0 1 2 3 0 1 2 1 0 2-3-4-3-1-2 1-2-4-1 1 1-1 3-3 4-1-1 0-4-6-3 0 1 3 1 0 2-2 2-2 0-1-2-4 0-5 4-2-2-1-3 1-2-1-1-6 0-4 2-1-2-4 0-2 4-2-1 0-3-3 0-1 3-2-3 1 1-4 5 4 0 4 3 4-1 1 2-2 3 0 2 3-2 2 1 2-1 3 1 1 2 1-1 3 0-1-1 2-2 1 2 3 0 1 2-3 3-2 0-1 2-2 0-3-3-6 2-2-3-3 0-4-5-1 3-4 3-3 0-1-1 1-2-1 0-1-2-1 2-3 2-3-3 1-3-1-3 1-2-1 0-3 5-3-1 1-1-1-1 3-3 1 1 2-3-1-2-3 0-1-1-1 2-3 2-2-3 1-1-6 0-1 3-2 1 1 1-2 2-2 0 0 2 2 0 2 3-3 2-5-1-1-2 2-2 0-4 3-2 0-1-2-2-10 0 1 2-2 4-4-1 3 2 7-4 2 2 0 4-5 4-4-1 1 1-2 2-2 6 2 3-1 1-3-1-2 1 1 2-2 1-6-4 2-2-3-1-1 2-3 2 1 1-2 3-2 1-1-2-4-2-2-6-4 2-3-2-5 0-1 1-2-2 0-2 2-3-5-3 3-3 1-3 1 2 2-1-1-1 1-2-2-3-1 0 1 1 0 3-2 2-3-2-2 2 1 4-2 2-4-9 1-1-2 0-1 1 2 0 1 3-2 1-1 2 4 5 0 2-4 4 0 3-2 2-3 0 0 6-3 2-1-2-4 2-2-2-3 1-6-1-3 3-1-1-3 1 0 2zM361 0l0 1zM356 0l1 0z"/>
<path fill="#f6d716" stroke="#f6d716" fill-rule="evenodd" d="M796 201l1-1 1 1-1 1zM811 199l1-1 1 1-1 1zM781 198l1-1 2 2-2 1zM828 200l-1 0-3-4-1 1 1 1 0 3-1 1-4 0 1 1 1-1 5 1 0-2zM447 196l1 0zM819 195l1 1 2-1zM458 195l-2 2 1 4 2 0-1-1 1-1-2-1zM799 198l0-3 2-3 4 0 1 1-2 2-2 0-2 4zM439 192l1-1 1 1-1 1zM430 192l1-1 2 1-1 1zM787 191l-1 3-1-1-3 0 0 3-1 1-3-2-1-3 7-2zM1171 190l0 1zM810 189l3 2-3 1-1 2-1-3zM426 189l0 1zM816 188l1-1 1 1-1 1zM835 187l-1 0 0 2zM432 186l1-1 2 1-1 1zM1111 184l1-1 1 1-1 1zM433 183l1-1 1 2-1 1zM1129 183l-1-1-1 2zM803 182l3-2 6 3-2 1-2 3-3-2zM441 180l1 1 0-1zM438 179l1 0zM1107 178l1-1 1 1-1 1zM1123 177h0zM738 177l1-1 1 1-1 1zM434 177l-1 0-2 5-3 2 1 2 3 1 0 3-2 1 1 2 0 3-1 1-2 0-1-1 1-1-2 0 1 2 0 6 11 0 1-1-1-1 1-4 3-3 0-3-1-1 1-1-2 0 0 1-2 1-2-3 2-3-1-3-3-1 1-2zM1114 176h0zM1098 175l1 0zM769 175l1-1 2 1-1 1zM815 173l1-1 1 1-1 1zM760 173l1 0zM737 173l1-1 1 1-1 1zM797 172l1 0zM788 172l-3 1 2 1zM756 172l1 1 0-1zM731 172l1-1 2 2 1-1 3 2-1 1-4 0zM1090 202l1 1 83 0-1-2 2-2 2 0 1-2-5-2-3 1-2-2 1-3-2-1 1-5 3-2 0-3-1 1-2-2 2 3-2 1-1 2-5-3-2 3-5 0-1 1-6-3-2 1-1-2-2 0-1 2-5 1-1-3 0 2-6 5-2-2-1 1-3-1-4-7 1-1-4 1-4-2-3 0-2-3 1-2-2-2-2 0 1 4-5 5-4-2 2 3-2 1-1 2 5 4-2 1-2-2-1 1-2-1-2 2 1 3 3 2-3 2 2 3zM806 171l0 1zM775 170h0zM792 168h0zM436 164l-1 4 2 1-1 3 3 0 6 3-4-5-2 0-2-2 0-3zM202 164l1 2 1 0 0-1zM831 194l0-1-4-3 1-3-3-3 0-2-1 1-1-1-1 2-1-1 1-3 2-1 2 1-1-2 1-2-1-2 1-1-6-5 1-2-3-2 2-1-3 0-1 5-2 2-2-1 1 3 3 3-2 3-1-1-6 3-5-4 3-1 1 2 1 0-1-3-6 2 1 0 1 2-1 1-3 0 0 3-2 3 1-2 4 0 1 1 0 3-1 1-4 0-1-1-2 1-2-2 1-2-1-2 1-2-4-2-3 1-8-4-2 2-2 0-3-4-2 2-1-1-4 0-2 2-3-1-1 1-5 0-3-3 0-2-3 1 0 3-3 1-5-4 1-2 2 1 1-3-1-3-1 0 1 1-1 1 1 1-1 2-2 0-2-3-1 0-1 3-4 0-1 1-4-1-2-2-1 0-1 2-2-1-2 1-1-1 1-1-3 2-3 0-1 2-4 2-1 4-4 5 0 6 1 1-1 3 1 3 4 4 0 3 89 0 1-1 6 1 0-3 2-2 6 5 4 0 2-1-2-4-2 0-2-2 1-1 3 1 2-3-1-1 2-1 2-6-1-1 1-1 2 1 0 3 2 1-1 1 1 1 0-1 2-1 2 3 0 2zM149 162h0zM1177 161l1 0zM433 161l-3 2-1 3-3 1 1 3 1 0-1-2 2-2 2 1 0-4 1-1 1 1zM224 161h0zM1175 159h0zM154 159l0 1 1-1 1 2 1 0-1-2zM149 159l0 1 1 0 0-1zM1193 156l0 1zM1210 155l-1 0 0 1zM1204 156l-3-2-2 2 0 4 4-1zM140 154l0 1zM1177 153l1 3 3 0-1-3zM202 153l-1 1 1 0zM155 151l1 0zM134 151h0zM151 150l-3 2 0 3 3-2zM1195 148h0zM1191 148l-3 2 2 1-1-1zM1164 147h0zM1166 145h0zM1184 144l1 2 3 1-2-3zM1181 143l0 1zM1199 140l-1-1-2 1 1 1zM1193 134l1 2 3-1 0-1zM1179 136l-3-2-2 0 0 3 3 1-3 2-4 0-1 1-1-2-1 1-1-1-2 2-2-3-1 0 2 4 5-1 1 1-1 2 3 0-1 0-1-2 4-2 3 2 2-2zM1159 131l-1 2 3 3 1-1-1-1 0-3zM1184 130l0 4 2 2-1 3 5-1-2-1 0-2-2-2 0-3zM350 48l-2-1-3 4 2 0 0-2zM344 47l1 0zM337 47h0zM398 43l0 1 1 0zM399 40l-2 1zM338 40l-1 0-1 3 1 2 1-1zM340 36l-1 2 3 1zM392 35l1 2 1 0-1-1 1-2zM357 33l1 0zM381 32l0 1 1 0 0-1zM422 26l1 1zM433 23h0zM419 19l0 2 3 0 0-1zM74 15l-3 2 2 0z"/>
<path fill="#f9aa0f" stroke="#f9aa0f" fill-rule="evenodd" d="M1108 199h0zM1171 199l-1-1-2 3zM1119 196l1-1 2 1 2 3-2 2zM1158 195l1-1 1 1-1 1zM1099 195l-1 1zM1103 192l1 2zM775 188l-1 1zM1108 188l1 4 4 2-1 3 1 0 1 2-2 4 3 0 1-1 3 0 1 1 45 0 1-2-2-1-1-3 1-3-3-2 2-3-1-1-3 1-2-1-2 2-1-1-1 1-3-1-1 1 2 1-2 2-2-2-5-2-1 3-4 0-2 2-1-3-3 4-1-1-5 3-2-2 1-2-2-1-5 1-4-2 1-2 2 0 0-2-3 1-4-1zM752 187l1-1 1 1-1 1zM1106 185l-1 2zM787 185l0 2 2 0 0-2zM1108 183h0zM777 183l0 1 1 0 0-1zM815 182l0 1 1 0zM773 182l0 2 1-1zM1111 181l-1 0 0 1zM764 176l0 2 4 2-1-2zM704 187l1 5 2 2 0 3 2 2 0 4 60 0-1-5 2-2 2 3 1-1 2 1-3 2 0 1 2 1-1-2 4-3 0-1-2-1-1 1-1-1 1-4-3-2-1 1-2-2 0-3 3-3-5 2-2 2 1 1-1 2-6-4-1-2 1-1-4 3-2-1-2 2-9 1-1-1 0-4-4 0-1-3-1 1-4-1-3-5-3-1-2 1-2-2-2 1-5 0-2 2-2 0-1 1 0 3 1 1-2 1 0 3z"/>
<path fill="#f48017" stroke="#f48017" fill-rule="evenodd" d="M1122 203l1 0zM758 203h0zM760 200l-1 1zM742 200l1-1 3 3-2 1zM1130 203l26 0-4 0-2-3 1-1-1-2-1 1-2-1-2 2-2-1-3 1-2-3-3 0 0 4-3 3zM761 195l1 2 2-1zM1152 194l2 1 0-2zM758 193l-1 1 2 1zM756 188l1 2-1 1 1 0zM713 177l1 5-3 2-1 3 1 6 2 4-1 2 0 3 1 1 35 0 1-2 2-1 1 1 1-1-1-1 1-1-1-2-4 1-7-5-1 1-6-1-1-1 1-1 0-3-4 1-2-2 3-3-2-2-4-1-1-1 0-3-3 1z"/>
<path fill="#f65015" stroke="#f65015" fill-rule="evenodd" d="M722 202l1-1 1 1-1 1zM740 199l-2-2-3 1-1 4-2 1 5 0zM718 183l-1 1 1 1-2 2 0 6 3 0-1-1 2-1 1-3 1 0 2 4 2 1-1 2-5 0-1 2 0 4 1 1-1 1 11 0-1-3 2-4-2 0-3-5-1 1-1-1 0-5z"/>
</g>
<circle cx="1300.6" cy="336.8" r="3" fill="#f61e10"/>
<circle cx="1805.2" cy="261.1" r="3" fill="#f48017"/>
<circle cx="1840.5" cy="282.4" r="3" fill="#f48017"/>
<circle cx="1870.5" cy="309.3" r="5" fill="#f65015"/>
<circle cx="112.6" cy="300.5" r="3" fill="#f9aa0f"/>
<circle cx="186.7" cy="113.8" r="4" fill="#f48017"/>
<circle cx="596" cy="137.2" r="3" fill="#f65015"/>
<circle cx="663.4" cy="135.6" r="3" fill="#f61e10"/>
<use href="#halo" stroke="#f48017" stroke-width="7.5"/>
<use href="#land"/>
<use href="#grid"/>
</g>
<rect x="75.5" y="78.5" width="1860" height="305.8" fill="none" stroke="#000" stroke-width="4.9"/>
<g class="tk"><text x="150.4" y="418.2" text-anchor="middle">165°W</text><text x="228.1" y="418.2" text-anchor="middle">150°W</text><text x="305.9" y="418.2" text-anchor="middle">135°W</text><text x="383.6" y="418.2" text-anchor="middle">120°W</text><text x="461.3" y="418.2" text-anchor="middle">105°W</text><text x="539" y="418.2" text-anchor="middle">90°W</text><text x="616.7" y="418.2" text-anchor="middle">75°W</text><text x="694.4" y="418.2" text-anchor="middle">60°W</text><text x="772.2" y="418.2" text-anchor="middle">45°W</text><text x="849.9" y="418.2" text-anchor="middle">30°W</text><text x="927.6" y="418.2" text-anchor="middle">15°W</text><text x="1005.3" y="418.2" text-anchor="middle">0°</text><text x="1083" y="418.2" text-anchor="middle">15°E</text><text x="1160.7" y="418.2" text-anchor="middle">30°E</text><text x="1238.4" y="418.2" text-anchor="middle">45°E</text><text x="1316.2" y="418.2" text-anchor="middle">60°E</text><text x="1393.9" y="418.2" text-anchor="middle">75°E</text><text x="1471.6" y="418.2" text-anchor="middle">90°E</text><text x="1549.3" y="418.2" text-anchor="middle">105°E</text><text x="1627" y="418.2" text-anchor="middle">120°E</text><text x="1704.7" y="418.2" text-anchor="middle">135°E</text><text x="1782.4" y="418.2" text-anchor="middle">150°E</text><text x="1860.2" y="418.2" text-anchor="middle">165°E</text><text x="59.5" y="136" text-anchor="end">20° N</text><text x="59.5" y="187.8" text-anchor="end">10° N</text><text x="59.5" y="239.7" text-anchor="end">0°</text><text x="59.5" y="291.6" text-anchor="end">10° S</text><text x="59.5" y="343.4" text-anchor="end">20° S</text></g>
<rect x="75" y="461" width="93.6" height="21" fill="#1d1282"/><rect x="168" y="461" width="93.6" height="21" fill="#1c0a80"/><rect x="261" y="461" width="93.6" height="21" fill="#1e1285"/><rect x="354" y="461" width="93.6" height="21" fill="#1c2f91"/><rect x="447" y="461" width="93.6" height="21" fill="#2160a8"/><rect x="540" y="461" width="93.6" height="21" fill="#2496c4"/><rect x="633" y="461" width="93.6" height="21" fill="#1ea8cb"/><rect x="726" y="461" width="93.6" height="21" fill="#2aaab8"/><rect x="819" y="461" width="93.6" height="21" fill="#3aab98"/><rect x="912" y="461" width="93.6" height="21" fill="#67c07c"/><rect x="1005" y="461" width="93.6" height="21" fill="#8ecf5e"/><rect x="1098" y="461" width="93.6" height="21" fill="#bde03a"/><rect x="1191" y="461" width="93.6" height="21" fill="#e4ee1e"/><rect x="1284" y="461" width="93.6" height="21" fill="#f6d716"/><rect x="1377" y="461" width="93.6" height="21" fill="#f9aa0f"/><rect x="1470" y="461" width="93.6" height="21" fill="#f48017"/><rect x="1563" y="461" width="93.6" height="21" fill="#f65015"/><rect x="1656" y="461" width="93.6" height="21" fill="#f61e10"/><rect x="1749" y="461" width="93.6" height="21" fill="#d21408"/><rect x="1842" y="461" width="93.6" height="21" fill="#9a0f0a"/><path d="M354 482V467" stroke="#000" stroke-width="1.3"/><path d="M633 482V467" stroke="#000" stroke-width="1.3"/><path d="M912 482V467" stroke="#000" stroke-width="1.3"/><path d="M1191 482V467" stroke="#000" stroke-width="1.3"/><path d="M1470 482V467" stroke="#000" stroke-width="1.3"/><path d="M1749 482V467" stroke="#000" stroke-width="1.3"/><rect x="75" y="461" width="1860" height="21" fill="none" stroke="#000" stroke-width="3.7"/>
<g class="cb"><text x="75" y="536.8" text-anchor="middle">1.00</text><text x="354" y="536.8" text-anchor="middle">1.75</text><text x="633" y="536.8" text-anchor="middle">2.50</text><text x="912" y="536.8" text-anchor="middle">3.25</text><text x="1191" y="536.8" text-anchor="middle">4.00</text><text x="1470" y="536.8" text-anchor="middle">4.75</text><text x="1749" y="536.8" text-anchor="middle">5.50</text></g>
<text class="tt" x="51.7" y="54.6" style="font-size:65px" textLength="77.6" lengthAdjust="spacingAndGlyphs">(a)</text>
<text class="tt" x="456" y="41.9" textLength="260" lengthAdjust="spacingAndGlyphs">ANN mean</text>
<text class="em" x="730.2" y="41.9" style="font-size:59px" textLength="38.5" lengthAdjust="spacingAndGlyphs">E</text>
<text class="em" x="765.5" y="42.4" style="font-size:32px">q</text>
<text class="tt" x="807.5" y="41.9" textLength="764" lengthAdjust="spacingAndGlyphs">based on observed PDF (Eq. 20)</text>
</g>
<g transform="translate(0,596.5)">
<g clip-path="url(#mc)">
<rect x="75.5" y="78.5" width="1860" height="305.8" fill="#1d1282"/>
<g transform="translate(76.2 79.2) scale(1.5)" stroke-width="1" stroke-linejoin="round">
<path fill="#1c0a80" stroke="#1c0a80" fill-rule="evenodd" d="M385 198l1-1 1 1-1 1zM381 195l1-1 1 2-1 1zM677 177l1 3-3 3-2-3 2-3zM388 177l1 3-2 2-1-2zM385 177l1-1 1 1-1 1zM668 175h0zM387 170l1 1-3 2-1-1zM391 169l1 1-1 3-1-1zM672 152l5 7-1 4 3 2-3 3 2 3 0 3-2 1-2 3-2 0-3 3-2-2-5 3-1-1-1 1-5-8 0-5-5-4 3-3-1-3 1-1 4 0 3-3 4 2 1-1 0-3 2-2 2 2zM0 0l0 203 1239 0 0-203z"/>
<path fill="#1e1285" stroke="#1e1285" fill-rule="evenodd" d="M395 193l2 2-1 3-2-2zM395 188l1-1 1 1-1 1zM391 186l-1 0 0 1zM669 185h0zM390 184h0zM392 164h0zM386 151l3-2 3 1-2 2-3 0zM384 150l1-1 2 1-1 1zM655 152l5 1 3-1 3-4 2 0 2 2 1-2 1 1 2-1 4 6-1 1 3-1 1 3 3 2-2 5 2 6-4 2 2 2 0 3 2 3-4 3 0 4-1 1-5-2-6 1-2-2 1-1-9 0-2-2 0-3-6-5 2-4-1 0-3-4-1-6 2-1zM0 0l0 203 377 0 1-1-2-3 3-5-1-1 3-3-3-4 2-2 2 1 0-2-2 1-2-2 0-6-1-1 1-1-1-1 2-2 1 1 0-2-3-1 2-2-3-4 3-2 1-3 3-2 1 1 0 3 3 2 2-3-3-2 1-3 9 1 2 3-1 3 2 2-3 6 2 3-1 3 2 3-2 3 0 3-1 1-1-1 1 2-5 3 0 1 4 3-1 1 0 4 2 1-3 2 1 2 845 0 0-203-1032 0-1 2-1-2z"/>
<path fill="#1c2f91" stroke="#1c2f91" fill-rule="evenodd" d="M670 197l1-1 1 1-1 1zM669 196l1-1 1 1-1 1zM676 193l-1 1 1 0zM658 150h0zM672 139l1 1-1 2 6 3-1 1 4-2 2 4 3 2-2 3 1-1 1 1 0 3 2 3-3 10 1 2-2 2 1 8-2 3 0 6-1 3-2 2-2 0-1 3-1 0-4-5-1 3-4-6-1 1-4-1-1-2-2 0-3-3-3 0-1-1 1-1 0-3-2 0-1-2-2 0-1-1 1-1-1-3-4-2 0-2 3-3-2-3 0-4 4-6 5-1 0-2-1 1-1-2 1-1 3 0 1-2 2 1 1-1 1 1 3-1 1 1 0-2 4-5 1 1zM201 3l-1 2zM0 0l0 203 370 0 0-2 4-6-5-5 4-3-1-2 3-3 0-1-3-2 1-1-1-2 0-5 1-1-3-2 4-2 0-2-2-2 5-4 2-3 3 0 0-1-3-1-1-2 2-2 2 0 3-2-2-3 4-3 3 1 1-2 1 1 5-3 2 1 1 4 3 4 2 1 0 3-5 3 2 2-3 4 2 3 0 2-2 2 3 5 0 4-1 1 1 5-3 4 3 2 0 5-1 1 1 6-2 2-2 0 0 1 841 0 0-203-1021 0-1 3-1-2-1 2-2 1-1-1-2 3-5 0-9 2-1-2-2-1 0-5z"/>
<path fill="#2160a8" stroke="#2160a8" fill-rule="evenodd" d="M362 202l1-2 2 1-2 2zM367 189l0 1zM367 180h0zM360 152l1-1 2 1-1 1zM359 149l1-1 1 2-1 1zM344 140l1-1 1 1-1 1zM657 137l1-1 1 1-1 1zM206 22l1-1 1 1-1 1zM204 19l1-1 2 3-2 1zM200 14l0 1zM185 13l1-1 1 1-1 1zM207 12l2 3 3 0 1-1zM214 10l1 0zM219 8l0 2 3-1 0-1zM225 3l-2 1zM0 0l0 203 366 0-2-1 2-2-2-3 1-1-3 0-1-1 0-6 1-1-1-1 3-2 1 1 0 3 0-1 2-1-2-3 0-3-3-3-1 1-2-1 1-1-1-1 4-4-1-3 1-1-2-4 0-3 1-1 3 0-1-2 2-2 2 0 1-2 2 1 0-5 10-8-1 1-2-2 5-2-1-2 3-4 6 2-1-2 1-2 4 3 0 2 1 0 1-2 3 0 1 1 2-1 2 2-2 3 5 3-1 9-3 4 0 6-2 8 3 6-1 1 1 9-1 1 0 15-1 2 263 0 0-1 3-1 0-1-4-1-1-2-3 1-2-2 0-3-3-4-6-3-1-5-6-2-4-4 0-2-1 1-1-2 5-6 0-2-2-2 0-2 2-2 0-3 1-1 1 1 4-4 1-4 2-2 0-2 2-1 4 2 1-5 3-4 2 1-2 2 3 0 4-3 3 0 4-2 5 1 3 2 2 4 0 5 7 3 0 2-3 4 4 3-3 2-2 7 0 4-1 1 1 4-2 7 1 7-2 2 1 2-2 6-3 2 0 1 2 1 556 0 0-203-1012 0-1 1 2 2 3-2 2 3-2 2-4-1 2 1 1 2-1 1-4-1-1 1 1 2-2 1 0 2-4 3-1-1 0-3-1 2-2 0-1 2 3 2-2 3-1-1-3 0-1-1 0-3-3-1-5 4-1-1-2 1-3-1-2-5-2-2 1-3-1-1-3 2-4-3 3-6-1-1z"/>
<path fill="#2496c4" stroke="#2496c4" fill-rule="evenodd" d="M355 200l1-1 1 1-1 1zM351 190l2-1 1 2-1 1zM639 182l1-1 1 1-1 1zM348 163l1-2 2 1-2 2zM358 152l-2-1-1 3 2 0zM341 150l-1 1zM335 152l4-4 4 0 2 2-2 1-2 3-4 0zM332 149l1-1 1 1-1 1zM363 147h0zM374 142l0 1 1 0zM364 142l-1 1 3 2 1-2zM351 139l-2 1 2 0zM335 139l1-1 1 1-1 1zM362 138l0 1 1 0 0-1zM369 136l0 3 1 1 1-3zM357 135l-1 2 1 0zM354 135h0zM368 127l-1 1 1 0zM343 125l1 0zM338 124l1 2zM364 123l-1 1 3 2zM355 119l1-1 1 1-1 1zM338 118l1-1 1 1-1 1zM354 115l2-1 1 2-2 1zM352 113l1-1 1 1-1 1zM347 115l1-3 2 0 2 2-2 3zM344 113l2-1 1 2-1 1zM326 111l1 2-2 1-1-1zM551 50l1-1 2 1-1 1zM811 48l1-2 3 0 1 1-2 2zM561 47l1-1 1 1-1 1zM542 43l2-1 1-2 2 3-1 1-3 0zM840 40l1-1 2 1-1 1zM836 38l4 4-2 1 0 5-1 1-3 0-1-1 1-1-2-1 0-5zM820 38l1 3-2 2-1-3zM832 36l1 1 0 3-3 2-1 8-2 2-2 0-1-3-4 0-1-3 1-1 1 1 3-4-1-2 2-1 1-2 1 1 3-2zM552 36l1 0 2 3 5-2 2 2-3 4 2 2-1 1 1 2-2 3 1 1-1 2-2-2 0-3-5-1-3 2-1-2-3-2 2-3 1 1 2-2 1 1 2-1 3 2 0-2-3 0-3-2 0-2zM230 21l2-2 2 2-1 1zM225 13h0zM237 2l1-1 1 1-1 1zM0 0l0 203 358 0 0-1 2-1-1-3-3-2 0-3-1-1 2-1 0-2-3-1 1-2-1-2-2-1 0-3-2-3 1-3 3 2-3-7 2-2 4-1 1-3-3-1-1-3-3-1 1-5-4-2-1 1 3 1-4 2-2-2 0-2 2-3-5 0-1-1 2-2-2-1 0-3-2-2 4-3-2-4 1-2-3 1-1-3-3-2 0-3 3-2 2 0 1-2 3 2 4-4 2 1-4 5 2 1 1-1-1-2 2-2 5-1 3 3 2-4 2 1-1-1 1-1-2-2 2-2 2 3 4 3-1 1 2 3 2 1 3-1 1 1-1 2 2-1-1-1 2-1-1-1 1-1 7 2 0 2-3 2 0 1 3 1 0 2-1 1-3-1 2 3 2 0 3-4-1-2-3 0-1-1 1-1 9-1 1 1-2 1 1 1 1-2 3-1 3 4 2 1 0 2 3 0 8 9-1 3 1 4-2 1-1 2 1 2-3 6 1 1 0 4-2 5 0 5 2 6-1 1 2 3 0 2-2 3 0 5 1 1-1 1 1 2 0 5-1 1 254 0-3-9-6-5-2 0-2-2-2-5-3 1-6-5-2-6 1-3-1-1 1-1-1-1 0-3 2-1 0-3 3-2 1-2-2-3 0-2 1-1 2 2 5-1 0-5-1-1 3-2 2-5 4 0 1-4 2-1 0-1-3-1 7-4 5 0 2 2 0 2 2 0 1 2 6-2 5 3 5 1 1 1-1 1 1 2-1 2 3 2 1 3 1 0 2 3 0 3 2 1-1 1 1 2-1 4-2 1 2 3-1 2-4 3-1 3 1 4-2 6 1 3 0 4-1 1 0 8 1 3-1 3 551 0 0-203-997 0-1 1-4-1 0 4 2 1 0 2-2 1-1-2 1 6-3 5-1-1 0-4 0 1-3 2-2 6-2 0-2-4-3 1 0 1 3 2-2 4-3 0-2-2-1 1 1 2-2 3-1-1-2 1-2-3-4 1-1-2-2 0 0 1-2 1-1-1 1-2-3 3-3 0-4-5-2 3-1-1 0-5-3 0-1-2-3-2 1-4-2-1 1-3-5-3 1-1 0-3z"/>
<path fill="#1ea8cb" stroke="#1ea8cb" fill-rule="evenodd" d="M630 181l1-1 1 1-1 1zM342 176l1-1 2 1-1 1zM345 158l-2 1zM319 149l1-1 1 1-1 1zM318 126l1-1 1 1-1 1zM328 123l-1 0 0 1zM326 104l1-1 1 1-1 1zM317 104l-1 1 1 1zM818 56l1-1 1 1-1 1zM841 53l1-1 1 2-1 1zM815 53l1-1 1 1-1 1zM846 51l2-1 2 2-2 2zM844 50l1-1 1 1-1 1zM566 49l1-1 2 1-1 1zM846 46l3-2 3 2-1 1-4 0zM806 32l1-1 1 1-1 1zM560 31l4 5 2 5 2 1-1 3-2-2 1 6-3 1 0 3-2 3-10 0-1 1-3-4 0 2-2 1-2-3-2-1 1-2-3 0-1-3-2-1-1-2 12-8-2-1 2-2 7 0 1-1 1 2 2 0-1-1zM795 53l1-1 4 0 0-4 2-2 2 1 1-1 1 1 0-3 3-2 1 1 0-2-2-2-2 1-2-2 4-6 2 1 4-3-1-2 2-2 3 0 1 1-1 5 1-1 4 0 2-2 3 6 6-4 3 0 1 2 2-1-1-3 2-2 2 2-1 2 0 5 4 0 1-1 2 1 0 2-3 1 0 3-1 1 1 3-3 3-4 7-6-1-2 3-1-2-3-2-1 2-2 1-1-1 0-3-4 0-1 1-2-2-2 2-4-1 0 2 5 3 0 1-2 1-5-3-1-3-3 1-3 3-3-3-2 0zM804 25l1-2 2 1-2 2zM248 19l1-3 2 2-2 2zM246 8l1-1 1 1-1 1zM0 0l0 203 349 0 3-1 0-1-4-3 2-2 0-4-3 2-2-1 1-6 4-2 0-4-2-3-2 1-2-1 1-2 3-1-2-4 0-3-3-3-3 2-3 0-2-2 2-2 0-3-2-3 0-2-1-1-1 1-1-2-3 0-1-1-1-5-2-1-2-5 1-1 2 1 0-2-4 1-2-2 1-1 4 0 2-3 2 1-3-2 2-1-2 0-3-3 0-5-2-2 1-2-2-2-5 1-3-2-1-2 2-1-1-1 2-6-2 3-2 1-3-5-5-1-2-2 2-3 3 2 3 0 1-1 3 0 2-3 5 0 1 2 6 1 1 1-2 3 1 3 2-1 2-4 7 1 8-3 2 2 0 2 2 1 4-1 1 3 3-1-1-3 2-2 2 1 0 2 3 0 0-1 2-1 4 7 8 4-1 3 2 1 3-1 2 3 3-1 5 3 5 0 2 2 2 0 2 2-1 1 3 2 2 0 2 2 0 2 4 3 2 4 0 4-1 1 1 4-1 1-1-1-2 4-1 12-2 3 1 1 0 3-1 1 1 2 0 5 2 3-1 2 1 3-2 1 0 5 2 3-1 1 0 5 247 0-6-4 0-2-4-3 1-1-5-3-2-4-3 1-3-1 0-3-2-1 0-3 2-3-1-1-2 1-2-2 0-3 3-5-3 2-4-5 2-2 1 2 3 1 0-5 3-6-2 1-3-2 3-3 2 0 2 3-1-5 5-2 2-2-1-1 1-7 1-1 2 1 2-2 1-5 2-2 2 1 3-6 1 1 7 0 1 1 0-2 1-1 1 1 2-3 1 0 2 3 1-1 1 1-1 2 2 0 1 2 2 1 5-1 1 2-2 2 4 0 1-3 2 2 1 3-1 1-2-1 2 2 5 2-3 4 1 1 2-1 2 1 2 4-1 5 3 2 0 4 1 1-3 1 0 3 1 1-1 1 0 3-1 2-4 3-1 2 1 1-2 4 0 15 1 1-1 2 1 3-1 5 549 0 0-203-992 0 2 1-1 5-3 1 3 4 1-1 1 1 0 3-2 2-1 0-1-2-4 0-1 2-2 0 3 1-1 1 1 1-1 1 0 3-1 1-5 0-1 4-2 2-3-2-3-4-1 2-2 0-2 2 2-1 2 1-3 5-2 1-2-2-4 0 1 2-1 1-2 0-1-2-3-1-3 1-4-1 0 1-2 1-5-3-2-3-1 1-3-1-3-4 0-3-5-2-1-2-4-3 0-3-1-1 0-3 1-1-1-2 1-1-2-3z"/>
<path fill="#2aaab8" stroke="#2aaab8" fill-rule="evenodd" d="M346 182l-2 1-1-1 1 1-1 1 1 1zM329 176l1-1 1 1-1 1zM626 174l0 1 1 0 0-1zM330 173l1-1 2 3-1 1zM341 169h0zM630 159l-2 1zM619 156l1-1 1 1-1 1zM325 155h0zM313 153l1-2 3 1-2 2zM1090 143l1-1 1 1-1 1zM1095 139l1-2 2 1-2 2zM694 129l1-1 1 1-1 1zM687 122l1-1 1 1-1 1zM318 121h0zM312 120l0 2 1 0zM394 113l2-1 1 2-2 1zM299 98h0zM201 96l1-1 2 1-1 1zM208 95l1-1 1 1-1 1zM255 92l1 2 3 1-4 7-2 1-1-2-2-1 0-5zM240 96l3-1 1-3 2 0 1 2 2 1-1 2-1-1-1 2-1-1-3 1zM150 93l2-1 1 2-2 1zM238 92l1-1 2 2-2 1zM231 92l1-1 1 1-1 1zM299 91l1-1 1 2-1 1zM157 91l1-1 1 1-1 1zM229 90l1-1 1 1-1 1zM223 89l1-1 1 2-1 1zM205 89l2-1 3 2-3 2zM180 92l3-6 2 3 6 0 5-2 2 3-2 3-3 0-2 3-1-2-6 1-1-2zM190 84l1 1-4 3-1-2 2-2zM782 60l2-1 1 3-2 1zM561 60l1-1 1 1-1 1zM796 58h0zM777 56l1-1 1 1-1 1zM775 54l2-1 1 2-2 1zM790 52l0 1 1 0 0-1zM793 51l0 1zM862 50l1-1 1 1-1 1zM779 48l1 1 0 4-2 1-1-1 1-1-1-2zM740 46l1-1 1 1-1 1zM768 39l1-1 1 2-1 1zM740 39l1-1 1 1-1 1zM576 39l1-1 1 1-1 1zM856 37l-1 2 2 1zM796 37l-1 2 2 1 1-2zM193 37l1-1 1 1-1 1zM187 36l1 1-1 3-1-1zM787 35l1 2-2 1-1-1zM762 35l1-1 1 1-1 1zM538 35l1-1 1 1-1 1zM758 34l2-1 1 2-2 1zM742 32l1-1 1 1-1 1zM846 31h0zM698 30l1-1 1 1-1 1zM574 33l0 2-2 2 2-1 2 2-1 1 1 5-2 3 0 2-7 8-2 0-2 3-1-1-6 0-1-1-6 2-9-1-1-1 1-2-1-1-3 2-1-3-5-3 0-4 1-1-2-2 1-1 2 1 1-1-2-4 4-4 5 2-1-1 1-2 2-1 2-3 5 1 4-3 6 0 1 1 2-1 5 2 2 2-1 1 2 1 1-3zM746 25l1-1 1 1-1 1zM697 25l1-1 1 1-1 1zM699 24l1-1 1 1-1 1zM685 24l2-1 1 2-2 1zM707 22l1-1 2 1-1 1zM1023 19l1 2-2 1-1-1zM737 17l3 1 1 3-1 3-2-2-1 1-2-1 1-2-1-1zM787 61l0-3 1-1 3 0 1-2-4 0-2-2 0-4 2-2 2 0 1-2-1-1 0-3 3-3-2-3 2-2 0-4 3-2-1-1 2-2 3 0 1 1 0-3 4-3 0-3 2-2 5 3-1 1 1 2 1-1 5 0 1-2 4-1 1 1 0 3-3 2 0 3 5 1 2 3 2-3-1-2 1-2 1 1 2-1 1 1 11 1 1 1 3-2 5 0 1 2 4-2 2 2 0 2-2 1 1 2 2-1 3 2-1 3 2 2-2 2 1 1-2 5 1 3-4 3-1-1 1 1-8 7-1-2-3 0-5 4-5 0-2 1-2 3-5 0-1 1-5-3-1 2-1-2 0 3-1 1-3 0-4 2-2-1-3 0-1 1-1-1 0-4-4 3-2 0-3-5-2 2-7 0zM756 14l1 2-3 2-1-2zM716 15l1-1 2 2-2 1zM683 15l1-1 2 3-1 1zM726 12l3-1 3 2-1 1-4 0zM740 7l3-1 2 4-2 2zM0 0l0 203 343 0-1-3 3-2 0-2-3-2 0-2-1 1-1-1 0-3 1-1-3-1 3-4-2-1 1-1-3-4 0-1 4-3-2-3-2 1-3-1-2 1-2-3 1-2-5 0-1-1 0-4 1-1-4-2-3 2-3-3 1-2 3 1 0-1-1 0-3-4 1-5-3-2 0-1 2-1-4-2 0-3 1-1 3 0 1 1 0-1-3-2 3-2-2-2 0-4-1 0-1-2-2 0-1 3-5-1-2-2 2-3 0-2-4-5-5 1-2-2 0-4-4 0-2-1 1 3-2 1-2-2 1-4-4 0 1 2-2 1-2-5-4-4-2 0-3 4-3-2-2 0-2-2-2 2-1-1-1 3-2-1-1-2 2-3 3-1 2 1 1-1-3-4 1-3 4 0 2 2 0 2 1 0 0-1 4-3 3 2 2 0 6-3 6 3 5 0 1-1 2 3 2-1 2 3 5-6 1 2 2 1 8 0 1 1 2-1 1 2 3 0 1 1 6-3 2 2-1 2-2 0 1 2 1-1 2 1 8 0 2-2 2 0 1 3 2 1 1-3 1 1 2-1 2 1 1-1 3 0 2 3 2 0 2-2 4 0 2 2 4 1 3 3-1 3-3 1 0 1 4-1 1 1-1 1 2 2 4-4 3 2-3 2 3-1 2 2-3 1 0 1 4-2 2 3 2 1-1 1 5 2 4-3 4 7 1 0 6 6 0 2 3 2-1 2 1 2-1 1 2 3-5 10-2 1 1 1 0 6-2 6 1 3-1 3 1 5-1 1 2 7-1 1 0 6 1 1-1 2 1 1-1 4 1 2 236 0-6-5 0-3-2-3-3-1 1-1-1 1-6-5-4 0-2-2 1-2-3-3 1-2-3-1 0-3 2-2 2 1 1-2-4 0-1 2-3 0-1-1 0-4 4-2 1-2-2-1 1-5 1-1 3 0-3-4-2-1-1-3 2-2 2 0 1 1-1 2 1 0-1-3 2-2 3 1 1-1-1-2 2-2-1-1 3-2 3 2 0 3 2-1 2 1-2-2 0-2 2-2 0-5 2-3 1 1 3-1 0-1-2-1 3-4 5-1 1-2 2 0 0-1 3-2 2 1 0 3 2 0 1-2 2 0 4-3 7 1 4 4 6 1 4 3 4-1 1 1 0 6 4 3-1 1 2 5-2 1 0 2 3 1-1 3 2-1 2 2 0 9 1 3-4 2-2 6-5 6 0 4-1 1 0 10-1 1 2 3-1 3 0 4 1 1-1 3 547 0 0-203-198 0-1 1-1-1-290 0-1 1-1-1-9 0 2 1-1 1 1 3-1 1-2 0-1-1 1-1-3 0-1-1 3-1-1-1 1-1-484 0 0 2-3 4 3 1-1-1 3-4 2 4-2 2 1 1-1 1 1 1 3 0 2 2 0 3-2 2-1-1-1 3-2 1 1 3-1 1-3-1-2 2-5-1 0 1 3 2-1 1-4-2-4 6-4-2-1 3-5 3-5-2-4 2-2 4-3 1-4-3 2-1-3-3-1 1-7 0-1-1-3 2-2-2-2 2-2 0-3-2-1-2-2-1-2 1-3-5 0-2-4-4 1-2-2-2-2 3-1-3-2-1 1-3-1-1 2-1 1-2-2-2 1-1 0-3-2 3-2 0-4-5 1-2z"/>
<path fill="#3aab98" stroke="#3aab98" fill-rule="evenodd" d="M642 203l1 0zM336 193l1 0zM331 193l1-1 1 2 2 1-2 2-2-2zM1066 178l1-1 3 1-2 3zM1021 171l1-1 2 1 1 3-2 1-2-2zM610 170l1 2-3 3-2-2zM1022 169l1-1 2 2-2 1zM1014 167l1-1 2 1-1 1zM1033 168l1-3 3 1-2 3zM1026 165l2-1 1 2-2 1zM1036 164l1-1 1 2-1 1zM1038 163l1-2 3 0 1 1-2 2zM616 161l-2 0-2 3 1 1zM603 160l1 2-2 1-1-1zM1052 160l1-1 2 1-1 1zM1001 160l1-1 1 2-1 1zM612 159h0zM1066 157l3-1 2 3 0 2-1 1zM1032 157l1-1 1 1-1 1zM1065 156l1-1 1 1-1 1zM1017 154l1 1-1 3-1-1zM1030 153l2 2 0 4 2 6-2 1-2-4-3-2 0 1-2 1 1 2-1 2-5 2-2-3 2-2 1-6 2-2 2 1 3-3zM608 152l-1 1 1 0zM1066 149l1-1 2 1-1 1zM596 149l3-1 1 2-2 1zM1068 148l1-1 2 1-1 1zM612 147l-2 2 1 0zM1102 144l1 1-1 3-1-1zM309 146l3-1-2 1-1-1zM707 143l1-1 1 2-1 1zM601 136l1-1 1 1-1 1zM598 135l1-1 1 1-1 1zM299 133l2 2-5 4-1-2zM701 132h0zM307 129l0 1 1 0zM580 128l1-1 2 1-1 1zM1105 133l1 3-3 1-1 5-2 2 1 2-5 3 1 2-2 2-5-1-5 4-3-1-2-2 1-1-2 1 1 6-1 1-3-3 1-4-3-1 0-3 3-4-2-4 4-3 1 1 3-1-1-2-2 1-4 0-1-1-2 1-1-1 1-2 2 0 3-3 4 3 2-2-1-2 4-4 2 3 2 1 0 3 4-1-3-1-1-2 1-3 3 1 2 2 0 2 1-1 3 0 1 2zM579 127l1-1 1 1-1 1zM300 126h0zM637 125h0zM612 122l3 3 0 1-2 1 2 1 0 2-2 1 0 4-3 2 0 3-2 1-4-5 3-2 2-6 2-1-1-4zM696 122l-1 1 2 3zM290 121h0zM606 119l-1 1 1 0zM599 118l1-1 1 2-1 1zM608 117l0 4-1 1 1 2-1 1-2-3-1 1 2 1-2 1 3 2-1 1 1 1-3 3-6-2-1-2-4-2 0-3 1-1 4 0 3-2 2-3 3 0 1-1zM645 116l1 0zM699 114l1-1 1 1-1 1zM268 114l2-1 1 2-2 1zM266 114l1-1 1 2-1 1zM636 111l1 1-3 4-2-2 2-3zM628 113l-1 2-3 0-1-1-5 1-1-1-3 4-2-1-1 1-1-1 0-2 1-1 3 1 2-4 3 0 1 1 4-2 1 2zM255 111l2-1 2 2 0 2-1 1zM259 110l1-1 2 1-1 1zM261 109l1-1 1 1-1 1zM208 107l1-1 3 1-1 1zM389 106l2-1 1 2-2 1zM164 100l1-1 1 1-1 1zM119 100l2-1 1 2-1 1zM213 99h0zM102 97l1-1 2 1-1 1zM98 97l1-2 3 1-3 2zM96 95l2 1 0 3-1 1-3-1zM78 95l1-1 1 1-1 1zM174 94l-2 2 1 0zM69 95l1-2 3 1-3 2zM113 93l1-1 1 1-1 1zM102 95l4-2 3 2 1-2 2-1 2 4 0 3-2 2-1-2-4-1zM227 92l-1 0 0 1zM169 92l0 1 1 0 0-1zM356 91l1-1 1 1-1 1zM341 90l1 2-2 2-2-2zM145 91l-1 0-1 3 2 0zM72 90l1-1 1 2-1 1zM171 89h0zM358 88l1-1 1 1-1 1zM133 87l1 1 0 3-2 2-2-1-1 4 2 3-1 1 1 1-1 2-4-4-5-3-1 1-2-2 3-1 2-3 1 1 3-1-1-2 1-1zM104 88l0 4-1 1-2 0-1-2-1 1-3 0-2-2 1-2 2 1 4-2zM305 87l1-1 1 1-1 1zM125 87l1-1 1 2-1 1zM443 86l1-1 1 1-1 1zM443 84l1-1 1 1-1 1zM171 84l1-1 1 1-1 1zM170 83l1-1 1 1-1 1zM195 79l1-1 2 1-1 1zM724 77l1-1 2 1 1 2-2 1zM732 77l2-2 2 1-1 2zM732 73l1-2 3 1-2 2zM820 71l1-1 1 1-1 1zM821 70l1-1 1 1-1 1zM738 67l2 3-2 3-2-2zM760 66l3 3-2 4-2-1-1-3zM721 68l2-2 2 2-1 1zM722 65l1-1 1 1-1 1zM721 64l1-1 1 1-1 1zM851 63l1-1 1 1-1 1zM752 62l1-1 4 3 1 3-3 1zM852 61l1-1 1 2-1 1zM733 58h0zM761 56l2 2 0 3-4 3-2-1-1 1-1-1 1-3 4-2zM711 56l2-2 2 2-1 1zM744 54l-3 3-1 3-1 0-2-3-1 0 3 4 1-1 1 2 3-6zM746 53l1-1 1 1-1 1zM746 52l3 7 1 0 2-4-2-3-2 1zM741 52l0 1 1 0zM739 53l-3-2-3 1 1 1-1 2 1 1 3-3 2 1zM868 48l-1 0 0 1zM526 48l-1 2 1 0zM725 47l1-1 1 1-1 1zM745 46l2 1zM584 46l-5 1 0 2zM521 47l2 1 3-2-4-1zM896 43l1-1 1 1-1 1zM882 43l1-1 1 1-1 1zM720 42l4 3-3 2 1 1-1 3 1 1-1 1-3-1-2-5zM878 42h0zM181 42l1-1 2 3-2 1zM757 41h0zM752 41l1 3 3 3-2 4-1-1 0 1 2-1 1 1 5-1 0-1-6-5 0-3-1 1zM896 40l1-1 1 1-1 1zM763 39l-2 2-2 0 0 3 2-2 3 4-1-2 1-3zM723 39l3-1 2 4-1 1-3-1zM202 38l0 1zM773 35l0 2 2 2-1-4zM771 35l0 1zM754 35h0zM738 35l2 0zM771 33h0zM731 33l0 1 2 0 1 2 1-1-2-2zM527 32l2-1 2 3-2 1zM765 31l0 1 1 0 0-1zM716 31l1-1 1 1-1 1zM581 31l0 1 2 1-1-2zM593 30l1-1 2 1-1 1zM578 30h0zM1022 29l1-1 1 1-1 1zM713 29l2-1 1 2-2 1zM574 28l1 0zM1001 27l1-1 1 1-1 1zM779 27l1 2 1-1zM174 27l1 0zM706 25h0zM575 25h0zM175 25h0zM1012 24l1-1 1 2-1 1zM759 25l3 1 0-2zM875 23l3 2 0-2zM867 22l1-1 1 2-1 1zM766 22h0zM170 22h0zM1005 20l1 2-2 1-1-1zM862 21l1-1 1 2-1 1zM731 21l0 2 2 0zM846 20l0 1 1 0 0-1zM591 30l0 2-3 3-3 0-3 4 2 1-1 1 2 2 2-4 2 1-1 4 2 2-4 2 0 4-2 2-4 0-1 1-1-1-2 2-2 0-4 3-6 2-2 2-3-2-4 1-2-2-4 3-1-1-5 1-2-2-2 1-2-2-3 0-2-3-5-3-6 1-1-2-3-2 1-3-1-3 2-2 0-3-1-1 2-2 6-2 1 1 0 4 1-2 5-4-1-2 3-3 5 1 2-1 1-3 5 0 3-3 2 3 1-1 1 1 4 0 3-4 4 2 2-2 1 1 6 0 0-2 2-2 1 2 3 2 5 1zM723 20l-2-1-2 2 3 0zM673 19h0zM871 16l7 2 1-1 3 5-3 6-4 3-2-4-2-1-2-3 2-4-1 1-1-2zM865 17l1-1 1 1-1 1zM880 16l1-1 1 1-1 1zM881 15l1-1 1 1-1 1zM859 15l1-1 1 1-1 1zM772 15h0zM712 15h0zM998 14l1-1 3 4-3 1-1-1zM1031 13l-3-1 2 1-3 4 2 0-1-1 3-2zM874 11l2 2-1 2-3-2zM761 12l-1 2 2 0zM713 12l0 1 1 0zM826 11l-1 1 1 1-2 1 4 3 0-6zM998 10l1-1 1 1-1 1zM833 10l-1 1 2 2zM167 10l-1 2 2 0zM848 8l1-1 1 1-1 1zM788 9l1-2 2 1-2 2zM731 8h0zM665 8l1-1 1 2-1 1zM162 8h0zM752 6l0 1 5 3 2 0 1-3-2-1-1 1zM266 6l1-1 1 1-1 1zM152 6l2-1 1 2-1 1zM787 5l1-1 3 1-2 2zM668 6l3-2 1 1-1 2zM676 4l1-1 1 1-1 1zM669 4l1-1 1 1-1 1zM779 3l2-1 2 3-2 1zM755 3l1 0zM712 4l-1-1-1 1zM875 5l-5 6-1-1-6 4-2-1 1-1-1-1 1-4-1 0-1-2 2-2 2 0 3-2 2 2-2 3 1 2 1 0 4-5zM742 3l3 0-1-1zM258 2l1-1 1 1-1 1zM986 1l1-1 2 1-1 1zM719 1l-3 0-1 4-3 2 3 1 2-1 0-5zM705 1l-8 6 3-1 1-2 3 1 1-1-2-1 2-1zM693 1l0 4-1 1-4-1 1 2 5 4 0-1-2-1 2-6zM762 9l3 2-2 1 1 1 1-2 4 1 1-3 2 1-1 1 1 0 0-2 4-2 1 1 0 6-2 1 0 1 2-1 1-3 3 0 1 2-3 2 1 2 1-1 2 2-2 1-1 2 1 1 1-1 3 0 1 2 1-1 1 1-1-2 2-4-1-2-1 0-1-2-2 0-3-2 3-4 2 2 2-1 4 4 5-7 5 0 2 3 2 0 2-4-1-2 1-2 4 2-2 4 4 0 1-2 3-2 2 2 0 2-3 1 1 1 3-1 2 1 1-1-1-2 3-1 0-1-2-1 1 1-3 2-1-3 2-2-3 1-1-2-3 0 0 2-2 2-1-1 1-3-40 0-1 1-1-1-3 2 2 1 1 3-1 3-2-1 0 1-2 1-1-1 1-2-2-2 1 3-1 1-3-1zM767 0l-3 2zM0 0l0 203 337 0 1-2-2 0-2-2 2-2 2 2 0-2-4-3-1-5-3 0-4-6 1-8-2-1-2-3-2 0-6-5 1-2-7-1-2-2 0-1 3-2 0-4-2 1 0 3-1 1-3 0-2-2 1-2-1-1 0-3-1 0-3-4-1-4 2-2 1 3 4 2 1-2-3-2 1-1-1-4 2-1 1 2 1-3-5-3-2 0-3-4-3 0-4-4-7 2-1-3 3-3-2 0-2-2-3 0-2-2 0-3-1-1 3-3 0-2-2 1-1-1-1 3-2-1 0-2-5 3-2 0-4-5 0 2-5 3-1-2-3 1-3-3-2 5-4 0-1-1-2 1-2-3 1-1-1-1 0-3-2 3-2-2-6 1-2-3 1-1-1-2-4 0 0 1-3 2-2-2-6 2-1-1-5 0-2 1-1 2-4-3-3 0-1 2-3 1-3-4-4 1-1-3-9 2-3-4-1 0 0 2-3 2-2-3 1-3-7 1-1 1 1 2-1 1-3-1 0 1-3 2-2-1 0-3-2-2-2 4-3-2-1 1-5-1-1-1 1-2-2-2 4-6 2 1 0-3 1-1 2 2-1 2 8-1 5-4 6 1 1 3 6-3 2 0 3 4 5-2 3-3 7 0 8-2 1 3 3-2 5 1 3 3 2-1-1-1 2-2 3-1 2 1 5 6 2-3 1 1 4 0 5 3-1-1 2-3 2 2 3 0 1 1 1-1 3 0 1 2 3 0 2 1 2-3 1 1 3 0 1-1 6 1 2-2 3 3 3-2 2 1 2-2 3 0 1 2 1-1 1 1 2-1 6 0 1 2 1 0 2-3 3 2 4-1 1 1-1 1 3-1 6 1 1-1 2 2 3-2 4 3 6 1 1 2 5-3 5 1 4 5 4-5 4 0 1 1-1 2 2-2 4 3 1 0 2-3 2 0 1 1-1 1 1 2 2-1-1-1 1-1 6-1 1-2 1 1-1 3 3-1 2 2 2-4 3 1 4 4 2 6 3 3-2 1 3 3 4-1 1 1 7 1 1 1-2 1 0 3 3 0 2 2 4-1 4 3-2 3 2 1 1 4 3 1 0 3 4 6-1 7-5 11-1 8-2 3 1 1 0 20 1 1 0 9-1 1 1 1 0 3-1 1 227 0-2-3 0-2-4 1-6-4-2 1-1-1 2-3-2-1 0-3-7-1-3-5 2-3 0-2-1 1-2-2 1-2-3-5-2 0-2 2-3 0-1-1 2-4-1-2 1-1-1-2 1-1-1-1 1-3-1-3-4 1-1-3 10-6 1-2 4 0 1-1 0-5 7-5-5-6 4-4 7 5 2-3-1-3-4 0-1-1 0-2 2-2 2 1 0-1 3-2 1 1-1 2 2 1 4-3 2 3 2-1-1-2 1-3 2-2 3 2-1-1 2-2 3 0 1 2 3 1 7 0 5 2-1-2 3-2 1-3 3 0 1 3 3 1 1 2 2-1 3 2 3-2 3 5 4 4 2-4 3 1 4 4 0 6 1 2 2 1-3 5 1 0 2 3-3 2 4 3 1 4 3 1-1 1 0 3-2 1 1 3-1 2-5 4-4 8-4 3 0 11 1 1-1 1 0 4 1 1 0 6-1 1 1 1-1 3 545 0 0-203-185 0-2 6-1 1-3 0-1 3-3-1-3 1-4-4-2 0-2 3 1 1 4-1 2 3-5 4-1-1 1 3-2 3-3 2 1 1-3 3-3-1-6 5-2 0-5-3 3-5-6 2 0 1-3 2-2-2 3-2-3-6 3-3 3 0 1-2 3 0 2 2 1-3 2-1 2-3 3 0 1 2 2-1 2-3-3-1 0-3 4-2-33 0-1 3-2-3-135 0-4 3 0 2 2 2 0 4-1 1-1-1 0-3-2-1-3 1-1-1 0-3 1-1-2 2 1 2-3 2-6-4-2 1-3-4-4 1 2 2 4 0 1 1 0 5 3 2 0 2-2 3 4 1 3-1 2-3 4 2-3 1 1 1 2 0 1-3 5 1 1 2 2 1 0 2 2 1 0 4 3 0 3 2 0 5 5-1 2-2 4 5-1 2 2 4-1 1 1 1 0 3-1 1-2-1 0-2-3 2-1-1 0 3-3 2-1 2-4-1 0 1-3 2 0 3-1 1-11 1-3 2-2 0 0 1-3 2-3-2 0 1-3 2-2-1-8 4-2 0-3-2-1 2-3 0-1-1-3 2-1-1 0 2-2 2-3-1 0-3-1 2-4 0-1-3-1 1-1-1-3 2-1-1 0-3 1-1-1 1-1-1 0 1-4 3-3-1-3 1-1-1 2-3-2 1-5 0-1-2-2-1-5 1-1-2-3 1-1-1 0-3-1 0-3-4-5-1-2 1 0 5-1 1-8 1-2 2 0 3 3 2-1 4-2 2-4-3 1-3 2 1 0-1-3 0-1-1 2-4-4 1-2 2-4-1 1 2-3 2-1 3-2 0-2-3 3-2 1-5-2-1-1-2 2-2 2 1 2-6-2-3 0-2 3-2 2 0 1-3-1-2-4 1-4-5-3 0 1 1-2 2-2-1-2 2-5-3 2-3 1 1 2-1 1-2 1 2 1-1-1-1 1-6-6-1-1 2-2 0-3 2-3 0-1 2 3-1 3 1 0 2-4 4-8 0-1-1 1-3-2-1-1 1 2 2-1 1-4-1-2-4-2 1-2-3-5-3-2 0-2-3-3 2-1 2-1-1 0-3 1-1-4-3 1-1-1-2 3-3 3 1 2-1-3-1 1-2-2-1-1-4 2-1 4 3 0-2-2-3 0-3-6 0-1 1-2-1-407 0-1 1-5-1 4 3-1 4 1 0 0-3 1-1 5 2 0 2-2 3 0 5 2 3-2 1 0 1 3 0 3-2 1 1-2 4-1-1-1 3-3 3-3-2 1-3-2 0 1 1-3 3 0 3 2 2-2 2-2-2-2 1-5 0 0 4-1 1-6-2-5 9-3-4-2-1-1 2-3-1-2 1-1 2-3 0-1-2-6 4-3 0-1-3-1 2-5 0-1 1-1-2-5 0-2 2-4 0-2-3-4 0-3-4-4 2-2-2 1-3-1-1-1 1-2-1-2-5 1-1-5-6 1-2-2-1 0-4-3-2-1-4-2 2-1-1 1-2-1-2-3 0-1-1 3-3 3 0-1-2-1 1-2-2z"/>
<path fill="#67c07c" stroke="#67c07c" fill-rule="evenodd" d="M618 196l3 1 1 3-1 3-5-3zM609 197l3-1 2 3-2 1zM615 190l1 1 0-1zM605 188h0zM1066 186l1-1 1 1-1 1zM611 184l0 1 3 2-1-2zM1044 181l1-1 1 2-1 1zM600 179l2 3-1 1-3-2zM1052 178l1 1-1 2 1 3-2 1-2-5zM316 179l1-1 1 1-1 1zM1078 175l1 1-3 3-1-2zM1031 176l1-1 1 1-1 1zM1003 176l1-1 1 1-1 1zM302 175l1-1 1 1-1 1zM1037 174l1-1 3 1-1 1zM1017 172l-2 1 1 3 3-1zM1076 170h0zM1065 170l-2 1-2-2-1 1 0 4-2 1 0 1 2 1-1-2 1-1 1 1 2-3 1 1zM993 169l-1 2-3 0-1-1 4-2zM1080 168l1-1 1 1-1 1zM592 170l4-3 4 3 0 2-1 1-4 0zM993 166l1-1 1 1-1 1zM1072 165l0 1zM589 161l1-1 1 2-1 1zM1044 156l-1 1 1 0zM1020 154h0zM1042 149l-1 2 0 3 1 1 1-1 0-4zM297 148h0zM282 147l1-1 2 1-1 1zM1068 140h0zM1054 139l2-1 1 2-2 1zM590 139h0zM282 139l1-1 1 2-1 1zM261 139l1-1 2 2-2 1zM268 138l1-1 1 1-1 1zM270 137l1-1 1 1-1 1zM281 136l1-1 1 1-1 1zM1069 135l-1 2 1 1zM595 133h0zM593 132l-2-1-1 2zM1107 130l1 0zM1089 125l1 0zM1075 124l1 1-1 3-3-2zM708 125l1-1 3 1-1 1zM273 128l0-3 1-1 3 2-3 3zM260 121l1-1 2 2-2 1zM1112 129l-1 8 2 3-3 3-3 0-1 3 1 6-3 4-3-3-3 2-4 0-4 4-2-1-5 0-2 3-3 2 1 2-2 1 0 1 3 2-1 3-3 3-1-1-1 5-5 6-4-1-1-2-1 2-2 0-3-2-2 1-1-3-4-5 0-2 2-2-2-1 1-1-1-1-1 1 1 3-4 3-1-1 0-3-1 0-1 3-3 0-1-3-3 0-3 3-2 0-1 2-5 0-4 3-2-1-1 3-2-3-6 0-1-1-4 1-1-1 2-2-1-1-1 1-1-1-3 0-2-3 0-3 2-2 0-2-1 0-2 3-1-1 0-3 2-1-1-2-2 0 1 2-5 3-2-1 0-2-2-2 1-1 2 1 3-1 0-2-2 0-2-2 1-2 9 3 3-1 1-2-1-2 1-1 2 0 2 2 0-3 3-3 3 1 4-1 5 2 1-1 3 0 0-2 2-3 1 0 1 3 2 1 0 3 6-2 1-3 6 0 4 2 0-1 2-1 1 1-1 2 1-1 1 2-2 1 3 3-1 3 1 0 1-2-2-4 3-1 0-3 3-3 1 1 2-2 1-4 2-1-1-1 3-4 2-1 5 1 1-1-1-1 3-3 6-1 2-3 4 0 2-1 1-2 3 6 1-1 3 1 1-1 4 3 3-2 1 2zM582 118l1-1 2 1-1 1zM692 114l0 1 3 0zM689 111h0zM404 111l0 1 3 0zM592 109l1-1 2 2-2 1zM644 108h0zM812 107l2-1 2 2-2 1zM661 107l2 1zM795 106l1-1 2 1-1 1zM832 105l1-1 1 1-1 1zM685 105l0 2 1 0zM640 105h0zM626 104l1 1-1 2 2 2 0-3-1-1 1-1zM617 104l1-1 1 1-1 1zM116 104l1-1 1 1-1 1zM648 104l3-2 1 1-1 2zM609 102l2 2 0 3-1 1-2 0-2-2zM424 103l1-1 1 1-1 1zM163 103h0zM688 102l-1 1 1 2 3 1 1-2-1-2zM429 102l1-1 1 1-1 1zM396 102l-3 1 2 1zM17 102l1-1 2 1-1 1zM859 101l3-1 1 2-2 2zM841 100l1 1-1 3-1-1zM797 100h0zM3 100l1-1 1 1-1 1zM858 99l1-1 1 2-1 1zM615 100l2-2 2 1-1 2zM443 99l1-1 2 2-2 1zM436 99l1 0zM423 98l2 1-1 3-3-2zM4 99l1-1 1 1-1 1zM830 97l4 5-2 1-4 5-2-2 0-2 2-2-2-1-1-2zM682 98l1-1 1 1-1 1zM22 98l1-1 1 2-1 1zM621 96l3 2-2 3-2 0-2-3zM453 96l2-1 1 3-1 1zM86 96l1 0zM802 94l3 5-3 2-1 3-3 2-5-6 3-4 3 0zM697 94l1-1 1 1-1 1zM50 94h0zM696 93l1-1 1 1-1 1zM16 93l3-1 1 3-2 2-2-2zM446 92h0zM26 92l2-1 3 2-3 2zM823 90l2 3-1 2-3 2-3-4zM833 90l3-1 1 2-1 1zM766 90l1-1 1 1-1 1zM22 90l1-1 1 2-1 1zM20 90l1-1 1 1-1 1zM800 89l1-1 1 1-1 1zM764 89l1-1 2 1-1 1zM435 90l4 1 0-2zM379 89h0zM85 89h0zM30 89l1-1 2 1 1-1 3 3-1 2 4 1 3 5-2 1-3-3-2 1-1-2-2 0-1-1 2-1 0-1-2-1zM798 87l1-1 1 1-1 1zM839 88l1-3 2 2-2 2zM791 85l2-1 2 2-2 1zM990 84l1-1 1 1-1 1zM813 84l1-1 1 1-1 1zM60 84l1-1 1 1-1 1zM1093 82l1 1-1 3-1-1zM1089 83l1-1 1 1-1 1zM814 83l1-1 1 1-1 1zM108 83l1-1 1 1-1 1zM1088 82l1-1 1 1-1 1zM1026 82l1-1 3 1-1 1zM722 82l1-1 1 1-1 1zM174 81h0zM793 81l2-2 2 1-1 2zM1074 79l3-1 2 3-2 1zM788 80l3-2 3 4-3 1zM786 79l1-1 1 1-1 1zM188 79h0zM1012 77l1 3-2 1-1-2zM773 78h0zM230 78l2-1 1 2-2 1zM158 78l2 3 1 0 1-3 2 1zM714 76l1-1 1 1-1 1zM463 81l0 3-2 1-4 5-1-1-3 0 1 1-3 5-1-1 0 3-1 1-3-2-3 2 0 2-2 2-5 2-4-3 0-5-1-1 1-3-2-2 0-2 2-2 4 1-1-1 2-5 1 2 2-3 5-2 3 0 3-3 4 2-5 3 2 5 0-2 3-2 3 2 2-4zM785 74l2 2-2 3-2-2zM758 75l-1 1zM180 75l0 1-2 1 2 1zM803 75l3 0 3 2 1-1-5-3 0 1zM772 72l1 0 1 2 2-1zM438 72l1-1 1 1-1 1zM862 71l2-1 1 2-1 1zM847 72l1-2 2 1-2 2zM710 71l1-1 1 1-1 1zM857 67l3 3-1 3-2-1-1-3zM953 67l1-1 1 1-1 1zM908 67l1-1 1 2-1 1zM973 65l1 1-1 2-3 1-1-2zM955 66l1-1 2 1-1 1zM922 67l2-2 4 1 1 2-1 1-3 0zM909 66l1-1 2 1-1 1zM903 66l1-1 1 1-1 1zM181 66l1-1 1 1-1 1zM181 61l1 3-1 2-2 1-1-1 2-3-1-1zM160 62l1-1 2 1-1 1zM968 60l1 2-3 3-1-2 1-2zM965 60l1-1 1 1-1 1zM961 59l2 2-2 3-3 2-1-1 1-4zM918 60l1 0zM976 59l1-1 1 2-1 1zM958 54l2 1 0 3-1 1-4-2 0-1zM871 55l-2 1 0 1 2 0zM917 52l2 1 3 9-3 3-2-1 0-2-1 0-1 3-2 0-3-2-1-3 3-1 2-3 1 1 0-2zM928 52h0zM890 56l3-5 3 0 3 3 0 2-3 2-1-2-3 1zM699 52l1-1 2 1-1 1zM233 52l2-1 1 2-2 1zM200 52l1-1 1 1-1 1zM967 50l1 2-2 1-1-1zM287 51l1-1 1 1-1 1zM164 51l1-1 1 2-1 1zM698 50l1-1 1 1-1 1zM971 49l2-1 1 2-2 1zM967 49l1-1 1 2-1 1zM951 49l2-1 1 2-1 1zM291 49l3-1 1 3-2 1zM245 48l1 2-2 1-1-1zM948 48l1-1 2 1-1 1zM986 47l1-1 1 1-1 1zM942 47l1-1 2 1-1 1zM283 46l1-1 2 1-1 1zM704 45h0zM687 45l1-1 2 1-1 1zM925 46l-4 5-2-2-2 0-2 2-1-1 0-2 6-5 2 3 2-1zM958 43l1-1 1 1-1 1zM697 43h0zM286 43l1-1 2 3-2 1zM983 42l1-1 2 3-2 1zM707 41l2 0zM513 41h0zM616 40l0 2 1-1zM918 39l1-1 1 1-1 1zM284 39l0 1 1 0 0-1zM157 40l2-2 2 2-1 1zM905 38l0 2zM275 38l2 1 0-1zM172 38h0zM593 37l0 2 1 0 0-2zM960 35l2 3 0 5-1 1-2-2-1 1-1-1 0-3-6 7-1-1 1-3-2-2 3-2 3 0 1-2zM947 36l3-1 1 3-2 1zM602 36h0zM251 36l1 0zM906 34l1-1 1 1-1 1zM293 34l1-1 1 1-1 1zM992 32l1 1-2 4 1 1-1 1-3 0-1-1 0 3-1 1-1-2-2-1 0-2 1-1 1 1 3-5zM274 31l-1 2zM942 30l3 2-1 3 1 2 2 1-1 1-4 0-1-1-2 1 8 1 1 2-5 3-2 5-2 1-1-2-1 0-3 4 2 4 1 0 2-2 2 0-2-3 1-1 6 2 2-3 5 4 0 3-2 2-2-2 1-1-4 2-2 0-2 3-5 0-1-2-3-1-1 5-4 2-4-6 3-4-2-3 1 3-2 1-2-5 2-2 2 1 0-3 1-1 2 1 1-2-2-1 0-2 1-1 3 1-1-2-2 1-1-2-2 3-3-4 1-1-1 1-2-1 1-1 0-3 3-1 1 2 5 0 1-1 4 1 2-5 1 1zM985 28l4 2 0 1-4 3-2-2 0-2zM616 29l1-1 1 1-1 1zM891 28l-2 2 1 2 1 0zM274 28h0zM959 26l1 2-2 3-4-2zM943 27l1-1 1 2-1 1zM617 28l1-2 4 0 1 1-2 2-3 0zM286 27l1-1 2 1-1 1zM970 26l1-1 1 1-1 1zM283 26l1-1 1 1-1 1zM151 25l1 1-3 4-1-2 1-2zM649 24l1-1 2 1-1 1zM283 24l1-1 1 1-1 1zM924 22l1-1 1 2-1 1zM651 22l1-1 1 1-1 1zM629 20l4 3 0 2-2 2-5-4zM922 21l1-2 3 1-3 2zM936 20l3-2 1 1 3-1 1 1 0 4-6 3zM920 19l1-1 1 1-1 1zM989 17l2 2-1 3-2-1 0-3zM973 18l1-1 2 1-1 1zM917 18l1-1 1 1-1 1zM914 17l1-1 1 1-1 1zM277 17l1-1 1 1-1 1zM949 16l1-1 5 1 1 1-1 1 1 2-1 1-2-1-2 1zM274 16l1-1 1 1-1 1zM892 15l0 1 1 0zM614 16l2-2 2 2-1 1zM624 35l-2 3-1-1-3 2 2-1 2 2 0 2-3 3-3-1-1 2-2 0-6-4-1 1 2 1-1 2-4 0-1-1-1 2-1-2-2-1-2 3 1 0 1 2-3 3-1-1-1 2-4-3-1 1 0 3-3 4-2 0 1 2-2 2-2 0-3-2-5 3-3-1-3 4-1-1-6 0-2-1-5 3-3-2-5 0-2 1-7-3-1 2-3-3-3 0-2-3-3 2-5-4-4 0-2 1-1 2-2-3-1 1-2-4 4-6 0-2-2 1-1-1 2-3 0-4 3-2 1 2 1 0 1-2 3-1 0-3 1-1 5 0 2-5 6 2 2-4 3 0 1 2 2 0 2-3 2-1 3 1 4-3 5 0 1 2 1-1 1 1 2-3-1-1 1-1 3 2 1-3 2 1 2-1 5 0 5-3 4 0 1 1-1 1 2 0 1 2 1-1 3 0 1 2 2 1 3 0 1 1 2-2 1 1-1 3 3 1 2 3 6-4 2 3 2 1-1 1 3 3-5 4 2 2 5-3-1-2 2-2 2 0 1 1-1 1zM974 14l3-1 1 3-3 1zM950 14l1-1 1 1-1 1zM924 13l1-1 2 1-1 1zM274 11l0 1 1-1 2 2 0-2zM608 10l1-1 1 1-1 1zM955 9l1-1 1 1-1 1zM652 9l1 1zM270 9l-3 1 2 3 1 0 1-2zM966 8l1-1 1 1-1 1zM885 8l0 1zM941 7l1-1 1 1-1 1zM901 7l-1 2zM962 6l1-1 1 2-1 1zM914 6l1-1 2 1-1 1zM878 6l-1 2 1 0zM999 5l-1 0 0 2zM931 4l1-1 2 1-1 1zM659 4l-1 2 2 0 1 2 2 0 0-2-2-2zM1003 3l0 1zM896 3l-1 0-1 2 1 3zM913 2l2-1 1 2-1 1zM1006 1h0zM909 1l1-1 2 1-1 1zM884 1l0 2 2-1zM1016 0l1 4 3 2 2-3 2 0-1-3zM1008 0l2 3-3 2 0 2 2-3 2 1-1 2 3-1-3-2 3-4-2 0 1 1-1 1zM983 0l-1 0 0 1zM976 0l-3 0-3 4 5-1zM892 0h0zM876 0l0 1 2 0 0-1zM652 1l4 0 0-1-3 0zM0 0l0 203 324 0 1-1 5 1-1-2 1-3-1 1-3-1-2-2 1-1-1 1-3-4 0-1 3-2 1-3-2-2-1-4-2-1-1 1-3-4 1-1-3-3-1 0-1 2-4-4-2 0-1-1 0-3-2 0-1 2-3-2 0-2 2-3 2 3 1 0 0-3-1-1-5 1-2 2-3-3 3-2 1-3-2-1 1-3-1 0-3 4-2-2 0-3-2 1-2-1 0-2 3-2-3-4 3-5-1 1-6-3 1-1-1-2-1 1-5-2 0-2 2-2 0-3-1-1 2-1-3-1-1 3-6 2-2-3 2-1-1-2 1-1-5 3-1-1 0-3-1 0 1 1-1 1-3-1-2 2-3-1-2 1-4-2 1-3 3 0 1-1-1 0-1-2-6 4-1-2-3-2-2 3-1-1-4 0-2-1-1-2-1 2-2-1-1-2-2 1-1-1 1-1-2-1 0-2-7 2-2-1-2 3-2 0-3-2-9 1-1-3-1 0-1 2-3 0-3-2-4 1-2-2-4 3-2-5-3 2-4 0-2-3-3 0-1 3-2-1-4 2-3 0-1-1-6 0-3-2-4 0-1 1-3-4-1 1 1 1-2 3-3-2-3 2-2-1-5 0-1 1-4-4-6 2 0 1-3 2-1-1 2-2-6 1-2-2-3 0-1 3-1-1-4 0-2-3-3 0-1 1-4-3 0-2-1 0 0 2 2 3-3 1-1 2-1-1 0-3 1-1-2 0-1-2-2 0-2 2 2 1-1 1-4 0-1-1-1 1-2-1-3 1-1-1 1-2-1-3-1 2-5 0-1-2 3-1 2-4 3 1 2-1-1-1-3 1-2-2-1 3-1-1 0-4-2-2-3 2 0 1 4 3-1 3-3 2-5 0-1 1-2-2 0-3 3-1 1-2-5 0-1-1 2-4 5 1 3-1 1-2 3 1 3-2 3 4 6 1-2-4 2-2 2 0 3 2-3 2 0 2 4 0 1-1-1-2 4-2 1-2 2 0 4 7 1-2-1-1 5-5 9 3-2-1 2-3 2 0 1 3 2 0 3 4 4 0 1-2 1 3 4-2 3 0 1-3 5-5 2 1 3 5 3-3 5 2 4-2 1 2 2-1 5 3 1-2-1-3 2-2 4 0 3-4 2 1 1 3 4-1 1 1-1 2 3 0 3-2 3 1-1-2 1-2 3 1 2-2 2 1 1-3 2 1-2 4 1 1 3 0 3-2 2 0 3 2 2-4 3 4 4 1 3-2 2 2 3-4 2 3 0 2 2-3 2 1-2 3 2 0 1-2 5 4 2-2 3 0 2 2-2 1 0 1 1-1 1 1 1-1 6 0 1 1 2-1 3 1 2-1 1-2 3 0 1 3 3 1 4-1 3-3 3 2 6 0 1 1 3 0 4-2 1 2 1 0 3-3 5 1 1-2 4 0 3 4 3-1 5 0 1 2 11-1 2 4 2 0 1-2 7 0 8-3 5 3-1 2 4 1 1-1-1-2-2-1 2-4 4 3 1 2-1 2 2 1 0 2 2 0 0-3-1-1 8-5 3 5 2 1 1-1 2 2 1-2 2 2 3 0 1-1 2 1 2-1 1-2 5 6 3 1-1 2 1 6 6-3 2 2 2 0 2 2 4 1 1 1-1 1 1 4 2-1 2 3 2 0 1-2 1 1 6-2 2 6-1 1-1-1-3 1 1 2 2-2 3 0 1 1-2 5 2 2 3 13-2 6 1 5-2 1-1 3-2 1 0 2-2 2-1 8-1 1 0 5 1 1 0 4-1 1 0 3 1 1 0 5-1 1 1 1 0 10-1 1 1 1 0 3-1 2 211 0-5-5 1-3-2-5-2 1 1 3-4 3-2-3 0-3-5-1-1-2 0 2-2 2-6-5 2-2 3 1 3-2 2 1-2-3-2-1 0-2-1 0-2-3 1-1 0-2-2-2 1-5-2 0-2-2-1 2-2 0-2-4 1-2-1-3-3-1-3-3 1-1 0-4 2-1 0-2 2-1 1-2-3 1-3-3-2 0-1-2-2 1-5-1-2-4 1-3-2-3 0-3 3-3 1 0 1 2 1 0 1-2 5 0 0-3 3-3 3 0 0-2 1-1 3 0 2-3 3 2 2-2 3 1 9-3 2 1 1-3 2 1 0 2 2-2 1 1 1-1-1-1 1-3 2-2 2 1-2-4 1-2 3 1 2 6 4-2 2 2 1-2 3 2 2-1 2 1 1 2 3 1 6 0 2-3 1 0 1 2 1-3 2 0 1 1-1 1 1-1 2 1 4-2 6 0 6 5 0-3-2 1-3-4 3-3 2 0 2 3 1-1 0-3-2-1 7-5 3 5 0 3 2-1 1 1 4 0 1 3 2 1 0 4-1 1-2-1-3 1 1 2 3-2 1 2 4 0 1 1-3 7 4 5-1 3 5 4-1 3 4 2-1 4-2 1-1 2 3 4-1 9 2 1-3 2-2 3-3 1 0 2-5 4-5 7 0 5-2 3 1 2 0 9 1 1-1 8 543 0 0-203-176 0-3 2 1 1-1 2-3 0 0 2 3 2-2 3-3-1-2 3-4 0-5 3-2-1 0 1-5 4 1 2-1 1-2-1-4 5 1 2-2 2-14 1-1 1-4 0-1 2-1-1-3 1-1-3-1 1-3-2-3 0-2-2 0-3 4-3-1-3-3 1-4-6-3 0-1-1-3 0-1 5-2 1-2-5 2-6-3 1-2-1-1 1-6-2-2-2 0-3-3 0-1 1-2-1 1-4-4 0 0 3-3 4-2 0-3-2 5-4 0-1-3 1-2-1-7 0-4 2 0 3-1 1-5-2 3-4-32 0-1 1-1-1-3 0 1 2 3-1 2 2-2 4 2 0 3 2 0 5-2 1-2-3 1 3-2 2-5-2-1 3-1-1-4 1 1 2 3-2 2 0 3 3-4 3-3-1 2-1-1-1-4 2-3 0 0 1 3 2 3-2 2 0 1 1-1 6 3-2 2 1-3 5-2-1 0 2 2 0 6-3 2 2 0 2 1-4-2-1 2-3 4-3 0-5 1-1-1-1 1-1 3 0 1 1-2 1 3 3 2 0 3 2 6-1 2 2 3 0 2 2 0 2-1 1-1-1 1 2-1 1-5-1-1-2-3-2-4 3-4 0-1-2-1 0-1 3-3 2 3 5-7 5-5 1-1-1 2-1-2-2 2-1 0-1-3 1 0 4 2 2-1 3 1-1-1-1 2-2 4 3-1 4-3 1 3 1 0-1 2-1 2 3-3 3 0 3-1 1-1-2 0 2-2 2-1-2-3-2 0-2 3-1-4-5 1-2-1 1-2-2-6-2 1 1 0 3-4 3-4-2 1-3-1 0-4 5-1 0-1-2-2 1 4 2-1 2 0 4 2 1-1 2-1-1-4 1-2-3-7-2-3 4 1 1-2 4-2-1-8 1-5-2-2 4-9 1-1 2-1-1-3 3-2-2 1-3-3 1-3 4-5 0-1-2 1 3 0 4-1 1-2-3-3-1-2 2-4 0 1 1 0 3 2 2-2 2-3-1 1-3-4-5-4 0-2-2-2 3-7-6-2 0-3 4-5 0-2 6-2-3-1 1-2-1-1-2 1-3-2 0-1 2-3-1 3 4-2 5-3-3-4 1-2-2 0-2-5-1-3 2-1 3 2-1 1 2-3 2-2-3-3-2-4 3-1-3-2 0-4 3-3-2-3 0-1-3-6 0-1-1 0-3 1-1 1 1-1-6-5-4 2-2 2 1 1-1-1-2 1-1-5 1-3-5 0-3-2-1-1 2-5-9-1 2-2-1-3 3-2-1-3-4 4-2 0-1-4-1-4-3-2 0-3-5-1 1-4-2-3 4-2 0-1-3-4-2 1-7-2-3-2 1-1-2-1 0 3 4-1 2-2 0-2-3-1 1-3 0-2-2 2-6-2 0-2 4-4-5 1-3-1-3 2-1 2-4-2-1 0-2-375 0 0 2-3 1 0 1 2-1 3 1 3 3 0 5 1 1-2 2-3-1-3 3 4 0 1 1 2-1 3 4 2 1-6 3 3 2 2 3 2-1 3 3 1-1 1 1-1 2 2 2 4-1 2 2 2-1 1 1-1 2 1 1-2 2-3 0-1-2-4 4-3-2-1 1-4 0-2 3-2 0-3-5-2 1-3-1 3-2 0-1-4-3 1-2-1-1-3 0 2 3-1 2-8 0 0 1 5 3-1 2-3 1-5-3-1 1-2-1-6 0-2 1-2 3 2 3-2 3-1-1-5 1-3-3-2 2-1-2-1 0-3 4-2-2 0-2-3-1-3 3-3 0-3 2-4-2-2 3-2 0-3-2-3 1-2 4-2-2 0-3 1-1-1 1-1-1-1 1-3 0-3 2-6-4-2 3 6 1 1 1-1 2-5-2-3 0-3-4-3 2-3-2-1 1-1-2 3-2 0-4 1-1-3-2 0-6-2-2-1 0 1 3-1 2-4-1-1-3-2-1 1-2 1 1 3 0 0-3 1-1-2 0-1-2-4-3 0-2 1-1 2 3 3-2-2-3-3-2 1-1-2-2-2 0-3-4-1-6 2-2z"/>
<path fill="#8ecf5e" stroke="#8ecf5e" fill-rule="evenodd" d="M306 203h0zM304 203h0zM1012 201l1-1 1 1-1 1zM1010 201l1-1 1 1-1 1zM306 200l0 1 1 0 0-1zM585 199l2-1 1 2-1 1zM1025 196l1-1 1 1-1 1zM1016 195l1 2-4 3-2-2 3-3zM29 195l1 2-2 1-1-1zM1026 195l1-1 1 1-1 1zM1036 194l1-1 1 1-1 1zM17 193l1-1 1 1-1 1zM1000 194l4-3 5 3 1 2-1 1-4 0-2-2 1 1-3 1zM993 191l2 3 0 2 2 2-1 2-6-2 2-3-1-2zM318 193l-1-1-3 3-2 0 0 3 2-1 1-3 3 1zM16 191l1-1 1 1-1 1zM1027 189l1-1 1 2-1 1zM1005 189l1-1 1 1-1 1zM962 189l1-1 2 1-1 1zM579 188l1-1 1 2-1 1zM951 187l2-1 1 2-2 1zM942 187l3-1 2 3-3 1zM955 185l3-1 1 3-1 1zM997 184h0zM962 184l1-1 1 1-1 1zM303 184l1-1 1 1-1 1zM944 183l2-2 3 2 1 2-1 1-3 0zM955 177l2 1 0-1zM295 177l1-1 1 1-1 1zM986 174h0zM281 175l1-2 2 1-2 2zM961 171l1-1 1 1-1 1zM294 172l3-2 1 1-1 2zM954 170l1-1 1 1-1 1zM943 169l1-1 2 2-2 1zM572 168l1 3-3 2-1-2zM978 168l0 2 1 0zM952 167l1-1 2 2-2 1zM579 169l0-2 3-2 2 0 2 2-1 2-3-1-1 2zM984 166l-2-1-1 3 2 0zM957 164l3 3-2 2-3-2zM968 164l0 1 1 0 0-1zM578 163l1-1 1 1-1 1zM955 163l1-2 2 1-2 2zM291 160l-2 0 1 2zM276 158l1 2-2 1-1-1zM982 158h0zM281 155l1 1 2-1zM951 149l1-1 1 1-1 1zM571 148l1-1 1 1-1 1zM993 145l1-1 1 1-1 1zM564 145l1-2 2 1-2 2zM987 143l1-1 1 1-1 1zM978 142l2-1 1 3-1 1zM252 141l1-1 1 1-1 1zM989 139l1 1-1 3-1-1zM970 140l1-1 1 2-1 1zM1038 139l1-1 1 1-1 1zM565 137l3 2 0 4-1 1-3-5zM1028 134l1-1 2 3-2 1zM1024 134l1-1 2 2-2 1zM1007 133l3-1 1 2-2 2zM557 132l1-1 1 1-1 1zM566 131l2-1 2 3-1 1-2-1zM556 131l1-1 1 1-1 1zM1009 129l3-1 1 3-2 2-2-2zM1012 128l1-1 1 1-1 1zM1004 129l2-2 2 2-1 1zM714 128h0zM551 129l1-2 3 1-2 2zM799 126l1-1 1 1-1 1zM550 126l1-1 2 1-1 1zM1019 126l3-2 2 1-1 3-2 0zM552 125l1-1 1 1-1 1zM258 127l1-1 2 1 3-2-6 0zM796 126l1-3 3 1-2 3zM570 124h0zM1019 123l1-1 1 1-1 1zM1001 122l2-1 1 2-1 1zM720 123l1-2 4 0 1 1-2 2-3 0zM197 121l1 1-1 3-1-1zM833 120l1 1-1 6 2 2-2 2-2 0-1-1 1-2-1-1 1-1-1-2zM238 121l0 1zM1108 120h0zM761 120l1-1 1 1-1 1zM244 120h0zM776 119l1-1 1 1-1 1zM560 119l1-1 1 1-1 1zM551 119l1-1 3 0 3 3 0 2-3 1-2-2 0-2zM430 118l2 1 0 3-1 1-2-2zM187 119l2-1 2 2 0 2-3 1-1-1zM778 120l1-2 3-2 5 3-1 3-2-1-2 1-1-2-1 1zM45 117l1-1 1 1-1 1zM917 116l1-1 1 1-1 1zM868 115l1 2-2 1-1-1zM433 116l1-1 1 1-1 1zM992 115l1-1 1 2-1 1zM918 115l1-1 2 1-1 1zM154 117l1-3 3 1-3 3zM99 115l1-1 3 1-1 1zM1102 114l-3 1-1 3 5 0zM79 114l1-1 1 1-1 1zM39 114l1-1 1 1-1 1zM1076 113l1-1 1 1-1 1zM894 114l4-2 2 3-2 2-2 0zM573 113h0zM10 112l1 2-2 1-1-1zM823 112h0zM790 112l1 0zM133 112l2-1 1 2-2 1zM61 112l1-1 1 1-1 1zM1080 113l1-3 3 1-2 1-1 2zM1015 111l2-1 2 4-2 1zM898 111l3-1 1 2-2 1zM853 111l2 0zM221 111l-1 0 0 1zM157 111l1 0zM546 112l1-3 3 1-2 3zM160 110h0zM794 109l0 1zM436 109l1-1 1 1-1 1zM1227 108l1-1 1 1-1 1zM1212 108l1-1 1 1-1 1zM866 108h0zM864 108h0zM839 108l1-1 1 1-1 1zM790 108l2 1zM1100 107l-1 3 3 1 1-2 3 3-1 3 2-3 0-3-3 0zM1083 106l1 2-3 2-1-1zM1073 107l2-1 3 3-2 1zM891 106l3 3-2 2-3-2zM862 107h0zM840 107l-1 1 2 1zM775 107l1-1 1 1-1 1zM549 107l1-1 1 1-1 1zM92 107l-2 1 1 3zM1166 105l1-1 1 1-1 1zM1018 104l1 2-2 1-1-1zM999 105l1-1 1 1-1 1zM867 105l-1 1 1 0zM774 105l1-1 1 1-1 1zM44 105l1-1 1 1-1 1zM1212 104h0zM1205 106l-2 3-4 0-3 2-3-1 1-3 5-4 2 0zM1125 103l1 2-4 4-1-1 0-3zM1019 104l1-1 2 1-1 1zM782 104l0 2zM772 104l1-1 1 1-1 1zM731 104l1-1 1 1-1 1zM412 104l-1 1 1 0zM1159 103l2-1 2 3-1 1-2-1zM1016 103l1-1 1 1-1 1zM788 103l-2 1zM764 103l1-1 1 1-1 1zM573 105l1-1 2 1 2 3 3 0 1 1 3 0 2-3-2-3-1 0-1 3 1 1-1 1-3-1-2-4-3 0zM1 103l-1 0 0 2zM1212 102h0zM848 102l-2 1 0 2-2 2 1 5 2-4 2 1-1-2 0-3 1-1zM784 102l1 0zM733 103l2-2 2 0 2 3-1 1-4 0zM591 102l2 1 0-1zM461 103l1-2 2 1-2 2zM1082 101l1-1 1 1-1 1zM1019 101l2-1 1 2-2 1zM705 101l0 1zM0 109l0 94 301 0 0-4 1-1-1-2 1-2-1-1 1-1 5 2 2-1 0-3-4-3 3-4-1-2 1-1 3 4 3 1-2-4-4-3-3 0-2 2 1 1-1 2-4-1-3 2-2 0-2 2-1-2-3 1-1-2 2-2 3 1-1-1 8-4-2-2 3-1-1-2 1-1-2 0-4-6-4 5-2-2 2-3-4-2-1 1-3 0-4-3-3-5 1-6-2-3-2-1 1-1-2 2-3-4-2-1 0-2-1 4-4 2-2-7-2 1-3-2 2-4 0-3-3-4 0-2-3 1 3 2-1 2 2 1 1 3-4 3-1-1 0-4-1-1-1 2-2 0-1-2 2-2-3 0-1-2-5-3-2 1-2-4 1-3-3 0-1-2-2-1-4 1-2 2-2 0-3-3-1 1-6 0-2-2-2 1-1-3-4 1-3 5-2 1-2-3-1 2-2 0-1-1 2-1-1-2-3-2-1 1-3 0-2-4-1 0 0 2 3 3-2 3-3-5-1 1-5 0-2-2 1-2 2 1-2-2-3 2-2 0 0 1-4 3-1-1 1-2-2 0-3 4-5-3-2 0-3 2-3-4-1 1-6-2-2 1-4-3-1 2-2 0-3 2-3 0 1 2-2 3-4-1-2-5-3 2-5 0-7-3-1 1 0 3-2 2-2 0-2-2-4 2-2-3-2-1-1-3-1 1-3-1-1 1-6-4-3 2 3 5-4 2-1-2-1 1-1-1 0-3-1 1-2-3-1 1-7-1-1 2-4-2 0-1 2-1-1-4-1 0-2 3-3 1-3-2-2 3-1-1-1 2-4-2 1 3-4 3-2-1-3 3-2-1 0-3-1-1-3 0-2-2 1-1-5 3-1 2-3-1-1 2-4 3-2-2-4 0-1-1 1-2zM1146 101l1-2 2 1-2 2zM1126 100l1-1 1 1-1 1zM932 102l3-3 2 0 3 2-1 2 1 2-2 1-1-2-4 0zM783 100h0zM592 100h0zM419 100l0 3 1 0zM1030 101l1-3 2 2-2 2zM1019 99l1-1 1 1-1 1zM1014 99h0zM902 98l3 0 1 1 0 4-2 2-6-2 1-2 3-1-1-1zM892 98l2 3-4 5-2 0-1-3 3-2-1-2zM881 98l2 2-2 2 1 2-1 2 1 4-2 2-2 0-2-2 3-3-5-3 1-1 4 0 0-3zM769 99h0zM762 99h0zM851 98l-1 1 1 1zM463 98l1-1 1 2-1 1zM1227 96l6 5-2 1-3 4-2 0-3-2 1-2 3-2 0-1-2-1zM1222 96l1 1-1 3-2-2zM1216 96l3 3-5 4 0 3-3 2-3-8 2-1 1-2 4 1zM868 97h0zM1237 96l1 0 1 2 0-2zM1077 95l1 2-3 2-1-1zM940 100l0-3 3-2 4 0 2 2-2 4-1-2-2 0-3 2zM928 97l5-2 1 2 3-1 1 2-7 3zM0 96h0zM1218 94l1-1 2 1-1 1zM1118 94l0 3-1 1-1-3-4 4-1-1 2 2 0 2-2 2 1 4-3 2 1 1 3 0-2-2 4-2 5-8-2-2zM1103 94l0 5 5 3 0-2-3-2 0-2 1-1 4 1 1-2-3 2-1-2zM978 94l1-1 2 1-1 1zM861 94l1-1 1 1-1 1zM714 94l1-1 1 2-1 1zM1157 93l1-1 1 1-1 1zM1089 93l1-1 1 2-1 1zM887 93l1-1 1 1-1 1zM724 93l1-1 1 1-1 1zM636 93h0zM595 93l1-1 1 1-1 1zM1028 92h0zM944 92l1-1 1 1-1 1zM937 92l1-1 1 1-1 1zM882 92l1-1 1 1-1 1zM813 92l1 2-1 3 1-1 1 1-1-2 1-3-1 1zM726 92l2-1 1 2-2 1zM629 92l1 1zM602 92l1-1 1 1-1 1zM1193 91l2-1 1 2-2 1zM1175 91l1-1 1 1-1 1zM1120 91h0zM986 91l-2 1 1 1zM957 91l3-1 1 2-2 1zM881 91l1-1 1 1-1 1zM875 91l2-1 1 2-2 1zM703 91l0 2 2 0 0-1zM423 91h0zM10 91l1 0zM1205 92l1-3 2 2-2 2zM845 90l-3 0 1 1-2 1-2 3 1 1 3-3 0-2zM788 93l-2-1 0-2-1 1-6 0-1 2-2 0-1-2-1 0 1 3zM711 90l-1 0-2 3 1 0zM640 90l1-1 1 1-1 1zM1189 89l1-1 4 2-1 1-3 0zM1084 89h0zM922 89l1-1 1 1-1 1zM873 89l1-1 1 1-1 1zM851 89l1 3 3 0 2 2 2-1 6 4-2-2 0-3-2 0-1 2-2-2-2 0-1-3zM816 89l1 0zM1216 88l1-1 1 1-1 1zM894 88l2-1 2 3-2 2zM862 88l-1 0 0 2zM1110 87l1 1 3-1zM1067 87l0 1 3 1 0-2zM1014 87l1-1 1 1-1 1zM988 87l1 0zM924 87l2-1 3 3-2 1-2-1zM910 87l1-1 1 1-1 1zM854 87h0zM770 87l0 1 2 1-1-2zM763 87l-1 1 1 0zM674 87l1-1 2 1-1 1zM3 87l-3 1 0 3 4-1-2-1zM1219 86l1-1 1 2 1 0 0-1 2-1 1 1-1 1 2 1-3 2-3 0-1-1zM1002 86l1-1 1 1-1 1zM958 86l2-1 1 2 2-1 2 1 1-1 1 3 3 0-1-2 3-2 1 1-1 1 1 1-1 2 1 2-1 1-3 0-7-4-2 0zM759 86h0zM671 86l1-1 2 1-1 1zM637 86l1-1 1 1-1 1zM1197 85l1-1 1 1-1 1zM1100 88l2 0 1 2 2-2 1 1-3-4-1 0zM951 85l1 0zM923 84l1 1-1 3-1-1zM631 85l-1 1-2-1-2 2 3 1zM600 84l1 1 0 3-2 1-1-3zM1149 84h0zM1126 84l1 1 0-1zM1066 84l0 1 1 0zM1041 84l1 0zM1007 83l1 1-1 3-1-1zM996 84l-3 2 0 3 2-1zM924 84l1-1 1 1-1 1zM872 84l1-1 1 1-1 1zM860 84l0 1 1 0zM675 84l1-1 1 2-1 1zM10 84l1 1 0-1zM1162 83l1 1 0-1zM1141 83l0 3 5-1-2-2zM1004 83l1-1 1 1-1 1zM928 82l2 4-1 2-2-2 0-3zM919 83l3-1 1 2-3 1zM891 83l1-1 1 1-1 1zM844 83l-1 2 1 0zM427 83h0zM37 83l0 1 2 0 0-1zM903 82l1-1 1 1-1 1zM886 81l1 2-2 1-1-1zM378 82h0zM1183 80l2 2 0 3-1 1-3-1 0-3zM1151 81h0zM1099 81l-1 2 2 1-1-2 1-1zM929 81l1-1 1 1-1 1zM912 84l-2 3-1-2-4 3-3-1 2-4 1 1 1-1-1-1 3-2zM901 81l1-1 1 1-1 1zM880 80l3 3-3 2-1 2-2-4zM874 81l1-1 1 1-1 1zM850 81l0 2 3 1 0-1zM839 81l-3 0 0 2-2 3 2 1 0-3 4-2zM943 80l-2 1 0 2 1 0zM710 80l2 1 0-1zM1105 79l-1 0 0 1zM947 79l0 1 3 2 3-2-3 1zM936 79h0zM856 79h0zM682 79l2-1 1 3-2 1zM1227 80l2-3 4 0 2 2 0 3 1 1-3 2-2-2-3 1-1-1zM1162 78h0zM1135 77l1 1-3 2-1-1zM680 78l1-1 1 1-1 1zM356 78h0zM105 78l-1 2zM1187 80l2-2 2 0 1-2 2 3-1 3zM1180 76l1 3-5 2-1-2zM1148 77l1 3 2-1 0-2zM1144 77l1 0zM1035 77l-1 1 2 1zM892 76l2 2 0 2 3 0 1 1-2 3-3-1-3-4zM867 77h0zM702 76l1 3-2 1-1-1zM694 77l1-1 1 1-1 1zM683 77l1-1 1 1-1 1zM679 77l1-1 1 1-1 1zM120 77h0zM1162 76h0zM1125 77l-3-1-2 3 1 1 3-1zM1069 76l0 1zM926 76h0zM869 76h0zM831 76l-1 1 1 1-3 1 0 1 3-1zM416 76l1-1 1 1-1 1zM136 76l1 2zM16 76l1-1 1 1-1 1zM998 75h0zM964 75l-3 1 1 2 2-1zM954 75l0 2 2 0zM942 75l2 0zM887 75l1-1 2 2-2 1zM867 75h0zM631 75l2-1 1 2-1 1zM458 75h0zM34 74l1 3-2 2-2-2zM14 75l1-1 1 1-1 1zM1017 74l0 1 1 0zM633 74l1-1 1 1-1 1zM140 74l0 2 3-1zM134 74l-4 2-1-2 0 4 1 1 3-2zM1091 73l-1 2 1 3 4 1 0-2-3 0-1-1 1-1zM1028 73l1-1 1 1-1 1zM1022 73h0zM462 73l1-1 1 1-1 1zM280 73l1-1 1 1-1 1zM166 73l1 0zM16 73l1-1 1 2-1 1zM1213 72l1-1 1 1-1 1zM1168 72l2-1 2 2-2 1zM64 72l1-1 1 1-1 1zM1104 71h0zM1029 72l2-2 2 1-1 2zM961 71h0zM905 71l1 0zM461 72l1-2 3 1-3 2zM1122 70h0zM870 70l1-1 1 1-1 1zM648 70l1-1 1 1-1 1zM228 70l1-1 3 0 1 1-1 1-3 0zM49 70l3-1 1 2-3 1zM1018 69l1-1 1 1-1 1zM1010 69l1-1 1 1-1 1zM1008 69l1-1 1 1-1 1zM107 69l1-1 1 1-1 1zM23 69l1-1 2 1-1 1zM1143 69l0 1 2 1 4 0-1-3zM1042 68l1 0zM449 68l1-1 1 2-1 1zM280 68l1-1 2 2-2 1zM80 67l2 3-1 1 4 2-3 3-3-5-2-1zM937 67l-1 0 0 2zM1090 66l1-1 1 1-1 1zM983 66l0 1-3 2 1 2 2-2zM965 67l-2-1-1 3zM120 65l1 3-2 2-2-2 1-2zM107 65l1 1-1 3-2-2zM1064 65l1-1 1 1-1 1zM664 65l2-1 1 3-1 1zM234 65l2-1 1 2-1 1zM196 65l1 0zM153 65l1-1 1 1-1 1zM1122 64l1-1 3 1-2 2zM1049 64l1-1 1 1-1 1zM1046 64l1-1 2 1-1 1zM148 66l-2 2-3 0-2 2-2-3 3-4 2 2 3 0zM137 64l1-1 1 1-1 1zM61 64l3-1 1 2-3 1zM1069 62l4 1 2 2-1 3 1 0 1 2-2 2-4-2 1-2-3-5zM934 64l1 1 3 0-2-2zM307 63l1-1 1 2-1 1zM193 63h0zM122 63l1-1 1 2-1 1zM90 64l1-2 3 1-2 2zM1050 62l1-1 1 1-1 1zM986 62l1-1 1 1-1 1zM186 62l2 4 1 0 1-3-1-1-1 2zM112 62l1-1 1 2-1 1zM89 62l1-1 1 1-1 1zM1156 61l1-1 1 1-1 1zM1073 61l1-1 1 1-1 1zM1063 61l1-1 1 1-1 1zM1061 60l2 2-3 2-1-2zM1058 61l1-1 1 1-1 1zM1054 61l2-1 1 2-2 1zM997 61l1-1 1 1-1 1zM700 61l1 3 3 0 3 2-1-1 0-4-3 0-1 1zM1134 60l1-1 1 1-1 1zM1206 99l-1 2-4-2-6 1 1 3-2 1-1 2-3 1-5-1-3 3-4 1-1-1 0-4 1-1-1-1 1-1 3 1 2-2 2 0-1-2-5 1-1-1 2-2-1-2-3 0-3 4 0 2 2 3-2 2-2 0-7-6 3-1 0-3 1-1-1-1-6 1-1-2-3-2 2-1 0-1-5 2 3 5-2 2-3 0-2-3-2 1-3-1-1 1 1 4-1 1-3-1 1 2-2 1-1-1 0-3 2-3-3-4 1-2-1-2-1 1 0 4-2 2-2 0-1-2-3-2 0-3-2 2-1-1-4 0 2 4-1 2 1 1-2 2 2 1-1 1 2 1-6 5 1 1-1 2 2 3-3 1-2-3 0 3-2 1 3 1 3 3-2 1-1 3-2 0 1 2 2 1 5 0 1 3-3 2-3 0-1 3-2-1 0 2 2 3-2 5 1 3-3 2-3 7 0 3-2 2-5-2-3 4-2-1-3 0-1 1-1-1-4 5-2 0-4 3 0 3-2 2 1 3-2 1-2 7-3 1-4 4-2 0 0 1-4 3-2-1-1-3-1 1-1-1-1 3-3 0-3-3-2 2-2 0-1-2-3 1 0 3-3 1-2-4 2-3-2-2-3 0-1-1 1-2 3 0-1-1-6 0 0 4 1 1 3-1 3 2-2 2 1 2-2 2-2-2 0-3-2 0-3 2-1-1 1-2-3 2-2 0-2-4-1 0 4 5 0 3 1 1-2 2-1-1-1 1-4-3 2-1 0-1-4 0-1-1 0-4-1-1-4 0-2-2 0-2-5 0-1-1-1 1 1 3 3 2-3 2 1 1-1 1-4-3-2 3-2 0-1-2-2-1 0-2-3 0-2-2 1-2-1-2-2 2-2-2-2 1 0 3-1 1 1 0 2 3-7 5-1-2-3 0-1-1 0-2 2-2 2 1 2-2-2-3-2 0-1 2-3-3 4-3 0-2-2-2-1 1-1-2-2 0 1 3 2 1-4 2-5-1-4 5-3 0-1-1 0-3-5-3 0-1 3-1 2-3 3 2 3-3 2 2-1 2 1 1 2-1-1-1 1-1-2-2 0-2 2-2 1 1 0-3-3-2 1-2 2-1 2 1 1 2 1-1 3 1-2-1 7-4-2 0 0 1-2 1-4-4 1-2 3 0-1-5 2-2 2 2 0 3-1 1 2 2 0-3 2-1 2 2 0 3 1 0 8-10 4 1 1 2 1 0 0-4 2-2 1 0 3 4 2 0-1-3 2-2 1 2 1-2 2 2-1 1 2 1 2-4-1-1 5-4 3 1 0 2-3 4 1 1 3-2 2 1 0-3 2-2 5 3 2-3 1 1 1-1 4 0 2 3 3 0 2-3 3-1 2 1 2-1 1-2 3-1 1 1-1-1 1-2 3-1 9-7 3 0 1-1 2 1 2-1 0-2 2-2 1 1 2-4 3 2 2 0 1-1 0-3-1-1 2-4 3 3 0 3-1 1 3 0 0-1 5-4-1-1 1-6 1-1 1 2 1 0 1-2-4-3 1-2-5 2-1-1 1-2-3-6 0 1-3 2-1 5-3 2-1-2-2-1 2-2 2 0 0-1-2 0-2-3 0 3-1 1-2 0-3-4-1 0 0 3 1 1-3 3-3-1-6 1-1-1 1-2-2-2 2-2-1-1 0-8-1 0 1 2-4 5-2-5 1-3 2-2 2 0 0-2 2-1-1-4-1 0 0 3-1 1-3 0-1 1-1-1 0-2 3-2 0-3-1-1 1-1 5 1 2 3 2 1-1 1 0 3 2 1 0-3-1-1 2-2 1 1 2-1 1 1 3 0 2-2 2 2 0 4 2 0 2-7 2 0 1 2 6-2 1-3 2 1-1-2-3-1-2-4 2-1 6 2 1 2 2 1 0 1-3 2 1 2-1 1-1-1-3 2 1 2 7 0 1-4 3-2 2-3 1 2 2 1-3 5 5 3 2-3 4-1 4-5 2 0 1 2 1-2 1 2 1 0 0-1-3-2 3-3 1 2 2 1 0 2 2 0 2-5 2 3 0 2-4 5-3-2-2 1 2 4-2 1 1 3 2 0 1 2 4-2-2-7 5-4 1 1 7-5 0-1-1 0 0 1-3 2-1-3 2-2 11 1 1 1-2 3 3 1 1-2 4 0 1 2-3 4-3 0-1 1-3-1 0 2 3 2 4-4 2 1 1 2 3 2-1 5 2 2-2 1 2 0 3-4-1-2 0-3 1-1 2 0 2 2-1 6-4 2 0 4 3 1 0-2 2-2 1 1 0 2-2 3 7 1 2 2 1-1 6 0 3 2-2 1 0 3 1 1-1 2 2-1 2-4 3 0 3-4 1 0 2 2 0 2zM992 60l2-1 2 3-3 1zM887 60l1 0zM176 60l-2 1 1 4 2-1 0-3zM1075 59l1-1 1 1-1 1zM486 59l1-1 2 1-1 1zM99 59l1-1 1 1-1 1zM1122 58l-2 4-3 0-2-2 6-3zM1012 58l1-1 1 1-1 1zM881 58l1 2zM661 58l1-1 1 2-1 1zM313 58l1-1 2 1-1 1zM225 57l2 2-1 3-2-2-1 1-1-2zM153 57l1 1-1 1 1 4-6 2-1-1 0-3 2-1-1-1 2-2zM487 57l1-1 2 1-1 1zM1071 55l2 1-1 3-3-1zM158 56h0zM1126 54l2 3-3 2-2-2zM1067 55l1-1 1 1-1 1zM696 55l-2 1 0 2 2 0zM674 55l1-1 1 2-1 1zM665 55l1-1 1 1-1 1zM995 54l1-1 1 1-1 1zM292 54l1 2 0-2zM140 54l-1 1 1 0zM130 54l1-1 1 1-1 1zM300 56l3 0 1-2 1 2 2-1-2 0-2-2-2 1zM1115 54l0-2 2-1 1 2-2 2zM1050 52l1-1 1 1-1 1zM495 52l1-1 3 1-1 1zM490 51l2 2 1 0-1-1 1-1 3 2-2 7-2 0-1-3-3-3zM626 51l1-1 1 1-1 1zM97 51l2-1 1 2-2 1zM1053 50l2-1 1 2-1 1zM1079 49l1-1 1 1-1 1zM154 49h0zM116 49l1-1 1 1-1 1zM118 48l1-1 1 1-1 1zM100 49l2-2 4 3 2-1 1 2 3 1 3 4-3 2-6-4-3 1-3-2zM1077 47l1-1 1 1-1 1zM269 48l-1-1-1 2zM258 47l0 2 7 2-1-4zM145 47l0 1 1 0 0-1zM126 46l1-1 1 1-1 1zM627 44l2 3-1 2-3-1zM152 45h0zM136 45l2-1 1 2-1 1zM128 44l1-1 1 1-1 1zM142 42h0zM627 41h0zM127 40l1-1 1 1-1 1zM965 39l0 1zM1034 38l1-1 2 3-2 1zM146 37h0zM679 36l-2 1 1 2zM974 34l-3 1 2 1-1 1 1 4 0-5zM130 34l1-1 1 1-1 1zM149 33l0 1zM135 33l1-1 1 1-1 1zM1061 34l2-3 2 3-1 1zM968 32h0zM637 32l1-1 1 1-1 1zM140 32l2-1 1 2-1 1zM138 31l1-1 2 1-1 1zM128 31l1-1 1 2-1 1zM1077 29l1-1 1 1-1 1zM1070 29l1-1 1 1-1 1zM636 29l1-1 1 1-1 1zM140 29l1-1 1 1-1 1zM637 24h0zM1054 22l1-1 1 1-1 1zM1053 21l1-1 1 1-1 1zM949 21l-1 0 0 1zM612 21l1 0zM120 20l3 4-2 3-2-1 0-5zM966 20l3 1 1-1zM1077 19l1-1 2 2-2 1zM301 20l1-3 3 0 1 1-4 3zM294 18l1-1 1 1-1 1zM1049 16l0 1 1 0 0-1zM931 16h0zM628 16l-4 0 1 4zM548 16l1-1 1 1-1 1zM541 17l4-2 2 3-2 1zM608 15l3 1 0-1zM283 15l1 5 3 0 3-2 0-1-3 1-2-3zM143 15l1 0zM598 12l1-1 1 1-1 1zM590 12l1 0zM303 12l1-1 1 1-1 1zM946 10l-2 2-2-1-1 1 4 2-1-2 2-1zM600 10l1-1 1 1-1 1zM1160 8l1-1 1 1-1 1zM129 9l2-2 4 0 1 1-1 3-2-1-2 1zM938 7l-2 0 1 1-2 2 2 0zM630 3h0zM315 3l1-1 1 1-1 1zM281 3l0 1zM287 2l1-1 1 1-1 1zM278 2l1 0zM102 1l4 2 0 2-3 3-2-5zM640 1l-1 2-8 3 0 2 2-1 4 3-1 2 1 4 2-1 0-2-2-1 2-7-2-1 3-1zM634 1l-1 0-1 2 1 0zM1239 0l-170 0-2 1-2 3 1 2-1 1 0 3 1 1-2 2-4 0-2 2 0 3-1 1-5-1-1 1 1 2-1 1-3 0-1-1-3 1-1 2 1 2-3 3 0 3 3 2-1 2-2 0-3-3 1-1-1-1-6 4-2 0-1 2-3 2-3-1 0 4-2 2-3-2 1-3-1-2-3 1 1 2-2 4-3 0-1-2-3 1-1-1 1-1-1 0-1 2-2-1 1 4-3 1 1 1-4 6-4-3 3-4-2 1-1-2-1 2-3-4 1 4-3 4-3 1-4-1-1 2 2 2 0 3-1 1 3 2 2 7 2 2-4 3-1-1-1 1 2 2 1 0 4-6 2 1-1 3 5-3 3 0 4 4 7 0-2-3 1-1 3 0 0-1 2-1-1-2 2-2-1-1 1-2 3 2-1 1 1 6 2 0 3-3 4 2 1-2 2 2-3 4 2 3 2 1 1-1 0-3 2-2 2 2 2 0 1 2-1-2 3-4 2 0-11-8 3-2 3 2 1-1 1 1 0-1-2-1 1-1 3 1 1 3-1 3 1 0 1-2 2 0 1 1-1 1 1 2 3-1 3 2-4 2-2-1-2 1 3 4-1 1-4-1-3 3-1 3 1-2 4 2-1-1 4-3 3 1 3-2 2 0 1 1-1 2 1 2-4 2 0 3 1-1 2 1-1 1 0 3 3 1-2 2-2 0-3 2-3 0-1-1 4-6-3-2 1-2-3-1 0 2-4 3-1 0-1-2-7 0 3 5-1 1 2 0 1-3 5-1 3 4-1 1 2 2-1 1-4-2-2-2 1-1-1 0 0 3-1 1-2-1-3 1-3-1-1 2-2 0-1-1 1-1-1-3-2-1-2-3 1-3-3-2 1 3-1 1 0 3-2 2-1-1 1-3-1 0-3-4-4 2-3-5-3-2 0 2 2 2-2 1-2 3-3-1 1 0 2 3 3 1 0 3-1 1 5-4 6 4 3 0 3 4-1 2-2 0-2 2 2 1-2 3-3-2-1 2-3-3-3 0-4 3-2-3 5-3 2 1-1-2 4-2 1 2 2-1-2-3-4 2-6 0-2-2-5 3-6-3-1 2-3-1-2-2 2-4-8 1-1-2 3-2 1-2-3 0 0 1-2 1-2-2 3-4-1-4-3 0-1-1 3 4-5 5-2-2-2 0-3 3-2 0-1-2 2-4-2 1 0 2-2 3 2 2-2 6-7-6-2 0 1 1-1 1-3 0-2 2-3 0-4-5 1-2 4-3-3 2-3-1-1-3 2-3-2-2-1 0-3 7-4-1-1 3-1-2-2 0-2 2 1 6-2 1-4-3 2-4-2-1 3-3 0-2-4 0 1 2-2 2-2-4-3-1-3 4-3-6 3-2-2 0-1-2-1 0 2 3-3 3-2-3 1-3-1 1-5 0-1-3 2-2-4-2-2 3 0 4-4 3-9-8-3-1-1 2-4 0 5 3 0 3-1 1 1 0 1-3 3-1 6 5-3 3-4-1-1 1 2 3-1 2-3 2-1-1-2 4 3 0 1 3 1-1 2 3-2 2-1-2-3-1 0 1 3 1 4 6 0 1-4 3 2 2 0 3-3 7-4-1-2-2 0-2-1 0-2 2-1-1-3 1-2 6-6 0-2-3 0-2-3 0-3-3-2 0 0 1 1-1 2 2 0 2-3 3-6 2-4 0-4 6-3-1 2-2-3 0-1-1 1-3 3-2 0-1-2 0-1 2-4-1-1-3-1 0-3 4 1 1-1 2-4 3-1-1 2-2-1-2 2-2-1-1-4 1-1-2-2 1 2 1 0 3-2 2-2-2 0-2-2 0-2-2-4 1-3-3-5 0-1 1-1-1 0-3-3-1-2-3 2-2 2-5-2 1-3-4-1 0 1 3-3 2-3-1 1 4 3 1-2 2 4 2 1-2 1 1-1 4-2 2-2 0 1 1-2 1-1-1 0-3-6-1 0 1 4 0 2 2-3 3-2-3-2 1 0 2-2 1-3-4 0-1 2-1-3 0-1-1 0-3 4-3 3 1 4-2 1 1-2-2 1-1-3-2-2 1-1 2-5-1-2-3 1-1 0-5-3 2-2 0-2-2 1-2 4-3-1-2-2 2-4 1-3-4-2 3-2-1-3 1-3-4-4 0-2 1-1 2-4 0-4 3-3-2 1 3-4 2 0 1 1 0 2 3 2 0 2-3 2 1 0 8-1 1-3-1 2 4 0 5 2 1 2 3 0 3-1 1-4-3-3 2 2 3-1 2 1-1 3 0 1 1-2 3-1-1 1 1-2 1-1-2-1 1 3 2-2 5 3 1 0 2-2 1 0 3 2 1 0 2-4 3 0 2 2 2-1 2 2 1-7 8-5 4-2 0-5 7 0 4-3 6 1 1 0 16 1 2 333 0 1-1 3 0 1 1 202 0 0-101-2 1-2 3 2 2-3 5-3 0-3-4 3-1 3-6-2-2 1-1 0-4-6-7 2-3 7 1 1 1 1-1 1 2-2 2-1-1 0 2 1-1 2 1zM923 0l1 1 4-1zM642 0l2 1 0-1zM618 0l3 7 0 3 3 1-1-2 2-2 1 1 1-1 0-4-2-1 0-2zM202 62l1-1 1 1 0 3 4-3 1 2 2 0 1 1-3 2 1 3 2 0 1-3 3 0-1-3 3-1 3 3-1 1 0 5 1 2 3 0 1 1 6-3 1 3 2 0 1 2 3 0 1 1 3-1-1-2 1-1 2 0 2 3 1-1 2 1 3-3 3 2-1 1 4 0 1 1 1-2 1 1 6 0 1 2 2-2 6 2 6 0 3-1 2-4 6 0-1-1 2-1 3 4 0-2 2-1 3 5 1-2 3 1 2 4 7-2 3 2 2 0 2 2 6-1 0-2 3-1 1-2 1 2 2-1 5 0 4-2 5 0 1 1-1 1 4 1 0-4 1-1 3 0 1 1 3-1 1 3 1-1 3 0 3 4 3 1 7-1 2 3 7 3 1 3 5-1 1 1 0 4 3 2-1-3 1-1 1 1 2-1 1 1-2 3 1 2 2-2 3 2-1 2 3 2 5 0 1 2 1 0 1-5 3-2-1-2 0-5 2-2 1 2 2 0 1-2 2-1 0-1-3-2 2-2 2 0 1-2-1-3 1-1 3 0 2-3 3-1 1-2 2 0 3-2 7 5 6-3 2 4 3 0 1 1 1-1 1 2 3 2-1 9 4 2 0 3-1 1 1 1-2 3-2 0-2-2-2 1 1 5-2 3-3 0-4-2 0 5-2 2-2 0-4-4 0 3-2 3-5 2-1-1 1-2-1-1-1 3-4 2-1 2-1-1 0-4 1-1-1 0-1 3 1 1-1 1 0 3 1 1-3 2 1 3-1 2 3 4-1 1 0 8-3 1 0 4 1 1-1 4-8 11 0 3 1 1-2 4 1 2 0 12-1 1 0 3 1 1 0 10 1 1-2 6 179 0 1-1 8 1-3-1-1 1-2-2 1-3 4-1-4-1-3-4-2 0-2 6-2-2 1-2-7-1-3-2 1-2 3 1 3-6 1 0 1 2-1-2 1-1-1-1 1-1 0-3-1-1 1-3-2 0-1 2-2-4 1-1-1-1 1-6-3-5 0-3 2-1 0-1-2 0-2-2 1-1-1-3-4-3-1 1-3-1 0-4 1-1 2 3 0-2-2-1 0-2-2 0-2-2 2-1-3-3 2-2-1 0-2-3-3-1-4 1 1 1-1 2-5-4 0-2 2-1 1-2 2 0 1-2 2 2 2-1 0-1-4-2-2 1-1-1-1 3-2-3 2-4 1 1-1-2 7-2 1 1-2 3 1 2 2-6 3-2-1-1 1-1-1-3 2-1 2-3 7 0 1 2 1 0-1-2 1-1 5 0 2 2 0-1-2-1 2-3 3 0 1 3 5 3-1-1 2-1-1-2-2-1 2-2 3 2-1 1 1 2 1-1 2 1 1-1-2-3 2-2 2 0 1 2 1 0 6-5 3 3-1-2 1-1 3 0 0-3 2-1-1-3 1-1 3 1 5-2 2-4 2 1-1 1 4 2 0 2 4 0-2-7 2-3-3-1 0-3 2-2 3 3 0 2 3-2 1 1-1 6-1 1-1-1 2 5 0 3-3 2 1 1-1 3-2 0-1-1 1-2-5-3-2 0 1 1-1 1 1 2 4 2-1 1 3 3 0 2 2-1 3 1 0-1 3-2 2 2-1 2 3 1 4-2 3 1 1-3 3 1 1 2 4-5 2 0 0-1 4-3 3-1 2 1 2-3 0-3 2-2 3 1 2-4 3 2 2 0 1-2 2 0 3 4-1 3 3 1 2-2-4-3 2-2 2 0 1-2-1-2-2 1-3 0-1-1 2-4 0-3-1-1-5 2-3-3 4-3 1-2-1-1-3 2-4-3 0-3-1 0-2-3-4-2-3 2-2-2 1-2 2 0 0-3 4-3 0-2-3 1 0 1-4 3-2-2-5 0-2-3 3-2 1-2-2 2-2 0-1-1 1-1-1 1-4-1-1-1 2-3-1 0-1-2-3 0-1-1 0-4-2 0-3 3-3-1-3 2-2 0 1 1-1 1-2-1-2 1-2-3-4-2 0 2-2 1 1 0 1 2-2 4-2 1 1 3-3 3-3 0-1 1-2-1-2 2 0 2-4 2 1 2-1 1-6 1-3-3 1-1-3 1-4 5-6 0-1-1-5 6-1 0-2-3 1 4-3 1-2 3-2-1-4 2-9 0-4 5-6-4-1 0-1 2-1-1-3 1-5 0-1-1-2 3-5-3-2 1-3-1-1 2-3 0-7-5-6 0-3-2-3 0-2 2-5-2-2-2-3 1-2-3 1-1 3 0-3-2-1-9 1-1 4 2 1-1-2-2-4-1-1-2 2-1 5-6 4 1 1-2 3 0 0-1 5-4 2 1 0-3 1-1 4 0 3-4 3 0 1 3 4-4-1-2 3-2 2 4 4-3 6 1 2-3 1 1 2-1 1 1-1-3 2-2 2 1 2-1 2 3 1 0-1-1 2-1 4 3 2-1-1-2 4-2 3 0 1 1-1 1 3-1 2-2-2-3 1-1 4 1 4-2 8 1 3 9 3 1 2 4 1 0-2-7 4-2-2-2 2-3 6 1 0-1 3-2-1-4-3 0-1 1 1 3-4 2-1-1 0-5-8 0 7 2 1 2-2 1-1 3-3 0-1-2-3-2 0-4-281 0-1 3-5 0-2-3-1 1-1-1-2 3-1-1-5 4-3-1 0-4 3-1-4 0 1 1-1 1-2 0-2-2-4 0-2 2 4 5 1-2-1-2 2-2 3 4 4 3-4 6-3-3 2-1 1-2-2 0 0 2-3 1 0 1 6 5 0 4-1 1 4 3 0 2 5 4 1 2 2-1 2 2-2 1 1 6-2 5 5 2 2 3 3 0 1 1 2-1 1 3-2 3-3-2 1-1-4 1 1 2-3 4-2 0-6 3-3-3 3-1 0-1-2-1-2 1-2-1-3 1-1-1-1 1-4-5-2 0-1 2-3-1-2 1-3-5 2-1-4 1-1 2-3 0-2 2-6-3-2 1-2-2-3 0 0 3-2 3-5 0-1 2-4 0 1 3-4 3-2-1 1-3-1-2-1 0 0 2-2 2-2 0-1-1 1-1-1-6-4 0-1-1-1 1-4-1-1 2-1-1 0 1-3 2 0 4-3 2-3-2 0-4 1-1-1-2-4 1 0 3-2 1zM130 0h0zM0 0l0 83 4 2 0-4-1-1 2-2 6 4 2-3 2-1 2 1 4-5 1 1-1 3 0-1 2-1 1 2 7 1 1 2 1-2 5 0 0-2 3-2 1 1-1 2 1 1 0 3 6 0 2-3 3 1 0-5 1-1 1 1 4-1 1 1-1 2 1 1 4 0 2-2 1 2 1 0-1-1 2-2 3 3 1 3 2-1-1-2 2-2 4 0 1-1 3 4 5-4-1-1-1 1-2-1 1-3 2 1 2-1 2 3-1 3 3 0 3-4 0-2 3-2 2 1 1-1 3 5 0 2 2-1-1-2 2-3 2 0 3 4 2 0-1-3 1-3 6 4 1 0-1-1 2-2 3 0 1-1 2 1 1 3 1-2 2 0 1 1-1 1 2-1-2-1 2-2 4 3 1-1 1 1 3-1 3 1 5-6 2 2-1 1 3-2-2-3 2-3-1-4-1 3-2-2-1-4-4-2 0 3-1 1 1 1-5 4 0 2-2 2-4-2 0-1 2-1-2-1-1-2-2 2-2-1 3-4 3-1-4-5 1-1 6 1-2-1 0-3 1-1 0-4-1-1 4-2 0-4 2-1 1-2-3-5 2-2-1-1 0-3-3 5-1-2-2-1 0-2 3-1 0-2-2-2-1 1-1-1 0-4 3-1-2-1 1-3 3-2 0-2-10 0 1 2-1 1-3 0-2 5-3-2 0-4 3-2-25 0-2 3-2-1-3 5-4-3 0-3 2-1-7 0 1 1-1 3-2 0-2-2 0-2-10 0 0 2-5 3-2-2-2 0-2-3-52 0-2 3-2-1 0-2z"/>
<path fill="#bde03a" stroke="#bde03a" fill-rule="evenodd" d="M974 203l2 0zM946 203h0zM936 203h0zM147 203h0zM14 203l1 0zM177 202l-1 1 1 0zM17 202h0zM0 202l0 1 1 0 0-1zM1230 201l1-1 1 1-1 1zM1021 201h0zM1237 200l2 3 0-2zM917 202l2-3 2 2-2 2zM580 200l-2 2 1 0zM556 200l1-1 1 1-1 1zM285 201l0 2 4 0 1-1-4-2zM200 200l1-1 2 1-1 1zM145 200l-3 2-3-1-1 2-3 0 7 0 2-1zM101 200h0zM57 200l1 1-1 2 4 0 0-2zM984 199l-2 1 0 3 1 0zM954 199l-1 0 0 2zM945 199l0 2 1 0zM933 199l1-1 1 1-1 1zM173 201l-3-2-3 1 1 3 4 0zM978 198l0 1zM960 198h0zM932 197l1 2-2 1-1-1zM905 198l1-1 2 1-1 1zM574 198l-1 3 1 2 1-3zM125 202l-2 0-3-4-2 0 0 2-3 2-2-1-4 1-4-2-1 1 1 2 2-1 1 1 8 0 1-2 3 2 4 0zM81 198l-1 1 0 3 0-3zM17 198l1 2zM903 197l1-1 1 1-1 1zM135 197l-1 2 1 1zM112 197l1 0zM93 198l-3-1 1 4-1 1-4-1 0 2 7 0 1-1zM9 197l-1 1 1 0zM541 196l1-1 1 1-1 1zM535 197l3-2 2 1 3 4-3 1-2-2-2 2-1-1zM278 196l-3 3 1 2-2 2 3 0 1-1 1 1 0-2 2-1zM253 196l3-1 1 2 2 1 0 2-2 1-3-3 1-1zM199 196l1-1 1 2-1 1zM196 195l1 3-5 5-2 0-2-2 1-2zM122 197l3 1 2 3 4 0-1-1 1-2-3-2zM75 196l-1 0 0 2zM52 196h0zM984 195l2 0zM958 195l0 1 1 0 0-1zM924 194l1 1-5 5-2-4 2-2zM542 195l1-1 1 1-1 1zM268 195l1-1 2 2-2 1zM158 195l0 1 1 0zM138 195l-1 1 1 0zM133 195l1 0zM131 195h0zM34 195h0zM967 194l-3 2 1 1-2 2 2-2 2 0-1-2zM913 194l3-1 2 2-1 1-3 0zM885 194l1-1 1 1-1 1zM290 194h0zM145 194l1-1 1 1-1 1zM1212 193l2-1 2 3-3 2-1-1zM986 193h0zM95 193l0 4 4-2-1-2zM61 193l-1 1 1 0zM934 192l1-1 1 2-1 1zM885 192l1-1 1 1-1 1zM555 191l2 3-3 1-2 4-3 2-3-3 1-2-2-2 3-3 2 3 1 0 1-3zM539 194l2-3 3 2-3 2zM44 192l-2 0 0 2-3 4-8 5 2 0 2-2 3 2 2 0-2-1 1-2 4-4 2 1zM7 192l1-1 2 1-1 1zM953 191l-1 1 2 1-1 3 3 1 0-3-1-2zM100 191h0zM986 190h0zM881 190l1-1 1 1-1 1zM539 190l1-1 1 1-1 1zM288 190l0 1 2 1 3 0 2 3 1-3-2-1-4 1-1-2zM72 190l1 0zM60 190l1 1 2-1zM1225 189l1-1 1 1-1 1zM918 188l1 1 0 4-1 1-2-3zM886 189l1-1 3 0 1 1-2 2zM549 189l1-1 1 1-1 1zM119 189l1-1 1 1-1 1zM116 189l2-1 1 2-2 1zM84 189l-1 2 3 1 0-2zM537 188l2-1 1 2-1 1zM25 187l1-1 1 2-1 1zM7 187l1-1 1 1-1 1zM174 192l2-3 3 1 0-3-1-1 2-1 2 2 0 3-1 1 3 1 1-2 3 1 3 4-4 2-1-2-3 1-4-2 0 3-1 1-3 0-1-1 0-3 1-1zM149 187l1-2 2 1-2 2zM901 184l4 5-1 1 1 1-1 1-4 0 0 2-2 2-4 1-3-3 0-2-2-1 3-1 3-5 3 0 1 1zM882 185l1-1 1 1-1 1zM298 185l-1 1 1 3 1-1zM195 186l-1 3-6 1-1-1 0-2 4-3 1 1 1-1zM144 187l1-3 3 2-3 2zM97 185l2-1 2 2-3 1zM236 185l1-2 2 1-2 2zM93 185l1-2 3 0 1 1-3 2zM873 183l1-1 1 1-1 1zM571 183l1 0zM567 183l1 0zM549 183l3-1 1 3-2 1zM900 182l2-1 1 2-2 1zM893 181l1 1-1 3-1-1zM127 182l1-1 1 2-1 1zM1237 182l-1 6-6 3 1 5-4 4-2-1 0-2-1 2-4-3-2-4 0-3-2 1-3-1-1 1-2-4 4-3 2 1 1 2 2 0 4 5 3 1 1-6-1-1 3-5 1 1 6 0zM556 181l3-1 3 3 0 3 2 1-2 2-4 0-2-2 1-2 0-3zM284 181l0 4-1 1-6-1 0 3 2 3 1 0 3-4 3 0-2-1 1-2zM260 181l1 0zM1216 181l2-2 2 2-1 1zM247 183l2-4 3 2-2 1-1 2zM181 180l1-1 1 1-1 1zM580 179l0 1 1 0zM171 183l2-1-1-1 2-3 1 1 1-1 1 2 2 1 0 2-2 2-3 0zM6 178l2 2 0 2-6 4-1-1 0-3zM1226 178l1-1 2 1-1 1zM949 178h0zM254 178l2-1 2 3-1 1-2-1zM10 178l1-1 1 1-1 1zM41 176l2 2-2 3-2-2zM1200 176l1-1 1 1-1 1zM261 176l1-1 1 1-1 1zM90 176l1-1 2 2-2 1zM69 176l1-1 1 2-1 1zM58 176l1-1 1 1-1 1zM917 175l3-1 1 2-2 1zM880 175l1-1 1 1-1 1zM566 175l2 3-1 1 4-2-1-2-2 1zM1228 174l2-1 2 4-1 1zM287 174l0 3 2 1 1-3zM909 173h0zM275 173h0zM939 172l0 2zM917 172l2-1 1 2-1 1zM65 172l1-1 1 1-1 1zM274 171l1 0zM9 171l1-1 1 1-1 1zM1 171l1-1 2 1-1 1zM265 170l1-1 1 1-1 1zM932 169l1 0 2 3 2 0-1-3-2 1zM875 168l1-1 1 1-1 1zM877 167l1-1 1 1-1 1zM537 167l1-1 1 1-1 1zM261 167l1-1 2 3-2 1zM560 166l0 1zM270 166l1 2-1-1 1-1zM895 164l1 1 0 3-1 1 3 2-1 2-3 0-2-4zM576 165l0 1 1 0zM889 164l1-1 1 1-1 1zM568 164h0zM556 164l0 2 2-1zM540 163l2 2-2 3-2-2zM923 162l2 3-8 5-1-1 1-1 0-4 2-2 3 1zM546 163l1-1 1 1-1 1zM938 162l1 1 0-1zM555 162h0zM268 161l1 1-3 3-1-2zM912 159l2 2 0 7 2 1-1 1 1 2-2 3 1 2-2 2-3-3-4 0-4-5 0-2 2-1 1-3 1 2 3 0-1-5zM945 159l-1 1 1 2-1 1 2-1zM936 159h0zM478 159l1-1 1 1-1 1zM955 158h0zM465 158l1-1 3 1-2 2zM957 157h0zM919 157l1-1 1 1-1 1zM863 157l2-1 1 2-1 1zM548 156l1-1 1 1-1 1zM463 156l1-1 1 1-1 1zM461 156l1-1 1 1-1 1zM923 155l1-1 3 0 1 1-2 2zM890 155h0zM888 155h0zM576 155l0 2 4 3 0-2-2-3zM462 155l1-1 1 1-1 1zM570 154l-1 0 0 4 1-1-1-1zM931 152l0 1zM485 153l-5 4-3-1 0-2 3-3 4 0zM828 152l1-2 2 1-2 2zM484 151l1-1 3 1-1 1zM721 150l1-1 1 1-1 1zM833 149l1-1 1 1-1 1zM899 147l1 1-1 3 1 0 1 2-3 1 0 1-3 2-1-2 2-1-1-2 2-2 0-2zM882 147l2 2-2 5-2 2 1 2-2 2-2 0-2-2 3-6-1-1 3-3 1 1zM804 148l2-1 1 2-1 1zM559 149l-1-1-1 2zM961 147l0 1zM889 146l1 2 3 1-4 3 3 0 2 2-1 3 1 0 1 2 1-1 2 1-3 5-4-3-4-1 2 1-2 1 0 1 4 3-1 2-2 1 2 3-2 2-4-4 2-3 0-2-2 0-1-2 3-6-2-5 2-2 0-2zM503 146l3-1 2 2-2 2zM432 146l1-1 1 1-1 1zM919 145l1-1 1 1-1 1zM782 144l1 1-1 3-1-1zM538 145l1-1 2 3-1 1zM559 144l-2 2 4 0 1 3 0-3zM949 143h0zM902 143l3-1 5 3-1 3-3 2-2-3-3-1zM883 143l1-1 1 1-1 1zM804 141l1 1-3 2-2 3-2-3 3-3zM505 142l2-1 1 2-2 1zM832 141l1-1 1 1-1 1zM545 141h0zM1120 140h0zM881 140l1-1 1 1-1 1zM860 139l2 2 0 3-3 2-1-3zM829 140l1-1 1 1-1 1zM986 139l-2 1zM927 139l2-1 1 3-1 1zM857 139l1-1 1 1-1 1zM950 138l1-1 1 1-1 1zM872 138l2-1 2 2-2 1zM909 138l2-2 3 1-2 2zM863 137l1-1 2 1-1 1zM534 137l1-1 1 2-1 1zM1004 136h0zM845 135l3 2-1 3-4-3zM547 136l0 1 1 0 0-1zM233 136l1-1 1 1-1 1zM1120 135l-1 1 2 1 1-1zM837 137l0-2 2-1 1 2-2 2zM744 135l2-1 1 2-1 1zM554 135l0 3-2 1 1 2 4 1-2-1 1-2-1-2 1-1zM76 135l1-1 2 1-1 1zM927 134l1-1 1 1-1 1zM522 133l1 2-2 1-1-1zM437 134l1 0zM95 134l1-1 1 1-1 1zM1127 133l1-1 1 2-1 1zM962 133l1-1 1 1-1 1zM943 133l1-1 1 1-1 1zM933 133l1-1 1 2-1 1zM801 133h0zM76 133l1-1 1 1-1 1zM977 132h0zM944 132l1-1 1 1-1 1zM941 132l1-1 1 1-1 1zM768 132l2-1 1 3-1 1zM740 133l1-2 2 1-2 2zM482 132l1-1 1 2-1 1zM1032 131h0zM191 131l1-1 2 1-1 1zM100 131l2-1 1 2-2 1zM85 131l1-1 2 1-1 1zM69 131l2-1 1 2-2 1zM1040 130l1-1 1 1-1 1zM1029 130l1 0zM952 129l1 1 0 5-2 2-2 0-1-2 3-2-2-1 1-2zM920 129l1 2 3 2-1 2-2 0-3-4zM516 130l1-1 1 1-1 1zM75 130l1-1 2 2-2 1zM999 129h0zM989 129l1 3-2 1 4 4-1 1 3-1 2 1-1-5zM861 129l1-1 1 1-1 1zM828 131l-2-2-2 1-1 2 3-1 1 2zM788 131l2 0 2 2 3-1-1-3-4 2-1-2zM98 128l1 2-2 1-1-1zM95 129l1-1 1 1-1 1zM865 127l3 1-2 3-3-2zM783 128l0 1zM448 128l1-1 1 1-1 1zM111 127l4 5-2 3-2-1-1-6zM26 128l1-1 1 1-1 1zM1224 127l1-1 2 1-1 1zM1037 127l1-1 1 1-1 1zM956 127l1-1 2 1-1 1zM496 127l1-1 1 1-1 1zM918 126l2-1 1 2-2 1zM909 128l0-2 2-1 1 2-2 2zM882 126l1-1 1 1-1 1zM779 126l-2 4 0-1 2-1zM527 126l1-1 2 1 1-1 2 4-2 1-1-2zM233 126l0 2 1 0zM114 126l2-1 1 2-2 1zM971 124l3 4 0 3-1 1-3-2 1-2-2-3zM896 125l1 0zM836 125h0zM731 125h0zM482 125l1-1 3 1 1 2-3 2-2-2zM479 125l1-1 1 1-1 1zM228 125h0zM39 125l1-1 1 1-1 1zM1220 124l1-1 1 1-1 1zM967 124l1-1 1 1-1 1zM846 124l-2 0 1 4 2-3zM789 124l-3 1-1 2 1 1zM473 124l1-1 5 2-1 1-4 0zM9 124l1-1 2 1-1 1zM1060 123l0 1 1 0zM522 123l-1 1 1 0zM1120 122l0 1zM1012 122l-1 2zM969 122l1-1 1 1-1 1zM959 122l1-1 1 2-1 1zM957 122l1-1 1 1-1 1zM539 122l1-1 2 1-1 1zM456 122l1-1 1 1-1 1zM1125 121l-2 0-1 2zM1060 121h0zM939 121l1-1 1 2-1 1zM731 121h0zM452 121l1-1 1 1-1 1zM445 125l0-3 1-1 1 1 1-2 3 2 1-1 1 2-3 2-1-2 1 2-2 2zM435 121l1 0zM92 121l1-1 1 1-1 1zM78 121l-1 2zM993 120h0zM899 122l0-2-2 1zM536 120l1-1 1 1-1 1zM523 119l2 1 0 5 1 1-1 1-3-1 1 1-1 1 2 0 2-2 2 2-1 4 2 2 3 0 1 1-2 3-2-1 2 3-4 4-2-1 0-4-1-1 3-1 0-2-1-1-3 0-2-4-3 0-1-1 0-3zM507 120l3-1 1 3-3 1zM72 120h0zM2 120l1 0zM972 118l1 3-2 1-1-1zM755 120l-2-1-1 3zM471 119l1-1 1 1-1 1zM165 119l-1 0 0 2zM0 123l0 65 1 2 1 0 0-2 3-4 1 1-1 5 3 3 2 0 0-1 3-2-3-4 2-3 4 0 2-4 3-2 1 1-1 4 2 5-1 1 2 1 2 4 8 0 2-3-1-2-4-3 1-5 2-3 2 3 0 2 2 0 3 3 0-1 4-3 1 1 0 3-2 1 0 1 3-4 2 2-2 3 1-1 2 1 0 2-1 1-2-1 0 1 1 0 1 2 4-1 2 3-1 2 2 1 2-2 0-3 1-1-1 1-3-2-3 0-2-2 3-1-1-1 2-1 0-1-4-2 1-1 4 0 3 5 2 1 0-2-5-4 2-2 1 1 3 0 2-2 2 2-1 2 2 0 1-3 3-1 3 3 0 3 2 2-1 1 3 1 0 3 5-6 2-1-2-1 1-1 3 0 3 3 0 5 1 1 2-1 2-3 4 0 1-1 5 6-1 1 1 2-2 2 4 0 2-2-2-6-2-1 0-1 4-3 4 2 1 3 4 4 0 2 3-1 0-3 1-1 1 1 0-4 1-1 7 0-1-1 2-2 4 1 1 1 0 3 4 0 1 1 3-2 1 1-1 1 0 5 4 1 1-1 4 0 0-2-1 1-3-2 2-3 2 0-1-3 2-2 1 0 1 2 1-2 1 1 1-1 2 1 1-3 4 0 1 3 4 2-2 2-2-1 0 3-1 1 2 3-3 1 0 3-2 2 1 2 0-3 4-5 1 1 4 0 1 3 3 1 2-3 3 1 2 2-1 3 57 0 1-1 2 1 20 0-1-1 3-2 2 2-1 1 4 0-2-3 1-1 3 1-2-1 0-2 2-1 2-3 0-3-6-2-2 3-1-2-1 0 2 3-3 1-1 3-2 0-2-2 1-2 3-1 0-1-7 1-1 1-3-1-2 3-2 0-2-4 1-3 2-1 4 3 3-5 2 2 0-3 1-1-1-1 2-2 3 0-1-1 2-2 2 2-1 6 1-1 2 2 4-2 2 1-1-3 3-3 4 3 0-2-2-1-4 1-1-1 1-2-5 1-2-2 1-6 1-1 1 2-2-5 2-1 0-3 3-1 0-1-3-1-1 1-3-3 0-2-2 0-1 2-4-3-1 0 1 1-1 1-4 0-2-3 1-6-3-2 0-3-1-1 1-2-2-2-1 2-1-1 0 2-3 1 1 1-2 1-1-1 1-3-1-3-1 0 1 1-2 1-3-4-3 1-3-1-1-3-4-3-5 0 0 2-3 1-1-2 2-1-5-4 2-4-2 0 0 3-3 3 0 3 1 1-2 2-4-2-1-4-2 0-1 3-2-1 0 2-3 2-1-3-6 1-2-4-4-2 1-2-3 1-1-1 1 1-1 1 0 3-3 2-3-1-1-2-2 0-3-3-5 4-2-3 2-3-8 0 3 4-1 1 1 1-1 1 1 3-2 2-3-1 0-4 1-1-2 1-1-2-2-1-5 0-1-1-1 1-1-1-2 1 1 1-4 2-2-2 1-2 2 0-2-2-6 1-1-2-2-1-2 1-4-1 0 4 2-1 4 2 0 3-3 2-2-3-3-1-1-2-3 0 0 1-2 1-1-1 1-3-3 5-1-2-4 1-1-1 1-3-1 0-1-2-1 0 1 3-1 2-3-1 1-2-3 1-2-3-1 0 1 3-1 1-2-1-2 3-4 0-1-2-2 1-2 3-2-1 1-1-4 0-7-6-1 0 1 1 0 3-1 1-3 0-1-1-5 1-2-4-7-1 1 4-2 2-1-1-2 1-6-4-2 1-5-2-4 0-2 1 1 2-1 2-2 0-1-2-3 4-1-1-3 0-1-3-2-1-5 2-6 0zM952 117l1 1-1 2 3-1 1 2-3 2-3-2-2 1 0 1 4 0 1 1-1 3-5 6-1-1 1-3-2-1 0-1 2-1-3-2 1-5 1-1 1 2zM173 118l-1 0 0 1zM0 118h0zM1239 117l0 1zM1015 117h0zM888 117l-1 1 1 0zM537 116l1 2-2 1-1-1zM515 117l1-1 1 1-1 1zM24 117l0 1 1 0zM1011 116h0zM526 116l1-1 2 1-1 1zM519 116l1-1 2 1-1 1zM484 116l1-1 1 1-1 1zM107 117l0 1 4 0-1 0-1-2zM67 116h0zM1065 115l1 1 0-1zM950 116l1-2 2 1-2 2zM21 115l1 0zM1168 114l1-1 1 2-1 1zM883 114h0zM498 115l3-2 4 0 2 2 0 3-2 1-2-2-2 0zM58 114l0 3 3 1-3-2 1-2zM1162 113l1-1 2 1-1 1zM1002 113l0 1 2 0zM1215 112h0zM998 112l-1 2 2 0zM492 114l2-3 2 0 3 2 0 1-3 2zM1209 111h0zM727 111l-1 3 1 0 1-2zM506 111l1-1 1 1-1 1zM44 111h0zM1219 111l3 0-2-1zM1050 110l1-1 1 2-1 1zM1021 110l3 1zM955 111l3-2 3 4-1 1-3-1-1 1zM939 110h0zM527 110l1-1 1 1-1 1zM469 110l1-1 2 3-2 1zM1130 109l1 0zM1065 110l3 1 3-1 1 2 1 0-1-2-6-1zM513 109h0zM1048 108l1-1 1 1-1 1zM1021 108h0zM519 108l1-1 1 1-1 1zM980 107l-1 2 2 1-2-1zM1151 105l1 1-3 2-1-1zM986 106l-2 1-1 5 2 0 2-2 0-3zM741 106l0 2zM521 106l1-1 1 1-1 1zM460 106l-2 0 1 1-2 2 2 0zM951 104h0zM926 104l0 1 2-1 1 1zM895 104h0zM1239 123l-3-5 0-2-3 5-6 4-2-2 2-2 0-3-2-2-1 2-2-1-2 4-2-2-3 0-1-1-4 0-1 1-2-3-1 2-2-1-2 1-3-5-4 2-1-2-2 2-3-1-7 1-4-2-8 1-1-1 1-2-6-1-1-2-5 2-5-5-1 1-1-2-2-1-3 4-4-1-4 3-4 5 1 2-3 3-2-1 1-1-3-2-1 1 1 8 2 1 1 2-4 3 0 3-1 1 1 3-3 2 1 2-3 1-1 6-5 3 0 3-4 3 0 2-2 2-3-1-2 3-4 2-3-2-1 1-3 0-3 5-2-1 1 3-2 5 1 2-1 1-3 0-1-2 1 2-2 5 1 1-2 2-2 0-2 2-4 1 2 1-1 1-6 2 1 1-1 3-2 0-2 2-5 2-6 0-1-1-2 1-6-1-1 1 1 1 173 0-3-2 3-1 0-1 3-2 2 3-2 3 13 0 1-1 0-2-2-1 0-2 2-3-1-2 3-3 2 0zM970 103h0zM503 102l1 2-4 2-1-2 2-2zM1033 103l1 3-3 3 1 4-2 1-2 3 5-2 2 1-1-2 2-3 1 1 3-1 2 1 1 2-3 5-3-1-2 7-4-3-3 0-1 2 1-1 3 2 2-1 5 5 0 2 2 0 1 2 3-1 3 1-1-1 2-2 0-3 3-3 4 1 1 2 2-1 0-1-3-1 2-2 0-2-1 1-1-2 3-1-2-1 1-1-2-2 0-4-1 1-3-2 4-2 1-2 3 1 0-2-3 1-2-1 1 1-4 2-2 0-2-3-6 3-1-1-3 0-2-4zM976 108l-2-2-8 0-1-1 1-3-2 0-2 2 5 4-2 2-5-1-2-2 0-2-3 5-3-1-3 4-2 0 0 2-2 1-1 2-4-3-3 5-2-1 1-3 0 1-2 1-1-2-2-1 1-2-1-1 2-1 0-1-1 0-1 2-2 0 1 2-1 3-3-2 1 4 1 1 1-1 2 1 0 2-5 3-2-1-1 1-1-2-3-1 1 1-1 1-2 0-2-2 1-1-2-1 0-4-1 0-2 2 1 3-4 3-4-1 2 3 0 4 2-1 1 1 0 4 2 2-2 2-2 0-2-2-2 1-3-1 2 1 1 2-4 3-2-1-2 1-1-1 1-2-1-6 6-2 1-5-5 3-2 3-3 1-6-8-4 0 0 7 2-1 1 2-1 1-5 0-2-2 1-2-3-1 1-2 5-4 0-3-3-1 1-1-1-2 0 1-3 2 0 1 1-1 1 1 0 3-3 1-1 2-2-1-2 2-1-1-1 1-1-1-4 1-5-4 1 1-1 2 3-1 2 5 3 2-2 2-3 0-1 1 1 2-2 2-2-2 1-3-1 0-2 2 0 2-2 1-2-2 1-2-2-1-1-4-1 1-7 0-9 6-3-1-1 1-9-1-1 3 5 2-1 3-8-4-2 0-1 2-4 0-1-1 2-3 2-1 0-1-3-2 1-2 2 0 0-2-3-1-1 1 1 2-2 2 1 3-6 7-2 0-3-3 2-2 5-2-1-1-2 1-4-1 0 4-1 1 1 3-1 1-2 0-3-3 0-2-1 2-3 2-1-1 0-5 1-1-1-2-2 0-3 2-1-3-2-2-2 1-1-2-2 0-1-3-2 0-3-2 0 1 5 2 0 2-4 3-5-5-6-2-3 1-2-3-4-3 1-2-5-3 1-3-2-1 0-2-3 4 4 3 1 2 0 5-2 2-4 0-4 5-1 3-3-1-1 2 1 1 0 4 2 0 1 2-4 2-4 0 0 2-3 4 3 2 0 5 1 1-2 2-3-1-3 4-3 0-10 9 0 5-2 3 0 4-1 1 0 8 1 1 1 8 192 0 1-2 3 0 3 2 2 0 2-2 1 0 1 2 26 0 2-3 5 0 1-1-1-1-3 0-1 1-1-1 3-5 1 3 2-1 0-1-2 0-2-2 3-2-3-2 0 2-3 1-3 3-1 3-2 0-1-3-3-1-3-4-4-3 0-1 3-2 1 2 2 0 1 2 4 1 0-3 4-2-1-2 4-2 0-1-2-1 0-2-1 1 0 4-2 3-4 1-2-3-1 1-1-1 0-3 1-1 3 0 2-3-1-2-3-2 0-1 2-1-1-1 1-2 3-1 3-4 1 1 0-1-4-1 0 1-3 1-1 2-2-3 1-1-1-1 2-2 4 1 1-3-2-1 0-2 3-1 0-1-2-1 1-1-6 2 0 1 2 1-2 4-5-2 0-2 2-1-1-2 3-3 7-1 1-2 1 1 2-1 4 1-2-3 3-4-2-3 1-3-1-1 0-3 3-2 2 2-2 3 2 4 0 8-1 1 2-1 2 1 0-3 3-1 3 1 4 4 1-1 0-3 3-3 3 1 1-3 2 1 4 0 1-1 4 1 2-4 3-2 0-2-3-1 2-3 2 1-1-2 1-3-2 0 0 4-1 1-2-1 0-5-2-1 0-3-1-1 2-1zM469 102l-1 0 0 1zM516 100l3 5-1 4-4 3 0 4-2 2-3-3 2-2-2-2 0-3-2-1 2-3 3 0 1 1 1-4zM497 101l1-1 2 1-1 1zM1045 100h0zM488 101l1-2 4 0 1 1-3 4zM741 99l0 1 2 0zM960 99l3-1-3 0zM468 98l1 0zM969 97l1 0zM509 97l1-1 1 1-1 1zM1129 96h0zM920 96h0zM882 96l1 1 0-1zM737 96l1 0zM1058 95h0zM552 96l2-2 1 1 1-1 2 2-2 2-2 0zM520 93l1-1 3 1 0 1-2 1 1 2 2-1 1-2 1 1 3-1 2 3-1 1-3 0 1 3-5 2-1-3-3-2zM415 92l-2 0 0 3 1 0zM656 90l-2 1 2 0zM558 90l1-1 1 1-1 1zM537 89l1 2-3 2-1-1zM404 90l1 2zM671 89l0 1 1 0zM535 89l1-1 1 1-1 1zM889 88l0 1 1 0 0-1zM659 86l1 3 2 0 4 3-1-2 2-2zM411 86l1 2 1 0 0-1zM406 86l0 1 1 0zM490 85l1-1 1 1-1 1zM603 84h0zM1210 84l-2-1-2 3 1 1 3-2zM617 84l-1-1 0 1-2 1zM481 83l1-1 2 2-2 1zM613 82l0 1zM545 82l1-1 1 1-1 1zM483 83l2-2 3 1-1 2-3 0zM478 82l1-1 2 1-1 1zM657 80l1 1 0-1zM517 80l1-1 2 2-2 1zM512 80l1-1 1 1-1 1zM513 79l1-1 1 1-1 1zM417 79l1 2 3 0-1-2zM471 78l1 0zM626 77l1 0zM513 77l1-1 2 1-1 1zM1199 76l0 2 2 0-1-2zM658 77l2 0 2 4 3-1-3-4-2 1-1-1zM651 76l-1 2 0 5 1 2 3-2 2 1 0-2-2 1-1-1zM1049 75h0zM609 75l1-1 2 1-1 1zM388 75l1-1 1 1-1 1zM1224 74l0 1 1 0 0-1zM672 74l-1 1 1 0zM473 74l1-1 1 2-1 1zM425 74h0zM404 74l1-1 1 2-1 1zM24 74l1 0zM680 72l1 0zM667 72l0 1zM421 72l1-1 1 1-1 1zM331 72l0 1 3 2 0-2zM251 72l-2 1zM1182 72l2 1 0-2zM494 72l4-2 2 3-3 1zM305 71l1 3 3 0-2-3zM41 71l-2 1zM1218 71l2 1 0-2zM684 70h0zM671 70l1 1 1-1zM301 70h0zM36 70l1 2zM312 76l3-1 4 2 2-3 1 1 2-2 5 1-1-2-1 1-4 0-1 2-2-5-3-1-1 3-3-1zM277 69l1 2zM84 69l2 0zM286 68l0 1 1 0zM269 68l1-1 1 1-1 1zM42 68l0 1 1 0 0-1zM483 67l1-1 2 1-1 1zM10 67l-3 2-2 0 0 1 4-1zM595 65l1 2-2 2-2 0-1-2 1-1 1 1zM384 66l2-1 1 2-1 1zM265 66l2-1 1 2-2 1zM240 66l1 1-1 3 1 0 0-4zM76 66h0zM74 66h0zM685 65h0zM312 66l-1-1-1 1zM292 65l0 1zM1219 64l1-1 1 1-1 1zM1180 64l1-1 1 1-1 1zM635 64l1-1 2 1-1 1zM618 66l2-3 2 1-1 3zM454 64l1-1 1 1-1 1zM379 64l2-1 2 3-2 2zM1181 63l1-1 1 1-1 1zM433 63l1-1 1 1-1 1zM261 63l-1 1 1 0zM54 63l0 4 3 1 1-1-2-2 0-2zM1087 62h0zM615 61l1 1-1 3-2-2zM326 64l4 0 1 1-1-3-3 0zM263 62h0zM12 62l1-1 1 1-1 1zM366 60l1 1-1 4-3 2-1 2-1-1 0-5zM78 61h0zM1107 60l-1 2zM1084 60h0zM1047 60h0zM597 60h0zM266 60l-1 1 1 4-4 2-1 2 1 3-2 1 0 1 5-4 2 2 0 3 6-1 3 3 2 0-1 0-1-3-5-4 1-1 0-4-2-3-3 0zM643 59h0zM276 59l1 2 1-1zM73 59h0zM1184 57l1 2-2 3-2-3zM638 58h0zM104 58l0 1zM1236 57l2-1 1 2-2 1zM1210 57h0zM1168 57l-2 0-1 3 3-1zM1018 61l1 1 2-3 1 1 4 0-1-1-1 1-2-1-1-2-1 3zM411 57l1-1 1 2-1 1zM25 56l1 1 0 4-3 1-1-1 0-3zM1191 54l2 2-1 3-2-1 0-3zM1151 55h0zM643 55l1-1 2 1-1 1zM85 55h0zM54 55l1-1 1 1-1 1zM34 55l1-1 1 1-1 1zM1096 54h0zM1009 54l-2 1-1 2-2 0 2 4-2 2-1-1 1 2 3-2 0-3 2-2zM477 54l1-1 1 1-1 1zM45 54l1-1 2 1-1 1zM1182 53l1-1 5 0 2 2 0 2-1 1-1-1-3 0-1-2zM81 53l-4 0 0 1-2 1 0 2 2-1 1-3zM1132 52l0 2 1-1zM622 52l0 1 1 0 0-1zM1198 50l1 3-1 1 0 3-2 1-2-2 1-1-1-3zM1193 51l1-1 1 1-1 1zM1042 51l-2 1 2 0zM1028 51l1-1 3 1 1 3-2 1zM90 51l3 0zM47 51l1-1 1 1 2-1 3 4-1 1-5-1zM44 51l1-1 1 2-1 1zM1235 49l1-1 1 1-1 1zM129 49h0zM53 49l1-1 1 2-1 1zM1103 48l1-1 1 1-1 1zM1068 48l0 1zM1023 48l1-1 1 1-1 1zM1151 47h0zM1110 47h0zM1037 47l1 2-1 1 1 0 0-3zM669 50l2 1 2-3 2 0-1-1-3 0zM488 47l-1 0-1 2zM1233 46l1-1 2 3-2 1zM1205 46l1-1 1 1-1 1zM1128 46l3 1zM653 46l2-1 3 5-3 1-2-3zM1206 45l1-1 1 1-1 1zM1056 45l-3 0-2 3zM1019 45l2 0zM52 44l2-1 1 2-1 1zM1151 43l1-1 1 1-1 1zM1142 43l1 2-2 3 3 1-1-3 1-3zM1138 43l-1 0-1 2zM1089 44l0 2 3 1 0-1-2-1 1-2zM1032 43l0 1zM1222 41l3 1 2 3-2 3-3 0-2-3 0-2zM1180 42l1-1 1 2-1 1zM1015 52l2 2 2 0 2-2 3 0 1-1-1-1 1-2 3 2-1 4 3 2 4-1 0-3 1-1-3-5-4 1-2-2 1-3-1 0-2 2 0 3-2 2zM650 44l1-3 2 0 2 2-4 2zM1179 41l1-1 1 1-1 1zM1104 40l1 1-1 3-2-2zM643 40l1 2-2 1-1-1zM1181 40l1-1 1 1-1 1zM1105 40l2-1 1 2-1 1zM1233 38l1-1 1 1-1 1zM1078 38l-1 2 2 3 3 1-2-2 0-1 2-1-2 0-1-2zM1067 38l0 3 3 0 0-3zM101 38l3 1zM1234 37l1-1 1 1-1 1zM1053 39l7 2 1-3-4-1-2 3zM1051 37l-1 0 0 3zM115 37l-1 0 1 2-1 1 2-1zM1147 36l1-1 1 2-1 1zM1117 35l2 2-1 1-2-1 1 3-1 2-2 1 1 3-3 2-1 2-3 1-1-1 1-3-3 1-2-3 2-1 1-2 2 1 4-1 0-1-3 1-2-3 3-4 3 2-1 2 1 0 0-3 1-1zM108 36l0 3 2 1-1-1 1-3zM1174 35l-1 0-1 2 1 0zM661 39l-2 3-3 0-5-6-3-1 1 1-3 5-3-2-3 1-2 4-4-2 1 2 3 0 1 3 3-1 1 1 0 4 1 1-2 1 0 1 4 3 10-5 2-2 4 1 2-2 0-2-1 1-3 0-2-2 2-1 2-3zM490 33l2-1 1 2-1 1zM1228 32l1-1 1 1-1 1zM1140 32l-2 3-3-2 4-2zM98 32l1-1 1 1-1 1zM1219 31l2-1 2 2-3 1zM1178 38l0-2 4-2 0-1-2-1 1-2 4 2 3 5-4 2-3-1-1 2zM100 31l1-1 1 1-1 1zM1099 30l3-1 2 3-3 1zM1091 30l-3 2 1 4-2 1 0 1 3-1 1-4 2-1zM1049 32l2 1 2-3 2 3-1 2 2-1-1-3-4-1 0 1zM97 31l1-2 2 1-2 2zM1234 29l1-1 1 2-1 1zM1198 28l4 3-2 2-4-3zM1067 29h0zM316 29l1-1 1 1-1 1zM115 29h0zM510 28l1-1 1 1-1 1zM1058 27h0zM1046 27h0zM101 27l1-1 1 1-1 1zM1205 25l3-1 1 3-2 1zM1125 25l1-1 2 2-2 1zM1077 25l2 1zM307 25l-1 0 0 2zM125 25l1 0zM1217 24l0 1zM1052 24l1 4 1-3zM116 23h0zM1219 22l0 1zM1210 22l1-1 1 1-1 1zM1204 22l1-1 1 1-1 1zM1195 23l2-2 3 2-1 1-3 0zM1115 22l1 0zM1209 21l1-1 1 1-1 1zM1200 21l1-1 3 0 1 1-2 2zM1131 21l-1 1 1 0zM327 20h0zM1174 18l1 1-1 3-1-1zM321 18l0 1zM28 18l1-1 2 1-1 1zM1189 17l-1 3 1 1-6 5-2 0-1 2-2 0-3-2 2-2-1-2 1-1 3 0-1-1 1-1 4 0 3-3zM1177 17l2-1 1 3-1 1zM1092 16l1 1-1 3-1-1zM1070 17l1-1 1 1-1 1zM128 17l0 1-2 1 5 3 0-2-2 0zM1199 16l2-1 3 1 1 2-3 2zM1193 15l1-1 1 1-1 1zM1187 15l2-1 1 2-1 1zM328 15l0 1zM1071 14l1-1 1 1-1 1zM28 16l1-3 3 2-2 2zM25 15l1-2 2 1-2 2zM0 14l1-1 1 2-1 1zM1226 13l-2 1 0 6-1 2 5-1 0-1-2 1-1-1 2-4 1 1 0-2zM1171 14l3-2 2 1-2 3zM1120 16l3-4 4 0 1 1 0 2-2 2-2-1-3 1zM1102 13l3-1 1 2-2 2zM1080 13l-2 3 1 0zM308 13l0 1zM1128 12l1-1 1 1-1 1zM1072 12l-5 4 2 1 3 4-1-3 1-1 1 1 3-1 0-2-2 0zM1068 12l1 0zM27 12l1-1 1 1-1 1zM20 12l1-1 1 1-1 1zM1132 10l1-1 1 1-1 1zM1148 9l0 1zM1095 8l1 3-3 2-2-3 1-1 1 1zM1088 9l2-1 1 2-2 1zM1190 8l-1 1 1 0zM1151 8l-1 0 0 2zM1122 8l1-1 1 1-1 1zM1081 8h0zM561 8h0zM535 7l2 1-1 1 2 2-2 3-3-2 0-2zM319 8h0zM317 8l-1 0-1 2 1 1-1 3-2 1 0 2 0-1 2-1zM91 8l-2 0-1 2zM1085 7h0zM564 7l0 2 3 2 0-2 2-2zM343 7l1-1 2 1-1 1zM31 7l2-1 2 3-3 2-1-1zM16 6l1 1 1-1zM4 6l0 2zM1110 5l2-1 2 2 0 2-2 1-2-2zM313 5l1 2 1-1zM301 5l0 1zM1137 4l1-1 1 1-1 1zM112 5l-1 2 3 1-1 2 1 2 2 0 1-2 2 0 1 2 1 0-1-3-4 1-2-2 1-3 1 2 2-1 1 1-1-3zM109 4h0zM40 4l1-1 1 1-1 1zM1215 3h0zM1196 3l-2 2 2 1 1-2zM1161 3l1-1 1 2-1 1zM1149 3l0 1 2 1 0-1zM1136 3l1-1 1 1-1 1zM1230 4l3-2-4 0zM1162 2l1-1 1 1-1 1zM592 2h0zM536 3l6-2 3 5-1 1-2-1-5 1-1-1 1-2zM335 2l3-1 1 2-1 1zM116 2h0zM1134 1l1 3-2 2-4 0-1 2 1 0 1 2-2 1-2-2 1-8 1-1 2 3 2 0zM318 1h0zM1239 0h0zM1154 2l7 2 3 5 2 1 0-3-4-2 2-2-1-3-6 0zM1083 13l0 1 4 2-1 1 1 1 0 3-3 1 0 1 5 1 1-1 3 0 1-2 2 2-1 1 1 1 1-2-1-1 0-3-3-2 1-2 1 0 1 2 4 0 2-3 1 2 2 1 0 3 0-1 3-2 2-3 4-2-1-1 2-1 2 3 0 2 3 3-1 3 1 3-1 1 2 1 3-1 1 1-1 2-2 0 1 3-2 3-3 2-2-4 4-3-1-1-1 1-6-1-5 6-2-3 3-3-5-3-1 1-1-1-5 4 0 3 2 2 0 5-2 1 1 3-1 4 2 2 0 3 3 1 0-1 3-2 3 3-1 5 3-1 0-3-1 1-1-2 2-2 1 0 1 2 0-3 1-1 2 1 2-3 7 3-1-2 1-1-1-6 2-1 0-4 2-2 3 0 2-5 2 1-1-3-8-6 0-2 1-1 4 1 1-2 4 0 1 1-1 3 3 0 1 1 1 5-2 2-2 0 0 3-6 5 0 3 1-1 1 2 3 2 4-6 5 4 1-1 3 1-1-1 2-1 1-2 2 0 1 1-2 1-1 5 3 1 2 2-1 1 1-1 4 1 2 2 0 3 1-1 3 0 2-2 2 0-1-1 1-1 3 0 2 2 0 2-1 1-1-1-1 3 2 1 1-4 1-1 1 1 0-2-2-2 1-3-2-2-2 0-2 4-4-2 0-2 2-1 1-2 3 0 1 1 0-1-3-1 1-3-1-1 0-3-2-1 1-1 5 1 2-1 1-2 3 1 1 6-3 1 2 1-1 3 2 1-1 1 1 1-3 2 3 2-2 6 2 0 1 2-1 1-2-1 0 3-1 1-2 0-4 4-2 0-2 2 2 1 5-3 1 2-2 4 4 0 1 1 2-1-3-1 1-1-1-2 3-2 2 2 5 0 1-2 3-1 2 2-2 4 1 0 3 4 6-3 1 2 1-1 4 1 2-4 2 2 0 7 1-2-1-4 1-2 2-1-2 0-4-5 1-2-7 2 0 3 2 1-1 3-3-1-3-3 1-1-1-1 2-3 0-2 4-3 2 1 5-7 4 0 0-2 3-3 3 2-3 5 3 3-1 1-5-1 0 2 1 1 3 0 1 2 2 1-4 5 2 0 1 2 2 1 1-2-1-3 1-1 3 0 1 2-1-3-3-2-1-2-3-1 1-2 2 1 2-1 1 3 4 0 1 2 1-1 2 2 0 5-2 3 4 2 4 0 1-2 0-3-3-1 1-2 2 0 0-44-1-1 1-1 0-3-4-2 2-1-1-3-5 0-2-1 1 7 4-1 2 2-4 5 2-1 1 1-1 2 1 2-2 3-5 2-2-1-2 2-4-1-1 2-3 0-2 2-2 0-1 2-3-4 1-1 2 1-2-1 1-2 1 1 3 0-1-1 0-4 2-3 1 2 1-2-1-5 3-4-2-1-2-3 2-1 4 5 3-2 1-2-2 0-3-3-3 0-2 2-2-2-2 2-4-2 1-1 8-3-8 0-3 2-3 0-1 4 2 1 0 3 5 0 2 1 2-2 3-1 1 1 0 7-1 1 2 2-1 1-2-1-3 1-3-2-2 0-2-2-2 0-3-5-3 0-2 3-3 0-1 1-3-1-4 2-3-4-2 0-2-2 0-2 1-1 5 1 3-4 3 2 2-5-2 0-2 3-4-2-4 2-1-2 2-2-4 0-2 4-1-1 1 2-1 2-2 1-1-2-1 0 2 3 3-2 2 3-1 1-4 0-2 3 1 1-2 2-1-1-2 3-2-1 1-1-1-1-2 0 1 3 1 0 2 3 3 0 1 1 3-2 2 2 0 5-2 2-4-4 0 1-2 1-2 5 2 3-3 5-3 0-1 3-4-3 2-4-2-3 0-2 1-1 1 1 0-1 3-1 0-1-2 0-4 3-3-2-2-3 1 3-2 1-3-4 0-2-2-1 3-2 2 1 0-3-2 1-2-1 2-6 4 2 0 3 3-4 1 1 0 4-1 1-3 0 0 3 1 1 2-1 2 3 1 0 0-2-2-1 0-3 2-2 2 0-1-3-3-2 1-3-2 1-1 3-5-3-3 2-1-1-4 4-3-5-1 2-1-1 1-3 2-1 2 1 2-3 1 0 2 3 3-1-5-3 1-2-2-2-1 1-4-1-1-1 1-1-28 0-1 1-2-1-6 7-1-1-1 1-1-1 0-4 3-2-7 0-1 1 2 2-3 2 1 1-4 3 0 1 3 1 0 2-1 1-4 0zM1077 0l2 0 2 3 3-2 0-1zM583 0h0zM580 0l-1 0 0 1zM308 42l0 3 7 0 7 10 3-2 2 3 3 1 0 2 3 0 3 4-2 2 3 2 5-1 9 4-1-1 1-1 9 0 1 1-2 2 2 0 3-4 2 1 6-4 2 1 2 3-3 1-2 3-1-1-3 0 0 2 3 1 3 4-1-2 5-2 2 4 2-1 5 5 8 1 3-3 1-3 2 2-1 1 0 5 5-1 1-3 1 2 4-1 0-5-1-1 1-1 0-3 2-2 2 0 5-7 3 0 1 2-2 3-3-1-1 3 1 3 5 0 1-1-1-2 3-2 2-3 3 1 1 2 2 0 1-3 4-4 6 4 3-2 6 2 6-2 4 4 2 0 1 3 4 0 1 1-3 3-1 4 2-3 3 0 1 3 3 1 0 4-1 1-1-1 0 1 2 2 0 3 5 3-1 3 2 3-5 2-2 3 0 4-3 3-3-4 0-2-1 1-3-1-1 2-2 1 2 1-3 1 0 2-2 1-3 4-3 0-5 2-1-1 1-2-2-3-1 2-2 0 2 2-1 3-3 3-2-1 1 2-3 1 2 2-2 1 2 3-1 2 2 3-1 1 0 3-3 1-2-3-2 0 1 3-2 2-2-1 1 2-1 3 1 5-2 2-3 0-1-1 0 2-3 3-1 3 1 1-1 1 1 4-3 2 0 4 2 3 0 5-2 4 2 3-1 5 2 4-2 3 0 4 114 0 1-1 1 1 16 0 2-4 3 2-3 2 8 0-2-1 5-3 5 1-4-4-3-1 1-1 0-4-1-1 3-1 2 3 3-1 2-3-1 1-1-1-3 1-4-4 0-3-6-4 3-2 3 2-2-1 0-3-3 3-3-1 2-1-1-2 1-3-1-1-3 2-1-1 1-2-1-1-2 2-4-2 0-2 2-1-1-1 1-2 11 0 3-5-4-2 2 2-3 4-5-4-4 0-2-2 4-2-4-5-4 0-2-2-3 0-1-1 0-2 3-3 0-3 3-1 0-3-2-1-3 2 0 2-2 2-3-3 1-5-3-3 0-2-3 0-1-1 1-1 4 0 3 2 9 0 0-2-4 0-1-2 2-1-2-2-1 1-2-4-4 2-3-2 1-2-1-3 1-1 1 2 4 1 0-1-3-2 3-1-2-1 0-5-1-1 2-1 1-3 4 3 0 2 2-3 4-3 5 4-1 2 3 3 2-1 1-3 3 1 1-3-2-2 0-2 2-2 3 1 3-1-2-2 2-2 3 4 1 0 2-3 2 0 2 2 3-1 4 1 5-3 1 1-1 4 3 0 1-3-2-2 3-1 1 3 1-5 1-1 2 1 0-3 1-1 1 1 3-1 1 1 1-1 2 2-1 1 2 1-1 1 1 2 0-3-1-1 1-1 3 0 2-2 2 0-1-3 2-3 3 0 1-1 2 1 2-3 0-4 1-1 3 0-1-1 1-2 8 7 5-3 0-2 2-4-8 1-1 2-3-2 3-4 3 2 0-2-2-2 1-4-2-4-2 1 1 2-4 4 0 3-5 3-2 0-2-2-4 1-2-2-2 0-1 1 2 3-1 1-4-2-5 3-8-1-3 1 1 1-8 4-2-1-1 1-5-1-2 2-4 1-7 4-1-1-1 1-3-1-2-2-5 0-3 3-1-3-1 2-5 1-5-3-3 1-7-3-1 2-1-1-1 2-10 0-3 2-2-2 1-1-1-3-7 2-3-1 1-1-1-2 1-1 0-3-6 1 2-1 1 2-5 5-5-2-2-6-2 0 0 2-3 2-3-1-1-4 0 2-2 2-3-1-1-2 2-3 1 1 0-1-2 1-2-2 3-2 1-3 2 1 2-1 1 1-2 4 4-1 3 2 1-2-2-1 0-3 1-1 3 1 0-1-4-6 2-2 1 2 5-3 1 1 1-1 3 1-1-2-2 1-3-1-1-5 2-2 5 0 1-1 3 1 2-1-1 0-1-2 7-6 5 4 2-1 2-6 2-1 1 2-1-2 5-5 9-1 3-3 4 2 3-2 8 0-1-2 2-2-3-1 1-1 0-3 3-1 1-3 4 3-2 7 1 0 1-2 3 1-3-1 1-1-1-1 0-3 1-1 2 1 6-1 8 4 3-3 1-3-248 0-3 1-1 2-2 0-1 2 3-1 1-2 4 1 1 1-2 7 1 1 2-1 0-3 1-1 2 1 2-2 2 0 3 5-4 4-3-2 0 2 1 0 1 2-2 5-3 3-3 0-3-2 0-2-3 0 0 1 3 2-2 1-1 2-3-1-2 2-5-4-1 1 0 5 1 0 2 3-3 2-2-3 2 7zM58 0l-1 1 1 0zM0 67l4-6 2 1 2-1 4 5 4-1 1 1-2 2 6-1 2-4 7 2 1-3 2 1 1 2-1 1 1-2 4-3 1-3 5-4 2 3-5 6 0 2 3 1 2-1 1-2 3 2 1-1-1-3-2 1-2-3 4-3 3 0 2 2 0-2 3-4-1-1 2-4-1-4 2-3 3 1 1 2 2 0 2-2 2 0 1-2 3-2 2 5-2 2-3-1 0 1 5 3-1 2 1 1 0-3 8-7 2-4 2 0 3 2 2-5 3 2 5-1 5-7 1 0 1 2 4 1 1-2-7-6 2-3 3 2 1-1 3 0 0-3 1-1 4 2 2 0 1-2-1-2-1 0-2 3-2-1-5 0-1 2-9-1-4-3-1-2-3-1-1 2-3-1-5 1-1-1 1-1-2-3-5 3-4 0-1-1 1-2-2-1-1 2-2-1-1 1-4 0-3-4-5 2-1 2-2-1-5 1-3-2 0 2-2 2-5 0-1 1-1-3 3-1 3-4 3 0-4-2-1-2-2 0 1 1-6 4-4-2 0 4-1 1-2 0-2-2-3 1 0 3-1 1-1-2-4 0-1-1-3 3-3-1-3 3-2-1-3 1zM0 0h0z"/>
<path fill="#e4ee1e" stroke="#e4ee1e" fill-rule="evenodd" d="M1212 203l1 0zM924 203l1 0zM872 203h0zM549 203h0zM546 203l1 0zM482 203l1 0zM879 202l-3 1zM254 203l3 0-2-1zM861 203l5 0 2-1 0-1-1 1-1-1-3 0zM861 200h0zM487 200h0zM480 200l-1 1-1-2-2 1-1 3 3 0zM215 199l1 1 0-1zM1188 198l3-1 1 2-2 1zM206 198h0zM1206 197l1 0zM233 197l-1 0-5 6 1 0 1-2 1 2 3 0zM854 195l2-1 1 2-2 1zM222 195l-3 2 3 0zM876 194l0 1zM503 197l4-2 1 1 1-3 3 2 0 1-3 2 2 0 1 2-2 1zM242 194l-2 0-2 2 2 1zM871 193l1 0zM205 193l1 3 1-2zM1209 192l0 2 1-1zM535 193l-1-1-1 1zM225 192h0zM506 189l1 1-1 3-1-1zM203 190h0zM474 188l2 3-1 1-3-2zM873 188l1 2 3 1 0-1zM853 187l2 0 3 3-4 5-2-1 1-3-2-2zM518 188h0zM1088 187l1-1 1 1-1 1zM1186 186l1-1 1 1-1 1zM1086 186l1-1 1 1-1 1zM865 186h0zM201 185l1-1 1 1-1 1zM116 185h0zM546 184l1 0zM531 184l1 0zM242 184l2 3 0-3zM183 184l1 1 1-1zM539 184l3 1 0-2zM534 183h0zM1089 182l1-1 1 1-1 1zM853 183l3-2 1 1-1 2zM506 182l1-1 1 1-1 1zM116 182l-1 0 0 1zM1206 181l0 1 2-1 1 2 1 0 0-2-1 1zM1197 181l1-1 1 1-1 1zM886 181l1 0zM850 181l1-1 2 1-1 1zM519 181l1 0zM505 181l1-1 1 1-1 1zM1224 180l1 2zM909 180l0 1zM547 180l-1 0-1 2 1 0zM473 180l1-1 1 2-1 1zM242 180l0 1 1 0zM74 180h0zM159 180l-1-1-1 2zM152 179l0 2 1 0zM120 179l-1 0-1 3zM529 178h0zM216 178l1-1 5 2-2 2-2 0zM191 178l-3 1 1 2 1 0zM150 178h0zM1223 177l-1 0 0 1zM537 177l-2 1zM497 177l1-1 2 2-2 1zM210 179l1-3 3 2-3 2zM207 177l2-1 1 3-2 1zM163 177l0 1 1 0zM118 177h0zM110 177l1 0zM99 177h0zM874 176l-3 1 1 1-1 2-2 1 0 3 1 0 0-3 4-3 2 0zM246 176h0zM209 176l1-1 1 1-1 1zM145 176l-1 0-1 2 1 0zM128 176l1-1 1 1-1 1zM843 175l2-1 2 2 0 2-2 1-2-2zM489 174l2-1 2 2-3 1zM450 173l1 2-4 2-1-2zM124 174l0 1 1 0zM463 173l1 0zM1184 172l1-1 1 1-1 1zM134 172l1-1 1 1-1 1zM521 171h0zM462 171l1 0zM870 171l0 1 5 1-1-2-2-1zM856 169l1 3-3 2 1 4-3 2-2-3-2-1 1-5zM523 170l1 0zM533 169h0zM508 169l1 0zM521 168l-1 1 1 0zM51 168l1-1 1 1-1 1zM849 167l1-1 1 2-1 1zM246 167l1-1 1 1-1 1zM203 166l1 1-3 2-1 3-2-3zM185 167l1-1 1 1-1 1zM1124 166l1-1 1 2-1 1zM196 166l1-1 1 1-1 1zM193 167l1-2 2 1-2 2zM90 165l2 2-2 3-1-1 0-3zM28 166l1-1 2 3-1 1zM789 165l1-1 2 1-1 1zM498 165l1 0zM488 165l2-1 2 2-2 2zM464 165l1 0zM59 165l-1 0 0 1zM1112 164l1 2 2-1zM8 164l-2 0 1 3zM1130 163l3-1 1 3-1 1zM849 163l1-1 1 2-1 1zM846 163l1-1 1 1-1 1zM834 163l3-1 2 3-2 1-1-2zM754 163l1-1 1 1-1 1zM478 164l0 4 4 5 1-1-1-2 1-5-1-2zM235 163l1-1 1 2-1 1zM74 162l1 3-2 2-3-2zM39 162l1 3-4 3-1-3 2-3zM848 162l1-1 1 1-1 1zM511 163l2 1-1-1 1-1zM88 162l1-1 1 1-1 1zM74 162l1-1 1 1-1 1zM53 163l-3 3-1-1-2 2-4 0-1-1 2-3 3 0 2-2zM865 161l1 1 0-1zM743 161l1-1 1 1-1 1zM243 161l1-1 3 4-2 1zM757 160l1-1 3 0 5 3-2 2-3 0-1-2-2 0zM751 160l2-1 3 2-3 2zM462 160h0zM217 160l1-1 2 1-1 1zM839 160l2-2 3 0 2 2 1-1 1 2-2 2-2 0-1-2-3 0zM79 158l2 4-3 3-1-1 0-3zM67 159l3-1 1 2-3 1zM63 158l2 2-2 3 2 1-2 2-7 3-1-1 1-1-1-5 3-3zM70 158l1-1 1 1-1 1zM22 158l2-1 2 2-2 2zM13 160l1-3 4 2-3 3zM869 157h0zM744 157l3-1 1 1 0 3-1 1-2-1zM501 157h0zM842 155l1-1 2 1-1 1zM798 155l-3 2 3 0zM535 155l1 0zM453 155l-1 3 2 1 1-1-2-2 1-1zM235 155l3-1 2 3-2 2-2 0-1-1zM811 154l1-1 1 1-1 1zM492 154l0 1 1 0 0-1zM8 154l2-1 1 2-1 1zM1121 153l1 1-2 3 4 1 0-2-2-3zM742 153l1-1 1 1-1 1zM76 152l2 4-4 3-2-2 3-1-1-2zM1230 152l1-1 1 1-1 1zM743 152l1-1 1 1-1 1zM531 152l0 3 2-1zM516 152h0zM17 152l1-1 1 1-1 1zM1124 151l0 1 1 0 0-1zM768 151l-1 2 3 1 1-2zM523 151l-3 3-2-1 1 2-4 2 0 1 3 2 0 2 2 0-2-1 0-2 2-3 1 2 4 0-2-1 0-4 1-1zM504 151l0 1 4 0zM228 151l1-1 1 2-1 1zM752 150l1-1 3 1 4-1 1 1-1 3 1 2-1 1-3 0-5-4zM90 149l1 3-3 1-1-2zM811 149l1 0zM728 149l0 1 1 0zM468 148l2 0zM2 147l4 2-1 5 3 1-2 3 1 1-1 1-2 0-2-2-2-5 0-4zM91 148l1-2 2 1-2 2zM868 146l-1 0 0 2zM514 146l-1 1 1 1zM495 146l-2 3zM447 146l0 1 4 1 3 4 4 1 0-1-5-2 1-2-2-3-1 2-1-1zM425 157l0 2 2 2 0 3-4 4-1 3 2 5-1 1 1 2-1 2 2-2 1 1 0 2-3 2 1 3-1 5 3 9-4 2 39 0 1-3 1 3 8 0 0-2-3 0-2 2-3-3 0-1 2-2 1 1 2-3 3 1 6-1 3 1 2 3 0-3 1-1 2 0 3 3-1-1 2-3 3 0 1 2 3 1 1-2 2 0 2-2 1 0 2 3-6 4-3-1-2 1-1 2 2 1 17 0 1-2 2 2 7 0-3-1-1-2 2-2 4 1 1-1-1-3-4-4-5-1-3-2 3-4 2-1 1 3 1-1 2 1 0 3 2 1 1-2 2 2 2 0 1 3 2-4 0-2-5 0-1 1-3-2-2-3-4-3 1-1-3 0 0 2-2 2-2 0-1-1 1-2-2-2 1-1 3 1 2-2-2-4-2 3-1-2-3-1-3 2-2-2 0-3-2 2-2-1 1 2 2 1-2 2-3 0-2-2 2-1-1-1 1-3-3-5 1-1-4-3-2 4 3 9-4 4-2-1-3 1-1-2-3-2-9-1-2-4 1 5 2 0 3 2-2 1-2 3 2 0 3 5-4 2-1 2-3 1 2 2 0 3-2 2-1-2-5 0-2-2 4-2 0-2-3 0-2 3-3-2 0-3 1-1 4 0 1 1 1-2 1 1 1-1 2 1 1-1-1-1 0-5-4-3 1 2-1 6-1 1-1-2-2-1 1-2-2-4 2-1 2-3 2 0 0-3-2-1 0 2-3 1-3 4-4-2 2-3-3-3-3-1 4-5 1 1-1 2 2-1 0-3-2-1-2-6-3-1-1-5-1 0 1 2-5 4-4 1-3 3-3 0zM96 145l1-1 1 1-1 1zM85 144l3 1 0 2-2 2-3-2zM76 145l1-1 1 1-1 1zM41 145l1-1 1 1-1 1zM1233 143l3 2 0 6-3 2-3-3 3-1 0-1-2-1zM869 144l1 0zM90 144l1-1 2 2-2 1zM737 143l0 1zM225 142l2 1-1 1 1 2-1 2-4-2 0-2zM216 142l1 1-2 2 1 2-4 6-2-3 3-4-1-1zM767 141l2 3-1 1-3 0-2 2-1-1 0-3zM500 142h0zM465 142h0zM192 142l1-1 1 1-1 1zM148 141l1 2-2 2-1-2zM98 142l1-1 1 2-1 1zM472 141l0 1zM108 141l1-1 1 1-1 1zM85 141l3-1 1 2-2 1zM71 141l1-1 1 2-1 1zM54 141l1 1zM776 140h0zM757 141l2-2 2 1-1 2zM480 140h0zM186 139l2 1 1 3-2 2-1-3-2 2-1-1zM823 139l0 1 2 0zM190 139l1-1 1 2-1 1zM103 138l1 3-2 2-1-1 0-3zM44 138l3 1 0 3 1 1-1 2-2-2-1 1-2-4zM39 139l1-1 2 1-1 1zM498 138l1 0zM141 138l1-1 1 1-1 1zM20 138l1 1 0-1zM736 137l-1 1 1 3 2-2-1 0zM182 136l1 1 0 3-2 1-3-2zM23 137h0zM180 136l1-1 1 1-1 1zM462 135l0 1 4 2 2-1-2-2zM208 135l1-1 1 1-1 1zM171 135l1-1 1 1-1 1zM1233 134l0 1zM700 187l1 8 2 3 0 5 156 0-1-5 2-3-2-2 3-2 1 3 2 1 1-2 4 0 2-3 0-2-2-1-3 5-3 0-4-5-3 0-1-1 3-3-1-1 2-2 1 2 1-6 2-1 2 2 2-1 0-2-4 0-2-4-2 1-2-2 0-2-3-5 5-3-1-1-1 1-3 0-2-2-2 0-2-6-6-4 0 2-3 2 2-1 2 2-3 1 0 4 1 1-1 1-5 0-1-1 3-4-1-1-2 1-1-1-2 2 0 2 4 2 0 2-2 2-1 0-1-2-2 0-1-1 1-2-2 1-3-4-1-3 2-1 3-4-2-3-2 3-2-1-2 4 1 3-1 1 2 1-6 5-4-9-2 2 1 3-2 2-2-1-3-6-1 0 1 3-2 1 0 2-3 4-5-1-2-2 0-4-5 2-4 0-2 3-2 0-1-1 0-5 1-1-3-2-2 7 7 5-1 1-3 0-4 4-2 0-2-4 1-1-2 1-2-3-3-2 1-2-1-7 2-2 2 2 2 0 1-2 2 3 1-1-1-2-2 0-2-2 3-1 1-2-3 0-3-4-3 2-2-3 0-3-1 0 0 3-3 4 1 3-2 5-2-3 1-1 0-3-2-1-1 1-2-1-4 1-1-2-1 0 0 3 1 1 3-1 2 1-1 3-2 1-6 0 0 4-3 2-1-1 1-2-1-2 1-1-1 0-2 3-1-1 0 2 2 3-2 2-4-1-1 1 0 3-2 2-8 1-2 2-4 0-5 6-4 3 0 4-2 3 0 4zM499 134h0zM475 134l0 1 1 0zM2 134l-2 0 1 5 2-3zM911 133h0zM513 134l3 1 0-1-2-1zM452 133l-3 4 1 1-1 1 0 4 1 1 2-1 1-4 2-1 2 3-1 3 1 0 3 4 3-3-1 1-2-2-2 1-1-1-1-8zM735 132l0 1 1 0 0-1zM161 132l1 2 1 0 0-1zM120 132h0zM1238 131l-1 0-1 2 2 0zM957 131l0 1zM142 131l-1 0-1 2 1 0zM258 161l-1-2-2 0-1 2 2 1-4 3-1 2-2-4 2-1 0-2-1-1-5 1-3-5 0-3-1-1-1 1-2-1 1-5-1-1 0 3-1 1-2-4-6-4-6-8-1 0 2 3-4 7-2-3 1-3-2-2-5 1-3-2-2 0 2 2-1 3-6 0-3-2-4 0-1 1-3-3-2 1-3-4-1 1-1-3-1 1-3 0 0 3 1 1-1 1-7-1-2-2 1-3-2 1-3-1 3 3-1 1 3 2-1 1-3 0-1-1-5 1-4-3-3 0-4 2-1-1-1 3-2-1-2 1-2-3-3 0-2 3-5-3 1-1-1 0 1 3-3 2-1-1-3 0-2-3-1 1-6 0-3 2-3-1 0 1-3 2-2-2-3 1-1-1 1-2-2-1-4 6-5-3-3 3-2-2 1-4-2-1-2 5-2-1 1-2-6 3-9-1-4 3 0 3 4-2 3 4-1 1 0 6-1 1-2-2 1-1 0-3-1 1-3 0-6-11-1 1-1 9 5-1 3 7-1 1-2-1-2 2-2-2 1-1-3-1-1-2 2 5-3 2-3-5-1 1-3-1-2 1-1-1 1-2 3 0 3-3-3-5 0-5-1-1-3 1-1-1-5 4-1 3 1 2 0 6-3 2-2-2 2-2-1-3-4 0-5 3-3-1-1 1-1-1-1 1-2-1-4 1-1-1 2-4-1 0-3 5-1-2-2-1 2-6 1-1 3 0 1 1 1-4-5 3-2 0-2 3-4 3-2-1 0-2 0 19 3 1 3-2 2 2 2 0 3-2 2 2-3 3 2 1 0 4 2-1 1 1 1 4 1 0-2-4 2-1 1-2 2 1 1-1 4 0 2 5 2-3 4-2 4 5 2 1 3-1 2 3-1 2 1 0 1-2-1-2 2-3 3 0 3-2 1 1-2 2 1 1 1-1 3 1 6-3-1-2 3-3 2 5 0-1 3-2 1 2 2 1 0 4 1 1 1-1-1-2 3-3 3 1 0 4 3 0-2-3 0-8 1-1 4 5-2 4 1 0 2 3 1-1 2 1 4-3 4 0 2 3-3 1 0 1 1-1 4 1 2-1-2-1 0-3 3-1 2 2-1 1 2 0 4 3 1-1 1 1 1-1-1-1 1-3 2 2 1-1 6 0 1-1 1 2 2 1-1 3 4 2 0 3 1 0-1-1 2-2-1-3 6-3 1 2-2 1 0 1 1 0 4-5 3 0 1 1 0 3 1-1 2 1 2-1 2-3 3 1-2 2 0 2 2-3 2 2-1-1 1-2 5 2 1-2-3 0-5-2 1-3 1 1 5-2 5 6-1 1 0 3 2 2 1-2 3-2 7 1 1-3 2 0 2 2 8-1 3 2 1 4 2 1-2 3 0 2 1 1 2-1 2 3 2-1 1 2 4-2 1 3 2-2 1 1 2-1 1 1 0-2 2-2 4 0 1-2 3 2 2-3 1 1-1 3 2 1-2 3 2 0 1-1-1-1 0-4 2-3-1-3 2-1 2 1 1 2 2 0 1-6 2-1 1-2 4 2 0-3 5-4 2 1 1-1-1-2zM150 130h0zM16 130l-1 2 2 0zM39 129l-6 3-1-1 1 1 0 5-1 1 1 2-1 1 3 0 0-2 2-2-1-4 3-1 1-2zM744 128l1 0zM472 128l-3 1 1 3 2-1zM459 127l-1 1 0 3 2 1 1-1 0-3zM454 126l0 1zM3 126l-2 0-1 2 1 2 2-1zM500 124l-1 1zM1171 123l1-1 1 1-1 1zM1172 122l2-1 2 2-2 1zM469 122l0 2 1-1zM1048 120l-1 0-1 2 2-1zM966 115h0zM1239 137l-7 1-3-3 1-1-4 1-1-2-2 1-1-1 1-1-1-3-4-2-5 4-1-3-3-2 1-1-1-1 1-3-2 1 1 2-1 3-3 1-1-1 1-6-3 0-1 1-1-1-2 1-1-2-7 1-1-3-3 1-2 3-1-1-7-1-4-3-2 0-4 3-2-2-5 0-1-1-1 1-3-3 0-1 2-1-4 0-1-1-5 4-2-1-1 1-4 0-1 1 2 0 2 3-2 2-3 1-1-1-1 2 3 4-5 3 1 5-4 3 0 1 3 2-3 4 3 0 1 3-2 1-2 4-3 2 1 4-3 2-2 0-5 4-1 2-4 2-1-2-3-1 1-2-3-2-3 5-2-1 0 2-3 1 1 1-1 2-3-1 1 1-3 2 0 3-7 4 0 3-2 2 0 5-4 5-6-1-1 3 2 2-1 1-4 0-1-2-1 1 1 0 1 2 128 0-2 0-2-2 0-2 1-1 4 1 2-3-2-3-8 0-2-2 2-4 2 2 6 0 2-3 3 0 0-1-1 1-4-1-2-2 1-1-1-3-3 0-2-2-1 4 2 1 1 3-3 2-3-3-1 1-2-2 2-1-2-6 4-3 3 1 3-1 1 2 1 0 0-3 1-1 4 0 1 1 1-1 2 3 1 0-1-1 1-2 2-1 2-3 2 0 2 2-2 3 1 1 0 3-3 1 1 1 3-2 4-5 2 1-1-3 2-2 1 0 1 2 4 0 0-2-3-2 0-2 2-1 1-2 4 3-2 1 0 2 4 2-2 2 1 1 0 3 4 0-1-3 2-2-5-3 4-3-1-3 2-1 0-16-2-1zM505 95l-1 0 0 2zM494 90h0zM498 89l-2 1 0 3-2 1 3 1zM523 87l3 2-1-2zM541 83l-1 0 1 1-2 1 0 1 1 0zM532 83l-1 0-1 3-1-1-2 1 3 1 0-1 2-1zM574 83l-1-1-1 1-4 0 0 5 3-3 3 1zM581 81l1-1 1 1-1 1zM528 81l0 1 1 0 0-1zM525 81l0 1 1 0zM563 80l-2 0-2 3-2-1 1 2 2 1 0-1 3-2zM532 80h0zM508 80l0 3zM542 78l1 1zM538 78l1 0zM603 77l1 0zM567 77h0zM506 77l-1 0-1 2 2 0zM501 76l-2 5 1 0 1-2-1-1zM384 75l1 0zM401 73h0zM571 75l3 5 3 0 2 2-1 2 2 1 4-3 1 1 9-10-2-1-2 2-2 0-2 4-3-2 0-3-4 1-3-2-1 1-3 0zM390 70l-1 1zM385 70l0 2 1 0 0-2zM378 69l0 1 2 1 0-1zM1236 67l0 1 1 0zM413 67l0 1zM411 67l0 1zM407 67l-3 1 3 0zM401 67h0zM1194 64h0zM409 63h0zM385 61l1 0zM342 60l-1 1 1 1zM423 59h0zM345 58l1-1 3 1-1 1zM403 57h0zM394 56l-2 1 2 0zM334 56l2 2 0-2zM1229 55h0zM374 55l1-1 1 1-1 1zM332 55h0zM444 55l3-2 2 2-4 2zM376 53l1-1 1 1-1 1zM374 53l1-1 1 1-1 1zM474 50l0 1zM19 50l1-1 1 1-1 1zM425 49l1-1 2 2-2 1zM389 49l1-1 2 1-1 1zM20 49l1-1 1 1-1 1zM474 48l1 0zM21 48l1-1 1 1-1 1zM8 50l0-2-2 1zM326 47l3-1 1 2-2 1zM444 45l2 3-3 1-1 3-3-3 2-1 1-3zM436 45l1 1-2 4 1 1-3 1-2 3-3 0-1-3 5-2 0-2zM19 46l2-1 1 2-1 1zM465 44l1-1 1 1-1 1zM417 45l3-2 2 3-3 1zM458 43l1-1 2 2-2 1zM48 43h0zM1231 42h0zM1187 43l3 3 3-2-1-2-2 2-2-2zM437 42l1-1 1 1-1 1zM1099 41l0 1zM33 41l1-1 1 1-1 1zM485 40l0 1zM438 41l1-2 3 1-2 2zM1219 39h0zM3 41l1-3 3 1-2 3zM35 38l1-1 1 1-1 1zM328 38l1-2 2 1-2 2zM326 37l1-1 1 1-1 1zM69 37l-1 0 0 1zM0 37l0 1zM1195 36h0zM409 36l1-1 1 2-1 1zM316 36l0 1 1 0 0-1zM32 35l2 2 0 3-1 1-2-1 0-4zM34 35l1-1 1 1-1 1zM1205 33l-3 1 0 1 3 1 1-1zM1189 33l0 1 2 0zM33 33l1-1 1 1-1 1zM45 32l1-3 3 1-2 3zM87 29h0zM80 29l1-1 1 1-1 1zM42 28l2 3-2 2-3-2zM336 27l2 2-2 2-2-2zM89 28l0 2zM51 27l1 3-2 1-1-2zM347 25l1 3-3 2-1-1zM333 26l1-1 1 1-1 1zM378 23l1-1 1 1-1 1zM350 23l1-1 1 1-1 1zM25 22l1 2-4 2-1-2 2-2zM380 22l1-1 2 1-1 1zM96 21h0zM17 19l1-1 2 1-1 1zM453 18l1-1 1 2-1 1zM364 18l1-1 1 2-1 1zM85 17l1 0 1 2 3 0 0-2-2 1zM520 16h0zM359 17l2-2 2 1-1 2zM48 15l0 1zM516 13l0 2 2-1zM452 12l2 1 0 3-1 1-2-1 0-3zM393 12l2-1 2 2-2 1zM354 12l-2 1 1 2 2-2zM515 11h0zM453 11l1-1 1 1-1 1zM387 11l1-1 1 1-1 1zM367 11l3-1 1 2-3 1zM347 10l0 1 2 0zM87 23l-3-1-2-6-4 0-2 2-2 0-3-5-1 0-1 2-2-3-1 1-5-3-4 1-2 3-2 0-4 4-5 1 0 2 3 4-2 2-4-3 1-2-1-1-1 2-4 3-8-3-4-5-1 1-3-4 2 3-1 2-5-3-10-1 2 5-2 2-2 0-1-2 0 1-3 2 0 1 3-1 2 3-3 5 0 4 2-1 1 2-4 3 0 2 2 0 3 3 3-1 2 1 2-1 1 3 4 3-1 2-3-1 1 0 1 2 5 2 0-3 8-6 4 0 1 2 2 1 0 2 2-3-3-1 1-2-2-3 1-1 3 2 3-2 1 2 5-2 3 1 1-3 4 1-1 0-2-3 2-3 3 1-1 3 3-1 5 1 2-2-1-2 1-3 2 1 1-1 3 0 1 2 2 0 3-3 3 0 1-1 2 1 1-3-2-2 1-1 3 1zM407 8l1-1 1 1-1 1zM361 8l3-1 1 2-2 2zM460 7l1-1 1 1-1 1zM508 5l3-1 3 3-1 2-3 1-1-1 1-1zM442 3l3 1-2 3-3-1zM439 4l1-1 1 1-1 1zM507 3l1-1 1 2-1 1zM437 3l1-1 1 1-1 1zM368 1l3 3-2 3-4-3zM492 1l1-1 2 1-1 1zM450 1l1-1 1 1-1 1zM395 1l1-1 2 3-1 1zM391 2l-1 2-1-1-1 1-3 0-1-1 5-3zM380 0l2 1 2 3-3 2-3-2 0-2zM544 0l1 1 3-1zM528 0l-3 1 0 2-2 1 3 3zM520 0l1 0zM317 44l6 1 1 3 1 0 3 4 3-2 5 2 1-1 1 1 2-1 3 2-1 3 4 3-1 1 1 1 2-1 2 2 0 2 1-1 2 1 0 2 2 0-1-2-2-1 1-1 3 0 2-2 2 0 2-2 3 0 2-2 4 0-1-2 3-2 1 1-1 2 4 2 1 2 1-4 3-2 2-3 2 3 2-3 2 0 3 3 3-2 2 3-1 1 1 2 4-2 0-1-3-1 0-3-1-1 1-2 5 0 1 2 4 3-3 2-1 7 3-4-1-3 3-5 2 1-1 1 1 0 1 2 3-4 2 0 2 2-1 5 1 0 3-4 6 5 0 1-2 1 0 3 2 0 0-4 1-1 2 0 2 2 3-3 1 1 1-1 1 1 1-1 3 1 2-1 1 1 5 0 0-2 2-2 2 3 3-1-2-6 2-1 3 2-1-1 4-5 1 2 3-1-1-1 1-1-3-2 1-3 6 1 0-3 2-2 1 0 1 2 1 0 1-2 1 1 4 0 0-2-2-1 2-2 2 1 1-1 0-4 2-2 3 1-2 2 1 2 2-2 4 0-1-1 1-2-2-2 0-2 4-3 3 0 1 1-1 2-3 1 1 1 2 0 3-2 3 0-1 0-1-2 2-2 2 1 1-1 1-6 3-2 4 0 1-2-4-5 1-1-28 0-1 1-2-1-36 0-1 1-2-1-2 1-1-1-35 0-2 3-4 1-1-2 4-2-41 0-1 1-1-1-3 1-3-1-1 1 1 1-2 2-3-1 1 2 3 0 0-2 2-2 3 5-1 1 1 1-1 2-4 0 2 1-1 1 1 1-1 10-1 1-6-3 4-2 0-1-1 1-2-2 0-2-8-1-1 4-2 2-2-1 2 3-1 1-3-1-4 5 2 1 0 8-1 1-2-1 1-3-4 0-1 1-1-1-1 2-2 0-3-2 1 0 1 2-2 2-1-1-1 3 1 3z"/>
<path fill="#f6d716" stroke="#f6d716" fill-rule="evenodd" d="M1094 199l1 1-1 3-2-2zM1089 200l1-1 1 1-1 1zM829 200l2-1 1 2-2 1zM1080 199l-1 2 2 2 3 0-1-2zM429 201l2-3 2 1-2 3zM431 197l1-1 1 1-1 1zM428 196l2-1 1 2-2 1zM847 195l0 2 1-1zM846 191l1 0zM1186 190h0zM827 190l2-1 1 2-2 1zM844 189h0zM829 189l1-1 1 1-1 1zM828 188l1-1 1 1-1 1zM841 187h0zM436 187l1-1 1 1-1 1zM506 185h0zM838 183h0zM1173 183l1-3 2 2-2 2zM1116 179l1-1 1 1-1 1zM482 179l0 1zM1166 177l3 1-2 4-2-3zM1114 177l1 3-2 1-1-2zM792 178l1-1 2 2-2 1zM1126 176l1-1 1 1-1 1zM827 176l1-1 1 2-1 1zM1139 175l1-1 1 1-1 1zM219 175l2 0zM1175 173h0zM1147 172l1 1-3 2-1-1zM829 172l1-1 2 1-1 1zM835 169l1 0zM736 169l2-1 1 2-2 1zM1158 168l1-1 1 1-1 1zM1167 167h0zM431 167l1-1 1 1-1 1zM114 167h0zM1178 166l1-1 1 1-1 1zM1161 165l1 2 4 3-2 1-2 3-2-1 0-7zM1146 166h0zM1130 166l1 0zM827 166l0 1zM742 166h0zM726 166l2 1 0-1zM437 165l1 1 0 4 2 1-1 3-5-3 1-4zM113 164l-2 1zM231 163l-2 1 1-1 1 1zM702 187l0 2 2 3-1 3 2 2 1 6 133 0 1-1 3 1-1-2-3 0-1-3 2-2 1 2 3-1-3-2-1 1-1-2-2-1 1-3-2-2 0-2-2-3-4 1-2-2 2-4 1 1-2-2 3-1-1-1 3-1 1-2-3-2-1 1-2-1-5 0-3-3-1 1-4 0-5-4-4 3-1-1 2-3-1 1-3 0-1-2-1 1 0 4-3 3-1-1-3 0-1 1 1 2-3 2-2-2 2-1-1-3-7 0-3-2-5 0-3 3-3 0-1-1-3 2-3-2-6 5-2-1 0-2-7 6-2-1-3 1-2-2 1-1-2-3 1-1-3-2 0-3 1-1-4 2-2-1-1-2-1 1 1 2-2 1 0 3-1 1-3-2-3 1-4-3-5 3-2 0-6 7 0 3-2 2 0 3zM213 162l1 3 0-3zM206 162l-1 1 1 0zM163 162l1-1 1 1-1 1zM114 162l1-1 1 1-1 1zM215 159l0 1zM1153 158l1-1 1 1-1 1zM1197 157l2-1 1 2-2 1zM443 157l-2 2-2-1-1 2-2-1-3 2 2 2-3 2-3-1-1 1 2-1 1 1 0 2-4 5 1 2-1 3 4 3-2 2 0 4 2 1-3 1 2 4-3 4 2 3-1 1 0 3 16 0 1-1 2 1 3-1 1-3-1-2 0-5-3 0-1 1-1-1 1-4-1-1-2 1-2-2 0-2-1 0-1-2 1-1 1 1 1-2-2 0-2-2 3-5 3-1 0-1-2-1 1-1-5-3 0-3 2-2 3 1-1-2zM94 157l-1 3 3 1 1-3zM1182 155l1 1 1-1 2 2-2 5-3-1 0-5zM1162 158l2-3 2 2-1 2zM165 156l1-1 2 1-1 1zM142 155l1 0 2 3-2 2-3-3zM48 158l-1 0-1-2-2 0-4 2 0 2 2-3 1 1 2-1zM1154 155l2-1 1 2-1 1zM39 155l0 1 1 0zM1149 154l1-1 2 1-1 1zM131 154l1-1 1 1-1 1zM136 153l2-1 1 3-1 1zM105 153l-1 0 0 2zM1179 152l3-1 1 2-2 1zM162 152l1-1 1 1-1 1zM151 151l3-1 1 2-1 1zM138 151l1-1 1 1-1 1zM28 151l-3 3 2 0-1-1 1-1 2 1zM1178 150l1-1 1 2-1 1zM1173 149l1 2-2 1-1-1zM1145 149l-3 0-2 3-2 0 2 3-1 1-3 0 0 2 4-1 2 3 2-2-1-6 2-1zM162 149l1-1 2 1-1 1zM149 149l1-1 1 1-1 1zM108 149l-2 1 1 2 2-1zM101 149l-4 4 1 1 3-1 1-3zM173 148l1-1 1 1-1 1zM1211 146l1 1-2 3-1-3zM112 147l0 2 3 2 2 4-2 2-1-1-3 2-2-1-3 3 0 2 3 1 2-2 2 0 2 2 0 2 4 1 3-4-2-2 1-2-2-2 2-7-4 1-1-1 1-2-2 1zM207 146l1-1 1 1-1 1zM195 147l-2-1-1 2zM123 146h0zM206 145l1-1 1 1-1 1zM199 145l1 2 0-2zM137 145l1-1 1 1-1 1zM102 145h0zM1166 142l1 3 4 2-1 1 1 5-2 1-2 3-2-3 1-4-3 4-1-1 1-2-1-2-1 1-2-1 0-1 3-1zM198 143h0zM1162 142l1-1 2 1-1 1zM1202 141l1-1 1 1-1 1zM210 141l-4 0-1 1 2 2-3 3-1 5 3 0 1-1 1-4 2-1zM1157 139l3 0 1 1 0 2-2 3-4-3zM195 153l-2-1-3 3-2 0-1-2 2-3-2-2-1 0-1 2-2-4-2 4-3 0-1-1 1-1-1-3-1 1-2-1-1 3-7 1-2-3-1 1-2-2 1-2 3-1-1-2-2 0-2 3-3 0-2-2 1 2-1 1 5 3-2 5-2-2-1 1-2-3-5 1-2-2-1 1-2-1 0 1-2 1-2-2 2-2-1 0-2-3-2 0-3 3-2 0-1-1 1-2-1 0-1 4-1 1-1-1-1 2 1-1 3 5-1 1-4-1-1 2-1-1 0 3 2 0 2 2 0 2-2 1 0 1 1 0 4 5 1 4 2-3 4 0 0-2-2 1-1-2-3 0-1-1 3-4 3 0 6 3 2-1 1 2 4 0 1 2 1-1 3 1-3-2 1-2 2-1 1 2 4 2 8 0 2 3 2 0 5-8 4 2 3-2 5 0 2 2 2-1 3-5zM1168 139l1-1 1 1-1 1zM1138 139l1 2zM117 139l-1 2 3 1 1-3zM1148 135l2-1 2 1 1 2-2 2-2 0-1-1zM1181 131l1-1 1 2-1 1zM1144 127l-2 1 2 0zM1182 124l2 2-2 3-1-1 0-3zM1168 121h0zM1224 142l-3 1-3-4 1-1 0-3-8 6-1-1 1-3-3 1-4-3 1-2-6-5 1-1-1-1 1 3-1 3 1 1 0 3-1 1-6-8-2-5-8 1-2-3-4 5-2-1-3 1-2-2-4 0 1 1-3 2-1-1 0-3-2-2-3 2-2-4-3 0 3 3-2 2-2 0-2-2-1 1 0 2 1-1 1 1 0 2 2 3-3 1-3-3-2 3 1 1 0 3-2 2 1 3 3 1 1-3 5 3-5 4-2-2-2 0 0 1 1-1 4 4-1 6-2 2 1 5 2 0 2-3 1 2 3 1-1 3-6 1 1 5-2 2-1-2-4 5-3-1-3 3-1-1-4 1-2-2 1-3-3 0-2 1-1 2-2-3 1 2-2 4-6-1-1-2-4 0-1 2-2-2 0-4-2 0 1 7-1 1-8 0-3 1-1 11-2 1-3-2-1 2 3 2-4 2-1 2 2-2 1 1 1 6 94 0 2-3-2-1-1-3-4-4 0-5 3-2-6-3 3-2-1-3-2 0-1 3-2-1 0-4-2-1 0-2-1 0-2 5-2-1-1-2 3-2-1-1 1-1-3-2 0-3 3-2 5 1 2 3 0 2 3 2 2 0 2-3 2 0 4-4 2 1 2-2 1 1 2-1 1 3 0-1 2-1 1 2 3 2 2 0 2-2 3 1 0-1 3-2 3 1 0-1-3-1-2-3-2 1-2-2 0-2 2-2 2 0 2 2 0 2 3 2 3-2-3-2 0-2 3-4-1-2 2-1-1-3 6-2zM370 47h0zM353 48l1 3-1 1-4 0 7 2 1-1-2-1 1-2-1-3zM335 45l-2 3 2-1zM355 43l0 1zM435 42l-2 1 2 0zM360 43l-1-1-1 2zM404 41l0 1 1 0zM324 42l0 1 3 0 0-2zM11 41l0 1 1 0 0-1zM410 40l0 1zM419 39l2 1zM446 41l2 1 2-1 1-2-4-1zM339 38l1-1 1 1-1 1zM428 37h0zM386 37l0 1zM340 37l1-1 1 1-1 1zM20 37l-1 3 4 2 1-3-2-2zM405 36l-1 0 0 1zM353 36l-1 1 1 2-1 1 2 1 1-3zM458 35l-1 0-1 3-2 0 1 1-1 2 2 1 1-3 3 1-2-3zM44 35l1 0zM370 34l1-1 3 1-2 2zM344 34l-9 2 1 1 2-1 2 3-1 1 2 1 1-1-1-2 1-1 2 1zM15 35l-2-2-1 3zM389 32h0zM370 32l1-1 1 1-1 1zM350 32l-2 0-2 3 2 0zM439 31h0zM423 31l3 5 2-1zM470 31l2-1-2 0zM467 30l-3 0 0 3-2 2 4-1zM474 29l0 1 1 0 0-1zM421 29l-3 1 0 1 2 0zM458 30l-3-2-5 3 3 0 1 2 4-2zM434 28l1 2-2 1 1 0 2 3 0 2-2 1 2 2 0-2 2-3-2-4-2-1 1-1zM449 27l-2 1zM396 27l-2 0 0 3-2 3 1 1-1 2 1 3 0-1 3-2 0-2 1-1 1 1 0-1-2-1zM384 29l-3-2-1 1 1 0 3 4-1 1-7 0-1 1-3-2 0-2-2 1-2-1-1 3-4 0-1 1 1 2-1 6 5 1 2-4 4-3 1-2 1 1 1-1 3 3 0 2-2 2-1-1 1 1-2 1 3 5 0-3 3-4-1 1-1-2 1-1 3 1 1-1-1-2 1-1-1-1 2-1zM357 27l0 1 1 0zM471 25h0zM431 25h0zM425 25h0zM374 24l0 1zM359 24h0zM62 25l-2-1-4 2 0 3 3-2 2 2 2 0zM10 24l-1 1 1 2 1-1zM464 23l1 1 0-1zM74 23l-5 1 1 2 1-1 2 1zM486 22l-1 0 0 2zM452 23l-2-1-1 3zM442 22l1 1 0-1zM440 22h0zM360 22l1 1 0-1zM346 22l-1 1zM408 21l2 1-2 2 3 2-1 1 1 2 2-1 0-2-3-1 1-3zM403 21l0 2 2-1zM439 20l1 0zM429 20l-1 1 2 2 1-2zM476 20l4 4-1-1 0-3-1-1zM469 19l1 0zM462 19l0 1 1 0 0-1zM422 19l-1 0 0 2zM430 18h0zM465 17l-1-1-2 1 2-1zM432 16h0zM428 16h0zM416 16l1 2 0-2zM412 14l-1 2 2 3 1-3-1-2zM61 14l0 2 2 1 1 6 3 0 1-2-2-1 1-2-2 1-3-5zM489 12l-2 1 1 1zM464 12l-1 1 1 0zM409 11h0zM377 11h0zM483 10l0 2 1 0 0-2zM474 4l1 1-4 3-1-2 2-2zM491 4l-2 0-1 4 3-1zM429 4l0 1 2 1 0-1zM478 2l-2 0-1 2-4 0 0 1-3 1 0 1 2 0 2 2 0 2 3-1 2 1 0-2 3-2-2-3z"/>
<path fill="#f9aa0f" stroke="#f9aa0f" fill-rule="evenodd" d="M825 201l1 1 0-1zM1179 199h0zM441 199l1 2zM832 197h0zM829 196h0zM434 190l-1 3 3 1 1-2-1-2zM1116 189l1-1 2 1-1 1zM819 188h0zM1109 187l3-1 1 2-2 2zM820 183l-2 1 2 0zM824 182l-1 1 1 1 0 3 3-2zM738 180l2 4-1 1-3 0-1-1 2-1zM736 180l1-1 1 1-1 1zM1133 179l0 2 1 0 0-2zM1178 203l-2-2-1-7-8-3 3-2-3-5-5 1-1-1 0-3-3-2-2 2-4-5-4 1-1 1 2-1 1 2-3 3-2-1-1 2-4-1-8 4-2 0-6-3 2 3 2 0 3 3-1 2-3-1-3 1-4-5-3 2-1-1-1 1-4-4-4 0-3 4-1-1-3 0-3 4 3 5-2 4 5 0 1 3 2-1 1 1zM802 176h0zM804 175h0zM796 175h0zM431 174l0 1zM812 170h0zM705 184l1 11 3 4 0 3-1 1 110 0 3-2 1 1 1-1-1-4-3-3-6-1-3-3 1-2 2 0-1-2 1-2-2 0-2-2-3 0-1-1-2 0-1 2-1-1 1-4-1 0-2 4-2 0 1 0 2 3-2 1-2 3-3-2-1-4-2-1-2 2-3 0-1-2 3-1 0-4 2-2-3-4 1 3 0 4-1 1-4-3-1-4-1 2-1-2-1 1 2 1-2 2-6-1-1-1 2-1-2-1-5 3-2 0-2 3-1-3-2 3-1 0-1-2-4-1 1 2-1 3-2 0-5-3 0 2-5 3-1-3-2 1-1-1-1 1-2-1-1-3 1-2-2-2-9 0-4-3-2 1-4 5-6 1 0 6zM1200 161l-1 1 1 0zM1192 157l1 0zM1192 146l-1 1 1 3 3 0 1 1-1 3 2-1-3-7zM1212 144l1 0zM1207 143h0zM1171 143l1 2zM1196 142l0 3 3 0 1-2 3 3 2 0-4-2-1-4-2 0 0 1zM1178 141l0 2 2 1 1 2 3-1 2 1 1-1-2-1-3 1-3-3 2-1 0-2zM1195 136h0zM1193 135l-2 1-2-1-3 2 1 5 3-1 1-4zM1176 129l0 1zM365 39h0z"/>
<path fill="#f48017" stroke="#f48017" fill-rule="evenodd" d="M1163 199l1-1 1 2-1 1zM815 199h0zM810 199h0zM813 198l0 1zM1161 195l1-1 1 1-1 1zM809 194l-1 0 0 1zM799 193l1 0zM802 191h0zM1166 187l-1 0-2 3 1 0zM1168 197l-1-3-2-1-3 0-2-2-4 1-1-1 1-2-1-2-3 1-3-3-3 0-1 1 1 2-2 2-5-3-2 2-4 1 0 2-2 2-5-1-1 2-3 2-3 0-1-3-1 2 2 2-3 2-3 0-1-2-2 0 1 1-1 3 1 1 57 0zM780 177h0zM708 184l1 3-1 2 1 6 3 6-1 1 1 1 80 0 1-1 1 1 4 0 1-1 5 1-1-2-9-5 1-4-5-4-2 0-3 4-3 0-4-8 0-5-4 0-1 2-4-3-3 2-5 0-1 1-2-1-1 1 0 3-2 2-3-3-3 0 1 2-2 2-1-1 1 1-3 3-3 1-4-3-4 0-3-4 0-2-2-1 0-5-2 0-3-2-1 1-6-1 0 1-3 2-4 0 0 5z"/>
<path fill="#f65015" stroke="#f65015" fill-rule="evenodd" d="M741 203l3 0 0-1zM727 200l1-1 1 1-1 1zM775 198l1-1 2 3-2 1zM745 197h0zM741 196l1-1 1 1-1 1zM714 195l1-1 1 1-1 1zM772 194l0 1zM738 194l1-1 1 3 3 1-1-2 1-1-2-1zM1163 202l-3-1-2-5-3-1-1 1-2-1-1 1-2-3 0-2-4 3-1-1-5 1-6 5-2 0-3-2 1 6 34 0zM774 191h0zM762 195l0 1 2 0 2 2-1 5 2 0 2-3 2 1 1-1 4 3 4 0 0-1 4-3-5-3 1-5-3 0-2 2 1 4-6 3-1-1 1-2-2 1-1-1 3-4-4-2 0 1zM752 192l-3-1 1 3-2 2-1-1 0 1 3 1 0-2zM762 189l-3-1 1 1-2 3-2 0-2-2 0 1 4 2 4-2-1-1zM712 179l0 5-2 2 1 1 0 8 5 3 0 1-2 1 0 3 24 0-2-2 0-4-2-3 0-2-4 0-1-1 1-4-4-2 3-1-3-2-3 0-1 1-2-3-2 0-2-2-3 0z"/>
<path fill="#f61e10" stroke="#f61e10" fill-rule="evenodd" d="M1139 200l1 1 2-1zM1148 198l-3 2 2 0zM721 196l1-1 1 1-1 1zM715 188l-1 1 1 1-1 2 4 0 5 7 2-2-4-4-1-4-1-1z"/>
</g>
<circle cx="1300.6" cy="336.8" r="3" fill="#d21408"/>
<circle cx="1806.8" cy="260.6" r="4" fill="#f61e10"/>
<circle cx="1821.3" cy="269.4" r="3" fill="#f65015"/>
<circle cx="1835.8" cy="279.2" r="4" fill="#f61e10"/>
<circle cx="1849.8" cy="287.5" r="3" fill="#f65015"/>
<circle cx="1867.9" cy="308.3" r="5" fill="#f61e10"/>
<circle cx="134.9" cy="303.1" r="4" fill="#f61e10"/>
<circle cx="186.7" cy="113.8" r="3" fill="#f65015"/>
<circle cx="596" cy="137.2" r="3" fill="#f61e10"/>
<circle cx="663.4" cy="135.6" r="3" fill="#f61e10"/>
<circle cx="1326.5" cy="93.1" r="2.5" fill="#f61e10"/>
<use href="#halo" stroke="#f61e10" stroke-width="7.5"/>
<use href="#land"/>
<use href="#grid"/>
</g>
<rect x="75.5" y="78.5" width="1860" height="305.8" fill="none" stroke="#000" stroke-width="4.9"/>
<g class="tk"><text x="150.4" y="418.2" text-anchor="middle">165°W</text><text x="228.1" y="418.2" text-anchor="middle">150°W</text><text x="305.9" y="418.2" text-anchor="middle">135°W</text><text x="383.6" y="418.2" text-anchor="middle">120°W</text><text x="461.3" y="418.2" text-anchor="middle">105°W</text><text x="539" y="418.2" text-anchor="middle">90°W</text><text x="616.7" y="418.2" text-anchor="middle">75°W</text><text x="694.4" y="418.2" text-anchor="middle">60°W</text><text x="772.2" y="418.2" text-anchor="middle">45°W</text><text x="849.9" y="418.2" text-anchor="middle">30°W</text><text x="927.6" y="418.2" text-anchor="middle">15°W</text><text x="1005.3" y="418.2" text-anchor="middle">0°</text><text x="1083" y="418.2" text-anchor="middle">15°E</text><text x="1160.7" y="418.2" text-anchor="middle">30°E</text><text x="1238.4" y="418.2" text-anchor="middle">45°E</text><text x="1316.2" y="418.2" text-anchor="middle">60°E</text><text x="1393.9" y="418.2" text-anchor="middle">75°E</text><text x="1471.6" y="418.2" text-anchor="middle">90°E</text><text x="1549.3" y="418.2" text-anchor="middle">105°E</text><text x="1627" y="418.2" text-anchor="middle">120°E</text><text x="1704.7" y="418.2" text-anchor="middle">135°E</text><text x="1782.4" y="418.2" text-anchor="middle">150°E</text><text x="1860.2" y="418.2" text-anchor="middle">165°E</text><text x="59.5" y="136" text-anchor="end">20° N</text><text x="59.5" y="187.8" text-anchor="end">10° N</text><text x="59.5" y="239.7" text-anchor="end">0°</text><text x="59.5" y="291.6" text-anchor="end">10° S</text><text x="59.5" y="343.4" text-anchor="end">20° S</text></g>
<rect x="75" y="461.7" width="93.6" height="21" fill="#1d1282"/><rect x="168" y="461.7" width="93.6" height="21" fill="#1c0a80"/><rect x="261" y="461.7" width="93.6" height="21" fill="#1e1285"/><rect x="354" y="461.7" width="93.6" height="21" fill="#1c2f91"/><rect x="447" y="461.7" width="93.6" height="21" fill="#2160a8"/><rect x="540" y="461.7" width="93.6" height="21" fill="#2496c4"/><rect x="633" y="461.7" width="93.6" height="21" fill="#1ea8cb"/><rect x="726" y="461.7" width="93.6" height="21" fill="#2aaab8"/><rect x="819" y="461.7" width="93.6" height="21" fill="#3aab98"/><rect x="912" y="461.7" width="93.6" height="21" fill="#67c07c"/><rect x="1005" y="461.7" width="93.6" height="21" fill="#8ecf5e"/><rect x="1098" y="461.7" width="93.6" height="21" fill="#bde03a"/><rect x="1191" y="461.7" width="93.6" height="21" fill="#e4ee1e"/><rect x="1284" y="461.7" width="93.6" height="21" fill="#f6d716"/><rect x="1377" y="461.7" width="93.6" height="21" fill="#f9aa0f"/><rect x="1470" y="461.7" width="93.6" height="21" fill="#f48017"/><rect x="1563" y="461.7" width="93.6" height="21" fill="#f65015"/><rect x="1656" y="461.7" width="93.6" height="21" fill="#f61e10"/><rect x="1749" y="461.7" width="93.6" height="21" fill="#d21408"/><rect x="1842" y="461.7" width="93.6" height="21" fill="#9a0f0a"/><path d="M354 482.7V467.7" stroke="#000" stroke-width="1.3"/><path d="M633 482.7V467.7" stroke="#000" stroke-width="1.3"/><path d="M912 482.7V467.7" stroke="#000" stroke-width="1.3"/><path d="M1191 482.7V467.7" stroke="#000" stroke-width="1.3"/><path d="M1470 482.7V467.7" stroke="#000" stroke-width="1.3"/><path d="M1749 482.7V467.7" stroke="#000" stroke-width="1.3"/><rect x="75" y="461.7" width="1860" height="21" fill="none" stroke="#000" stroke-width="3.7"/>
<g class="cb"><text x="75" y="537.5" text-anchor="middle">1.00</text><text x="354" y="537.5" text-anchor="middle">1.75</text><text x="633" y="537.5" text-anchor="middle">2.50</text><text x="912" y="537.5" text-anchor="middle">3.25</text><text x="1191" y="537.5" text-anchor="middle">4.00</text><text x="1470" y="537.5" text-anchor="middle">4.75</text><text x="1749" y="537.5" text-anchor="middle">5.50</text></g>
<text class="tt" x="50.2" y="55" style="font-size:65px" textLength="84.6" lengthAdjust="spacingAndGlyphs">(b)</text>
<text class="tt" x="423" y="46.5" textLength="260" lengthAdjust="spacingAndGlyphs">ANN mean</text>
<text class="em" x="698.2" y="46.5" style="font-size:59px" textLength="38.5" lengthAdjust="spacingAndGlyphs">E</text>
<text class="em" x="733.5" y="47" style="font-size:32px">q</text>
<text class="tt" x="773.5" y="46.5" textLength="801" lengthAdjust="spacingAndGlyphs">assuming lognormal PDF (Eq. 14)</text>
</g>
<g transform="translate(0,1193)">
<g clip-path="url(#mc)">
<rect x="75.5" y="78.5" width="1860" height="305.8" fill="#1d1282"/>
<g transform="translate(76.2 79.2) scale(1.5)" stroke-width="1" stroke-linejoin="round">
<path fill="#1c0a80" stroke="#1c0a80" fill-rule="evenodd" d="M674 160l1-1 3 0 1 1-1 1-3 0zM660 151l3 2 1-1 3 1 1-1 3 0 2 2 0 3 2 4-1 1 4 5 1 3-1 5-1 1-2-2 0 3-3 2-2 3-2-2-3 0-1 1-3-1-2-3-5-3-1-4-3-2 1-1 0-6 7-6 0-2zM0 0l0 203 1239 0 0-203-1041 0-1 1-2-1z"/>
<path fill="#1e1285" stroke="#1e1285" fill-rule="evenodd" d="M673 190l1-1 2 2-2 1zM394 181h0zM392 178l0 1zM387 173l-1 3 2-1zM381 167l3 1 0-1zM378 161l1-1 1 1-1 1zM376 160l1-1 1 2-1 1zM395 149l1-1 1 1-1 1zM390 148l1 3-3 4-2-3 0-2 2-2zM673 148l1-1 1 2-1 1zM655 148l2 0 1 2 2-2 3-1 2 1 1-2 2 0 4 5 4 1 1 2 3-1 2 2-2 1 0 2 2 2 0 3 1 1-1 2 2 2-2 6 1 1 0 5-2 2-2 0-2-3 2 3-1 1 1 2-1 1-3 0-3 4-5-3-2 0-4-4-2 1-1-1 1-1-2 0-4-3 0-3-3 0-4-2 2-3-1-10 3-1-2-3 5-4 0-2zM0 0l0 203 377 0 1-2 2 1 4 0 1-1-5-4 0-2-3-1 1-1 6 0 1 1 3-1-1-3 1-1-1 1-3-3 1 2-2 1-5-4 0-2-2-2 2-3 5-1-2-2 0-3-1-1-2 1-2-1 0-4 3-2 0-3 1-1-1-2 3-5 1 0 1 2 2-1 6 5 2-1 2 3 1-1 2 3 0 3-1 1-4 0-2 2-2 0 0 3 1 0 1-2 1 1 0-2 2-2 2 4 0 4 2 1-1 2 2 3 0 2-3 2 0 2-1 1-2-2-4 1 4 2-1 5 2-1 2 2-2 1 2 5 842 0 0-203-1023 0 0 2-4 5-2-2 0 3-2 2 1 2 3 2-2 3-6-1-2-2 0-1 2-1 0-2 2-1 0-2-2-1 0 3-1 1-6 0-4-3-1-4-2-1 1-2z"/>
<path fill="#1c2f91" stroke="#1c2f91" fill-rule="evenodd" d="M372 199h0zM376 198l-1 0-1 2 2 0zM672 196l0 1zM664 196l1-1 2 1-1 1zM676 194h0zM657 189l1-1 2 1-1 1zM373 184l0 1zM370 158l1-1 1 1-1 1zM682 149l1-1 1 2-1 1zM676 139l2 2-1 1 1 4 2 1-1 2 1 0 1 2 3 0 3 2-2 3 0 4 1-2 2 2 1 8-3 2 0 5-1 1 2 3-3 5 1 4-3 1-1-1 1-1-2 0 1 1-1 3 1 2-4 3-3 5-7-5 1-1-1-3-1 1-3-2-2 1-1-3 2-1-1-1-5 1-2-5-2-2 0-2-3-2-3 0-2-2 0-6-2-1 0-3 2-2 0-3 1-1-1-1 1-1-1-3 3-2 2 0 5-6 4-2 2 0 3 2 3-3 5 1 0-1zM193 17l1 0zM186 16l1-1 1 1-1 1zM189 14h0zM183 8l1-1 1 1-1 1zM224 1l1-1 1 1-1 1zM0 0l0 203 369 0 1-4-1 0-1-2 1-2 2-1-1-2 4-2 1 2 1 0 0-1-1 0-2-3-2 0-2 2-3 0-2-2 5-6 2 1-3-7 1-1-1-3-1 0-3-4 2-2 5 0 0-5 2-7 3-2 4 1 2-2 0-3-1-1 3-3 4-1-1-2 1-1 4 0 4 4 1-1 3 0 5 6-2 5 0 5-2 2 0 5 1 1-2 3 0 2 2 2 0 6 1 1-2 6 1 3-1 11 1 2 837 0 0-203-1017 0 1 2-3 3 2 1-3 2-2 0 4 4 0 6-3 2-1-2-2-1-3 2 0 3-1 1-7 1-1 1-6-1-3-4-1 2-2 0-2-2 1-3-4-3-1-3 1-1-1-3 2-1-2-5-3-1z"/>
<path fill="#2160a8" stroke="#2160a8" fill-rule="evenodd" d="M672 203h0zM358 180l1-1 1 1-1 1zM359 156l1-1 1 1-1 1zM352 140l1-1 1 1-1 1zM685 137l1-1 1 1-1 1zM679 138l2-3 2 2-2 2zM380 134l1-1 1 2-1 1zM679 133l2-1 1 2-2 1zM381 133l2-1 1 2-1 1zM360 126l1-1 1 1-1 1zM358 120l3-1 2 3-3 1zM823 53l0-2 2-1 1 2-2 2zM841 47l2-1 1 2-2 1zM556 40l1 1 0 3-3 1-1-1zM832 37l3 4 6-2 3 4-2 2-1-1 0 2-2 1 0 3-1 1-4-3-1 0-1 2-1-1 0-4 1-1 1 1 0-1-1 0-3-4zM825 37l2 3-1 2 3 5-2 2-2 0-2-3 2-2-4-2zM825 37l1-1 1 1-1 1zM843 34l1 2-2 1-1-1zM189 25l1-1 1 1-1 1zM222 21l-1 1zM177 17l1-1 2 1-1 1zM227 10l1-1 2 1-1 1zM0 0l0 203 365 0 0-1-2 0-1-2 3-1 0-3 1-1-3-2 0-2-2-2 0-2 2-2-2-2 1-1 3 0-5-4-1-3 1-2 1 1 2-1 0-1-1 1-3-1 3-4 0-3 3-2 0-2-2-2 4-6 1 2 1 0 0-2 2-2 0-3 1-1 5-1-1-1 1-3 2 2 2-1 4-6 4 0 4-3 1 0 2 3 3-2 2 2 0 2 1-1 2 2 3 0 1 1-1 1 1 2-1 4 1 1-2 2 0 3-1 1 1 1-1 2 2 5-1 3-2 1 0 3-1 1 2 3 0 7-1 1 1 16-1 1 0 4 264 0-1-3-1 1-2-2-3 1-1-1 0-4-1 3-3-2 0-5-5-4 0-3-2-2-4-1-2-3-4-3-1-3 1-5-1-1 1-1 0-5 4-6-1-1 4-3 0-2 2-2 1 1 0-2 2-2 1 2 1-1-1-1 1-2 3-1 4 2 2-5 1 1 6-1 5-3 9 7 2-1 1 1-1 2 1 0 3 4-1 3 1-1 1 2 2 1 0 4-2 4 2 3-3 9 0 9-3 4 1 1-1 2 0 3 1 1-1 3 1 4-1 1 1 3 552 0 0-203-1006 0-3 2-1-2 0 3 2 2 0 2-2 2-2 0-1 2-1-1-1 2 5 3-1 1 1 3-2 1-3 4-7-1-1 2-2 0-6 5-2 0-2-3-2 1-1 2-7 0-3-3 1-2-1-1-3 0-8-3 1-2 3 0 0-1-3-2 1-2-2-2 0-6-1-1 2-2-1-3z"/>
<path fill="#2496c4" stroke="#2496c4" fill-rule="evenodd" d="M350 194l2-1 2 2-2 2zM647 184l-1 0 0 1zM631 167l1-1 3 2-3 1zM363 154l1 0zM330 149l1-1 2 1-1 1zM334 147l2-1 1 2 2 1-2 2-2 0-1-1zM371 142l0 1 2 1zM338 139l2 2 0 3-2 1-1 2-3-1-1-3 2-2 1 2 1 0-1-3zM359 139l1 3-2 1 0 2 3 1 1-2zM350 138l-2 0 1 2zM366 136l0 1 1 0zM360 134l-1 1 1 0zM376 133l-2 2 2 1 1-1zM391 132l1 0zM363 130l-1-1-3 1 1 2zM333 128l3 2 0 4-1 1-2 0-3-4 0-1zM337 127l1 2-2 1-1-1zM338 127l1-1 1 1-1 1zM356 126l1 1zM351 126h0zM371 125l-1 2 2 0zM333 122l3 2-2 3-3-3zM375 122h0zM349 121h0zM347 121l-1 2 1 0zM362 114l1-1 1 1-1 1zM361 113l1-1 1 1-1 1zM356 113h0zM331 111l1 1-3 3-1-2zM811 52l1-1 2 1-1 1zM846 44h0zM560 40l0 2 2-1zM542 39l3 7-6 3-2-2 1-1-1-3zM836 36l2 1zM854 34l1-1 2 2-2 1zM568 41l-3 2-1-1 0 3-3 3-1 0-1-2-4 3-3-1-2 1-2 3-3-1 0-3 3-3-1 0-4-5 1-5 2-2 3 0 1 1 3-2 5 2 2-1 2 1zM175 28l1 2-2 1-1-1zM857 39l-2 3-1-1-3 1 0 5-1 1-3-1-2 3-4 1 1 2-2 2-3 0-1 2-2-3-5 0-4 2-5 0-1-1 0-4-3 0-3-3-1 0 0 3-1 1-3-3 0-4-1-1 5-2 2-2 0-3 4-4 3 2-2 1-1 2 2-2 3 0 4-6 11 0 2 1 0-2 3-2 3 1-1 1 2 4-1 2 5-3 1 3-2 2 3 1 1-3zM230 26l1-1 1 1-1 1zM170 18l1-1 1 1-1 1zM238 4l-1 1 1 1zM232 5l2 1 0-2zM0 0l0 203 361 0-4-8 1-3-1-3 1-1-1-1 1-1-2-1 1-1-4-6 3-1 0-5 1-2-1-3-1 3-2 1-3-1 1-2-1-4 3-3-1 0-1-2-2 1-2-1 3-4 1 0 1 2 1 0 1-2-9-3 4-3-1-3-3 0-2 2-2-1 1-1-1 1-1-2 3-1 1-2-4-7 0-2-3-1 0-1 3-2 1-2-1-1 3-2 1-2-4-5-1-3 5-4 1 1 0 2-2 1 1 2 3 0 1-1-1-2 2-2 3 2-1 1 1 0 1 2 1-1 1 1-2-4 4-3 2 0 2 2-1 3-2 2-1-1 0 1 3-1 6 3-1 1 0 4 3-2 0-3 1-1 1 2 8 1 5 3 0 2 2 3 2-2 4 3 4-2 4 5 3 2 5 1 1 2 4 3-1 2 1 1 1 8-3 1-1 2 0 9-1 1 1 4-2 1 1 2-1 1 2 5-1 1 1 5-2 1-1 2 0 4 2 5-1 6 1 0 1 2 247 0 1-3-7-5 0-3 3-1 0-1-3-1 0 1-2 1-2-4-2-1 0-2-3-3-1 1-3-2-2 1-1-1 1-2-1-5 2-2-2-4 0-3 2-2-1-4 3-2-1-3 1-1 2 1 0-3 2-2 1-7 3-3 2 0-3-2 3-2 4 0 2-2 2 2 0 2 1 0 0-3-2-1 0-3 5-3 3 1-2 2 1-1 2 3-1 2 5 0-2-4 1-1 3 0 1 2 3-2 4 2 3 0 3 2 3 0 4 8-1 2 2 3 2 1-1 4 3 2 0 5-3 4 1 1-1 3 2 4-4 6 1 2-1 1 0 4-2 3 2 6 0 5-2 3 0 4 550 0 0-203-997 0 2 6-2 2 0 3-2 2-2-2 3 5-5 6-5-1-2 1-1 4-2 1-2 3-12 2-1 1-1-1-1 2-3 0-4 2-3-1 1-2-3 2-5-2-3 2-1-2 2-3-2 1-5 0-2-2-1 1-3 0-2-2 0-2-2-2 1-2 0-6-1 0-1-2 1-2 2-1 0-2-2-2 0-3 2-1 1-2 1 1 0-2z"/>
<path fill="#1ea8cb" stroke="#1ea8cb" fill-rule="evenodd" d="M352 199l1 1 0-1zM349 176h0zM625 175l1-1 1 1-1 1zM340 168l1-1 1 1-1 1zM628 161l1-1 1 1-1 1zM625 161l1-1 2 1-1 1zM321 144l3 0 1-1 3 3-3 1 1 2-2 1-1-2-3-1zM651 128l1 0zM642 127l1-1 2 1-1 1zM318 127l1-1 1 1-1 1zM319 126l1-1 1 1-1 1zM651 125h0zM658 121l-1 3 2-1zM325 119h0zM334 114l2 0zM329 109l1 0zM307 108l4 1 2 3-1 2 1 1-2 2-1-1 0-3-4-3zM371 107l1-1 2 1-1 1zM332 106h0zM373 103l3-1 2 1 1 2-3 2zM302 102l1 2 2 1-4 6-2-1-2-3 1-2zM305 100l1-1 2 1-1 1zM283 100l1-1 1 2-1 1zM304 97l1-1 1 1-1 1zM303 95l1 3-2 1-1-2zM193 94l0-2 2-1 1 2-2 2zM829 58h0zM528 51l1-1 2 1-1 1zM792 49l1-1 1 1-1 1zM804 47l1 1 0 3 1 0 0-2zM526 45l1-1 1 2-1 1zM183 43l1-1 1 1-1 1zM184 42l1-1 1 1-1 1zM534 40l2 0zM185 38h0zM793 37l1-1 2 1-1 1zM806 36h0zM768 36l1-1 2 3-2 1zM167 33l1-1 1 2-1 1zM862 31l2 2-2 3-1-1 0-3zM810 31l0 1zM168 30l1-1 1 1-1 1zM575 42l-1 5-2 3-1-1-1 3-4 0-1 1-3-1-2 2-1-1-5 3-5-3-3 2-1-1-6 0-3-4-3 0-5-4 0-2 3-2 3-5 4-2 1-2 1 2 1-2-2-1 0-3 1-1 2 0 3 3 2 0-1-1 1-2 5 0 1 1 4-3 6 2 1 1-1 3 1 1 3 0 2 3 2 1-2 1 1 1 2-2zM250 27l1-1 1 1-1 1zM797 34l2-2 4 3 2-1-2-2 2-2 5-2 0-3-1-1 1-1 3 2 2-1 1 3 2 1 4-2 4 0 0-1 3-2 4 3-1-2 1-2 2 1 2-1 4 3 4 0 6-3 1 1-1 2 2 2 1-1 3 5 3 2 0 2 4 2-2 3 1-1 1 1 1-1 1 1 4-1 2 5-2 2-2 0-2-2-6-1 0 3-1 1 2 2-1 1 1 3-1 1-5-1-7 3-2-1 1 4-3 1-3 4-3-2 2-2-3 0-4 2-3 0-1-2-3 0-3 2-3-2-7 1-3-2-1-4-3-1-2 2-2-1-1-3 2-2-3-2-1-6 3-2 1 3 1 0 3-4-1-1-4 1-2-1zM815 20l1 2-2 1-1-1zM851 20l1-1 1 2-1 1zM249 18l1-1 1 2-1 1zM248 17l1-1 1 1-1 1zM169 16h0zM160 15l1-1 1 1-1 1zM245 11h0zM172 0h0zM0 0l0 203 348 0 2-3 0-2-2-4-3-2 3-1 0-2 5-3-4-3 1-3-2-1-1 2-2-4 0-4-1-1 3-2 1-3-8-7 2-4-1-1-3 0-2-2-4 1-5-3 0-4 1-2 3-2 0-2-3 1-1-1 0-4 1-1-2-1 1-2-1-3-4 1-1-2 3-3 3 2 2-1-2-4-2 1-5 0-5-4 1-1 3 0-1-4 2-2 0-3-4 0-1-1 1-2-2-2 0-4-1-1 1-1 4 0 1 1 0 3 7 0 1 1 4-2 3 1 1 3-3 2 1 1 6-1 2-3 2 1 3-4 1 0 1 2 8-2 2 1 2 3 5-2 1 1 3 0 2 2-1 3 3 0 3 4-1 3 2-2 2 0 1 3 2 0 3-2 1 1 0 4 4 3 1 2 3-2 4 0 1 2 2-1 1 3 5 3 5 6 2-1 2 2 0 2-2 2 2 3 0 4-4 5 1 4-2 2 1 2-1 2 1 10-2 4 0 3 2 4-4 3 0 2 3 5 2 1 0 2-3 2 2 1 0 2 239 0 1-1-2-2 0-2-3-2 0-3-2-1-1 1-4-5 1-2-4 0 1 2-2 1-1-2-2 0-3-2 1-2-2-2 0-2 2-1 0-1-3 0-1-1 2-4 0-3-4-2 2-3 0-2 1-1 1 2 1-3 2-1-1-3-3-2 0-2 5-2 2 1 2-2-3-1-2-3 4-2 3 0 0-3 4-4-1-3 2-1-1-2 4-3 1 1 1-1-1-2 2-2-1-1 7-2-1-1 1-2 4 3 1-1 3 1 6-1 3 1 3 4 2 0 4 3 2-1 2 1 5 6-1 1 1 0 3 5 3 2-3 1 4 5 0 2 2 1 0 3-2 1 3 2-3 5-1-1 1 8-4 8-1 11-1 1 0 2 2 1-1 1 0 6-2 5 548 0 0-203-991 0 0 4 1 1 3 0 1 2 2 1-1 5-3 1-1-1 1-1-1-2-1 1 2 1-1 1 1 1-1 2-1-1-1 2-2-2-2 0 3 3-5 6-2 0-1-2-1 0 0 3 2 1 0 2-5 4-5-1-1 1 1 2-2 2-2-1-6 3-7-1-2 2-5-3-2 2-6 0-1 1 1 1-1 2-3-1-2-4-1 1-2-1-1 2-3 2-2-3-4 1-4-6 1 3-1 1-2 0-2-2 1-7-2 0-2-2 2-3-5-4 2-3-2-3 1-1 4 0-1-3 1-1-2-2 1-2-1-3 2-1z"/>
<path fill="#2aaab8" stroke="#2aaab8" fill-rule="evenodd" d="M345 201l0 2 1 0 0-2zM343 196l-1 1 2 1zM631 192l2 2-3 2-1-2zM331 172l3 2-1 3-2 0-2-2zM326 172l3-1 1 2-3 1zM1023 171l1-1 2 1-1 1zM622 166l-1 1zM337 166h0zM1023 165l1-1 1 1-1 1zM1026 164l1-1 2 1 2 3-2 1zM1024 164l1-1 1 1-1 1zM611 159l1 1-1 7-2 1-3-4-1 1-2-3 1-1 3 1zM1023 157l1-1 1 1-1 1zM614 155l1-1 2 1 1 2-1 1-2-1zM318 154l1 3-3 2-1-2zM1088 151l1-1 1 1-1 1zM611 151l3-1 1 2-2 1zM610 150l1-1 1 1-1 1zM317 148l-3 3-3-1 3-3zM614 146l1 1-1 3-3-2zM607 144l1-1 1 1-1 1zM307 139l2-1 1 2-1 1zM321 138h0zM317 137l0-2-2 1zM304 135l1-1 3 0 1 1-1 1-3 0zM640 134l-2 1 0 1 1 0zM614 133l1-1 1 1-1 1zM609 133l1-1 1 1-1 1zM307 133l1-2 2 1-2 2zM636 128l1 2 1-1zM640 121l1-1 1 1-1 1zM676 117l1-1 1 1-1 1zM401 117l1-1 1 1-1 1zM307 117l1 0zM678 116l1-1 1 1-1 1zM611 118l1-3 3 0 1 1-3 3zM291 116l1-1 1 2-1 1zM395 114l1-1 1 1-1 1zM289 113l1-1 1 1-1 1zM679 112l1-1 2 3-1 1zM285 108h0zM254 108l1-1 2 1-1 1zM269 107l1-1 1 1-1 1zM281 106h0zM253 105l1-1 1 1-1 1zM307 105l2 1 0-2zM244 104l4-3 3 2-2 3zM342 101l1 1zM337 99l1 3-1 1 2 0 1-2zM321 99h0zM370 97l1-1 1 1-1 1zM237 97h0zM214 97l-2 2-3-1 1 1 3 0zM137 97l3-1 1 3-1 1zM145 96l1-2 3 1-2 2zM271 94l1-1 1 1-1 1zM136 92l1 1 0 3-2 2-2-3 1-2zM123 93l1-1 2 1-1 1zM104 93l1-1 1 1-1 1zM238 92l1-1 2 2-2 1zM157 92l2-1 1 3-2 1zM146 93l-1 2-3 1-2-1 1-1-1-1 2-2zM315 91l1-1 1 1-1 1zM253 91h0zM273 90l1-1 1 1-1 1zM161 91l1-2 3 1-3 2zM273 88l1 1-4 3-1-2 2-2zM164 91l2-3 2 1-1 3zM157 89l1-1 2 1-1 1zM152 88l4 7 0 3 2 1-1 3-6-5 1-4-2-1-1-2zM247 92l4-3 3 0 3-2 4 3 8 4 2 0 1 2-2 2 1 1-2 6 1 1-2 1-1-3-1 0-2-3-3 0-3 3-2-6-1 0-1 2-3-1-1 2-3-1-2-4 2-2 2 0-1 0zM307 87l1-1 1 1-1 1zM204 97l2-3 3-2 1 2 1-1 2 2 1-1 4 0 2-5-1-2 1-2 3 0 2 2-1 3 4 0 5 2 1-2 0-3 2-2 3 0 1 1 0 3-2 2-2 0 3 4 4 0 1 1-3 1 3 4-1 1 0 3-5 3-1-1 1-4-4-2 0-2-2-3-1 0 1 3-2 4-7 1-4-3-2 0-6 4zM205 84l2 2-1 2-3-1zM168 94l2-3-1-2 2-2 3 1 4-2 2 3-1 2-7 0 0 3 3 4 1 0 0-3-1-1 7-5 0-3 2-2 2 1 1-1 3 5 1-3 6 2 6-1 1 1-2 3 4-3 3 4-3 2-2-1-1 4-3 3-4 0-2-1-1-2-3-1 1 3-2 2-2-2 0-2-2-1-1 2 1 4-1 1-1-1-10 1-4-4 0-4zM210 83l1 0 4 5 0 3-2 2-1 0-2-3 2-1-1-2-1 1-3-1zM168 84l1-1 1 1-1 1zM138 83l2 3-2 1 0 3-2 1-2-2 0-2zM826 72l1-1 1 1-1 1zM820 71l1-1 1 1-1 1zM836 70l1-1 1 1-1 1zM774 65l1-1 1 1-1 1zM827 65l0-2-2 1zM755 62l2-2 2 1-1 2zM874 61l1-3 2 2-2 2zM858 58l0 1 1 0zM923 57l1-1 1 2-1 1zM881 57l1-1 1 1-1 1zM550 57h0zM542 57l1 2 0-2zM532 55h0zM184 55l1-1 1 1-1 1zM790 54l-4 2-1-2-1 0 0 2-3 5 1 2 2-1 1-2-1-2 3-3zM928 53l1-1 1 1-1 1zM877 54l2-2 2 1 1 2-1 1zM927 52l1-1 1 1-1 1zM907 52l1-1 1 1-1 1zM791 52h0zM785 52l1 0zM741 52l1-1 1 1-1 1zM722 51l3-1 5 2-1 1-4 0zM186 50l2 2-1 2-3-1zM912 50l1-1 2 1-1 1zM737 49l1-1 1 1-1 1zM517 49l1-1 1 1-1 1zM166 48l1 1-1 3-3 2-1-1 1-2-1-2 1-1zM771 48l1 1-1 3 3 0 1-2zM204 49l-1-1-1 1zM149 47l1-1 1 2-1 1zM769 47l-2-1-2 1 0 1 3 0zM889 44l1-1 2 1-1 1zM206 44h0zM145 43l1 2-2 2-1-2zM191 42h0zM146 42l1-1 1 1-1 1zM760 40l-2 2-2 0-1 2 3 0zM529 40h0zM150 40l1-1 3 0 1 2-1 1-3 0zM728 39l0 3-2 2-2 0-3-2 2-3 3 0 1-1zM526 39l-2 0 1 2zM145 38l1-1 2 1-1 1zM736 37l1-1 1 1-1 1zM731 37l1-1 3 1-1 1zM160 37l2 4 1 0 0-3zM134 36l1-1 1 1-1 1zM762 34l1 2 3-1zM867 32h0zM535 31l-3 2 2 0zM865 30l1 0zM530 30l1-1 1 1-1 1zM247 30h0zM889 29l2-1 2 3-3 1zM1021 28l3-2 2 0 2 2-2 2-3 0zM528 27l1-1 1 2-1 1zM254 27l1-1 2 1-1 1zM165 27h0zM247 26h0zM789 25l1-1 1 1-1 1zM678 24l1-1 1 1-1 1zM867 24l3 0 0-1zM768 23l0 4 2 1 0 3-1 1-4-2-1-3 0 4 7 2 0-5-3-2zM580 36l0 2-2 2 0 1 2 1 0 2-4 3 1 3-1 2-3 2 0 4-2 2-6 0-1-1-6 3-2-2-5 0-1 1-1-2-3 0 1 3-4 2-4 0-1-1 1-2-4 1-1-2-3 1-1 2-1-3 2-1-1 0-1-2-6 0-1-1 0-6 1-2-2-1-2 2-5-2 1-2 3 1-1-1 2-4-1-2 5-3 2-4 1 1 1-2 2 2 6-5 0-3 2-2 1 0 1 2 2-1 1 1 6 0 1-1 6 1 2-3 2 0 2 2 8 1 1 1 1 8 2 0 2-2zM1021 21l1 2-2 1-1-1zM740 22l2-1 1 3-1 1zM732 21l1 2 1-1 1 1 0 2-2 2-2-3zM798 21h0zM787 20l1 1-1 2-3 2-2-3 3-2zM739 21l1-1 1 1-1 1zM862 20l2 1 0-1zM829 19l-1 1 1 0zM769 18l3-1 1 3-1 1zM745 17l1 2-2 1-1-1zM726 18l1-1 6 3-2 3-2 1-2-2zM262 17l1 1-1 3-1-1zM148 17l2 1 0 3-1 1-3-2zM725 16l1-1 2 1-1 1zM849 15l0 1 1 0 0-1zM139 15l1-1 2 1-1 1zM1033 12l1 3-3 1-1-2zM262 12l2-1 1 2-2 1zM826 10l1 1-3 4-1-3zM793 11l1-1 1 1-1 1zM682 11l1-1 2 1-1 1zM866 10l3-1 1 2-1 1zM854 11l1-2 2 1-2 2zM826 10l1-1 1 1-1 1zM265 10l1-1 1 1-1 1zM757 8l1 2-2 1-1-1zM732 32l2-1 1-2 2 1 2-2 5 0 1-2 1 1 1-2 2 0 2 2-2 1 0 2 2 2 0 3 3 1 0 3 5-1-1-1 2-6-1 1 0 3-4 2-5-6 1-1-1-1 2-3 0-3-3-2 1-3-4-3 1-2-1-4 1-1 5 0 1 1-2 3 2 3 0 3-1 1 1 2 1-1 3 1-1-5 3-3 3 0-1-2 3-2 3 3 0 6-2 3-1 0-1-2-1 0-1 2-2-1 2 5-3 1 0 1 2 1 1-4 2-1 4-5 2 0 2 2 0 3 1 1 2-1 3 1 2-2 2 2-1 2-3 2 2 3-1 1-1-1-2 4 2 2 0 3 4 2 3-1 1 1 0 3 1 1-1 4 1 0 0-1 2-1-1-2 2-1-3-4 1-1 3 1 0-3-1 0-1-2 3-2-6-2-2-3 2-3 2 3 2-4 1 2 3-1 1-2-2 1-1-1 0-5-5-5 2-3 2 2 3-1 4 4-4 3 0 1 3 0 0-3 2-3 3 2 1 3-3 4 1 0 1 2-1-3 2-2 1 1 1-2 2 1 1-1-1-3 2-2 2 0 2 3 2-2 1 1 1-1 2 1 2-1 4 3 3-2 3 0 1-1 0-3 2-1 3 4 4 0 1 1 1-1 3 2 1-3-4-2 3-4 2 3 2-2 3 0 1 2-2 1 0 1 3 2 0 2 9 0 3 1 1-3 2 1 1 2 1-1 1 1-1 3 2 1-1 2 1-1 3 4 1-1 1 1-1 3-3 0-1-2-1 2 2 2-1 2 2-2 2 0 1 1-1 2 3 1-1 2 1 5-1 1-4 0 5 1 3 4-2 3-1-2-1 1-2-1 0 1-2 1-2-3 0 2 2 1 0 2-3 2-2 3-1-1-3 0 2 6-3 1-2-2-2 0-1 2-1-2-2-1 0 2-2 2 1 2-2 2-2-1 1-4-5 2-6 0-2 2-2-3-1 2-1-1-1 1 1 1-1 1-2 0-2-2 1-1-3 1-4-1-1 1-1-1-5 0-2-2-2 2-2 0-1-2-1 0-4 5-1-1-3 1-2-2 0-2 2-2-4 0-1 1-3-1-1 1-2-3-5 4-3-1-1 2-2-1-2 1-2-3 3-6-1-2-1 3-4 1-1-3-5 0-2-2-1 1-6-1-4-5-4-2 0-2 2-2 0-3-1-1-5 7-2 0-2-5-1 2-3-3 1-1-2-2 2-3 1 2 1 0 1-2 1 1 0-2-2 0-1 2-1-1-2 1zM861 8l2-1 1 3-1 1zM829 9l2-2 2 2-1 1zM742 8l1-1 2 2-2 1zM264 7l1 1-1 3-1-1zM859 6l1 2-2 1-1-1zM842 7l1-1 2 1-1 1zM812 7l2-1 2 3-2 1zM823 5l1-1 1 1-1 1zM687 5l1-1 2 1-1 1zM815 4l1-1 4 0 1 2-2 1zM735 4l1-1 1 1-1 1zM255 4l1 0zM806 1l1-1 2 2-2 1zM0 0l0 203 340 0 1-3-4-4 3-4 0-2-3 1-3-1 0-2 3-3-1-2 1-2-2-1 0-2 3-6-2-1-1 1-3-3-3-1-1-2 1-2-4-5 2-1-3 0-1 2-1-1 0-3-3-3 0-1 2-1-2 0-4-6 2-1-1-2-5-3 1-8 4-2-1-5-5 3-2-2 2-4-5-3-1-5-2 0-1 1 0 3-2 1-1-1 1-3-2 1-2-3 1-3-4 1-2 2-4 0-1 1-2-3 0-2-3 0-1-3-3-1 1-2 3 1 0-1-2 0-3-3 1-1 0-5 2-3 0-2 2-2 3 3 3 1 3 4 4 1-2-7-2 0-2-2 2-2 4 1 1 1-1 1 2 0 1 2 4 3 4-1 2 3 6-5 4 3 0 5 2-1 3-5 3 2-1 3 2 1-2 3 1 0 7-8 3 5 1-1 4 1-1-1 3-2 2 3 8 0 1-1 2 3 1-1-1-2 1-1 4 0 1 1 2-1 3 1 4 5 2-3 6 2 2-2 5 6-1 6 3-1 5 4 1-1 1 1 0 3-1 1 1 0 3 4 7 1 3 3-1 1 1 1 1-2 5 0 1-1 3 1 1 2-1 2-2 1 1 5 1 0 4 5 0 3-5 12-1 10-1 1 2 2-1 3 2 3-1 3-3 3 2 4 0 3-2 1 0 2 3 1 0 3 1 1 0 6-2 2 231 0-2-1 2-3-1-3-3 2-2 0-2-2 0-3-12-8 2-1-1-3-3 1-3-1-2-3 1-3-4-2 3-2 3 0 0-1-3 0-1-1 0-3 1-1-2-2 1-1-1-2 5-3 0-1-2-1 1-2-1-3 3-2 0-3-2-3 1-5-2-1-1-2 1-1 2 1 0-1 3-2 4 2 1 2-4 3 0 8 2-1-1-3 3-4 7 3 0-3-5-7 1-4 3-3 3 1 2-3 5 0 0-4 3-2 5 1 5-3 1-2 5 4 2-1 2 2 2-2 3 2 3 0 2 3 8-5 2 2 0 2 3 2 1 3-2 4 4 0 1-1 5 5-4 3 0 3 3-4 2 2 0 2 4 3-1 2-1-1-1 1 1 1-1 2 2 1 0 3-1 1 5 3 0 3-1 1-2-2-2 4 0 5-1 2-2 1 0 3-4 3 1 2 0 4-1 1 0 6 1 2-2 3 1 2-2 1 0 7 1 1 544 0 0-203-402 0 1 3-2 2-2-4-5 2-1-3-65 0 1 2 3 0 1 2-2 2-5-1-3 4-1-3 3-4 0-1-2-1-11 0-1 1-1-1-9 0-1 1-1-1-471 0-2 3-2-3-1 0 2 3 0 3-1 1 2 2-3 2-2 0 1 1 0 3 3 2-1 1 2 4-1 3 1 3-2 2-3 0-1-1 2-2 0-2-3 1 0 2-5 4 0 2-4 3-2-3 2-1-1-1 0-3-1 0 1 1-1 1 0 3 1 1 0 3-3 2-5 0-2-3 1 2-5 6-3 1-7-3-2-2-1 2-3 0-1 1 3 2-3 3-5 1-3 4-3-1-1-2-2 2-5-1-1-1 2-1 0-2 2-2-7 0 1 1 0 3 2 2-2 2-2-1-1-3-1 1-1-1 0-3-1 2-5-4-2 0 0 2-2 2-3-1-1 3-2-2 0-3-2-1-2 3-2 0-1-3-3 1 0 3-2 2-3-1 0-2 2-1 1-3-3-2 1-4-2-3 1-1 3 0 0-1-2-2-2 0-1 2-4 3-1-1 0-4-3 0-1 2-2-6 1-1 3 0 1-2 2 1-2 4 1-1 3 0-2-2 2-2 4 3 2 0-2-3 1-2-1 1-1-1 1-5 2-2 0-3 2-2 1 0 1 2 2-1-4-3 0-2 3-1 0-1-3 1-3-1 0-2 4-2z"/>
<path fill="#3aab98" stroke="#3aab98" fill-rule="evenodd" d="M327 199l1-1 1 1-1 1zM322 199l1-1 2 1 1 2-2 1zM993 197l1-1 2 1-1 1zM323 197l1-1 1 1-1 1zM619 197l1-2 2 1-2 2zM316 196l1-1 1 1-1 1zM601 192l2-3 4-1-1-1 1-2 5 1 3 2 2 3-3 1-3-4-2 3-5 3zM963 183l1-1 2 3-2 1zM600 185l0-2 2-1 1 2-2 2zM1012 182l1-1 1 2-1 1zM1070 178l1 1-1 1 0 4-2 1-1-3-1 1-2-1 3-3zM609 178l1 2-2 1-1-1zM1079 178l1-1 1 1-1 1zM1061 177l1 2-4 3-1-3zM1055 177l1-1 1 2-1 1zM1077 176l3-2 2 2-1 1-3 0zM1062 176l1-2 2 1-2 2zM1049 175l1-1 1 1-1 1zM1075 173l1-1 1 1-1 1zM1013 172l3 2-2 4-3-3zM965 173l1-1 2 1-1 1zM607 173h0zM309 173l2-1 1 2-1 1zM1076 172l1-1 2 1-1 1zM1002 172l2-1 1 2-2 1zM602 170h0zM320 170l1-1 1 1-1 1zM1039 169l0 2 1-1zM1034 167l0 2 1 0zM1065 166l-2 0 1 2zM987 165l1-1 2 1-1 1zM1075 162l1 1-1 3-1-1zM976 163l1-1 1 2-1 1zM1075 162l1-1 1 1-1 1zM1014 161l1-1 1 1-1 1zM317 161l0 1 1 0zM1091 160l1-1 1 1-1 1zM299 160l1-1 1 1-1 1zM991 158l1 2-1 2-2 1-1-2-2-1zM985 158l1-1 1 1-1 1zM983 158l1-1 1 1-1 1zM958 158l1-1 1 2-1 1zM300 158l1-1 1 1-1 1zM1002 157l1-1 1 1-1 1zM993 156l1 2-2 1-1-1zM608 156l0 1zM1008 154l5 6 0 3-2 1-4-3 0 2-2 2-3 0 1 2-2 2-2-4-1 1-2-1 0-3 3-3 0-1-2-1 1-1 3 0 1 3 2-1-1-2 3-2 1 1zM287 155l1-1 1 1-1 1zM1045 153l4 2 1 4-2 2-1-2-4 0-1-1zM987 153l1-1 1 2-1 1zM589 152l1 1-2 4-1-1 0-3zM1018 152h0zM999 152l1-1 1 1-1 1zM998 151l1-1 1 1-1 1zM711 150h0zM586 150l1-1 1 1-1 1zM1107 149l1-1 1 1-1 1zM1000 151l1-3 3 1-2 3zM282 150l3-2 3 1-1 3-3 0zM1065 148l-1 1zM1030 148l2-1 1 2-1 1zM1016 149l5-3 3 5 1-1 4 0 4 2 1-1 1 1 0 5-1 1-3-1-3 3 4 0 3 3 1 3 1-3 3-1-1-2 3-2 2 2 2 0 2 2 0 2 3 1 2 3 2 1 0 2-3 1-3 3-3-5-2-1 0-2-3 0 1 2-1 4 2 6-1 1-2-1-2 1-2-2 0-3-3 1-1-3-3 1-3 4-2-2-5 1-1-1 1-2-1-3 1-1-3-5 1-1 3 2 2-1-2-2 1-1 0-4-1 0-2 4-3-2zM1085 146l-2 0-1 2 2 0zM1049 147l-3 5-3-1-3 1-3-4 2-2 2 1 4-2 2 0zM709 146h0zM291 145l1 3-3 1-1-2zM1036 144l2 2-3 2-1-2zM974 145l3-1 2 3-3 1zM1106 143h0zM1037 143l1-1 1 1-1 1zM1019 142l1 2-2 1-1-1zM1089 142l-2 2zM979 142l1-1 2 1-1 1zM278 143l1-2 3 1-2 2zM1095 141l1 0zM1072 140l1 0zM711 139l1-1 2 2-2 1zM281 136l1 2-2 1-1-1zM1100 137l2 2 2 0 1-2-1-1-3 0zM571 136l1-1 1 1-1 1zM1104 134h0zM281 133l2-1 1 2-2 1zM274 133l3-1 1 2-2 1zM603 132l-1 0-1 2zM706 130l2 2-1 2-3-2zM303 131h0zM1082 128l1-1 6 1 4 3-3 1-4-2-2 3zM1081 127l1-1 1 1-1 1zM581 127l1-1 1 1-1 1zM576 127l1-1 3 1-1 1zM1108 129l-1 1 2 1 0 3 2 2 0 3-1 1-2-1 0 3 3 4-2 3-3-4-2 2-2-2-3 0 2 1 0 2-1 1-3 0-1 2-2 0-2 2 2 3-2 3-1-2-1 1-6-1-1 4-3 1-2-3 3-4 3-1-4-1-2 2-3 0-2-2 2-1-2-4 1-1 5 0 3-5 0-3-2-2 1 3-2 2-2 0-6 7-3 1 5 6-3 2-3-2 0 2 2-1 2 2 0 3-1 1 3 2 1 2-1 2-6 4-3 0-4-5-2 2-2-2 1-1-3-3 1-1 5 0 1 1 0-3 2-1 1-2-1-2-3-1-2 6-3 2-1-1 0-3 1-1-1-1 1-1-1-3 2-4 1 1 3 0-1-2 4-2 0-3-1-1 1-1 7-1-1-1 1-1-1-1 0-3 3-3 3 2 2-2 4-1 2 6 1-2 2 2 5-3 3 4 2 0 1-2-1-4 4-6 2-1 1 1-1 2zM295 125l0 2 2 0-1 0zM706 123l1-1 1 2-1 1zM698 123l0 2 2 0 0-1zM298 123l0 1zM419 122l1-1 1 1-1 1zM289 122l0 2 2 1 1-1-2 0zM265 121l2-1 1 2-1 1zM259 121l1-1 1 2-1 1zM621 120l-2 0-3 2 1 1 2-2 2 1zM288 120h0zM1082 119l1-1 4 1 4 4-2 4-1-3-1 1-5-1-1-1 2-1zM696 121l0-2-3 1zM419 119l1-1 2 1-1 1zM259 119l1-1 1 1-1 1zM239 118l1-1 1 1-1 1zM705 117l1-1 1 1-1 1zM575 117l1-1 1 1-1 1zM240 117l1-1 1 1-1 1zM405 115l0 1 1 0zM263 115l2-1 2 2 0 2-2 1zM695 114l-1 3 2-1zM647 114h0zM595 114l1-1 1 1-1 1zM266 114l1-1 1 1-1 1zM702 114l2-2 3 0 1 1-2 1-1 2zM416 112l2 0 2 2-3 3-3-3zM631 112l1 1 0 3-1 1 1 0 0-4zM608 112l-3 6 0 7 1 1 1-2 2 0 4 3 1-1-6-4 1-5-3-2 3-1 0-2zM207 110l1 2-3 2-1-2zM605 111l-6 2-3 0-1-1 2-2 3 0 1-1 2 0zM416 110l1-1 1 1-1 1zM617 108l2 4-1 1-3-2zM117 108l2-1 1 2-2 1zM12 108l1-1 1 1-1 1zM649 106l2 2-2 3-1-1 0-3zM233 107l2 1zM223 107h0zM645 105l1 2-2 1-1-1zM612 105l1 2-3 2-1-2zM672 105l1-1 1 1-1 1zM605 105l1-1 1 1-1 1zM92 105l1-1 1 1-1 1zM678 104l2-1 2 1 2 3-3 1zM192 104h0zM148 104l2 0zM59 104l1-1 1 1-1 1zM687 104l1-2 2 1-2 2zM62 103l1-1 3 1-1 1zM60 103l1-1 1 1-1 1zM677 102l1-1 1 1-1 1zM109 101l2 1 1 3-1 1-2 0-2-2zM433 100l1 0 2 3-2 5-2-1 1-2-2-2zM393 100l1-1 2 1-1 1zM389 100l1-1 1 1-1 1zM10 100l1-1 1 1-1 1zM629 100l1-2 3 1-3 2zM148 99l0 1zM687 98l2-1 1 3-2 1zM388 98l1-1 1 1-1 1zM166 98l1 0zM101 98l1-1 1 1-1 1zM47 98l1-1 1 1-1 1zM1096 97l2-1 2 2-2 1zM685 97l1-1 2 1-1 1zM127 97h0zM1079 96l1-1 1 1-1 1zM52 96l1-1 1 1-1 1zM49 96l1-1 1 1-1 1zM108 95h0zM1117 94l1-1 1 1-1 1zM346 94h0zM22 94l1-1 1 2-1 1zM454 92l1-1 2 2-2 1zM85 92l-2 0 1 2zM21 92l1-1 1 2-1 1zM78 97l-3 2 0 3-1 1-2-1 0-2-3-5-2 1-1 2-2 0 0 3-1 1-4 0-5-5 2-2 7-1-1-1 1-2 2 1 5-2zM61 90l1-1 1 2-1 1zM11 89l3 3-1 3-2 0-2-2 2-1-2-1zM53 91l0-2 2-1 1 2-2 2zM34 89l2-1 1 2-2 1zM767 86l1 1-1 3-1-1zM342 87l2-1 1 3-2 1zM15 86l2 1 3-1 2 3-3 6-2-1 1-4-4-2zM832 86l2-1 1 2-1 1zM115 86l1 3-2 1 0 2 3-1 2 2 0-4zM76 87l4 2-1-2-2-1zM54 86l1-1 5 1 2 3-1 1-2-1-2 1zM826 85l1-1 1 1-1 1zM357 84l2-1 1 3-2 1zM133 84h0zM9 84l3-1 2 3-2 1-2-1zM921 83l1-1 1 2-1 1zM90 83l-5 0 0 1-3 2 0 4 2-1 0-2 2-2 3 0zM147 82l-2 0 0 2 1 0zM1015 81l1-1 1 1-1 1zM1011 81l1-1 1 1-1 1zM909 80l1 3-2 2-1-3zM786 81l1-1 2 1-1 1zM255 81l1-1 1 1-1 1zM1026 80l1-1 1 1-1 1zM794 80l1-1 1 1-1 1zM457 79l2 5-1 3-2 2-2 0-1-2 1-2 2-1-2-3zM452 80l1-1 2 1-1 1zM175 80h0zM96 80l1-1 1 1-1 1zM780 81l1-3 3 1-2 3zM737 79l1-1 1 1-1 1zM78 80l2-2 2 1-1 2zM863 78l1-1 3 0 1 2-3 2zM814 78l0 1 1 0 0-1zM168 78h0zM1027 79l1-3 3 2-2 2zM849 77l2-1 2 2 2 0 1 2-1 1-4-1zM206 79l0-2 2-1 1 2-2 2zM1129 76l1-1 1 1-1 1zM1014 76l1-1 1 2-1 1zM987 76l1-1 1 2-1 1zM779 76l1-1 1 1-1 1zM1108 75l1-1 2 1-1 1zM940 75l1-1 1 1-1 1zM823 75l0 1 1 0 0-1zM984 72l1 1-4 3-1-1zM200 73l2-1 2 3-2 1zM1022 72l1-1 1 2-1 1zM946 71l3 2-3 2-2-2zM941 72l1-1 1 2-1 1zM874 72l1-1 1 1-1 1zM1019 71l1-1 2 1-1 1zM987 71l1-1 1 1-1 1zM904 71l2-1 1 2-2 1zM875 71l1-1 1 1-1 1zM843 71h0zM742 71h0zM983 70l1-1 4 3-2 2zM968 70l1-1 1 2-1 1zM876 70l1-1 1 1-1 1zM872 70l1-1 1 1-1 1zM787 69l-2 0-1 3 2 0zM752 70l2-1-2 0zM745 69l1-1 1 1-1 1zM737 70l2-1-2 0zM211 69l1-1 2 1-1 1zM1004 68l1-1 3 0 1 3-3 2zM993 68l1-1 1 1-1 1zM977 69l0-2 2-1 1 2-2 2zM746 67l1-1 1 1-1 1zM735 67h0zM717 67l1-1 1 1-1 1zM513 66l1-1 1 2-1 1zM201 66l1-1 1 1-1 1zM974 65l1-1 2 2-2 1zM898 65l2-1 1 2-2 1zM757 66l3-1zM941 64h0zM766 65l-1-1-2 3 2 0zM164 64l1-1 1 1-1 1zM716 63l2-1 1 3-1 1zM149 63l1-1 1 1-1 1zM957 61l2 1 2 4-1 3-3 0-4-2 0-2 2-1zM219 62l1-1 1 1-1 1zM149 62l-3 4-2-1-2 1-1-1 3-3 1 1 1-2zM142 62l1-1 1 1-1 1zM928 61l1 0zM884 61h0zM720 60l1 1-1 3-2-2zM765 60h0zM731 60h0zM150 60l1-1 1 1-1 1zM958 59l2-1 2 4-1 1zM917 59h0zM176 60l1 1 3 0 1-1 1 1-2 3 0 2 2 3 1 0-1-1 1-1 5 2-4-2 1-2-1-2 1-3-1 1-5-2zM930 58l-1 0 0 1zM712 59l2-3 3 1-2 1-1 2zM990 55l1 2-2 1-1-1zM977 56l1-1 1 1-1 1zM944 55l1 1-2 4 1 3-1 2-3 2-2-3 0-3-2-2 3-3 3 2 0-2zM736 56l-1 2 2 1-1 3 2 2 2-1 2 1 2 3-2 1 2 1 0 2 1 0 2 2 0 2 2 1 0-3-2-2 2-2-1-1 1-1-8-5 1-2-4 0-2-2 1-2zM732 56l2 0zM952 55l1-1 1 2-1 1zM752 55h0zM726 55h0zM137 56l1-2 4 0 1 1-4 2zM962 53l1 2 2 1-2 2-3-1 0-2zM950 54l1-1 1 1-1 1zM747 54l0 2 3 0 0-2zM592 54l2-1 2 3-2 2-2-2zM1006 52l1 1 0 3-2 2-3 0-1-1 1-2zM235 53l1-1 1 1-1 1zM232 53l2-1 1 2-2 1zM213 53h0zM141 53l1-1 1 1-1 1zM995 52l1-1 2 1-1 1zM961 52l1-1 1 1-1 1zM706 51l2 3 0 2-2 2-2-6zM513 52l-1 1 1 0zM989 50l2 2-2 1 1 2-2 2-2 0-1-2 2-1 0-3zM945 50l2 2 0 3-1 1-2-1 0-4zM943 50l1 2-2 3-2-2 1-2zM892 51l1 3-1 1-5 0-1 6 2 0 1-2 3 0 3-2zM699 50l1 3-2 1-1-2zM590 50l1 2-2 1-1-1zM587 51l1-1 1 1-1 1zM256 50l1-1 1 1-1 1zM237 50l3-1 1 2-2 1zM991 49l1-1 1 1-1 1zM960 49l1-1 1 1-1 1zM704 48l1 3-2 1-1-1zM217 49l0 1 3 0 0-1zM179 49l0 3 1-1zM595 47l3 0 1 1-2 4-2 0-2-2zM283 48l1-1 1 1-1 1zM120 47l1 3-3 2-1-3zM955 47l2-1 1 2-2 1zM285 46l1-1 2 1-1 1zM1008 45l-2 0 0 3zM918 45h0zM262 45l2-1 1 2-1 1zM258 44l1 2-2 1-1-1zM596 44l2-1 2 2-3 1zM583 44l-1 2 4 1-1 0-1-3zM997 43l1-1 1 2-1 1zM905 43l0 1zM719 46l-1 0-2-3-3 2 0 4 1-1 2 1 3-2zM502 41l1 3-2 1-1-1zM980 40l2-1 1 2-2 1zM909 40l-1 2 1 0zM279 39l1 0zM139 39l0 1 1 0 0-1zM122 38l2 0 2 2-2 2 0 4-1 1-2 0-3-4 0-3 1-1 1 1zM940 38l6-1 4 2 3-1 2 2-2 3-4-1 2 3-3 3 1-1 2 2-2 3-4-3 0-2-2-1 1-1-2-3-3-2zM612 37l1 3-2 1-1-1zM906 37l-1 1 1 0zM984 35l4 3 0 3-1 1-4-3 0-3zM977 36l1-1 1 2-1 1zM919 36l-3 4 1 1 3-2zM895 35h0zM590 35h0zM267 35h0zM887 34l-1 2 2 1zM273 34l1 0zM520 33l2 0zM263 34l2 1 0-2zM987 32l1-1 1 1-1 1zM903 32l1 3 1 0-1-3zM675 32l1-1 1 1-1 1zM137 32l3 5-1-5zM940 32l2-2 2 1-1 2zM936 31l1-1 2 1-1 1zM710 31l1-1 1 2-1 1zM623 33l0-2 2-1 1 2-2 2zM975 30l1-1 1 1-1 1zM952 29l1 2-2 3-2-2zM722 30l1 0zM685 30l0 1zM602 29l2 2 5 2 1 2 0 3-1 1-3 0-1-1-1-5-2 1-2-1 0-2zM298 30l1-1 1 2-1 1zM107 30l1-1 2 1-1 1zM665 29l1-1 1 1-1 1zM274 29l-2 0 1 2zM268 29h0zM132 29l0 1 1 0 0-1zM296 28l1-1 1 1-1 1zM293 28l1-1 1 2-1 1zM1044 28l-3 1 0 3-3 1-1-3 4-4zM587 27l1-1 1 1-1 1zM685 26l-1 1 1 0zM1041 25l1-1 1 1-1 1zM1018 25l-2 0 1 2zM700 25l1-1 1 1-1 1zM664 25l1-1 1 1-1 1zM961 23l3 2-2 2-3-2zM893 24l0 2zM715 24l-1 1zM689 24l0 1 1 0 0-1zM281 24l1-1 1 2-1 1zM963 23l1-1 1 1-1 1zM593 23l2-1 1 2-2 1zM579 23h0zM517 23l1-1 1 1-1 1zM282 23l1-1 1 1-1 1zM927 21l2 1 0 3-1 1-2-1 0-3zM720 22l0 1 2 0 0-1zM693 22l-1 0 0 1zM307 22l1-1 1 1-1 1zM1000 21l-1 2-2-1 1 3 3 0zM967 20l2 3-2 2-2-3zM903 21l1-1 1 1-1 1zM645 20l2 2-2 3-2-3zM637 21l1-1 2 1-1 1zM611 21l1-1 1 1-1 1zM305 21l1-1 1 1-1 1zM299 21l1-1 3 1-1 1zM1043 19l1 2-2 2-1-2zM971 19l1-1 1 1-1 1zM734 19h0zM719 19l0 1zM566 19l1-1 1 2-1 1zM550 19l1-1 1 1-1 1zM140 19h0zM778 18l0 1 1 0zM711 18l0 1 1 0 0-1zM663 18l-1 0 0 2zM588 18l1 0zM282 18h0zM271 18l1-1 1 1-1 1zM988 17l1-1 1 1-1 1zM573 17l2-1 1 2-1 1zM570 17l1-1 1 2-1 1zM111 17l1-1 3 1-1 1zM101 17l1-1 2 3-2 1zM993 16l1-1 1 1-1 1zM898 15l2 1-1 1 3 3-2 2-5-2zM883 16h0zM701 16l0 1zM681 16l-2 2 1 2 2-3zM648 16l2-1 1 3-2 1zM972 15l1-1 1 2-1 1zM734 15h0zM603 40l-1 3-2-2-1 1-2-4-2 0 0 3 1 1-1 3-5 2-3 4-2-1 0 3 3-1 1 2-3 3-1-2-1 2 1 2-1 1-2 0-1-3 0 2-3 3-1-1-4 0 0 1-3 2-1-1-3 1-2-1-1 2-3-1 1 1-1 1-4 0-1-1-2 1-1 2-1-1-6 1-1-1-7 0-1-1-1 1-3-1-2 2-3-1-3-5-2 1 1 1-2 1-3-3 0-3-3-3-2 3-3 0-1-2-5-4 1-2 3-2 0-2-3-4 1-1 4 0 1 1 1-2-2-4-3 0-2-2 0-3 1-1 2 0 3-2 2 3 0-2 1-1 3 0 3-5 5 1 2-3 4 0 1-1 2 1 9-4 1 1-1 2 1-1 3 1 2-1 1 1 4-2 2 1 6-1 3 2 1-1 2 1 0-1 2-1 2 2 1-1 3 0 0-1 5-4 2 1 1-2 1 2 6 0 2-1 3 3-2 2 0 2-3 2-5-1-1 3 3 3-1 1 2-1 5 0 3 2 0 3 4 0 1 1-2 3zM571 16l1-2 2 1-2 2zM1040 14l-1 2zM891 13l1 1-3 2-1-1zM698 14l-3 1zM662 14l1 2 2-1 0-1-1 1zM300 14l1-1 1 2-1 1zM1002 13l1 1 0 4 5 0 1-1 2 1 2-1-1-4-3 0-1 1zM738 13l0 1zM900 12l1-1 1 1-1 1zM897 12l1-1 1 1-1 1zM894 12l1-1 1 2-1 1zM724 12h0zM700 12l0 1 2 0 0-1zM689 13l-2-1-1 3 2 0zM120 14l3-3 1 1 2-1 2 1-4 3-3 0zM916 10l2 1-1 3-3-2zM820 11h0zM814 11h0zM675 11l-1 0-2 4 2 1 1-1-1-1zM300 11l1-1 1 2-1 1zM136 11l-1 0-2 3 1 0zM1002 10h0zM993 10l1-1 1 1-1 1zM988 10h0zM900 10l1-1 1 1-1 1zM1021 9l1 0zM298 9l1-1 1 1-1 1zM275 9l-2 0 1 2zM113 9l2-1 1 3-1 1zM299 8l1-1 1 1-1 1zM1035 7l1 1-1 2 3 2 0-4zM1012 7l-2 2 1 0zM982 7h0zM974 6l2 3-2 4-2 2-4 1-1 3-2-2 4-5 0-3zM1016 6l-1 1 1 0 2 3 0 7 1 0-1-3 2-3-1-3zM913 5l1 1-1 3-2-2zM796 6l0 1zM778 6l1 2-2 5 2 0 1-2 2-1-2-1 1-2zM706 6l1 3-2 2 2 1 1-1 1 2 3-1 1 2 3 0 1-1-1-1 0-4-3 1zM644 6l1-1 1 1-1 1zM640 6l1-1 1 1-1 1zM147 6l1-1 1 1-1 1zM1057 5l1-1 1 1-1 1zM973 5l1-1 1 1-1 1zM925 5l1-1 1 2-1 1zM1066 4l2-1 1 2-1 1zM922 3l1 0 3 4-1 2-5-3zM876 4l1 0zM695 4l-1 0 0 1zM301 3l2 1 0 3-1 1-2-1 0-3zM153 4h0zM917 3l1-1 1 1-1 1zM775 3l-2 0 1 3zM123 2l1 2-2 1-1-1zM117 2l3 2-2 6-1 0-3-4zM111 3l1-1 1 1-1 1zM891 2h0zM877 2h0zM869 2l-1 1 2 4 0-3 1-1zM698 3l3 1 0-1-2-1zM138 2h0zM105 2l1-1 1 2-1 1zM848 1l2 2-1 1 1-1 3 0 1 2 1-1-1-2-4 1-1-2zM712 1h0zM650 3l2-3 2 1-2 3zM102 1l1-1 1 1-1 1zM1011 0l0 1 9 2 2 2 2-2 3 2-2-3 1-2zM887 0l-1 0 0 1zM879 0l1 0zM802 0l1 1 1-1zM781 0l3 2 0-2zM773 1l-1-1-1 1zM698 0h0zM691 0l0 1 1 0 0-1zM671 0l3 1 0-1zM663 1l-1 6 3 1-1-2 1-3 1 0 2 3 8 1-1-2-3-1-3 1-3-2 2-3-4 0zM171 75l2 3 2 0 5-6 3 3-1 2 3-1 4 3-1 2 2-1-1-2 3-1 2 3 1-2 4 3-1 1 5-2 2 1 3-1 2 1 1-1 1 1-1-2 1-1 2 1 1 3 9-2 2-3 2-1 1 3 3 2 3 0-1-1 2-2 5 4 0-1 3-2 1 3 3 2 0-2 2-2 2 2-1 1 5 0 7-3 4 5 4-1 4-5 4 3 0 2 7-1 4-2 6 2-1-2 1-2 2 1 4 5 5-1 2-2 4 2-1 1 2 1 2-1 3 3 2-2 3 2 1-1 4 1 3-2 3 5 1-3 2-1 3 2-1 2 1 1 4 0 1-2 9 1 3-3 2 1 1 3 2 0-1-5 4-3 3 1 3 5 4-2 3 0 1 1-1 4 2 1 1 2 1-2 2 2-1 1 1 2 4 3-1 4 1-1 7 0 5 4 0 2 3 2 2 0-1-3 4-4 10-2 1 2-2 2-4 0-2 7-1 1-3 0 2 4 4-2 3 2 0 1-2 1 3 2 1 4 3-1 3 1-2 5 0 2 2 1 0 2-2 1 0 2 2 2-3 2 1 2-2 2 0 5-2 3-2 1 0 3 1 1-1 5 1 2-1 1 0 11-2 3 3 2-1 2 0 4 1 1-1 4 2 3-1 3 203 0-1-2 2-1 1-2 2 1-2 4 14 0-3-4 0 2-3 2-3-3-2-6-2-1-2 2-2 0-2-2 3-5 2-1 0-2-3-1-6-6 1 1-2 1-7-3 0 2-2 1-4-6-2 0-2 2-2-1 1-2-1-5 1-1 6 1-2-2 0-2-4-2-1-5 3-3-3-4-1 2-3 1-2-2 0-2 1-1 7-1 0-2 5-3 0-1-3-2 1 1-1 2-2-1-4 2-2-4 0-5 1-1 2 1-1-2-1 1-7-1-1-1 0-3 2-3 2 0 1-5 5-7 1 1 0 3 2 0 3 3 1-1-3-2 2-1-1-1 2-2 1 1 4-2-1-2 3-2 8 4 3 4 6 1 1-1-2-2 1-3 2 2 3-1 1-3 2 0 7-6 1 1 0 5-2 3 2 2 2 0 3-2 1-2 3 1 4-2 1 3 0-3-1-1 2-2 5 0 0-1 3-1 3-4 3 0 1 1-1 8 2 2 5 0 1-4 2-1 2 3 2 1 4-1 4 8 1 0-2-6 1-2 2-1 2 4 3 0 2 2 0 2 2 3 0 6 2 2-1 3 1 2-1 2 3-1 4 2 0 5 1 1-1 1 1 2 3 2 0 3-1 1 1 6-6 8-2 0 0 3-5 4 0 2-3 5 0 16 1 1-2 2 2 3-1 3 541 0 0-203-180 0-3 1 1 4-1 1-1-1-2 2-4-4-1 1-4-1-1-1 1-2-1 0-2 3-3 0 0 1-2 1 6-1 2 3 3-1 3 4-3 2-2 0-2 2 0 2-11 9-1-1 0 5 3 0 2 2-1 2-3-2-4 6-9 1-1-1 2-4-1 1-2-1-1-2-2 1-3-1-1 3 3 2 1-1 2 3-1 4 2 2 0 3-1 1-2 0-2-3 2 6-3 2-4-3-2 0-1 3-3-2 1-2-2 0-2-4 1-1 3 0 0-1-3-3-1 0 0 2-2 1 2 3-2 2-3 0-2-2 1-4-1-2-3-2 1-3 3 2 3-2 2 2 3-1 3 3 4-6 1-3-1-1-1 1-3-2-3 4-3-2-3-4-6 2 2 2-1 1-4 0-1-1 1-1-3 0-1-1 1-2-4-3 5-2 6 2 6-5-1-1 4-8 2-1 3-4 5-2 0-2-5 0-3 2-1 2-1-1 0-3-3 2 3 3-4 3-2-1 0 2-3 4-3 2-1 3-5-3 0-3 1-2-2-1 1-8-3 0-1-1-3 0-1 1 0 3 1 1-5 4-1 0-2-3 4-3-1-2-3 2-2-3-33 0-1 2-2 0-1-1 1-1-6 0 1 1-1 3-2-3-2-1-19 0-1 1-1-1-3 0 2 4 0 4-2 1 0 1 2 1-3 3-1-3-2 0-3-3-2 0 0 2 4 2 0 3 5 6 2 1 3 7 0-3 2-2 0-2 1-1 3 1 0 4-2 4 2-1 4 1 3 8 1 0-1-4 3-3 3 3 6-1 1-1-1-1 1-4 1-1 5 1 1-1-1-1 1-2 4 4 0 6-1 2-7 2 2 1 4-1 1 3 2 1-1 2 1 3-2 2-6-3 1-1 3 0 0-3-2 1-3-1 0 1 2 1-2 4 2 2 2-1 2 4 2 1 0 6 1 1-1 4 2 1-1 4-2 1-3-6-1 2-5 0 1 2-3 1-1-1 1-2-1 1-2-3-2-1 1 1-2 4 1 1-1 2-2 1-1-1 1-2-3-2 1-2-2 1-1-1-3 2-1-3-3-2 1-3-2 1-4 5-2 0-3-2 3 5-2 2-4-5-2 1-2-1-1 3-2 0-4-3-1 1-1-1-1 2-3 0 0 2-5 4-2-3 0 3-2 1 0 3-1 1-5-2 1-1-1-3 2-2-1-1-2 1-2 3-3 0-1-1-5 0-2 1-4 6-3 0-2-2 1-2-1 2-3 1-3-3-2 0-2 4-2 1-1-1-1 1 1 1-5 6-4-4-2-7-2 1-7 0-1 1-6-2-1 3-3 1-1-3 4-3 0-2-2 0-2 2-2-2 0 3-1 1-3 0-3-2-2 2-2-3 0-5-1 0-1 4 2 1-1 2 1 1-2 2-4-3 2-1-1-3-1 1-3-3-2 1-4 5-1-1-3 0 3 0 3 5-3 2-1-1-4 2-1-1-6 1-3-3-4-1-2-2-2 1-1 2-2-4 1-2-1 0-1-2-3 0 1 1-1 3-1 0-2-3 1 1-2 4-5 0-1-1 0-3 4-5 1 1 2-2 0-4-1 1-2-1 0 1-2 1-1-1 2-3-2-3-3 1-1-1 1-1-1-3-3 0-3-2-1-2-3 0-1-2-2 1-1-1 1-3-1-2-3-1 1-3 4 1 1 1-1 2 3-1 2-3 9-2-2-5-1 0 0 3-1 1-3-1 0-4 2-1 1-3-4 0-1 1-1-2-2 2 0 2-2 1-2-2 2-3-3 0-2-2 0-2-2-1-1-2-2 0-1-2-1 1 1 2 1-1 1 1-1 5 2 1 1-2 2 3-2 1-1 3-2 0 0 3-2 2-1-2-2 0-3-2 0 2 1 1 1-1 2 3-5 6-2 0-1-3 2-2 2 0 0-1-5-1-3 2-1-1 1-1 0-5-1-2-2 0-1 2-2-3 2-1-4 1-6-4 5-2-3 1-2-2-1 1 2 1-1 1-5 0-3-3 1-2-3-2 1-3-1 2-2 0-1-2-2 0-2-2 3-4 2 0 2-3 2 2 0 3 1 0-1-1 1-2-3-7-348 0-1 2-2 0-1-2-19 0-1 1-1-1-4 0 2 1-4 3 0 2-2 1 3-2 4 1 3 3 0 5 1 1-1 1 2 3 1-2 4 4 2 0 1 1-1 2 2 0 1 2-1 1-5-1-4-5-3 0-2-1 0 2-2 2-3-4-2 1-1-1-1-5-2 1-2 4-1 6 2 0 0-6 1-1 4 3 1 3 2-1 3 2 0 1-4 3 1 1 2 0 1-2 3-2 1 1-1 1 0 3 2 0 2-5 3-1 1 1-1 1 1 0 2 3 0 5-2 3 1 1-1 3-2-1 0-3-1 1-3-5-1 1 1 3-4 2-2 4-3-1-3 2-2-1-1 1-1-3-2-1-1 2-2-2 0-2-1 0-2 4-1 0-1-2-1 1-2-1-3 2 2 2 1 3-1 1-3 0-4-3 0-2 3-1 1-3-5 3 1 2-1 2-1 0-1-2-1 3 1 1-2 2-1 0-4-5-3 2-1 3-3 1-3-1-1-3 3-1-1-2 0 1-3 2 0 5-1 1-3 0-1-1-2 1 2 1-5 3-3 0-1-2-1 0-9 8-2-1 0-3-1-1-5-1-2-3-2 2-3 0-1 2 2 1 2-1 1 1 1-1 2 2-3 2-2-1 0 3-1 1 2 2 1 0 3-6 4 2 0 1-2 1 0 3 1 1-1 1-6 0-1 1-3-2-6 2-2-3-2 2-5 1zM274 0l-4 0 1 1-2 2 0 5 0-1 3-2-1-1 2-1-1-1zM140 0l0 2 2-1 2 2-1 1 0 3 2 1 1-3 1 2 4 2-1-6 2-1-1 0-1-2-1 1-1-1zM0 0l0 203 324 0 1-1 1 1 3 0-1-2 2-2 1 0 1 2 2-1-1-2-2 1-1-1 1-4-1 0-2 3-4-2 3-1 1-2-1-2-2 0-3-3 1-5-2-2-1-4 1-1 3 0 0-2-3-1 1-1-1-2 3-2 1-3-3 2 2 1-3 2-3-1-3 3-3-2-5 4-3-3 0-5 1-1 5 1-1-6-2-1-1 2-1-1-1-10-2 1-1 2 2 2-3 3-1 0-4-5 2-2 0-1-1 1-1-1 0-5 2-3 3-1-2 1-1-2-2 4-2-3-6-5 1-3 2 1 1 3 2 1 3 0 2-3-1-1-2 2-1-1 0-3-4-3-1 0-1 3-4 0-5 2-1-2 3-1 2-3 3 1-1-1 0-3-3-3 0-3-1-1-1 1-1-1-3 1-2-1-4-5-2 1-4-3-4 1 0 2 2 1-4 2 2 1-1 1-8 2-2-3 1-1 5 0 0-2-2-1-3 0-2 4-2-3 0-3-3 0-3 5-1-3-3-3-1 0-1 2-6-2-2 3-3 1-2-4 0-4-4 4-2-1-3 2-1-3-2 1-2-1-1 2-2-1-2 2-2-1-2-3-2 0-1-2-1 0 2 4-5 4-3-6 1-1-1-1-4 2-3-3-2 0 0 2-2 2-5-3 1 1-1 1-6-1-1-1 1-3-3 1-3 3-1-1-4 1-1-2-1 0-4 5-4-3-3 2-7-1-2-2 0-2-2-1-2 1-2-2 1-1-4 0-1 1-3-3 2 2-1 3 1 1-1 1-5 0-1-1 0-3 2-2 0-2-1 1-3-1-3 3-6-2-2-2-3 1-1-1 1-2-1 2-3 1-1-3-2-1 0 2 3 2-3 6-9-6-2 1-3-1 1-2-4-3 0-2-2-2 0-4 1-1 5 0 1 1 2-3 3 0 1-1 1 1 3-1 4 3 0-2 2-1 3 3-2 1 0 2-2 1-1 3 2 1 2-3 2 1 0-1-3-2 2-2 0-2 3-2 1-2 4 3-2 4 4 0 1-2 3 0 1 1 2-1 4 3 3-5 5 2 0-1 4-3 6 0 2-1 3 2 5-6 4 2-1-1 0-3 2-1 2 2 0 2-3 4 1 2 1 0 1-3 2 2 5-2 1 2 1 0 6-10 2 1 2-1 1-2 3-1-2 1-2-1-3 0-1 1-1-1-2 1-2 5 1 4-2 1-3-5 0-2-4-2 2-2 3 1 2-2 3 0 2-3-1-2-1 1-3 0-1-2-2-1-2 3 1 2-2 1-1 4-1 1-1-2-3 0-2-4 3-2 1-3-3 0-1-2-4-3 1-2-4 0-1-1 0-2-2-1 1-3-2-1-1-2-1 0 1 1-3 4-6-2 2-2-4-4 0-2 3-2-1-2-6-2-1-1 0-3-3-3-2 1 1 3 2-1 1 3 3 2-2 2-1-1-3 0-5-3 2-2-3-1 1-3 3-3 1 1 4-4 3 2 0 2-2 2 3 2-1 1 5-3 1 1 1-1 2 2 1-1 2 1 0-2-1 0-1-2 3-1-7-6-2-4 3-1 0-4 3-3-1-1 3-1 0-1-28 0-1 1-1-1-25 0-1 2-1-2z"/>
<path fill="#67c07c" stroke="#67c07c" fill-rule="evenodd" d="M1048 203h0zM55 203h0zM604 202l0 1zM981 201l1 1 0-1zM882 201l1-1 2 1-1 1zM290 201l1-1 2 2-2 1zM889 200l2-1 1 3-1 1zM583 200l1-1 2 1-1 1zM295 200l1-1 1 1-1 1zM279 200l1-1 1 1-1 1zM887 199l1-1 1 1-1 1zM619 199h0zM277 199l1-1 1 2-1 1zM240 199l1-1 1 1-1 1zM929 199l1-2 2 1-2 2zM613 198h0zM32 197l2 2-2 3-1-1 0-3zM595 203l-1-1-2 1-2-1 1-2 3-1-1-3-1 0-3 5-2 0-2-2-2 0-3 2 1 0 1 2 5 0 1-2 1 2zM551 196l1-1 1 1-1 1zM307 196h0zM195 197l2-2 2 1-1 2zM78 195l1 2-3 2-1-1zM1020 194l1 3-3 1-1-2zM878 195l1-1 6 0 1 1-3 2-3 0zM566 194l1 1-1 3-1-1zM277 197l2-3 4 2-1 3-3 0zM273 195l2-1 1 2-1 1zM262 195l1-1 1 1-1 1zM142 195l2-1 2 3-3 1zM12 194l1 1 0 3-4 3-1 2-2-3 3-1 0-2zM611 194l-1 1 1 0zM194 194l1-1 1 1-1 1zM166 194l1-1 1 1-1 1zM157 194l1-1 1 1-1 1zM119 194l1-1 1 1-1 1zM99 193l1 1-2 3 1 1-4 2-3-3 2-2 3 0 0-1zM85 194l2-1 2 2-3 1zM43 193l3 4-1 2-4-3zM963 193l1-1 1 1-1 1zM572 193l1-1 1 1-1 1zM136 192l3 2-1 1 2 2-1 1 1 3-2 2-3 0-2-2 1-1-2-4zM1023 192l1-1 1 2-1 1zM970 192h0zM917 192l1-1 1 1-1 1zM582 192l1-1 1 1-1 1zM101 192l1-1 3 1-1 1zM65 192l2-1 2 1 1 2 2-1 3 4-3 3-5 0-1-1zM42 192l1-1 1 1-1 1zM1232 190l5 4 0 2-2 2-2-1-2-4zM973 191l-1 1 1 0zM936 191l1-1 1 2-1 1zM154 191l2-1 1 3-2 1zM98 191l1-1 1 1-1 1zM16 194l2-3 3-1 6 0 3 2-2 3-3 0-1 1-2-3-5 2zM921 190l1-1 1 1-1 1zM564 190l1-1 1 1-1 1zM278 191l5-2 2 4-1 1-3-1-1 1zM160 190l1-1 2 1-1 1zM29 191l2-2 2 1-1 2zM1044 191l0 1 5 0 1 1 0-3 1-1-2 1-3-1zM318 189l0 1zM103 189l1-1 1 1-1 1zM87 189l1-1 2 1-1 1zM77 189l3-1 3 1-2 4 2 2-1 1-6-4zM1033 188l1 3 1 0 0-2zM992 188l1-1 1 1-1 1zM902 188l1 3-6 4-1-2 4-6zM595 188l2 0 1 2-1-2zM526 188l1-1 1 1-1 1zM305 187l1 2 2 1-1 2-4-2zM983 187l1-1 1 1-1 1zM897 187l1-1 2 1-1 1zM281 187l1-1 1 1-1 1zM159 187l1-1 1 2-1 1zM97 186l1 2-2 2-2-2zM60 187l1-1 1 1-1 1zM924 186l1-1 1 1-1 1zM556 186l2-1 2 2-2 1zM548 186l1-1 1 1-1 1zM298 186l1-1 1 1-1 1zM273 185l2 2-1 3-3-1 0-2zM202 186l1-1 1 2-1 1zM191 187l2-2 2 2-1 1zM870 185l1-1 1 1-1 1zM591 185l1-1 1 1-1 1zM177 184l1 2-2 1-1-1zM0 185l1-1 2 1 1 2-2 1zM990 184l1-1 1 2-1 1zM556 184l1-1 1 1-1 1zM544 184l1-1 1 1-1 1zM292 184l1-1 1 1-1 1zM278 184l1-1 1 2-1 1zM42 186l4-3 1 2 2 0 3 3-2 3-2 0-1-1 1-1-2 0-1-2zM1017 183l1 1zM1006 183l0 2 2 2 0-2zM523 183l1-1 2 1 1 2-2 2-2-2zM62 182l2 2-1 3-2-3zM1222 182l3-1 3 2 1 2-3 1-3-2zM899 181l1 3-2 2-2-3zM568 182l1-1 1 1-1 1zM293 183l3-2 1 1-1 2zM13 183l2-2 2 0 2 3 3-1 1 2-2 2-4-2-3 1zM1035 181l1 1-1 1 2 0 0-1zM950 181l0 1zM278 181l1-1 1 1-1 1zM270 181l1-1 1 1-1 1zM237 181l2-1 1 3-2 1zM181 181l1-1 1 2-1 1zM173 180l2 2-1 2-3-2zM873 180l2-1 1 2-1 1zM594 180l0 1zM190 180l1-1 1 1-1 1zM65 179l2 0 2 4 2 1 2 4-2 2-4-3 1-2-1-2-3-2zM50 180l1-1 2 1-1 1zM48 180l1-1 1 1-1 1zM931 177l1 0 1 2-3 2 0 2 3 1 1 2-1 2-1 0-2-3-3 0-1-1zM27 178l1-1 1 1-1 1zM991 177l-2 1 2 0zM906 177l1-1 2 2-2 1zM904 176l2 2-2 2-2-2zM306 177l-1 1 3 2 0 2 2 0 1-3-1 0-1-2-1 1zM59 177l1-1 1 1-1 1zM30 177l3-1 1 1 3 0 1 2-1 2-3 2zM554 177l1-2 2 1-2 2zM962 177l3 1 5 7 12 2 1 1-2 1 0 5 1 1 3-2 2-3 1 1 2-1-1-1 1-1 3 1 2-1 1 3 4 2 0 5-2 1 0 4 4-5 3 2-1 3 1-1 1 1 3 0 1-1 1 1 15 0-3-1 0-2 2-2 6 5 2-1-2-1 3-3 3 3 0 2 8 0 1-1-1 0-1-2-3 2-3 0-1-1 3-5-1-3-3 0-2 3-3-1-3 3-2-2 0-10-3 0 1 1-1 1-5 1-3-4-1 1 1 2-1 3 2-1 1 3-2 3-4 2-1-1-1 2-2-1-2-3-2 0-3-3 0-2 2-3-2 1-3-1-1-2-5-2 1-2-4 2-5-1-4 3-1-1 1-3-2-1 2-3-2-2-1 0 1 1 0 4-1 1-7-3 3-2-1-1-4 2-3 0-1-1zM41 175l1-1 1 1-1 1zM912 173l2 2-3 2-1-2zM29 174l2-1 1 2-1 1zM978 173h0zM926 174l-6 3-2 0-2-2 1-2 2 1 2-2zM63 173l1-1 2 1-1 1zM25 173l1-1 1 2-1 1zM900 172l1-1 3 0 1 2-2 2-1-2zM932 172l1-2 2 1-2 2zM930 171l1-1 1 1-1 1zM572 171l1-1 1 2-1 1zM471 171l1-1 1 2-1 1zM272 171l1-1 2 1-1 1zM554 170l1-1 2 1-1 1zM1083 169l1-1 1 1-1 1zM900 168l1 3-3 1-1-1 2-1zM549 169l1-1 2 2-2 1zM36 168l2 1-1 3-3-2zM1084 168l1-1 1 1-1 1zM908 168l1-1 1 1-1 1zM116 168l2-1 1 3-2 1zM967 167l-2 1 1 2 2-2zM946 167l1 4 3-1zM753 167l1-1 1 1-1 1zM281 167l1-1 1 1-1 1zM279 166l1 2-3 2-1-2zM752 166l1-1 1 1-1 1zM282 166l1-1 1 1-1 1zM910 164l1 1-1 3-1-1zM573 165l1-1 1 1-1 1zM73 164l1 2-2 2-2-2zM936 164l1-1 1 1-1 1zM887 164l1-1 2 1-1 1zM73 164l1-1 1 1-1 1zM957 163h0zM884 163l1-1 1 2-1 1zM62 164l1-2 2 1-2 2zM911 162l1-1 1 2-1 1zM772 162l1-1 1 1-1 1zM761 162l1-1 1 1-1 1zM293 162h0zM1097 161l1-1 1 1-1 1zM1073 161h0zM964 161l-3 3 1 0zM755 161l1-1 2 2 3 0 1 2-3 2-3 0-1-1zM972 160l0 1 1 0zM580 159l3 5-2 3 1 4-6 3-2-2 1-2 3-2-3-2 3-2-1-1 1-3zM556 158l1 2-2 1-1 2 1 5-2 2-2-2 1-7zM541 158l1 2-3 2-1-2zM536 158l1-1 1 1-1 1zM277 158l-1 2 1 0zM893 156l1 1-1 3-1-1zM563 156l1-1 1 2-1 1zM550 157l1-2 3 1-2 3zM294 156l-1 1zM951 155l0 1 2 0 0-1zM284 155h0zM280 155h0zM981 154h0zM771 153l2 3-3 3 1 2-3 2-5-1-1-2 3-3 2 0 1-2zM580 154l1-1 3 3-2 2-2-2zM1224 153l1-1 1 1-1 1zM1222 153l1-1 1 1-1 1zM1114 153l1-1 3 4-2 1-2-2zM939 153l1-1 1 1-1 1zM931 153l1-1 2 3-2 1zM929 153l1-1 1 1-1 1zM881 155l3-3 4 2-1 3zM581 153l1-1 1 1-1 1zM279 153h0zM5 152l2 2-1 2-3-2zM757 151l2 5-2 2-2 0 1 1-2 2-2 0-1 2-2-2 0-3 1-1-1-1 2-2 2 1 0-2 2-2zM255 151l1 1-3 2-1-1zM940 152l3-2 2 2-1 1-3 0zM937 150l3 2-1 1 1 3-2 2-2 0-2-2zM866 151l1-1 1 1-1 1zM767 153l0-2 2-1 1 2-2 2zM577 150l2 1 1 5-2 3-5-3zM266 154l2 1 2-3 2 1-3-2-2 0 1 1zM979 150l-2 1zM966 150h0zM943 150l1-1 1 1-1 1zM907 149l2 1 2 5-2 2-1-2-3-2 0-2zM248 150l1-1 1 1-1 1zM1112 149h0zM947 149l1-1 2 1-1 1zM982 148l-1 1 1 0zM570 148l1-1 1 1-1 1zM845 147l1-1 1 1-1 1zM582 147l1 0zM461 147l1-1 2 1-1 1zM1013 147l2-1-2 0zM245 146l1-1 1 1-1 1zM29 145l1 1-1 3-1-1zM991 145h0zM575 145l0 1zM431 144l1-1 1 1-1 1zM268 144l0 1 2 1 0-1zM936 142l1 1-3 2-1-1zM876 144l1-2 2 1-2 2zM987 142l0 2 1 0zM953 145l1-1-1-1 1-2 2 0 3 2-4 3zM787 142l1-1 1 1-1 1zM14 144l1-3 2 0 2 2-2 2zM7 142l1-1 2 3-1 1zM1000 141l-3-1 1 2-3 2 0 2 2 0 0-1 3-2zM943 140l1-1 1 1-1 1zM821 140l1-1 1 2-1 1zM723 142l2-3 3 2-2 2zM576 140l-1 1zM549 140l1-1 3 0 1 1 0 3-1 1-2-1zM25 139l3 0 1 1-2 4-2 0-2-3zM1024 139l-1 2 3 2 2 3 1-3zM1013 139h0zM988 139l-3 1zM941 138l3 3-2 2-3-1 0-2zM822 139l1-1 1 1-1 1zM553 139l1-1 1 1-1 1zM956 138l2-1 2 3-2 2-2-2zM950 137l3 4 0 2-2 1-2 3-4-2 2-3 3-1-2-2 0-1zM938 138l1-1 1 2-1 1zM542 137l1 1-1 3-2-2zM41 137l1 2-2 2-2-2zM937 137l1-1 1 1-1 1zM903 137l1-1 1 1-1 1zM789 136l1 2-2 1-1-1zM547 139l2-3 2 1-2 3zM77 136l1 2-2 3-1-1 0-3zM41 137l2-1 1 2-1 1zM935 135l2 2 0 2-2 1-1 2-1-1 0-3zM437 136l1-1 1 2-1 1zM975 134l3 3-1 2-2 0-2-3zM874 135l1-1 1 1-1 1zM800 135l1-1 1 2-1 1zM791 134l1 2-2 1-1-1zM262 136l1-2 3 1-3 2zM1057 135l-1-1-3 2 3 0zM1001 133l1 2-2 1-1-1zM928 134l1-1 1 1-1 1zM797 134l1-1 2 2-2 1zM724 135l2-2 3 0 1 1-2 3-2 0zM576 134l1 2zM261 134l1-1 1 1-1 1zM1062 133l-2 1 0 1 2 0-1-1zM1037 133l3-1 3 2-2 3-3-2zM997 133l1-1 1 1-1 1zM433 133l1-1 1 1-1 1zM232 133l1-1 1 2-1 1zM44 133l1-1 2 3-1 1zM946 131l1 1 0 3-1 1-1-1 0-3zM267 132l-5 0-1 1 1 3-1 1-1-1 3 9 2-1-1-1 0-3 2-5 3-1zM119 132l-2 4-5-2 2-2 2 1 1-2zM1064 131h0zM979 131l1-1 1 2-1 1zM965 131l1-1 1 2-1 1zM946 131l1-1 1 1-1 1zM789 131l2-1 1 2-2 1zM551 131h0zM975 131l1-2 3 1-3 2zM941 129l1 1-3 5-1-1 0-3zM777 130l1-1 1 2-1 1zM769 130l1-1 3 1-1 1zM767 130l1-1 1 2-1 1zM755 132l2-3 3 2-2 2zM728 132l1-3 3 1-2 3zM273 130l1 0zM242 129l1 3-2 3-2-4zM1002 128l1 3-3 2-1-3zM804 129l1-1 2 1-1 1zM792 130l4-2 2 3-1 1-4 0zM761 128l1 2-2 1-1-1zM253 129l3 2 0-1zM231 129l1-1 1 1-1 1zM956 128l0 1 2 0 0-1zM902 127l2 2-1 2-3-2zM798 128l1-1 2 1-1 1zM275 128l1 0zM131 127l1 3-2 2-2-2zM930 127l2-1 1 2-2 1zM856 126l2 3-1 3-3-1 0-3zM821 127l1-1 1 1-1 1zM267 127l-1 1 1 0zM124 127l1-1 1 1-1 1zM63 127l1-1 1 1-1 1zM891 128l2-1 1-2 3 1-3 4zM800 126l3-1 2 3-2 1-2-1zM761 126l1-1 1 1-1 1zM438 126l1-1 1 1-1 1zM429 126l-1 3 2 0zM1125 125l1-1 3 0 1 1 0 3-2 1zM1017 125l1-1 2 2-2 1zM869 125l1-1 1 1-1 1zM567 125l0 7-1 1 5 0 0-2-2 1-2-2 0-2 2-1-1-2zM551 124l2 1 0 3 2 1-3 4-2 0-2-3zM235 125l1-1 1 2-1 1zM82 125l1-1 1 1-1 1zM1220 124l1-1 1 1-1 1zM1029 123l1 2-2 1-1-1zM185 124l1-1 1 1-1 1zM126 124l1-1 2 1-1 1zM124 124l1-1 1 1-1 1zM1031 123l2-1 1 1-1 1 2-1 1 2-2 2-3-2zM810 122l1 3-2 1-1-1zM765 122l2 3-1 2-3-2zM117 123l1-1 1 1-1 1zM86 122l2 3-1 2-3-2zM956 121l2 0 2 2 0 2 0-1 2-1 1 2 3 1-2 2 1 3-3 1-2 2 1 1-2 1-1-2-1 1-1-1 0-3-3-1 0-4 3-1-1-2zM869 122l1-1 1 2-1 1zM812 123l1-2 2 1-2 2zM716 122l1-1 1 1-1 1zM575 122h0zM186 122l1-1 1 2-1 1zM102 122l1-1 3 0 1 1 0 3-3 2zM18 121l1 2-2 1-1-1zM1021 121l1-1 1 1-1 1zM975 121l-3 5-3 0-3-3 1-2 6 0 1-1zM769 124l1-3 3-1 1 2 2-2 1 1-1 3-6 1zM765 121l1-1 1 2-1 1zM746 122l1-2 2 1-2 2zM579 121l0 2 2 0 0-1zM185 121l1-1 1 1-1 1zM1230 120l1-1 1 1-1 1zM1101 120l0 1 4 2-1-2zM986 120l1-1 1 1-1 1zM839 119l1 1-3 2-1-1zM827 120l1-1 1 1-1 1zM753 120l1-1 2 1 5 0 2 4-1 1-3-1-1 1 1 2-2 2-2 0-2-2 2-2-2-3zM154 120l1-1 1 1-1 1zM54 119l3 3 0 3-4 3-1-2 2-1-2-1 0-3zM16 120l1-1 1 1-1 1zM962 119l1-1 1 1-1 1zM932 118l2 3-3 2-2-2zM914 119l2-1 2 2-2 1zM836 119l1-1 1 1-1 1zM820 119l1-1 1 1-1 1zM795 118l2 1-1 2 1 1-1 1-3-2zM161 118l1 1-1 3-1-1zM62 118l1 0 2 3-2 2-3-2zM1215 118l2-1 1 2-1 1zM992 118h0zM985 118l1-1 1 1-1 1zM859 117l3 2 0 4-1 1-3-1 0-5zM834 118l1-1 2 1-1 1zM796 118l1-1 1 1-1 1zM1111 117h0zM909 117l1-1 3 1-2 2zM166 116l3 4 3 2-2 3-1 0-4-5 0-3zM82 116l2 1-1 2 3 3-1 1-2 0-3-3zM1194 116l1-1 1 1-1 1zM1024 115l3 4-1 2-1 0-1-2-2 1-1-1zM960 116l1-1 1 1-1 1zM833 116l1-1 1 1-1 1zM92 116l1 0zM51 116l1-1 1 1-1 1zM49 116l1-1 3 4-1 1zM34 117l5-2 2 2 0 4-3 1-4-3zM1179 114l1 2-2 3-3-3zM1092 115l-1 2 1 0zM1065 114l2 2-1 2-3-1zM956 115l3-1 2 3-2 2zM950 115l1-1 2 1-1 1zM816 115h0zM712 115h0zM519 115l1-1 3 0 1 2-3 2zM429 115l0 1 1 0 0-1zM219 115h0zM134 115l0 1zM100 115l1-1 1 1-1 1zM39 115l1-1 1 1-1 1zM25 115l1-1 1 2-1 1zM20 115h0zM974 114l2-1 1 2-2 1zM850 113l2 1 0 4 2-1 2 2-1 5-2 2-3-1 1-2-2-3 1-1 0-3-1-1zM32 114l1-1 2 2-2 1zM1198 112l2 2-2 3-2-2zM1181 113l1-1 1 1-1 1zM972 112l2 2 0 2-6 4-2-3 5-3zM867 113l2-1 1 3-1 1zM844 113l1-1 1 1-1 1zM568 113l1-1 1 2-1 1zM1139 113l2-2 5 0 1 1-1 3-5 0zM1093 112l-1 1 1 0zM985 112l1-1 1 1-1 1zM983 112l1-1 1 1-1 1zM921 112l1-1 1 1-1 1zM1218 110l1 2-3 3-3 1-1-2 3-1 0-1zM1167 111l1-1 2 1-1 1zM1041 111l1-1 1 1-1 1zM1028 111l1-1 1 1-1 1zM982 111l1-1 1 1-1 1zM827 112l3-2 2 0 2 4-3 2-3-1zM776 110l2 2 0 3 1 1-2 1-2-2-6 3-1 2-3-4 3-3 4 0 1-2zM561 111l1-1 1 1-1 1zM105 110l1 0 2 3 0 2-2 3-1-2-3-1 1-1-1-1zM92 111l2 1 0-1zM4 111l0 1zM1239 110h0zM1204 110l1-1 1 1-1 1zM1051 110l1-1 1 1-1 1zM1029 110l1-1 3 0 2 2 0 2-3 1-1-3zM947 110l1-1 1 1-1 1zM771 110l-2 2-2 0 1 1-1 1-2-1-2 1 0 3-1 1-4-3 1-3 5-1 2-2 4 0zM593 110h0zM491 110l1-1 1 1-1 1zM172 117l3-2 3 2 3-4 3 0-1-1-1 1-5 0-2-3-2 1zM127 111l-1-1-1 1-3 0-1 3 1 1 3 0 0-2zM1044 109l2-1 1 2-1 1zM1006 109h0zM925 108l3 2-1 1 1 3-1 1-4-3 0-2zM569 109l1-1 2 1-1 1zM520 109l1-1 1 1-1 1zM19 109l-2 0-1 3 1 2 0-1 2-1zM2 109l-2 0 1 3-1 1 0 6 0-2 1-1 1 1 1-2-3-4zM1076 108l1-1 1 1-1 1zM1066 108l3-1 1 2-3 1zM907 111l-2 2-3-1-5 4 1 2-1 2-2-1-2 3-2-1 1-3 2-1 0-2 5-4-1-1 2-3 1 0 2 3 3 0zM719 108l0 3 2 3 1-4-2 0-1-1 1-1zM519 108l1-1 1 1-1 1zM29 108l-2 1zM1178 107l-1 1 1 0zM1064 107l1-1 1 1-1 1zM986 107l1-1 1 1-1 1zM967 109l2-2 2 1 1-2 4 2-5 3-2 0zM821 107l1-1 1 1-1 1zM513 107l1-1 1 1-1 1zM1089 109l2 1 3-4-5 0zM976 106l2-1 1 2-2 1zM965 105l1 2 2 1-3 2 1 3-2 1-3-4 0-2zM906 108l5-3 4 1 1 1 0 3 3 1 1 2-1 1-4-1-2-2 1-1-3-1 1 3-1 2-2-3-1 1-2-2zM803 106l3-1 1 2-2 2zM787 111l4-3 3 2-1-3 3-2 3 1 1 2 3 0 1 3 3-1 2 3-6 4-2-1-1-2-1 1-7-3-3 1zM791 106l1-1 1 1-1 1zM568 106l1-1 1 2-1 1zM113 106l1 2 1 0 0-2zM56 106l0 1zM1036 105l2-1 1 2-1 1zM1021 104l3 2 2 4-2 2-1-1-2 3-2 0-1-1 2-2-1-1 0-4zM571 105l1-1 1 1-1 1zM447 105l1-1 1 2-1 1zM10 105l-2 3-2-1 0 2 2 0 2-2zM1239 104l0 1zM958 104l1-1 1 1-1 1zM887 106l1-3 3 1-2 3zM873 104l0 1 1 0 0-1zM706 104h0zM401 104l2 0zM113 104h0zM1184 103l0 2 1 0 0-2zM1179 103l0 2 1-1zM1090 103h0zM996 103l1-1 1 2-1 1zM979 103l1-1 2 1-1 1zM964 104l2-2 2 1-1 2zM574 103l1-1 1 2-1 1zM461 103l2-1 1 3-2 1zM126 103l-1 1zM1031 102l2-1 1 2-1 1zM1010 102l-4 1 0 3 1 1 2-4 1 1zM947 102l1-1 1 1-1 1zM104 102h0zM55 102h0zM0 123l0 75 1 1-1 4 17 0-1-2 1-3 3 3-1 2 18 0-2-2 1-2 3 4 2-2 2 2 6 0-1-4 2-2 3 2 0 1-2 1 1 2 1-3 4 1 1-1 0-3 2-2 3 1 0 2 2 3-1 2 3 0 1-2 2 0 1 2 6 0 1-1 3 0 1 1 21 0 1-2-1-3 3-3 6 4-1 2-1-1-1 1 0 2 54 0 2-2 1 2 20 0-1-1 3-7 1 1-1 7 8 0 1-1 1 1 56 0 1-1 1 1 25 0 3-4 2 2-1 1 1 1 6 0 2-2 1 2 3 0 2-2-2-3 3-2 3 0 1 2-2 1 1 2-1 2 1 0 2-3 2 3 3 0 0-3-2-1-2 1-2-2 0-3 3-1-1-2 2-2 2 1 4-2 0-1-2 0-1-2-8-2-2-2-3 0-3-2-2 0-2-2 1 3-2 3 2 1-1 2 2 2-3 2-2-2-2 0-1-1 1-3-3 0-3-3 0-2 4-2 1 3 2-1 0-2-3 0-2-1-1-2 6-4 3 0 2 3 2 0 1-1-3-2 2-3-2-4-4 0-3 2-2 0-1-1 1-2 2-1 0-2 2-1-4-2-4 0-1 3 1 2-1 1-5-1-3 2-2-2 0-2-1 0-3-4-5-1-2-2 1-2 3 2 0-1 4-3-1-2-6 1-4-11-3 0-3-3-4 1-2-3 1-5-1 0-1-3-5-4 0 1-2 1 0 2-2 1-4 5-6 1-2-2 2-1-1-2 1-3-1 1-3-4-3 2-2 0-1-1 1-3-3-2 1-1-4 1 1 5-2 2-2 0-3 2-2-2 1-2-6-1-1-2-1 3-2 1-4-4 0-2-1 0-2 2-2 0 0 5-3 3-2-2 1-3-2-2-2 0-1 3-2-1 0-2-1 1-1-1 0-4-2-2 0-2-1 0 0 3-1 1-4-2-2 3-1 0-1-2-3 0-1 2-2 0-3-2 1-2 2 1 0-1-2-1-3 1 0 5 2 6-2 1-1-2-2 1-1-2-3 1-1-1 1-2-3 1 1 4-2 3-2-2 0-2-4-3 0-4 3-2-1-2-1 2-3 2-1 3-4 3-2 0-2-2-3 2-2-1-2-3 3-1 3-4-1-1-3 0-2-2-3 0-3-3-3 6-3-1 1 6-3 3-2 0-2-3-1 2-4-1-2-3-3-2 0-2-2 1 0 4-2 3 1 2-2 3-3-4 1-1-5-2 1-1-1-2 3-3 2 0 0-3-5-2 0 1-2 1 1 1-2 3-1 0-2-3 2 3-1 1-2-1-4 1-3-4-2 3-2 0-1 2-2 0-3-4 0-1 3-2 0-3 1-1 0-2-1 0-2 2 1 3-1 1-2-1-2 2 2 4-2 4-1 0-1-3-2-1 2-1-1-2 1-1-5 4-1-1 0-5 1-2-1 0 0 2-2 2-1-1-1 4-4 3-4-3-1 2 5 6-2 3-2-1 0-3-3 1-2-1-1 1-1-2-4 0-1-1 0-3-2 1 0 2-2 2-2-2-2 0 3 1zM1235 101l-1 1 0 3 2 1-1 2 1 0 1-5zM1211 101l-1 1 1 0zM1087 101l-2 1-1 3 1 2 1-2-1-2 2-1zM988 101l1-1 1 1-1 1zM974 101l1-1 1 1-1 1zM971 102l1-2 2 1-2 2zM948 104l2-4 2 1 2-1 1 2-6 3zM497 101l1-1 1 1-1 1zM39 101l-1 1 1 0zM1092 101l0 2 3-1 5 6-1 6 1 1-1 1 5-3-1-2 1-3-1-3-1 0-1 2-2-2 0-4-3 0-1-1zM793 100l1 1 0-1zM758 100l1-1 1 1-1 1zM684 100l-1 2 1 0zM652 100l1 1zM575 100l2-1 5 3-2 1-1 2-2 0zM563 100l1-1 1 1-1 1zM558 100l3 0 1-1 1 1 0 2 3 5-2 3-2 0-2-3-4-3 2-2-1-1zM547 99l1 1 0 4-4 3-2-3 3-1 0-2zM515 100l1-1 1 1-1 1zM14 100l1 1 0-1zM5 100l-4 2-1 3 4 1zM1213 101l2 3 2-1 5 4 3-1 1 1 3 0 1-2-4 0-1-1 1-2-2-1 0 1-2 1-3-4-3 4zM1180 99h0zM1083 99l1 0zM915 99l0 1zM856 99l1-1 1 2-1 1zM737 99l1-1 1 1-1 1zM37 99l0 1zM1206 98l1-1 1 1-1 1zM1062 98h0zM1029 98l1-1 2 1-1 1zM941 97l1 1-1 1 2 3-4 2-1-1 1-1 0-4zM906 98l1 1 0-1zM780 98l-1 1 1 0zM19 98l1 0zM955 96l1 3-2 1-1-2zM878 96l1 3-2 1-1-2zM720 97l1-1 1 1-1 1zM719 96l2 4-3 2-1-1 0-3zM659 97l1-1 1 1-1 1zM644 97l1-1 1 1-1 1zM425 97l-3 2 2 2zM6 97l0 1 1 0 0-1zM747 96l1-1 1 2-1 1zM735 96l1-1 1 1-1 1zM574 95l2 2-1 3-2-3zM421 96l-1 0-2 3 2-1zM12 96l0 1 1 0 0-1zM1239 95h0zM1223 95l0 1 2 1-1 2 3-2zM1184 95h0zM1093 95h0zM981 95l1-1 1 2-1 1zM942 94l1 2-2 1-1-1zM912 97l-1-2-4 1zM870 95h0zM863 100l-2-4-2-1 0 2-2 1-3 4-6 1 0 2 1-1 2 1 1-3 5 0 3-2 1 1zM737 95l1-1 1 1-1 1zM608 94l1 1 0 5-1 1-4-1-1-3 1-1 3 1zM576 95l1-1 1 1-1 1zM1235 94h0zM966 94l2-1 5 3 0 3-2 1-5-4zM890 94l0 1zM781 94l1 1zM764 94h0zM720 94l1-1 1 2-1 1zM595 94l2-1 1 2-1 1zM408 96l1-3 4 0 1 1-2 4-2 0zM1094 93h0zM805 93l2 0zM740 93l1-1 1 1-1 1zM705 93l1 0zM600 93l1-1 1 1-1 1zM404 92l1 3-2 1-1-2zM739 92l1-1 1 1-1 1zM437 92l-2 1zM1 94l4-1 0-1-1 1-2-1zM1001 91l1 2-2 3 0 2-3 4-3 1 0 4 2 0 1-2 4 2 0-3-1-1 1-2-1-5 2-1zM843 91l0 1 1 0 0-1zM838 91h0zM825 91l1 3 1 0zM775 91l-2 1 2 0zM1077 90l1 0zM980 91l3-2 2 1 1-1 4 5-3 2-3 0zM977 89l1 2-3 3-1-3zM949 90l-3 2 1 3 1 0zM903 89l1 1 0 4-1 1-1-1 0-4zM871 101l2-1 1 1 2-1 3 1 0-2 2-2 5 1 2-1 0-1-3 1-2-4-2 0-2-3-3 0-1 1 2 1 2-1 2 2-2 2-2-1 1 2-2 2-4 0zM864 90l1 2 0-2zM832 90l0 1zM756 90h0zM678 92l-3-2 1 1-1 2-2 1-2-3 0 2-4 2 1 2 4 0-2-1 3-2 2 1 2-1zM604 90l3-1 1 3-3 1zM1129 89l1 1-1 3 2 0 1-3zM1107 89l0 4 1-1 1 1-2-2zM1081 89h0zM1056 90l-2-1-1 2zM925 90l-1-1-1 2zM816 89l1 0zM682 89h0zM651 89l1-1 1 1-1 1zM409 88l1 3-2 2-2-3zM1083 89l-1 3 2 0 3 5 4 1-2 0-3-3 1-3 4 2-1-2-2-1 0-3zM1015 88l-1 1 1 0zM950 88h0zM804 88h0zM1235 87l3-1 1 2-3 1zM1181 87l-2 0 1 6-2 3-2 0 1 1 2 0 4-5 0-3zM1011 87l-1 1 1 2-1 2 1 0zM810 87l0 3 1 1-1 5-1 1-3-1 0 2 3 0 1 1 2-1-1-1 1-2 0-6zM595 87l2-1 1 2-2 1zM504 89l1-3 2 0 3 2-4 3zM1190 86l1-1 1 1-1 1zM1150 87l2-2 2 2-1 1zM1122 86l1 0zM1114 86l-2 3-2 0 1 2 3 0 0-3 1-1zM1027 86l-1 1 1 0zM1016 86l2 0zM852 86l0 1zM849 86l-2 0 0 3 1 0 1 2-1 1-2-1 1 2-2 3-1-1 1 3 1-3 5 0 2-1 0-3-3 0-2-2zM664 86l1-1 1 2-1 1zM622 86l1-1 1 1-1 1zM1105 85l-2 1 1 2-3 1-2 3 1 1 2-1-1-1 4-3zM934 85h0zM434 85l0 5 2-3 1 1zM0 85l0 2zM1102 84l-3 1 1 1zM853 84l1 0 3 4-1 4 3 1 0-2-2-1 3-1 1-3-3-2zM784 85l0 3-4 3 6 3 0 1-2 1 0 4 3 1 3-2-2-3 1-1 2 1 0-2-4 0-1-1 0-3 1-1-2-2 1-3zM870 83l-4 2 4-1zM699 83h0zM678 83l-2 1 0 2 3 2 0-4zM1051 82h0zM1045 82l-3 2 0 2 2 3 3-4zM1004 82l0 2 2 0 0-1zM926 82l1-1 1 1-1 1zM902 82h0zM888 81l3 3-3 3-1-1 0-4zM791 82l-1 0 0 2-2 3 2 1zM640 82h0zM63 82l0 1zM1229 81l-1 3 4 0 0-1zM1216 80l3 1-1 1 1 3-1 2-2-2 0-3-1-1zM1199 84l1-1 1 1 0-2 3-2 2 2 3 0 1-1 3 4-1 1-9 0-1 1-2-1zM1196 81l1-1 2 2-2 1zM1094 81l-1 3 2 3 2 1 0-3-4-3zM970 81l1 0zM663 80l2 2-1 3-2-1 1-1-1-1zM644 81l1-1 1 1-1 1zM449 81l0 3 1 0zM1136 80h0zM1107 80l-1 2 2 1 0 2 1-1 1 1 1-2-1 1zM1055 80l-2 3 2-1zM992 80h0zM942 80l-5 3 3 1zM925 80l2 3-1 2 2 2-2 1 2 0 1-1-1-1 1-1 0-4-3 0zM731 80h0zM653 82l0-2 2-1 1 2-2 2zM353 80l-1 1 1 0zM67 80l-1 3 1 0zM1186 81l-3 1-3-1-1-2-3 1 0 2-3 4-2 0-1-2-1 1 1 1-1 2 1 2-3 1 0 1 3 2 2-2-1-3 1-1 2 0 1 2 2-2 0-3 2-2zM1039 79l1 0zM997 79l1 2 1 0 0-2zM1083 113l-1-3-4-2 0-3-4-3-4 1-2-3 2-1-1-3 1-3 1 0 3 4 2 0 0-4-2-2 0-2-2 3-1 0-3-4-1 1 2 1-2 2-3-1-3 4 2-2 2 1-1 1 1 1 0 4 2 1-2 3-3-3-1 1-3-1-1 2 1 1-3 2-2-2 1-2 1 1 1-2-2-3 0-2-3 0-1-1-2 2 1 2-3 4-4 0-1 1-2-2 0-2 4-2-1-2 1-3-4-4 1-2-2-1-3 3 1 1 0 3 3 2-3 2-7 0-1-1-2 1-2-1-2 1-6 0-1-1 0 1 2 1-2 1 0 1 3 0 1-1 1 1 0 2-3 1 0 1 3 1-2 1 0 3-1 1-1-1-1 2-2-1 2 3-3 2-1-1-1 3 1-1 3 1 3-1 1 1-2 6-4 2 0 2 3 0 1-2 4 5-1 2-2-2-2 1-2-2-4 0-1 2-3-2 1-1-1-2-3-2-2-4 0-2 3-1-1-1 1-2-4-2 2-3-4 0-4 3 0 2 3 0 2-2 1 1-1 2 0 5-2 1-2 5-5 3-2 0-1-1 1-3 4-2 1 1-2-4-2-1 2-1 0-3-3-2 1-1 3 0 0-4 1-1-1-1 1-1-1-2 1-1-2-2 3-5 3 2-2-2 0-10-1-1-4 0 2 2-1 1-4 0-2-3 1-3-1-1 1-1-3 0 1 5-1 1-3 0-1 1 1 1-1 2-1-1-3 0 0 3-1 1-2-1-1 2-1 0-3-4-4-1-4-6 0-1 2-1-3 0-2 3 1 1 2-1 2 2 1 4-1 1-3-3-4 0-1 2 2-1 2 1 1 2-3 2 1 3-1 1-3-1-4 6-2-1 0-4-2-2 1-4-4 0-4 6 1 2-2 2-3-3 0-3-2-1 1-1-1 1 0 4 3 2-1 2 2 1-1 2 2 0 3 2 0 2-2 1 1 1-2 3-4-3-2-7-1 4-1 1-2-1-1-3 1-3 2-2 2 1-2-2-5-1 1 3-3 2-2-1-1 3-2 0-3-4-1 0-3 5-3-3 0-2-5 1-1-2 2-3 3-1 2-6 4-2 1 1 0 3 2 0 3-2 1 1 0-1 3-2-5 0-2-2 1-1-4 3-6 2-1-1 1-3-1 0-1-2-2 1-1-1 0 5-2 4 2 5-5 2 5 8-7 3-5 8-3-4 2-3 2-1 1-3 1 1 3-1 0-5-2-2 1-2-2 0-5 3 2 1 0 2-4 2-1 5-3 2-2-2-4 3-4-4-1-3 1-4-4-2 2 1 0 3 1 1 0 2-2 2-1-3-2-1-2 2-1-1-5 7-2 0-2-2 2-1-1 0-1-2-1 1-4-4-1-3-2 0 1 2-1 1-2-1 0 4-2 2 3 2-3 1-3-3-1-7 1-1 1 2 2 0 2-3-1-2 1-3-1-1-1 3-3 0-1-1 1-3-3 0-1-1 5 7-1 2-2 1 1 2-1 1-3 0-1-2 2-1 0-1-4 1-1-3-3-2 0-4-1-1-4 1-2-2 2-2 2 1-3-1-3 2 0 1 2 1-1 4 2 0 3 3 0 2-4 2-3 0 0 1 1-1 7 2 1-1-1-2 2-2 2 4-4 5 1 3-3 2-1-1-2 1-5-2 0-7-3 1-1-1 0-3 1-1 3 1 0-2-4 0-5-2-2 5-3-4-5 0-1-1 0 3-1 1-5 1-5 4-2-2 1-2-1-3-1 0-1 2-2-1-2 1-2-2 0-2-1 0-2 3-3-4 1-3-1 0-1-2-9-1-3-3 2-2-2-1-2 1-3-3-3 2-3-2 0-2-2 0 2 3-1 2-4-5-1 1-1-2-2 1 1 3-5 4 1 1 0 3-3 1 1 1-1 2-3-3 0-7 2-2 1 1-1-2-3 0 0 3-4 4-3-1-3 3-1-2 0 1-2 1 1 1 3 0 2-2 2 3-5 2 1 4 2 1 1-3 2 4 1-1 3 0 3 4 3-1 1 3-1 1-2-1-2 1-3 8 3 2 0 4-1 1-4-5-2-1 0-2-3 0-3-2-1 1 4 3 1 4 3 1 3 3 0 2 4 3-2 2-3 0-2-2-1-4-2 0 0 6 3 0 1 1 0 4 1 1-1 1 0 5 2 1 0 2-3 2-2 0 2 3-4 4 0 3-2 2-1-1 0 2-4 3-7 8 0 5-1 1 1 2 0 9 1 1-1 1 2 3 0 4 211 0 1-3 2 0 3 2 2-1 1 2 4 0-1-1 1-1 5 2 32 0-1-1 4-3 2 0 4 4 2 0-1-2 3-5-2 1-2-2-3 1-3-3 0-2-3-2-3-5-3-2-1-2 3-1-2-5 2-2-3 1-2-2 0-5-1 2-2-1 1-2-1 0 1 6 2 0 3 6-3 2 0 3 2 0 3 2-1 1 1 1 0 3-1 1-2 0-3-2-4 3-1-1 1-1-1-3 2-2-4-3-2-4-1 1-3 0 2 1-1 1 4 2 0 2 1-1 3 1-3 3-4-1-2-3-3 0-1 2-4-4 2-2 0-4 3-2 0-2-2-2 3-2 2 1 3-1-2-4-3 1-1-3 4-4 2 2 4 0 0-5 1-1-2-1 1-2 3 0 2 2 2-2 4-1 4 3-1 4 4 0 1-2 2 0 3 2-1 2 2 0-1-5-3 1-2-1-2 1-1-1 1-3-2-4 1-2-1-2 4-2 1 1 0 3 2 2 3-4 4 0 3-4 2 0 0-3 1-1-1-1 2-2 1 1 3 0 2-3 2 0 2-2 4 0 1 1-5 5 1 1-1 1 1 1 0 3 3-3 7 2 6 4-1-5 3-1-3-2-1-3 2-2 2 1-1 2 4 2 0 4 1 0-1-2 3-2 6 1 1-5 5-3 2 3-1 1 1 0 3 4-1 3 1 2 2 0 4-3 3 1 1-2 2 4 2-1 2 1 1-1-1-3-3 1-2-2 2-3 2 0 0-1 4-2 1-2 3 0 2 2-1-7 2-2 2 0 2 3 3 1 4-3 2 1 1-1 0-2-2 0-3-2 1-2 5 0 4-2zM920 79l0 1 1 0 0-1zM874 79l0 1 2 0zM721 79l0 2 2 1 0-2zM705 79l0 1 3 0 2 2 2-1-3-2-3 1zM284 79l0 1 1 0 0-1zM1084 78l2 2 0-2zM1033 78l0 1zM1002 78l1 0zM914 78l-1 2 2 1 1-2zM895 78l-2 3-5 0-1-2-2-1 0 2-3 3 0 4 2 0 1 2 3 2 5-7 1 1 3-2 0-4zM768 78l1 3-1 1-1-1 0 1 2 0 0-3zM639 78l1-1 1 1-1 1zM107 78h0zM47 78l1-1 1 2-1 1zM1208 76l1 1-1 3-1-1zM880 77h0zM695 77l-1 0-1 2-2-1-1 3 2 1-2 4 0 4 5-3 0-3 2-1-2-3zM128 77l0 1 1 0 0-1zM49 77l1-1 1 1-1 1zM1174 76l1-1 1 1-1 1zM1134 76l3 2zM1122 76l2 2zM1070 76h0zM1036 76l1 2zM437 76l2-1 2 2-3 1zM412 77l2-2 2 1-1 2zM408 76l1-1 2 1-1 1zM971 75l1 0zM699 75l3 1zM652 74l1 2-2 2-1-2zM545 75l2-1 1 2-2 1zM446 75l0 1 1 0zM26 75l0 2 2-1zM1231 74l0 3zM1144 74l-1 6 5 0 2-2 0-3-1-1zM1078 74h0zM992 74l0 1 1 0 0-1zM955 74l-3 2 0 1 1 0zM638 74l-1 2-4 2-1 2-3-1 0-3 2-2 6-1zM319 74l1-1 1 1-1 1zM249 74l0 1zM958 73h0zM436 73l1-1 2 1-1 1zM349 72l1 1-1 3-2-2zM274 73l1-1 1 1-1 1zM260 73l1-1 2 2-2 1zM75 74l1 2 4-1-3-2zM40 73l1-1 2 2-2 1zM1095 72h0zM636 72l1-1 2 1-1 1zM627 71l3 1-1 1 1 1-1 2-4-3zM541 72h0zM524 72h0zM463 72l2-1 4 3-3 2zM269 72l1-1 1 2-1 1zM1208 71l2-1 1 2-1 1zM1083 72l0 1 2-1 1 2 2-1 0-1-2-1zM998 71l1 3 3-1-2-2zM886 71l0 1 3 1 0-2zM316 71l2-1 1 2-2 1zM217 71l0 2 2 1 1-1zM81 71h0zM11 71h0zM1233 70l1-1 1 1-1 1zM1206 69l1 1-1 2 1 2-2 1-2-3zM1192 70l1-1 4 2 2-1 2 3-1 1-3-1-2 1zM1184 70l-3 2 2 1zM952 70l0 1zM630 70l1-1 1 1-1 1zM298 69l5 2-2 5-3-2-1-3zM24 69l1 1 0 3-2 2-2-3zM1035 74l3-2 3 0-5-3 0 4zM665 69l1-1 1 1-1 1zM633 69l1-1 1 1-1 1zM323 69l1-1 1 1-1 1zM221 69l0 2 2 0 0-2zM139 69l1 0zM8 69l1-1 1 1-1 1zM1223 68l1-1 1 1-1 1zM1118 68l1-1 1 1-1 1zM1101 68l-4 3 1 1 0 3-2 2-2 0-2-2-4 2 3 0 1 1 1-1 5 0 3-2 0-4-1-1zM489 69l1-2 3 1-2 2zM468 68l1-1 2 1-1 1zM368 68l1-1 2 2-2 1zM308 69l3-2 1 1-1 2zM1191 67l3-1 1 2-1 1zM1051 67l1 0zM1037 67h0zM679 66l2 3-1 2 1 1-1 1-3-2 1-1-2-2zM672 67h0zM635 67l1-1 1 1-1 1zM333 67l1-1 3 0 3 5-4 2zM293 67l1-1 1 2-1 1zM291 67l1-1 1 1-1 1zM120 68l-4-1-2 3 3 1 0-1zM655 66l1-1 2 1-1 1zM652 67l1-2 2 1-2 2zM403 65l1 3-2 1-1-2zM330 68l1-3 2 2-2 2zM206 66l0 1 1 0 0-1zM64 66l1-1 1 1-1 1zM1058 65l1-1 1 1-1 1zM1043 65l-2 2 0 2 3 2 0 3 1 1-2 2 3-1 3-4-4-2 1-3zM663 64l1 1-1 6 1 1 2-2 3 3-2 2-3-1-1 2-1-1-3 1-2-2 1-1 0-4 1-2zM631 65l1-1 2 3-2 1zM595 65h0zM460 68l3-4 4 2-3 3-3 0zM417 65l1-1 2 3-2 1zM351 65l1-1 3 1-2 2zM120 65h0zM1075 64l1-1 2 1-1 1zM469 64l1-1 1 1-1 1zM94 63l1 2-3 4-2 0-1-3zM1207 63h0zM950 63h0zM295 63l1-1 3 1-1 1zM61 63l3-1 1 2-3 1zM46 63l2-1 2 3 2 0 2 3-2 2-3-1zM11 63l1-1 1 1-1 1zM664 62l1-1 2 1-1 1zM345 62l3-1 1 3-3 1zM59 62l1-1 1 2-1 1zM25 61l1 2-2 3-4 3-1-1 1-3zM1158 61l1-1 1 1-1 1zM987 61l1 0zM704 64l1 1 3-2 2 0 1-2-4 2-1-2 0 3-1 1zM669 60l4 1 6 4-1 2-1-1-1 1 0 2-2 2-3 0-1-1 0-5-3-3zM284 60l3 3-1 2-4-3zM249 67l-2-1 1-2-2-3 1 2-2 2 0 2-2 3-3 2-2-3 0-2-1 1-3-1-3-3-6 8 1 1 1-3 5 0 1-1 2 3 4 3-2 1-1-1 1 1 3 0 1-3 6 1-1 0-1-2 2-4 1 1zM120 61l0 2 1 0 0-2zM28 61l3-1 1 1 0 3-1 1zM1083 60l1 0zM1201 60l1-1 3 1 0-1 2-1 2 3 3 1 1 2-1-2 4-3 1 1-1 3 1 0 4 5-3 1-2-2-2 1-2-2-1 2 1 1-2 1-3-2 1-3-2 1-1-3zM1165 59l1-1 1 1 2-1 1 3 2 0 1-2 1 2 2 0 3 3-4 2-3-3-1 2-3 2-1-1 1-2-1-3-1 0zM1140 59l1 0zM419 59l1-1 1 1-1 1zM325 59l1-1 1 1-1 1zM293 59l1-1 1 1-1 1zM272 59l1-1 2 1-1 1zM54 58l3 2 1 3-3 1-3-3zM1137 58l1 1-4 2 0 4 1 1 1-3 1 1 0 3-4 3-1-2-1 0 0 4 2 0 1-2 4 0 1-1 0-3 2-1 0-2-1-1-1 1-2-2 1-1zM677 58l2-1 2 2 0 2-2 1-2-2zM616 58l1-1 1 1-1 1zM290 58l1-1 1 1-1 1zM70 57l1 1 0 3-4 3-1-1 0-3zM47 58l1-1 3 3-3 1zM43 58l1-1 1 1-1 1zM1233 57l1-1 1 1-1 1zM1219 57l1-1 1 1-1 1zM603 57l1-1 1 1-1 1zM80 56l1 1-1 1 0 3-3 1-1-2 2-3zM1144 56h0zM1105 56l1-1 1 1-1 1zM1054 56l1-1 1 1-1 1zM1013 57l1 1 2-1-1-1zM696 56l0 1 2 1 0-2zM691 55l1 2-1 1 0 3-2 2-1-1-2 3-5-2 0-2 3-5 3-1 2 1zM109 56l1-1 1 2-1 1zM65 56l1-1 3 1-1 1zM1221 55l2-1 5 4 0 2-1 1-3-2zM1128 54l2 3-3 4-1-1 1-2-1-2zM1064 55l2-1 3 3 0 2-3 1-2-2zM1056 55l1-1 1 1-1 1zM672 55l1-1 2 1-1 1zM647 59l2-5 1 2 3 0 2-2 2 0 2 4 2 0 2-2 2 2-1 3-4-1-1 3-4-1-1 2-2-1-1-3-3 0zM634 54l1 2-2 1-1-1zM629 55l1-1 1 1-1 1zM479 55l1-1 1 1-1 1zM477 57l1-3 2 2-2 2zM324 55l1-1 2 1 3-1 2 2 0 2-1 1-3-2-3 1zM252 55l1 1-1 2 1 2 3 0 0-3zM1174 54l1-1 3 0 1 3-1 1zM478 54l1-1 1 1-1 1zM321 53l2 1 0 3-1 1-2-2zM296 54l0 1zM100 54l1 1-1 1 1 2 1 0 0-4zM1131 54l2-2 3 2-1 1-3 0zM1104 53l-5 6-1-1-3 1-2-1 0-1 3-1 3-4 4 0zM662 53l1-1 2 1-1 1zM327 53l1-1 1 1-1 1zM279 53h0zM128 53l0 2zM87 52l2 1 0 2 1 0 2 3 1-1 1 1 0 3-2 2-8-5 3-2-1-3zM69 55l2-3 2 1-2 3zM1120 51l2 2 0 4-1 1-2-1-2 2-2-2 3-5zM1070 51l1 2-2 2-2-2zM1209 50l2 1 0 2 2 3 2 1-1 2-7-2 1-2-1-3zM626 51l1-1 3 1 1-1 1 2-4 3zM487 51l0 2 1-1 2 3 2 0 0-2-2-2zM318 50l2 2-4 2 2 3-2 2-2 0-2-4 2-3 2 0zM297 51h0zM269 51l1 0zM87 52l-3 3-3 1-2-1 0-1 3-1 2-3zM61 51l1-1 1 2-1 1zM1174 50l1-1 1 1-1 1zM953 50l1 0zM677 50l1-1 2 1-1 1zM674 50l1-1 1 1-1 1zM327 49l1 1-1 3-1-1zM305 50l2 2 0-1zM105 51l0 4 4 2 0 3 3-1 2 1 1-3 5 2 3-2 3 2-1-3-2 1-2-1-5 1-1-2-2 0-1 2-5-7zM88 50l1-1 1 1-1 1zM21 52l1-3 2 2-2 2zM1129 49l1-1 2 1-1 1zM1120 49l2-1 2 2-3 1zM617 49l1-1 1 1-1 1zM497 49l0 2zM1222 48l1-1 1 1-1 1zM1076 48l1-1 2 1-1 1zM672 48l1-1 1 1-1 1zM610 48h0zM107 48h0zM76 47l4 3-2 4-2-2 0-3-1-1zM71 47l1 1-1 3-1-1zM64 48l2-1 2 4-3 1-1-1zM1175 47l3-1 4 3 0 2 1 0 1 2 1 0 1-3 3 0 1-3 2 0 1 3-2 3-2 0 0 1-2 1 1 2-3 3-1 0-1-2-1 1 2 1 0 1-2 1-3-3 1-1-1-3 1-4-4-1zM1055 47l2-1 3 2 1 2-3 1zM693 47l0 2zM627 46l1 1-1 3-2-2zM276 47l-1 2 2 1 0-3zM68 47l1-1 2 1-1 1zM1219 46l1-1 1 1-1 1zM1152 45l1 2-2 1-1-1zM641 45l1 1 0 3-5 2-1-2zM478 47l1-2 3 1-2 2zM1210 45l1-1 1 1-1 1zM1125 45l1-1 1 1-1 1zM1079 48l7-5 2 2 0 3 2 1 0 2-1 1-3-2-3 1-1-1 1-1-2 1zM978 44l0 3 2 1 1-2-1-2zM608 43l-1 1 1 1zM1033 42l0 2 2 0 0-2zM490 42l1-1 1 1-1 1zM1208 41l2-1 1 2-1 1zM1019 41h0zM100 41h0zM668 40l1-1 1 1-1 1zM486 40l1-1 1 1-1 1zM1072 39l1-1 1 1-1 1zM662 40l3-2 2 3-1 1-3 0zM507 39l1 0zM483 39l1-1 1 1-1 1zM91 39l0 1zM1205 38l1-1 1 1-1 1zM1115 37l1 1-3 3-2-2 2-2zM86 38l1 1 0-1zM1034 39l5 0-1-2-1 1-2-1zM661 37l1-1 1 1-1 1zM629 37l3 1 0-1-1 1zM93 37l0 1zM971 36l-4 0-1 2-3 0 1 1 0 3-2 2 2 1 0-4 2-1 1-2 3 1zM654 37l2-2 3 2-1 1-3 0zM653 36l1-1 1 1-1 1zM625 36l1 0zM973 35h0zM1237 36l-1 1-3 0-1 3-6 0-2 2-2-1 0-3 1-1 2 0 3-2 3 0 1-2 1 0 1 2 1-2zM503 34l-1 1zM489 34l2-1 2 2-3 1zM651 33l1-1 1 1-1 1zM1120 31l1-1 1 1-1 1zM635 31l1 0zM307 32l1-1 3 1 3-2 2 2 0 1-2 1 1 3-1 1-2-2-3 0-2-2zM671 30l0 2 1 0zM101 29l-1 5 2 2 0 2 3-1 3 2-2-3 1-3-3 0-1-1 1-1zM1220 28l1-1 1 1-1 1zM1058 28l1-1 2 2-2 1zM615 28l1 0zM485 29l2-2 3 2-1 1-3 0zM1113 27l3-1 2 2-3 2zM1096 26l2 3-4 2-1-3zM1067 26l1 1-1 1 3 3-4 2 1 0 2 3 2 0 1 3-2 2-3-1-1 2-3-3-2 0-1 2 1 2 2 1 1-1 3 3-3 2-2 0-1-1-3 0-2-3-2 0 2 1-1 2-3 1-3-1-1-2 2-2 4-1 1-3 2 1 1-1-1-6-1 0 0 3-2 3-4-3 1-2-1-1 2-2 1 1 5-1 1 2 2 1 2-1 2-6zM971 27l0 1zM939 27l0 1zM638 27l0 1zM319 27l1-1 1 2-1 1zM76 27l1-1 1 2-1 1zM1210 26l1-1 1 1-1 1zM1203 26l1-1 1 1-1 1zM1150 26l1-1 1 1-1 1zM1058 26l1-1 1 1-1 1zM616 26h0zM975 25h0zM503 25l1-1 1 1-1 1zM1116 23l1 0zM1072 23h0zM1058 22l1 2-3 4-4-2 1-2zM1046 23h0zM942 23l-1 2 3 1 0-2zM1137 22l1-1 1 1-1 1zM1101 22l1-1 1 2 2 0 1 2-3 2-2-2zM1085 21l1 2-1 2-2 1-1-2 1-2zM649 22l2 0zM1151 21l1-1 1 1-1 1zM951 21l1 3 3 1 0-2-1 0-1-2zM947 20l-1 1 1 0zM1147 20l2-2 2 1-1 2zM976 19h0zM514 19l-1 2 2 1-1 2 1-1 0-3zM1177 18l1-1 2 1-1 1zM1089 19l3-2 2 1-2 3zM912 18l1 3 1 0-1-2 1-1zM1106 19l2-3 2 0 2 3 6 1 5 6-2 1-1-1-11-1zM1224 16l1-1 1 1-1 1zM1222 15l2 1-1 3 1 1 0 4-1 1-5-4 3-3zM1193 16l1-1 1 1-1 1zM1091 15l1 2-2 1-1-1zM1064 15l1 1 2-1 5 4 4 0 5 10 3 1 0 3-1 1-2-1-3 1-2-2 3-3-3-2-2 0-2-2 0 1-3 2-1-1 1-6-3 0-4-3zM1227 15l1-1 1 2-1 1zM1161 15l1-1 1 1-1 1zM1070 15l1-1 2 1-1 1zM1068 15l1-1 1 1-1 1zM1096 13l1 1-1 3-1-1zM1072 14l1-1 2 1-1 1zM950 14h0zM335 13l2 1 0 3 1 1-2 4-2-1 1-1-2-1-1-4zM305 14l0 1zM288 14l1 0zM41 14l2-1 1 2-1 1zM1196 13l1-1 1 1-1 1zM1143 13l2-1 2 3-2 2zM1082 12l2 3-1 1-3-2zM1076 14l1-2 2 1-2 2zM943 13h0zM906 13h0zM608 13h0zM339 13l1-1 1 1-1 1zM325 13l1 1 0-1zM1205 11l2 2 1 4 2 1-1 2-1-1-2 1-2-1 0-3 1-1-2-2zM960 12l-1 0 0 1zM517 12l2-1 1 2-2 1zM313 13l1 2 4 1-2-1 1-3-3 0zM1183 10l1 1-1 2 1 1-2 1-1-3zM1144 11l1-1 2 1-1 1zM631 11l0 5 2 0 1-1 0-4zM578 11l0 1zM522 11l1-1 1 1-1 1zM62 11l1-1 1 1-1 1zM1100 10l2-1 1 2-2 1zM1053 10l0 1 2 0zM613 11l-1-1-1 1zM602 10l0 1zM306 10l0 1zM1203 10l1-2 2 1-2 2zM1106 8l3 1-2 4-2 0-2-2zM959 9h0zM517 8l1 2-2 1-1-1zM444 9l1-1 2 2-2 1zM1212 8l2-1 4 4-1 1-4 0-1-1 1-1zM1185 7l2 2-3 2-1-2zM35 8l3-1 1 3-2 2-2-2zM1197 6l1 2-2 2-1-2zM957 7l-3 1 3 0zM542 7l1-1 1 1-1 1zM320 7l1 0zM1096 6l1-1 3 4-3 1-1-1zM960 6h0zM531 8l0-2 2-1 1 2-2 2zM527 6l1-1 1 1-1 1zM293 6h0zM1234 5l1-1 1 1-1 1zM1228 6l2-2 2 1-1 2zM1198 6l4-2 2 1 1 2-1 1-3 0zM1163 4l3 1 3 3-2 2-2 0 0 1 2-1 3 4-1 2-3 2-3-2-1-3 1-3-3-1zM1092 4l4 8-2 2-1-1-4 2-1-1 1-1-1-3 2-2 0-3zM22 8l0-3 1-1 1 1 2-1 4 2-1 2-3 2-1-2-1 1zM1146 4l1-1 2 1-1 1zM1135 4l1-1 1 1-1 1zM937 4l0 1 1 0 0-1zM99 5l0 1 2-2 1 2-3 2 0 1 4 3 1-3-2-2 0-3zM1208 3l1-1 1 1-1 1zM1076 3l1-1 1 2-1 1zM947 3l1 4 3 0 1-2 2 0-2-2zM902 3l1 0zM624 3h0zM1193 2l1-1 1 1-1 1zM1063 2l-2 1 2 0zM607 2l-2 2 1 1-1 2 2 1 1-1-1-2 1-2zM534 2l1-1 2 2-2 1zM1237 1l1-1 1 1-1 1zM1157 1l1-1 1 1-1 1zM1123 1l1-1 1 1-1 1zM1077 1l1-1 1 2-1 1zM576 2l1-2 2 1-2 2zM1025 47l1 1-1 7 4 4 5-1 0-2-1 0-2-3 2-1 3 2 5 1 1 1-1 3 3 2 0 2 2 0 1 2 1-1 3 1 0-4 2-3 4 3 0 4-2 2 1 1 3 0 1-1 8 4 3-2-4-5 1-2 3 0 3 4-1 2 2 2 1-1 1 1 2-4 3 0 1 2 2 1 2-3 4 1 0-4-5 2-2-3-2 0-1 2-3-2-1-3 1-1 2 2 1-2-4-2 0-2 2-2 3 0 2 3 2-1 3 4 4 0 1 1-1 1 0 4 3-2 3 0 3 4-1-1 2-2 3 2-3-4 4-3 4 2 4-2 2 2 1 8-1 1-2-3-2 0 3 2-4 3-2-1 2 2 5 0 1 1-1 3-2 1 1 2 5-7-1-2 1-1 1 1 3 0 1-3 2-1 0-4 6-4 1-2 3 0 2-3 4 1-1-1 1-2 6 4-1 2 1 1 3 0 0-1 2-1 3 4-1 1 1 1-1 2-3-1 1-2 0 1-2 1-2-2-2 1-3-2-1 3 1 1 0 3 1 0 1-2 2 1 2-1 2 2-1 1-3 0 0 1 1-1 3 4 3 0 1-1 3 5 0 2 1 0 4-6 2 0 2-2 1-3 1 2 2 1-2 2 1 2-2 4-1-1-3 0-1 1 1 1 0 3 1-2 1 1 3 0 1-4 1-1 1 1 2-2 0-3-1-1 2-4 3 0 1 1 1-2 1 0 5 6 0 3-4 3 3-2 2 0 2 2 1-1 2 1-2 3-2-1-1 2 1 2-1 2 1 5-1 1-4-6-1 1 0 2 6 4 0 3-1 1-3-1-1 3 1 4 1-1-1-1 3-1 1-2 5-4 0-2-4-3 2-4 5 7 4 0 3-5 4 0 1 2 3 0 2 2-2 2-1-1-1 1-1-2-3 0-3 4-1-1-2 1 0 2-2 1 5 4-3 3 1 6 3 2-3 4-2-3 0-2-2-2-3 1-3-2 1-3-1-1 2-1 0-4-1 0-2 3-2 0 1 0 2 3-1 2-3 2-2 0 2 1 2-1 4 3-1 3-2 0-4-3-3 0-1-1-1 1-1-2-4 3-3-1-1-2-5-4 0-2 3-3 4-1-3-5-2 1-1 3-2 0 0 4-1 1-3 0 1 2-2 3-2-2 1-1-1-1-1 2-3 0-1-1 4-4 4 0 1-1-4-6 0 3-3 3-2 0-4-6 0-6 6-7-1-1-3 1-3-1-2 6-1-1-3 0-1 1-3-2-2 1 6 1 1 1 0 4 3-1 2 2-2 2-2-1 2 2-1 2 2 1 0 2 1-1 3 0 2 3 2 1-4 3-1-3-2 1-6-3-4 0 0 1-2 1 1 3-2 2-2-1-4 4-2 0-1 2-3 1 3 1 2 3-1 2-2 0-3-2-3 1-1-1 3-2-2 1-3-4 0 3-1 1-2-2 1-2-1-2-3-2 0-2 2-3 2 3 2 1 4-3 2 2-2 3 2 2 3-4-1-2 1-7 2-1 2-3 2 1 0 2 3-4-1 0-1-2-1 0 0 2-3 2-1-2-3 0 0 3-1 1-6-2 0 5-1 1-6-5 1-3-3 2 2 3-1 3-2-3-6-1-2 2 1-1 3 1 2 2 0 3 1 1 1-1 2 1-2 2 0 2 6 3 0 1-2 1 0 4-2 4 2-1 0-3 2-2 3 1 2 3-4 6 0 1 2 1 0 4-2 2-4-3 0 1 2 1 0 5 3 2-2 3-3 1 4 0 1 3-2 2-2 0-1 2-4 1-1 2-8-1-5 4 0 4-2 3-1-2-3 2-3-1-3 2 0 5 2 3 0 2-3 5-6-1-2 3 0 2-1 1-3-1 0 2-2 1-1 2-1-2-2 1 1 2-1 1-3 0-4-4-2 0-2 4 3 5-2 3-3-2 1-1-1-2-2 1-6-3 0 2 2 0 2 3 9 3 183 0 0-3-1-1 1-1 0-84-3 1-2-2 1-3-2-1-1 1 0 4 1 1-2 2-1-2-1 1 1 2-2 1 0 1 3 2-1 1-3 0-1-3-3 2-1-1-2 2-3-3 3-1 0-3 2-3 5 1-1-3-6 2-1-1 0-3-1 1-2 0-2-2-1 1-2-3-2-1-2-4 0-2 2-1 0-4 3-1 2 2 0 2 2-3 0-2 2-1-1-2 3-3 3 4-1 3 2 0 1-2 1 2 1-1 3 1 1-1 3 0-1-3 1-1 5 1 0-5-4 3-6 0-2 2-1-1 0-6-5-6-1 2-1 0-1-2-1 1-2-1 1-5 5-2 2 2 1 4 2 1 1 3 1 0-1-2 2-3-3 0-1-1 2-4 1 0 1 2-1-5 2-2 4 4-1 4 3 1 3 3-2 4 2-1 0-4-1-1 1-1-1-1 1-1 0-55-1-1 1-3-2 1-1 3-3-2 2-1 1-3-2-1 2-2 2 1 1 2 0-10-39 0-1 1-1-1-27 0 2 1-1 3-4 0-3-4-8 0-2 2-1-2-17 0-1 1-1-1-65 0 2 2 0 3-2 2-1 6-2 1-2-2-3 0 0 4-5 3-4-1 0 2 2 2-1 1-5-1 1 4-3 2-1 2 2 7-3 2 1 1 0 3-3 2 1 1-1 4-4 2-4-4-4 4-2 0-2-2 0-2zM934 0l0 1 3 1-1-1 1-1zM910 0l-3 1-2 3 2 4 3-2-1-1zM638 0l-4 0-3 4 3 0 0-1zM631 0l-4 0 2 1-2 3 0 3 2-1-1-2zM616 0l-2 1-1 2 6 3 0 3-4 2 0 1 2 0 2-2 4 4-4 3 0 3 0-1 2-2 2 0 1-2 2 6-1 1 1-1-1-1 3-4-1-3 1-3-3 1-2-3-1-5-1 0-2-3zM602 0l2 1 0-1zM598 0l0 3 1 0 0-3zM569 1l1 3 2 0 1-2 1 2 2 0 3 3 2 0 0-3 1-1 5 2 3 3 6-2-1-2 0-3 1-1-16 0-1 1-1-1-8 0zM252 73l2 0 1 2 3 0 1-1 1 2-3 2 2 1 1-1 11-1 2-4 2 1-1 1 3 1 4-3 3 0 4 3 2-1 3 1 4-3 2 4 6 0 1 1-1 3 2 1 0-1 3-2 0-2 2-1 7 6 2 0 0-2 2-2 5 1 1 2-2 1 0 1 2-1 4-5 4 0 3-2 3 0-2-3 0-2 3-3 3-1 1 3-3 4 1 3 4 0 3-3 2 2 0 2 3 1 1-1 4 0 1-3-3-2 0-1 2-1 5 4 1 4 1-1 1 1 2-1 2 1-2 3 1 1 7-4 1 3 3 0 1 1 0 3 1 0 3-4 4 4-3 2 8 4 0 1-2 1 2 3 3-1 2 2 0 2 2 1 2-2 1 1 3-1 3-3 5-1 4-3-1-2-3-1-4 3-2-2 4-5 0-3 1-1 3 1 2 2 0 2 1-2 7 1-1-3-5 1-2-2 3-3 3 1-2-4-3 0 1 2-1 2-4-3 0-4 4-3 2 1 1 2 5 1 2 2 0 5 5 5 1-1 3 1 2-4-2 1-3-4 2-6 2-2 2 0 1-5 2-1-2 1-1-2 2-2 5 1 1-2 2-1 2 2-2 1-3 4-3 0 1 4-2 1-1 3 2 0 1-2-1-1 1-1 3 1 2-1 3 2 0 1-4 2 0 1 3 2 2 0 2 2-1 1 1 4 2-1 2 1-1 1 2 1 0 7-2 2-1-1-4 0 1 3-2 2-4-2-1 1 0 3-2 2-4 0-1 1-4-3 1-2 4 0 1-1-1-1-5 3-1-1 1 1-1 3 2 2 0 2-2 1-1 6-2 2-2 0-1-1 0-4-2-1-2 1-1 4 1-1 3 4-1 1-5-1 0 1 2 2 0 2 3 1-1 5 2-2 2 3-2 3-2-1 1-1-6 2 1 5-2 2 0 6 1 2-2 2-2-1-2 2 0 4-3 5 2 3-2 3 1 1 0 3-2 1 1 3-1 9 1 1 0 7 1 1-2 4 2 2 0 5 143 0-2-2 2-3 4 0 1 2 2 0 1-3 5-1 2 3 2-3 3 1 3-2 0-3-3 0-1-1 0-2 2-2 0-3-1-1 1-2 2 1 2-1 3 5 0 2 1 0 1-3-3-2 0-3-4-6-1 0 2 2-1 1-2-1-4 1 1 6-1 1 0 3-2 2-1-1-1 1-2-3 3-1 1-2-1-2-2-1-4 2-1-1 0-2 2-2 1 1-1-1 1-1 4 0 3-3 4-1 0-3-1-1 1-1 5 1 0-4 1-1-1 0-1 3-2 0-2-2 0-1 4-2 0-1-6-5 0-2-2-2 1-1-4-3 3-2 0-1-4-1 0 3 1 1-2 3-2 0-4-5-3-1 1-2-1 1-4 0-3-5-1 2-2 0-2-2 0-2 4-2-2-1 0-4-1-1 1-2-1-2 3-1 2 3 3-1-2-3-2-1-3 1-1-1 1-2 3-1-1-1 1-2 2 0 3 2 0 2-2 1 1 1 1-1 4 0 3-3 1-8 2-1 1 1-1 2 5 4 0 3 1 0 0-6 4-2-3-2 0-2 3-3 1-3-1 2-2-5-4-2 2-4 2 1-1-2 3-2 1 3 3 2 1 3-1 3 3 0 1 1 7-2 2 1 1 2 3-1 2 2 1-1 2 1 3-3 0-3-2-1-1-3 4-2 1 1-1 3 2 0 1-1-2-5 1-1 7 0 1 2-1 1-2-1 1 3 4 0 1-1-1-2 3-2 2 2 0 3 1 2-2 1 1 1 2 0 2-2 1 1 1-2 2 0-1-2 2-3 0-2 0 2-2 2-1 0-2-3 3-1 0-2-2-3 1-1 3 0 3 4 4 0 2 5-5 3-1 3-2 1 2 3 0 2 1 0 0-2 2-1 3-4 2 0 1 1 4 0 2 2-3 4 0 2 4-3 2 0-3-6-1 1-4 0-1-1 2-1 3-4 3 0 3 3 1 0-1-1 1-2 2-1 2 1 1-3-1-1-1 1-1-2 2-1 0-3 3-3 2 1-1-2 1-3 2 1 0 2 1-1 2 1 3-4 3-1 1 1 0 3-5 4 0 2 3 2 4-1 0-2-3-2 2-2 4 0-1-3 1-1-2-1 0-3 1-1-1 1-1-3 1-1 6 1 1 2 3-1 1-3 3-1 0-1-2 0-1 2-3 0-1 1-2-1-1 1-2-5 2-3-2-3-2 2-1-1-2 1-2-2 2-3 3 1 2-2-4-1-1 2-4 1-1-1 2-2 0-1-2-1 1-1-5 2-1-1 0-3 1-1-2 0-4-4-4 0-3-5-5 3-2-3 0-4-2 0-2-2 1-1-4 6-3 1-2-3 0 2 3 1 2 3-2 3-3-2-1-3-1 1-6-1-1 1 1 1-1 3-3 1-1 3-3 2-2 0-3-4-2 0-1 1 1 2-6 5-3 1 2 1-1 2-4-1 1 2 2-1 3 0 1 1-2 5-2-2-3 0-1-1-1 1-1-2-2-1-1 1-4 0-4 7 4 0 2 4-2 2-3-2-2 3-3-1-1-2-2 0-3 3-2 0-3 4-3 0-1-1-2 1-1-1 1-1-2 1-1-1 1-2 8 0-1-1 1-1 3 0 1-1-1-4-2 0 0 4-1 1-9-1 0 3-3 2-2-3-2 1-2 3 1 1-1 3-3-1 1-2-2-1-1-2-6 3-2-1-1 1-5-1-3 5-1-2-3-2-6 1-1 2-1-3-3-2 0 1 2 1-3 2-2 0-3-5-1 0 1 2-4 3-3-3-2 0-1-2-3 1-4-4 1-3-4-3-3 1 0 2-2 2-2 0-2-3-3 0 0 1-3 2-1-1 0-4-3-2 1-1-1-1 1-5 3-2-1-1 1-3-2-1 0-2 1-1 1 2 2 1 3-2 1 2 3 1 1-3-1 0-2-3-1 0-1 2-2-3 3-2 1 1 2-1 2-3 2 2 1-2-2-3 5-3 2 1 1-2 3-2-2-3 3-2 1-2-1-1 3-3 2 1 3-2 3 4 1 0 1-2 1 2 3-1-2-1 3-4 3-2 1 2-2 1 3-1 5 4-1-4 2-3-1-3 1-1 4 0 1 1-2 5 2-1 2 3 4 1 3-2 2 0-2-3 2-3 2 2 0 2 1-1 6 1-1-2 4-4-2-3-14 0 2 4-2 2-3-3 0-3-211 0-4 5-2 0-1 3 1 0 1-3 1 1 2-2 3 1-2 6-2 1-1 2-3 0 1 5 3 2-2 2-5-4-2 1 0 2-2 2-2-1 0-2-1 3-3 0-1 2-4 3-2-1-5 3 1 1-2 2 0 2 4 2-2 4 0 3 1-2 1 1 4-1 2 2-2 4-1-2-3 1 3 0 1 1 0 3-2 4 0 8 3-2 1 1-1 3-4 0-3 3-3-4 0-3 3-1-1-1-2 0-2-2-1 2-4 1-1-1 2-1 0-2-5 0-2 2-2 0-2-4 2-1 0-2-2 3-4-1-1 2-4-3-4 5-1-2-5 0-4 3-3 4-2 1-2-2-3 4 0 3 1 1zM89 0l3 4 2 1 1-3 5-1 0-1-3 1-2-1zM42 2l1-1 5 1 1-2-4 0-1 1-1-1zM0 2l0 69 2 3-2 1 0 4 5 3 3 0 1-1-3-1-2-3 2-2-1-2 2-1 1 2 0-3 4-3 1-3 3 1 0 3-3 2 1 0 1 2-3 3-2 0 2 1 1-2 2 3 4 3 1 0-4-2 2-2 6 2 0-1-2-1 1-2 4-3 2-3 4 0 1 2-3 1 0 2 2 3-3 2-1 3 2 0 2 2 1 0 1-3 3-3 5 3 1-1 1 1-1 2 3 1 2-1 1-2 2-1-2-4 0-4-4 4-1-2 3-4 4 0 1-1 3 1 1 2-1 4 1 1 9-1 0-1-5-4 3-3 1 1 3 0 0-1 2-1 2 6 3-1 1-3 3-3 5 0 2 1 2 4 1-1 3 1 3-2 2 0 1 1-1 2 2 1-1 3 2 0 1-2 3 0 1-1 1 2 6-3-3-3 2-1 0-1-1 1-2-1 2-3-3-2-1-3-4 2 4 1 3 3-1 1-2 0-3 3-1-1 0-3 1-1-1-1-4 1 1 1-1 2-2-1-1-2 2-3-2-1 0-3 2-3-4-3 2-2 2 1 2-1 1 3 1-1 2 1-5-8-2 0 0 2-4 2-3-1-1-3-2 0-1 2-1-2-1 0-1 3-1-3-1 1-1-1-2 1-2-3 1-2 2 1 2-1-2-3 4-3 3 2 1-2-1-2 2-2 6-3 1 2 5-3 0-4-1 1-3 0-2-2-3 0-1 1-3-1 2-4 3-1 2 1 2-1 0-3-1-1 2-1-1-1 1-1-1 0-1 2-5-1-1-1 0-2 2-1-1-2-2 2 1 2-1 2-1-1-4 1-4-6-2 0-4 3-2-2 4-3 0-2-2 0-2 3-2 0-2-2-3 0 0 4-1 1 1 3-1 1-2-1-2-3-4 1-2-2-3 2-2-2-2 1-2-2-3 0-3 2-2-2 0-2 1-1 4 1-1 0-1-2-10 0-1 1-1-1-7 0-2 3 2 5-1 1 4 3-3 3-3-1-3 1-2-2 1-3 2 1-1-1 0-4-4 1 1 4-2 2-2-1-1-2 0 1-2 1-3-3 2-2zM3 0l0 2 5 0 1 1 4-3 2 1 0-1z"/>
<path fill="#8ecf5e" stroke="#8ecf5e" fill-rule="evenodd" d="M1219 203h0zM553 203l1 0zM220 203h0zM1230 202l0 1zM933 203l4 0-1-1zM178 202l0 1zM74 202h0zM1220 201h0zM1078 201l1-1 1 1-1 1zM545 201l1 2 0-2zM223 201l0 2 1 0zM101 201l-1 0 1 1-2 1 1 0zM89 201l1 2 3 0zM460 200l1-1 1 1-1 1zM233 201l3 1-1 0-1-2zM1217 199h0zM1066 200l4 0 1-1zM1061 199l-2 0-1 2 3-1zM923 199h0zM491 199l-2 0-5 3 1 1 2 0 1-2 2 1zM264 199l0 1zM226 200l1 3 4 0 0-3-3 0-1-1zM202 199l-2 3zM1185 197l1 2-2 1-1-1zM506 203l13 0 0-3-1-1-2 2-1-1-4 2-2-4-1 2 1 2zM468 198l1-1 1 1-1 1zM446 198l1-1 1 1-1 1zM444 198l1-1 1 1-1 1zM1214 199l-2 0-2-2-1 1 1 0 1 2-4 2 0 1 4 0zM493 201l1 0 1 2 5 0 0-1-2-1 0-3-1-1-1 1 2 1zM464 196l1 2-3 2-1-2zM230 197h0zM205 197l0 1 1 0 0-1zM1203 196l1-1 1 1-1 1zM910 203l0-2-1 2-2-1 1-1 0-4-1-1-3 0 2 2-1 2-4-3-3 2-3-2 0 2 2-1 1 2 4 3zM509 196h0zM124 198l1 3 4-3 2 1-2-3-1 1-2-1zM1210 195h0zM239 195l-2 1 2 0zM34 195l1 0zM1217 194l4 4 2 0 1-3-5 0zM960 194h0zM478 196l2-3 2 2-2 2zM1075 193l-1 1zM912 193l0 1 1 0 0-1zM547 193h0zM539 193l0 1 1 0 0-1zM256 193l-1 2-2 1-1-1-3 2 3 1 2-2 3 0zM453 192l1-1 2 1-1 1zM228 192l2 3 2-1 0-1-3 0zM214 192l-2 1 0 3 3-1zM171 192h0zM450 190l1 2-3 3-1-3zM233 191h0zM222 191l-1 3 2 3 0-3-1-1 2-1zM200 191l-1 0 0 3zM128 193l1 0 1-2 1 1 2 0 0-1-4 0zM112 191l0 1zM859 190l1-1 1 1-1 1zM832 190l1-1 2 1-1 1zM512 190l2-1 1 2-1 1zM1181 188l1 1-1 2-3 2-2-2zM915 189l1 0zM826 189l1-1 2 1-1 1zM531 189l0 1zM492 190l1-2 2 1-2 2zM484 189l1-1 1 2-1 1zM1205 188l-1 0 1 2-4 8 1 2 2-1 0-2 2-3-2-3zM500 188l2-1 2 3-3 1zM264 189l3-1-3 0zM571 187l0 1zM477 186l2 0 2 4-3 6-2-1 1-3-2-2zM172 187l-2 2 2-1zM152 187h0zM122 187l1 0zM1182 186l2-1 1 3-2 1zM491 186l1-1 1 1-1 1zM460 187l2 3 2 0-1-1 1-1-1-2zM268 186h0zM197 186l1 1zM1088 185l1-1 2 1-1 1zM535 185l0 1 1 0 0-1zM533 185h0zM487 184l2 3-3 2-1-1zM447 185l1-1 1 1-1 1zM449 184l1-1 1 1-1 1zM143 184h0zM124 184l1 1zM891 183l-3 0-2 2-1-1-1 2-3 0-2 2 1 2 1-1 3 2 1-1 4 1-1-3 3-3zM859 183l1 1zM501 183l1-1 1 1-1 1zM219 183l1-1 1 1-1 1zM105 183l1 1 0-1zM1195 181l1 1-1 3-1-1zM809 182l1-1 3 1-1 1zM494 182l3-1 2 2-2 2-2-1zM460 182l0 1zM124 182h0zM552 181l-2 1 1 2 2-1zM463 181h0zM1193 179l1 1-1 3-1-1zM888 180h0zM119 180l-1 1 1 2 1-1zM84 180h0zM852 179h0zM226 179l1-1 2 1-1 1zM140 179l1-1 1 1-1 1zM109 179l0 1zM1182 178l1-1 1 1-1 1zM751 178l3-1 1 2-3 1zM474 178l1-1 1 2-1 1zM102 178l1 0zM1166 177l1-1 1 2-1 1zM746 176l2 2-3 4-1-3zM276 177l-2 1zM269 176l1 0zM225 175l1 1-1 1 1 2-2 3-3 1-4-6 4-2 1 2 1 0 0-1zM211 175l4 2 0 1-2 1 1 1-1 2-3-2 1-1-1-1zM137 176l2-1 1 2-2 1zM110 176l0 1zM68 176l0 1 1 0 0-1zM23 176l0 1zM1113 175l1-1 1 1-1 1zM874 175l1 0zM791 175l1-1 2 1-1 1zM738 175l1-1 1 1-1 1zM505 176l-1 2-3 0-3 2-2 0-2 2-2-1-1-3 2-3 6 2 4-3zM247 175l0 1zM245 175l0 1zM163 175l2 1zM1134 174l3-1 1 2-3 1zM886 174l1 1 0-1zM866 174l1 3 2 0-1-1 1-1zM536 175l-1-1-1 2zM249 174l1 0zM861 173l-5 3 1-1 1 1 2-1zM816 175l2-3 2 1-1 3zM134 173l1-1 1 1-1 1zM110 173l0 1zM9 176l3-2-3-1 1 1zM1206 171l2 2-1 3-2-1 1-1-1-1zM1199 171l2 1-1 3-3-2zM1160 172l1-1 1 1-1 1zM1095 172h0zM743 172l0 1 1 0zM120 172l-1 2 3 4-1-3 2-2zM47 172h0zM1193 171l2-1 1 2-1 1zM876 171l-1 0 0 1zM455 171l-1 2 2 1 0-1-2-1zM78 171h0zM1209 171l2-2 2 2-1 1zM1149 170l1-1 2 1-1 1zM1100 170l1-1 1 1-1 1zM839 170l1-1 1 2-1 1zM765 170h0zM138 170l1-1 1 1-1 1zM1235 169l-1 3 1 2 2 0 1-2-2 0-1-1 1-2zM1115 171l0-2 2-1 1 2-2 2zM873 169l0 1zM788 168l2 3-3 1 1 1-2 1-1 2-2-1-1-2 4-5zM537 169h0zM457 169l1 3 2-1zM454 169h0zM52 169l-1 1zM1146 168l1-1 1 1-1 1zM1124 168l3-1 3 5-1 1-4-1-1-1zM1110 167l1 2-2 1-1-1zM925 168h0zM494 168l-3 2 1 2 2-2zM447 168l1-1 1 2-1 1zM172 168l1-1 5 1 1 3-1 1-5 0-1-1zM83 168h0zM31 168l0 1zM5 168l-1 2 3 2 1-3zM1169 166l3 1 0 3-2 2-2-1 1-2-1-2zM868 167l1 3 1-2zM811 167l1-1 1 2-1 1zM761 168l3 0-1-1zM462 167l0 2 4 2-2 4 1 0 2-5-2-3zM241 167l1-1 1 2-1 1zM212 167l1-1 2 2-2 1zM9 167l1 1 1-1zM1209 166l3-1 2 3-2 2zM1203 166l1-1 2 1 1 2-2 2-2-2zM1141 166l1-1 1 1-1 1zM1132 166l1-1 2 1-1 1zM850 166l1-1 1 1-1 1zM770 166l0 2 3 0zM512 166l1 1 0-1zM150 168l1-3 2 2-2 2zM43 166l1 0zM19 166l0 3 1 1 1-1-2-1zM1208 165l1-1 1 1-1 1zM867 165l-6 1-1 2 1 2 5-3zM541 165l-2 0 0 3 3-2zM238 164l3 4 0 4-3 2-2-2 0-2-2-3zM218 164l1 2-3 2-1-1zM141 164l1 1-3 4-3 1-1-1 1-3zM106 164l1 3-5 3-2-2 1-2 3-2zM1194 164l1-1 2 1-1 1zM1191 163l1 1-1 6-4 2 1 1-2 4-2 1-2-3-3-2-1 1-2-4 3-3 2 0 3-4 1 3-2 2 1 1-1 1 3 0 1-2 2 0 0-4zM843 164l1-1 1 2-1 1zM534 164l1 2 0-2zM484 165l1-2 2 1-2 2zM262 164l1 2 0-2zM228 164l1-1 1 2-1 1zM204 164l1-1 1 1-1 1zM24 166l-2-2-1 3zM0 164l0 3 1-2zM571 163h0zM505 163l0 1 1 0 0-1zM472 163l-1 0-1 2 2 0zM1195 162l1-1 1 1-1 1zM1168 164l0-2 2-1 1 2-2 2zM456 162l2 2 1-2zM107 162l1-1 1 1-1 1zM1174 161l1-1 2 2 2-2 1 3-4 2zM834 161l2-1 3 4-1 1-2-1-1 2-1-1zM543 161h0zM526 161l3 4 0-2zM483 161l1-1 1 2-1 1zM172 161l1-1 2 1-1 1zM109 161l1-1 1 1-1 1zM40 161l0 2 1 0zM30 161l1-1 1 1-1 1zM1236 160l0 2 2 2 0 3 1 1 0-4zM1229 160l0 1zM1212 162l1-3 5 0 1 1-3 5zM866 160l-2 0 1 2zM823 161l1-2 3 1-2 2zM799 159l1 2-2 1-1-1zM446 159l1 2-2 3-1-1 0-3zM108 160l1-1 1 1-1 1zM1211 158l1 2-2 1-1-1zM1179 160l1-2 2 1-2 2zM898 159l0 4 1-2zM789 159l1-1 1 1-1 1zM783 159h0zM1153 166l3-4-2-2 2-3 6 5 3-1 3 1-8 7-2 0zM1149 159l2-2 2 2-1 1zM925 158l0 2zM817 158l2-1 2 4-1 1-2-1zM811 158h0zM527 158l0 1 1 0 0-1zM215 157l1 2-1 2-2 1-1-2 1-2zM172 158l1-1 1 2-1 1zM122 158l1-1 1 1-1 1zM63 158l1 0zM485 157l-2 3-2 0 0 2 4 5 1-2 2 0 0-2-3-2 1-3zM445 157l1-1 1 1-1 1zM21 158l-2-1-1 1-3 0-1 2 1 2 2 0 0-2 1-1 2 1zM1164 156l1-1 1 1-1 1zM1160 156l1-1 1 1-1 1zM206 158l0-2 2-1 1 2-2 2zM140 156l1-1 2 1-1 1zM108 156l1-1 1 1-1 1zM57 156l0 4 3-1 1-2zM1133 154l1 3-2 2-2 0-2-2zM775 155l0 1zM480 155h0zM475 155l-1 5 0-1 2-1zM247 155h0zM212 155l1-1 1 2-1 1zM173 155l2-1 2 2-2 1zM101 154l1 2-2 1-1-1zM1130 154l1-1 1 1-1 1zM739 153l1 3-2 1-2-2zM488 156l0 1 2 1-1 2 2 0 0-1 2-1 1 1-1 1 2 1 0 3 2 0 1-6-1 1-3-1-2-4-2 2zM489 154h0zM456 154l-1 2 1 0zM230 154h0zM189 154l1-1 2 1-1 1zM136 153l3 2-1 3-2 0-2-3zM68 154l0 1zM47 154l1-1 2 1-1 1zM913 153l1 0zM896 153h0zM426 153h0zM235 153h0zM233 153h0zM110 156l2-1 1-2 3 1 1-2 3 6 2 0 2 2-1 1-4 0-1 2-1-1-1 1-1-1 0-2 2-2-1-2-2 0-3 3zM33 153l1-1 1 1-1 1zM1149 151l1 1 0 3-1 1 1 1-2 3-2 1-1-1 1-1-1-3zM857 152l1-1 1 1-1 1zM218 152l1-1 1 1-1 1zM210 152l1-1 1 1-1 1zM105 152l1-1 5 0 1 2-2 1zM815 151l2 1zM471 152l-2-1 1 2-2 2-3 0-1 1 2 2 3 0 0-2 3-1zM461 151l0 1zM215 151l1-1 1 1-1 1zM197 150l1 1-3 6 1 1-1 2-3-3 0-2 2-3zM1142 150l1-1 3 3-2 1zM934 150h0zM800 150l0 3 3 0 0-3zM519 150h0zM456 150l0 1 3 0zM242 150l0 1 2 0 0-1zM213 150l1-1 1 1-1 1zM75 150l-1 0 0 1zM72 151l-2-1-1 2zM34 150l1-1 1 1-1 1zM14 150l2 0zM1162 149l1-1 3 1-2 2zM236 149h0zM117 148l1 2-2 1-1-1zM37 149l-4 1 0 4 1 0 2 3-1 1-1-1-2 1-1-1-1 2-3 1 0 3 1 1 2 0 0-1 3-2 3 4 2 0-2-3 2-2-3-1 2-3-1-1 3-1-2-1zM1194 148l1-1 1 1-1 1zM1151 147l1 2-2 1-1-1zM107 148l2-1 2 3-3 1zM67 148h0zM1193 147l1-1 1 1-1 1zM789 147l0 1 2 0 0-1zM785 147l0 1zM776 147l1 0zM524 147h0zM487 147l1-1 1 1-1 1zM242 147l-1 1 1 0zM220 147l2-1 1 2-2 1zM95 146l1 3 3 1 0 2-2 2-5-2 2-3-1-1zM45 148l1-2 2 1-2 2zM1125 147l-2-1-1 3zM888 147l-1-1-1 1zM880 146l1 0zM837 146l1-1 1 1-1 1zM763 146h0zM110 146l1-1 1 1-1 1zM822 146l2 1 3-1 2 4 1-1-1-3-2-1-4 0zM815 145h0zM758 145h0zM728 145l0 1 1 0 0-1zM71 145l2 1 0-1zM1214 143l3 4-1 3-4-3 2-1-2-2zM1207 144l1-1 1 1-1 1zM918 144l0 1 1 0 0-1zM844 144l0 2zM766 144l0 1zM760 144h0zM488 144l1-1 1 1-1 1zM423 165l2 3 0 2-3 3 2 3-1 1 1 3-2 6 1 1 1-1 2 1-1 1 1 1-1 6 2 1-1 3-3 2 1 2 32 0-1-1 1-3 2 2 1-1 1 1-1 2 1-1 4 0 1 1 3-4 6-1 2 3 3 1-2 1 2-1 1 1 2-1-2-3 2-3 3-1 1 1 1-1 1 2 1-1 2 1 1-1-1-3 2-2 3 1-1 4 2-1 1-2 2 1 2-1 3 5 2-1 0-3-2-2 1-1 3 0 2 3 3-1 3 3 2 0 3 4 3 0-1-3 3-3 2 0 0-1-5-2-2 0 0 1-3 2-2-1-1-2 4-5-5-1-4-5 2-1 1-2 5 1 2-3 6 4 1-1-1-1 6-5 0-1-1 1-3-1-3 4-3 1-1-2 2-1-3 0-2-2 0 2-3 1-1 2-1-2-2 0-2-2-2 1-2-1-3 1-1-2-2-1 0-2-3-2 2 3 0 2-2 3-1-1-4 3-5-6-2 3 1 1-1 2-1-1-3 0-3 2-1-2-2 0-5 3-2-1 1 5-3 1 0 2 2 1 1-3 3 1 1-2 1 1 0 4-3 3 0 3-2 4-2-1-1-3-2 0-2 4-3-1-1-3-3-2 2-4-1-2 2-2 0-4 2-1 2-3-3-1-2 4-3 1-2-3-4 0-1-1 1-1-2-1 4-5-1-2-3 2-1-1 1-3 2-2 2 1 2-1 0-1-6-3 4-2 0-6 1-2 3-2-1-2-2 1-1 3-3-1-1 3 2 3-1 1-12-6 1 2-1 1-3-2-2 2 1 2-2 1 0 6-3 1zM447 144l1 0zM1231 143h0zM1187 143l1-1 1 1-1 1zM1153 144l1-2 2 1-2 2zM531 143l1-1 1 2-1 1zM499 143l2 3 0 2 1 1 3 0 2 2 0 5 1 1 2 0 0-1 2-1 1 2 3 0 2 2-2 1 0 1 5 2-1 1-5-1 1 2-1 1 3 2 5-1-2-3 1-2-2 0-2-3 0-5-2-4-2 0-3 2-1-3-2-1 1-3-1-2-4 3-2-1 1-1-1-1zM470 143l0 2zM443 143h0zM216 143l2-1 2 3-3 2-1-1zM118 142l2 2-1 3-4-3zM1163 142l1-1 1 1-1 1zM1126 142h0zM894 142l1 4 1-2-1-2zM866 142l1 3 1 0-1-2 1-1zM865 153l-1 1-2-2 0-6-1-2-2 1-5-3 2 5-4 3-4 0 0 1 2-1 3 1 0-1 2-1 1 3-2 1-1 2-1-2-4 5-4-1 0 1-2 1-4-3 3-1-2-2-2 2 0 3-3 3-3-2-3 0-1-1 1-2-1-2-5 0-3-2-1 3-2 2-1-1 0 4-1 1-2-1-4 1-1-1 0-6 2-2 5 2-2-1 0-2-3 1-2-1-1-2 1 3-1 2 1 2-4 3-3-2 1-2 1 0-1 0-6 7-2 0-1-1 1-3-3-4 1-1 3 1 2-3-2-1 0 1-3 2-3-3 3 3-1 1 1 2-2 3-2-1 1-3-2-3-3 0-1 1-2-2 0 2 3 2 1-1 3 5 0 2-2 2 1 3-1 1-2-1-1 2 1 4-2 3-2-3 0-4 0 1-3 2-3-1-9 5-2-1 0-2-1 1-2-1-2 2-4 0-2-3-2 1-2 3-1-1-1 2-2 0-3-2 1-1-1-4 2-1-1-1 1-4-3-1 1-2-1-3 2-3 2 1 2-2-3 0-3-3-2 0-6 7-3 0-1-1-4 1 3 2-4 6-1-1-2 1-1-1-4 1-1 3-3 3-2 0-5 7 1 1-1 2 0 6 2 7-1 3 2 3 0 3 123 0 1-1 1 1 2-1 1 1 21 0 0-1 5-4 4 3 1 2 1-1-2-1 1-3-2-2-3 0-1-1 1-3 2-1-2-3-1 0-2 3-4 0-1 1-2-1-1 3 1 3-2 2-4-5-3 0-1 1-2-1 0-2 2-2 1 2 4-2 2 1 4-5 3-2-1-2-4 0-1 1 0 4-1 1-3-1 0 2-2 2-1 0-3-4 3-2-4-2 4-3 5 1 2-2 0-1-3-2-1-4-3-2 4-3 3 0 1 1-1 2 3 0 1 1 0 4 3-4 0-1-2-1 2-6-2 0-2 2-2-3 0-4 2-1 3 2 0 2 2 0 0-5-1-1 1-1 4-1 1 3 2 1zM841 143l-3-1-4 2 1 4 2-1 3 1-1-3 2-1zM753 142l3 2 0-2zM734 142h0zM532 142l1-1 1 1-1 1zM434 142h0zM241 142l-1 0-1 2 2-1zM916 141l1 0zM907 141l-3 1-2-1-1 1 0 2 3 3-2 2 1 1-1-1zM909 140l1 2-1 2 3 1 1-2-3-1zM97 140h0zM1140 145l2-1 0-3 2-3 3 1-1 3 3-1 4 2-2 3-6 0-1-1-3 1zM769 139l0 1 2 0zM1186 138l1-1 1 1-1 1zM1157 138l1-1 1 1-1 1zM868 138l-1 2zM816 138h0zM762 138l1 2 0-2zM759 138h0zM510 138l-1 2 1 2 2 1 1-4zM485 137l3 1-2 5-1 0-2-3zM179 138l1 0zM1207 137l1-1 2 1-1 1zM1185 137l1-1 1 1-1 1zM1158 137l1-1 1 1-1 1zM855 137l0 1zM819 137l0 1zM774 137l-1 0 0 1zM220 137l1 0zM209 137l-2 1 1 4 1-1-1-2zM1198 136l3-1 3 5 4 2-3 2zM1005 136l0 1 1 0 0-1zM812 136l-1 2-3 1-1 2-1-1-3 1 1 1-1 1 1 1 1-1 2 2-2 1 1 1 2-4 5 1-1-2 2-1 0-3zM98 136l-4 1 3 1zM64 136h0zM19 136h0zM1228 135h0zM1203 135l1-1 3 1-2 2zM1151 135l1-1 1 1-1 1zM1145 135l2-1 1 3-2 1zM839 135l-4 2 4-1zM783 135l-3 2 1 3-1 1-2-1 0 2-3 2 2 1 1-2 2 0 4-5zM12 136l-3-1-3 4 2-1 3 1zM1231 134l1 2-1 1-1-1 0 2 3 1 2-1 1 1 0-2-3 0-1-3zM1197 134l1-1 1 1-1 1zM1156 134l1-1 1 1-1 1zM773 134l0 1zM470 137l6 14 2 0 3-3 1 1 1-2-3-2 4-3 3 5-1 2 1 3 5 0-1-2 2-1 1 2 3 2 3 0 0-2-2 0-2-2 0-3-5-4 1-2-3-2 1-1-1-3-7 1 0 3-1 1 1 1-2 2-3-1-2-2 0-2-3 0-1-1zM462 134l-1 0 0 1zM452 134l2 1zM200 134h0zM148 134l3-1 2 1 1 2-2 1-1 2-1-1 0-3-1 1zM134 134h0zM1222 133h0zM1215 133h0zM886 133l3 1zM850 134l3 2-1-3zM101 133l1 2 0-2zM85 133l-1 1zM79 133l2 0zM1133 132l1-1 1 2-1 1zM882 132l1 0zM148 132l1-1 1 1-1 1zM108 132h0zM1227 131l0 1 1 0zM1142 131l1-1 1 1-1 1zM888 131h0zM512 131h0zM509 131l1 0zM472 131h0zM76 131l1 1 1-1zM863 130l1 2-5 4-2 0 2 4 3-1 0-2 3-2-1-2 2-1zM812 131l1 1-1 2 1 0 2-3 4 2 0-3-1 2-2-2zM741 130l0 1zM477 130l0 3 2 0 0-3zM446 130l0 2-2 2 0 3 3 2 1-2 0-5zM49 130l0 1zM1183 128l1 1-2 3-1-3zM923 129h0zM489 129l-1 1 1 0zM467 129l2 4-1 2 1-1 0-4zM189 129l0 2-2 2-1-1 0 1 2 1 2-1 1 1-1 2 3 1-1-4-3-2 2-1zM256 170l-1-6 1-1-2-2 0-3-2 1-1-2-4 0-1 1-4-1-3 6-5 3-1-1 2-6 0-3-2-1 1 2-1 1-3-1 0 3 3 1 1 2-3 1-3-2 0 7-2 2-2-1-1-4 2-2-1-1 0-3 1-1-1-2 3-4-4-2 1-2-1-1 1-1 6 0 1-1 2 1 0-2-3-2 0-3-3 6-1-2-2-1 0-4 3-1-1-2-3 1 0 1-3 2-3-2-3 1 1 5-2 2-1 0-1-2-5 1-3-4-4 0-1 2-3 2 0 3-1 1-3-1 0-2 2-2-1-2-3 0-2 4-1-3-2 3-3 0-3-2-1 2-2 1-1-1-6 0-1-1 0-2 2-3 2-1-2-4 1-2 2-1-1-3-4 2 1 5-2 1-4 5-2-1-3 4-2-3 1-1-1-1 1-1-1-2 2-3 0-2-3 1-5-3-2 1-1 2-5 2-3 5-2 0-1-2-3 0-1-1-1 3-3-6-1 0 0 4 1 1-6 4-2 0-1-2-2 0-1 2-2 0-3-3 1-3-3 2-2 0-2 2-3-1-2 1 1 3-1 3-3-2-2 1-1-1 1-2-1 1-3-4-3 2-2 0 1 1-1 5-1 1-4 0 2 1-1 1 1 1-8 7 4 3 8 0 3-1 0-4 6-4 1 1-1 2 2 2 0 2-6 4 0 1 4 2 3 5 5 0 2 2 3-1-1-2-1 1-1-2 3-1 3-4 4-2 4 1 2 3 4-2 4 2 6-2 1 2-2 2-4 1-1 1 1 1-1 2-2-1-2 2 1 1 0 4 2 1 1 2 2 0 4 3 1 0 1-2-4-3 1-1 5 0 2 2 1 0 1-2 0-3-1-1 2-2-2-1-1-2 1-1 3 0 5 4 2 6 4 3 0-1-2-1 0-2 2-1-2-3-2 1-2-3 4-2 3 0 2 2 3 0-2-3 2-2 0-3 1-1 2 0 1 2 2-1 2 2-1 3-2 1 4 0 3 2-1 2-5-1-1 3 2 1 5-3 1 1-1 2 2 2 0-3 4-2 0-6 1-1 4 0 2 3 2-1 2 1 1 2 3 1 1 2 4-1 1-1-2-3-3 2-1-1 0-3 3-3 3 1 1-3 3 6-2 3 0 2 3 1-1-6 4-6 1 1-1 3 1-2 3 3-2 2-2-1-1 6 2 1-3 4 1-1 5 4-1 1 2 4 1 0 2-6 1 2 5 0 4 2 3-1 0-4-2-2 1-1-1-3 2-2 0-2 1-1 3 4-1 2 1 1-1 1 1 0 1-2 1 1 1-1-1-1 2-2 3 1-1-1 2-5 3-1-1-1 2-2 2 0 0-2 2-3 2 2-1 2 1-1 2 4-1 3-2 1zM111 129h0zM60 129l-2 3 1 1-2 3-2-1 0 2-2 1 0 1 3-1 1 1-1 2-5 0 0 1-2 1-2-3-4 5-2-1 1 4 1 0 1 2 2-1 2 2-1 3-1-1-1 2-3 1 1 1 2-1 3 1 0 3-1 1-2-1-2 3 2-1 1 1 0 3 2 0-1-3 1-3 1 1 3 0-1-4 2-3-3-2-1 1-1-2 3-7 4 1 0-1 3-2-1-4 2-4 3-2-1 1-2-2zM1237 128l1 0zM509 128l2 1zM217 132l-2-3-3-1-1 2-3 0-1 1-1-2 0 4 5 0 2-2 3 0zM193 128l2 0zM841 127l0 2zM783 127h0zM540 127l-1 0 1 2-1 1-2-1-2 1 1 1-1 2-4 0-1-1-5 4-5 1 3 5 6 2-3 3 8-1 1 1-1 1 0 3 4-1 4-5-2 1-3-3 0-4-2 0-2-3 0 2-2 1-1 2-3 0-2-2 0-2 1-1 1 1 4-1 1-3 3 1 3-4 3 0 1 2 2 1 1-2-3-1zM461 128l-2-1-1 2zM444 127l0 2zM98 128l-1-1-2 3-4-1-1 3 1 0 1 2 2-3 2 1 2-2zM1230 126h0zM509 126h0zM140 126l0 5 2 1 0-6zM22 127l0 2 2 1 2-1-1-3zM882 125l1 0zM845 125h0zM740 125l-1 2 2 0zM444 125h0zM151 125l-1 0 0 1zM96 125l1 0zM943 126l3-1 1 1-1 1 2 0 3-2-1-1-6 0zM901 124h0zM874 124l3 6 1-3-1-2-1 1-1-2zM783 124l0 1zM547 124l-2 1zM492 124h0zM479 124l-3 2-2 0 1 2 4-3zM43 124l0 2 1 0 0-2zM1209 123h0zM1198 123l-1 1zM1049 125l-3-2-2 3 1 1 2-2zM9 123l3 2 3 4 3 0-4-3-1-3zM921 122h0zM824 122l-1 1 1 0zM47 122l-1 1 1 0zM1138 121h0zM446 121l0 1 1 0 0-1zM1199 120l1 0zM1143 120h0zM1049 120h0zM526 120l-4 2 0 4 1 1-1 2 2 1 1-5 1-1 1 1 2-1 0-2zM436 120h0zM110 120l0 1zM783 119h0zM466 119h0zM1181 118l0 3 3 0zM1164 118l1-1 1 2-1 1zM1143 118l1 0zM450 118l0 1 1 0zM56 118h0zM1225 147l-4 0-3-2-2-3-2 1-2-2 0-3-3-4 3-2-2 1-4-5-4 1-2-2 0-2-1 0 0 3-1 1-1-2-3-2-8 3-6-3 0 2-1 1-1-1-1 2-2-1-3 2-3-3-2 3-3 0-3-4 0-2 3-3 3 1 0 1-2 1 0 2 4-1 1-2-1-1 0-3-2 0-1-2-5 3-3 0-2 3 0 2-2 2 0 2-4 2-1-3 3-1-1-1 3-2-1-3 2-1-1-3-4 0-1 2 2 1-1 1 0 3-2 1-2-3-1 1 3 3 0 3-1 1-1-1-2 1-1-2-3 1-1-2-3-1 0-2-2 3-3 1 0 3-1 2 1 0 1-2 2 3-2 2-2-1-1 1-2-1-2 1 0 1 2 0 2 3-1 4 2 1 1 6-7 2-1 2 1 3-1 1-2 0-4 3-4-2-1 1 3 2 0 3-1 1-1-2-2 0-2 3-3-2 0-4-2-1 1 1-2 2-3-1 2 0 1 2-3 2 0 2-3 3 1 4-2 1-1-2-2-1-2 2-1 6-2 1-3 4 1 3-1 3-3 1-3 6-4-1-4 4 126 0-1-3-3-2 1-6-3-3 0-2 1-1 6 1 1 1-1 3 4 0-1-4-2-2-1 1-2-1 1-2 3-2 0-2-2-1 2-3 2-1 6 4 0-2 2-2 4 1 1-2 3 0 3-3 0-2-2-1 1-2 1 0 2 3-3-5 1-2-2-1 1-1-1-3 1-2-1-2 5-3zM741 116l1 1zM531 116l1 3 1 0 1-2zM1154 115h0zM782 115l2 2 0-2zM733 114l1 0zM517 114l-2 1 0 2zM489 113l0 1 1 0zM474 113h0zM745 112l0 1 1 0zM507 112l0 2 1 0zM503 111l-4 3 0 2-3 6-3-1-1-2 1-2-2-1-1 2-3 0-1 1 0 2 1-1 1 2 4-2 3 5-2 1-1 2 3-1 3 2-2 2 0 4-2 3 1 1 2 0 3-3 2 1-2-3 1-2 2 0 2 4 4-2-5-5-7-3 1-6 1-1 2 2 0 2 1-1 4 1 1-2 2 1 3 0 1-1-1-2 1-2-2-2 1 3-4 3-2-4-3 1-2-2zM1059 110l-1 1-1-1 0 2zM453 110l-1 1 0 3 2 1 2 6-5 4 0 6 3 0 0-4-1-1 1-3 4 0 1 2 1 0-1-1 2-2 3 1 1-1-3-3 2-1-4 1-1-1 0-3zM743 109h0zM505 109h0zM738 108l1 0zM505 107h0zM479 106h0zM464 109l1 1 6-1-1-2-2-1zM497 105l-1 3 1-1 1 1zM526 103l-4 1 0 1 4 0zM724 102h0zM484 101l-2 3 3-1zM963 99h0zM508 99l-1 1 1 0zM484 99h0zM469 97l1 1 0-1zM514 96h0zM501 96l1 2zM478 95l-1 1 1 1 1-1zM522 93l-1-1-4 1-1 4 6-2zM503 92l1 0zM499 92l1 2 2 0-1-2zM535 91l0 2 4 4 0 2-2 2-4 0-1-1-2 1-1 4 2 2 6 0 2 3 1 0-2-3 4-8 0-2-2 1-1-3-2-1zM990 90l1 0zM502 90h0zM577 89h0zM498 86l-4 1 2 4 1 0 1-2-2 1-1-2zM564 85l0 1 1 0 0-1zM548 85h0zM538 85l-6 2-3-1 0 2 2-1 5 1zM490 85l-2 2 1 0zM559 84l-1 0 0 1zM515 84l1 3 1 0-1-3zM480 83l0 6 3 1-2 1 0 2 5 1 1-1-2-3 1-2-2 1zM526 82l1 0zM559 81l0 1 1 0 0-1zM547 81l0 1 3 0 1 1-1 3 6 0 0-1-4-3zM618 81l2-1-2 0zM548 79h0zM596 78l2-2 2 1-1 2zM535 77l0 3zM488 78l1 3 4 0 1-1-1-3-1 1-2-1zM485 77l1 0zM568 76l-1 2-2-1-2 2 1-1 3 0zM513 77l-3-1-2 3-5 0 0 1 3 2 3-1-1-1 1-2 2-1 1 2zM472 76h0zM397 79l2-1 2 3 1-2 2 1-1-4-4 0zM611 75l1 0 1 2 2 0zM393 75l1 1 0-1zM602 74l3 2 0-2-1 1zM360 74h0zM500 73h0zM380 73l3 2zM291 73l1 1 0-1zM603 78l-4-2 1-2-4-2-1 3 1 3-1 1-4-3-3-4-2 2-2-1-1 1 1 3-6 4-2-2 0 1-2 1-1-1 1-2-1-2-1 0-1 2 0 3 1 1-1 3 3 1 1-3 3 1 2-3 5-1 1 3-2 1 0 1 7-2 2 3 2-3 4-2 1-3 1 1zM474 71h0zM396 71l-1 0-1 2 2-1zM613 70l-1 1zM352 70l1 0zM1162 69l0 1zM604 68h0zM415 68h0zM618 67h0zM266 67l-2 1 0 2 1 0zM614 66h0zM280 65l2 2-1 3 2-1-1-1 1-2zM638 63h0zM618 63l-1 2 1 0zM1222 62h0zM624 62h0zM359 62l0 1 1 0 0-1zM274 62h0zM371 61l0 1 1 0zM365 60h0zM319 60l1 0zM645 59h0zM625 59l3 0zM381 60l-2-1-3 5 3 0zM74 59h0zM432 58l1 0 1 2 0-1zM429 58l0 1zM403 58l-1 2 4 4 0 3 1 0 2-4zM646 57h0zM1238 56l1 0zM453 56l0 1 1 0 0-1zM386 56l-3 1 0 2 2 0zM371 55l1 1zM52 55l0 1 1 0 0-1zM463 54h0zM399 54l-1 1zM389 54l2 5 2 2 0 3-4 2-1-1-4 1 2 2-2 3 5 1 2-4 3 0 2-7 4 0 0-1-3-1 0-2-3 2-3-1zM1194 54l3 1 0-2zM377 53l0 1 3 2-1-3zM49 53l0 2 1 0zM38 53h0zM12 53l0 2 1 0zM622 52h0zM339 52l2-1 1 3-2 1zM46 52h0zM1213 51l1 0zM1198 51h0zM1111 51l1 2 0-2zM459 51l-1 1 1 1zM386 51l2 1zM6 50l3 1-2 3-3-2zM402 50l0 2 1 0zM1147 50l6 3-1-3-2-1zM377 49l0 1 1 0zM367 48h0zM18 48l-2 2-2 0 0 1 4 2zM1235 47l-1 1 1 1-5 6 5-4zM644 47l0 2 1 0 0-2zM458 47l-1 1 1 0zM2 47l1-1 1 1-1 1zM1229 46l1 2 0-2zM424 46l1-1 2 1 2-1 1 1 0 3-3 2zM0 47l1-2 2 1-2 2zM1157 45l-1 1 1 0zM1138 45l-2 2 1 2 2-1zM1116 45l0 1 2 1zM653 45l0 2 1 0zM457 45h0zM455 45l0 1zM649 44h0zM1164 43l-1 0 1 1-2 2-2 0-2 3-2-1-1 4 3-3 6-2 1-1-2-1zM1108 43l0 1 1 0 0-1zM645 43h0zM378 42l2 2-1 2-3-1zM353 43l1-1 2 1-1 1zM343 42l1 2-2 2-2-2zM1196 42l-1 1 1 3 1-1zM1174 42h0zM338 42l1-1 1 1-1 1zM418 41l-2 1 0 1 1 0zM351 40l2 5-3 2-2 0-1-2 3-1-1-3zM56 41l1 0zM14 41l1-1 2 1 1 2-2 1zM1236 40l-1 0-2 3 2 0zM441 40l1-1 1 2-1 1zM429 41l3-2 4 3-3 2-2 0zM372 40l1-1 1 2-1 1zM1187 42l1 1 3 0 2-1 0-1-4-2 0 2zM1152 39h0zM450 39l1-1 1 1-1 1zM358 39l1-1 2 1-1 1zM40 39l1-1 1 1-1 1zM34 38l3 3-3 4-2-2zM13 39l1-1 1 1-1 1zM638 38l0 2-2 2 1 2 1 0 0-3 2-2zM443 38l1-1 1 1-1 1zM72 38l-1 0 0 1zM41 38l1-1 1 1-1 1zM14 38l1-1 1 1-1 1zM1163 37l-1 3 3 0zM1160 37h0zM19 37l1-1 2 1 1 2-3 1zM1209 36l0 2 1 0zM436 37l2-2 2 2-1 1zM346 36l1-1 9 0 1 1-3 4-3-2-2 2zM321 36l0 1 2 1zM1186 35h0zM403 34l4 6-3 2-3 0-1-1 0-3zM361 34l1 2-2 2-2-2zM356 35l1-1 1 1-1 1zM1183 34h0zM1163 34h0zM1154 34l1 4 1-1 2 1 1-3-3-1-1 1zM338 34l2-1 1 2-2 1zM330 34l-1 0-2 3 2 0zM1161 33h0zM1126 33l-2 1 4 3 0 1-2 1 2 1 1-1-2-3 1-2zM22 33l1-1 1 1-1 1zM1230 32h0zM432 33l2-2 2 0 2 2 0 2-2 1zM404 32l1-1 4 0 1 2-2 2-1-2-2 1zM391 32l1-1 1 1-1 1zM6 32l1-1 3 2-3 1zM443 31h0zM427 31l0 1zM390 31l1-1 1 1-1 1zM75 32l3 0-1-1zM14 31l1-1 2 1-1 1zM1170 30l-1 0-1 3 1 1-1 3 3-2-2-2zM1104 30l-1 0 0 2-2 1 1 6 0-2 4-3zM397 32l1-3 3 0 1 1-2 3zM1178 29h0zM424 29l1-1 1 1-1 1zM391 30l1-2 2 1-2 2zM361 29l2-1 1 2-2 1zM73 29h0zM40 29l2 3 1-1zM1146 28l-2 0-2 2 0 2 0-2 1-1 3 1zM468 28l2-1 2 3-2 2zM402 28l1-1 2 3-2 1zM356 28l1-1 2 1-1 1zM1193 27l-5 2-3 0-1-1 4 2 3-2 1 1zM1177 27l1 0zM466 27l1-1 2 1-1 1zM450 25l2 2-3 4-2-4zM350 26l1-1 1 2-1 1zM0 26h0zM1183 25l2 1zM1165 25l0 2 2 0 0-2zM89 25l0 1zM86 26l-2-1-3 1 1 1-1 2 1 0 1-2 3 0zM66 25l1-1 3 0 1 2-1 1zM3 25l0 3 2 1-1-4zM1191 24l-3 1 0 1 3 0zM441 24l1-1 1 1-1 1zM417 23l1 1-1 3 1 0 1 2-4 3 1 2 1-2 2 0 2 2-2 3 1 2 3-2 2 2 3 0 1 2-3 2-1-2-2-1-3 1 1 3-4 6-4 3-1-3 2-1 1-3-2 0 1 1-2 3-4-2 0-2 4-3 0-3 1-1 1 2 0-1-3-2 2-2 0-2-3-4 1-1 3 1 0-6zM377 24l2-1 1 3-1 1zM357 24l1-1 2 1-1 1zM1194 23l1 2 2 0-1-2zM1170 23l0 1 2 1-1-2zM1130 23h0zM361 23l1-1 1 1-1 1zM341 23l-1 2 2 3 1 0 0-4 1-1zM394 21l4 3 0 3-1 1-2 0-1-1 1-1-3-3zM1234 21l-1 3 1 0zM1202 21h0zM55 21l3-1 2 3-3 1zM1185 20l0 2 2 1 0-2zM1098 20h0zM458 19l3 3 2 0 2 3-1 1-3 0-2 3-2 0 2 2 2 0 0-1 2-1-1-1 3-3 1 1-1 3 1 0 2 3-3 4-2-1-4 1-6-3 1 2-1 1 1 1-2 2-1-3-2-1 0-3 4-3-1-3 2-2 2 0 0-4zM356 19l1 2-4 5-3-4 2-2zM390 19h0zM433 17l1 2 3-2 1 1 1 7 7 3 0 3-2 3-6-5-3-7-3-2zM47 18l0 1 1 0zM1140 17l0 1zM462 19l2-3 4 1 2 3 3 0 2 3-5 2-2-4-1 1-3 0zM36 17l1 0zM28 17l-1 1 3 2zM1133 16l0 5-1 1 1 4-1 1 0 3 2-3-1-2 0-3 1-1zM440 15l1 3-2 2-1-1 0-3zM1149 15h0zM408 15h0zM24 15h0zM479 15l2-2 4 3-3 1zM451 14l1-1 1 2-1 1zM80 21l-2 1-3-2 1-1-3 0-1 1-3-1-5 2-3-3-3 1-1-3-4-2 2 4-1 2-2 1-9-1-1 4-5 2 6 0 1 1 4-2 1 2 4 2-1 2-3 2-3-2-1 1 1 2-3 3-7 2-3-2 1-2-2-5-2-2 1-3-4 0-1 2-3 2-1-1 1-6-3 0-2 1 1 2-2 1-1 2-2 0-3-4 3-2-4-1-1-3-2 0 4 5-2 1 2 4-4 2-1 2-1-1 1 2 0 3-1 1-1-3-3 2 0 1 4 2 0 1-4 3-1 6 3 2 0 1-3 2 2 1 0 3 1 1-2 2 3 1 1-1-1-2 3-2 2 0 1-3-1-5 2-4 3 2 0-1-2-1 1-1 8-1 5 4 0-3 3-2 2 3-2 3 2 2 0 5 1 1 3-2-2-5 1-1 3 0 2-3-1-2 1-3 2 2 1-2 3 2-1 1 1 3 2-1-1-6 1-1-3-2 4-2 1 2 2 1 4-3 0-1-3-1 2-3 1 1 5-1 1 1-4 3 1 4 2 0 0-2 4-5 1 0 2 3 0-4 4-2 2-4 3-2 3 2zM47 14h0zM360 15l2-4 1 1 3-1 2 2 0 3-1 1-3 0-2 3zM478 12l1-2 2 1-2 2zM467 11l1-1 1 2-1 1zM408 11l1 0zM1223 10l1 0zM372 10l1-1 1 1-1 1zM465 8l1 2-2 1-1-1zM461 9l1-1 1 1-1 1zM1122 8l1 0zM1115 8h0zM501 7l2 2-2 3-3-2zM480 8l1-1 3 1 0-1 2-1 7 4-7 6-2-2 0-2-2 0-2-2zM436 7l0 1zM391 7l1-1 1 1-1 1zM452 6l2-1 1 2-2 1zM449 6l1-1 1 1-1 1zM343 6h0zM1134 7l-1 0-1-2-3 1-1 2-2-1-3 5 3-2 1 1 2-2 2 1 1-2zM448 5l1-1 1 1-1 1zM349 5l-1 2 2 3 0 3 1-6-1-2zM454 4l1-1 5 0 1 2 3 1-3 2-3 0-1-2zM375 4h0zM1112 3l-1 1 0 3 2-3zM506 3l1-1 1 1-1 1zM408 2l9 11-1 2 4 2 1 2-1 2-2 1-4-5-2 2 1 2-3 1-1 2-1-3-2-1-3 2-1 3-3 0-1-2 3-3-2-3 1-6 2-1 1 2 1 0-2-2 0-5 1-1 3 1zM375 2h0zM371 2h0zM357 2h0zM1140 1l1 6-1 1 3-4zM1092 1l-2 1zM500 0l1 2-3 2-1-2zM495 1l1-1 1 1-1 1zM1181 0l1 3 2 1 3-1-1-2-4 1zM478 0l-1 0-1 3 1 3 2-1zM322 44l3 3 3 0 2-2 4 1 4-4 2 2-3 5-5 0 3 7 1 0 1-2 1 1 0 3 2-1 4 3 2-3 7-1 3 2 2-1 1 2 1 0 1-2 2 2 1-1-1-4 2-1-1-2-1 0 0 4-1 1-1-1-3 0-1-1 1-1-1 0-1-2 1-1 2 1 1-2 2-1-2-5 5-6 3 2 1 8 1 1 3 0 1-2 3 0 1 1 2-1 2 2 3-1 1-3-1-3 1-2 3-2 1 3-2 1 0 3 2 3 0 3 3 2 2-2 1 1 1-1-1-1-1 1-5-3 1-2 2 1 3-6-3-2 2-3 6 2-2 1 1 4-2 3 0 2 3 1 0-1 2-1 4 2-2 2 1 2-2 4 1-1 5 1 2-1 1-2 6 0 1-1 6 0 1 3 2-2 4 2-1-2 2-2 1 1-1-1-1 1-1-2 1-1 3 0 2-3 1 1-1 2 1 1 5 1 2 3 1 0-2-2 1-1 0-7 2-4 4 2 3-1 3-4 6 0 1-1 4 2-1 1 0 3 4-1-1-3 3-3-3-3 6-8 3 3-1 2 1-2 2 0 0-1-2 1-2-2 0-2 3-3 4-2 1 2-2 3 1 1 1-2 2 0 1-6 3-1 2-4 1 1 1-1 1 1 0 3 2 1-2 2 1 2 4-3 0-3 1-1 1 1 3 0 1-1-5-6 1-1 3 0 1 2 2 0 2 2-2-2 0-3 4-5 4 0-9 0-2 2-2 0-1-2-2 1-2-1-6 0-2 1-1-1 0 1-2 1 1 1-2 3-4-3-1 1 1 1-2 2-3 0-3 3 2 1-1 1-3-1 0-3-2 1-3-1 0-5 2-2-1-1-5 0-2 3-3 0-1-3-2 0-1 2-1-2-8 0-3 2-1 2 1 2 1-1 3 0 1 1-1 1 1 1 0 4-2 2 5 4-3 3-2 0-1-2-2 1-2-2-1-4-3-3-1 0-1 2-2-2-2 0-1 2-4 1 0 1 2-1 1 1-2 3 5 3 0 2-2 3 3 1 0 2-5 3 0 4-1 1-5-3 2-2 1-7-2 0-4-3 0-1 5-4 0-3-6 0-3-3-2-5 2-2 1 1 3 0 1 1 0 3-1 1 2-2 1 2 1 0 5-4-2-4 2-1 2 2 6 2 1 2 1-1 0-3-1-1 2-2-16 0 1 2 2 1-1 1-3 0 1 1-1 3-2-1-1-3-5-1-1-3-1 0-1 2-2 0-3-2-5 0-2 2-2 6 1 5-2 2 2 3-7 3-2 4-1 0-4-5 2-3 6-1 1-3-1 1-3 0-3-5 2-2 6 3 1-1-3-4 1-1 0-3-3-1-9 0 5 0 3 3 0 2-2 2-3-1-1 3-1-2-2-1 0-2-2 1-1 2 1 1 0-1 2-1 2 5 3 2 0 2-2 3-2-5-1 0-2 3-3 0-1-1 3-4-4-3-1-3-3 0-1-1-1-4-9 0 3 3 0 3-5 3 0 2-2 3 0 3-4 2-1-1-7 0 3 3 0 2 2 3 0 5-1 1-4 0-1-2-2 1-2-1-5 0-3-3 0 4 2 2 4-1 2 3-6 2 0 1 3 2-1 1-7-1-3 4zM347 0l2 2z"/>
<path fill="#bde03a" stroke="#bde03a" fill-rule="evenodd" d="M1172 202l0 1zM802 202l0 1 3 0zM839 201l-1 0 0 1zM1178 200l0 2 4 1-1-2zM1086 200l0 2 1-1 4 0-4 0zM1154 198l1-1 1 1-1 1zM799 198l0 1 1 0zM1096 197l-1 0 0 2-2 1 1 3 2 0zM805 195h0zM784 194l3 1 0 3-1 1-4-2zM821 194l3 2 1 5 1 0 2-4-2-2-4 0zM831 193h0zM811 194l3 0 0-1zM430 193l2 4-2 1-1 3-2 0 0 2 7 0-1-2 1-1 3 1-1 2 7 0-4-3-3 0-2-2 3-2 1 1 3 0 1-2-4-2-3 2-3-2-1 2zM1174 192h0zM739 192l1-1 3 0 1 3-2 1zM1125 191l1-1 1 1-1 1zM1108 191l1-1 1 1-1 1zM783 191l1-1 1 1-1 1zM775 191l2-1 1 2-2 1zM736 191l1-1 1 1-1 1zM1101 190l3-1 3 4-4 3-2-3zM1097 191l-1-1-6 4 1 2 5-6zM1133 189l1-1 1 1-1 1zM1109 188l1-1 2 2-2 1zM797 188l1-1 1 1-1 1zM1095 187l-1 0 0 1zM753 187h0zM515 187h0zM1119 185l1 1-1 5-3 1-2-3zM805 186l0 3 2-2zM782 186l1-1 1 1-1 1zM513 186h0zM436 186l1-1 1 1-1 1zM818 184l-1 1 0 3 2 3 1 0 2-4-2-3zM779 184h0zM802 196l-4-6 0-1 4-3-1-3-3 0-1 1 1 3-2 1-1 2-4-2-2 6-2 0-4-6 1-2 2 1 1-1-5-2 0 3-2 2-1 0-1-2-1 1-5-2-2 3 3 5 2-1 1 1-1 3 2 1 3-3 1 2 2 1-1 4-2 1 6 0-1-1 2-2 5 3 0-4-2-1 3-2 5 0 1-1zM441 183l1 1 0 3 2 0 0-4zM734 181l1 2-2 1-1-1zM437 182l-2 0-1 2-4 2 3 3 2 0 2-2 2 1zM1098 200l1 3 2 0 0-2 4-2 2 1-1 3 49 0 1-1 1 1 7 0-6-2-1-3 3-3 3 1 2-2-1-1 0-3 4-2 1-2 3 2 2 0 4-3-2-2-11 2-2-2 1-2-1 0-2-3-3 6-4 3-1 0-1-2-4 3-3-2 2-1 1-2 3 0 0-1-2-1-3 2 0 2-1 1-1-1-1 2 1 1-2 1 5-1 1 1-2 3-4 0-1-1-3 1-4-5 2-3-1 1-3-1 1 3-1 2 2 2-1 2-2 1-2-6-2-2 2-2-7 1-1-1 1-1 3 0-4 0-1-2-2-1 0 3-2 1-7-5-2 1-2-2-5 1-3 5 1 1 3-1 4-5 2 3-2 5-5 1-1 5 2 1-2 1 2 1zM731 178l1-1 1 1-1 1zM1170 177l1 2 4 0 0-1zM824 177h0zM808 176h0zM736 176h0zM828 175l-2 1 2 0zM822 174l1 0zM1137 178l2 2 4-2 5 1 0-1-3 0-4-6-1 1 2 2 0 2-3 3zM832 172l1 1-1 1 3 0zM805 171h0zM437 171l1-1 1 1-1 1zM432 171l1-1 1 1-1 1zM435 170l1-1 1 1-1 1zM795 167h0zM706 178l-1 7 2 1-1 5 3 2-2 3 4 5-1 2 35 0 1-1 1 1 9 0 2-4-1-2 3-2 1-2 3 0 1 2-3 2 1 5 9 1-1 0-1-2-2 1-1-2-1 1-1-1 2-3 2 2-1-3 2-2-5 0-3-5 1-2 2 1 3-1-3-4 0-3 2-2 2 0-5 1 0 6-5 3 1 1 0 3-2 2-5-1-1 2-3-2-1-7-2 1-2-3-5 0-4-4-1-5-2 0-3-5-3 1-2-3-3-1-1 1-3 0-2 4-1-2-1 0-5 4zM159 166l1 0zM434 163l1-1 1 1-1 1zM440 163l-3 0-2-2-1 1 1 3-3 3-1-1-3 0-1 1 2 2-1 3 3-2 1 1-1 1 3 2-3 3 4 0 0-3 7-6 0-3zM186 156l0 2 1 0zM165 155l1 2 2 1 0-1zM1189 154l2 0zM1152 153l1 2 1-1zM160 153l-2 1 1 1zM1168 152l-1 1 1 0zM1135 152h0zM180 152l1 0zM1180 151l2 1 0-1zM174 149l2 0zM150 149l1 1 0-1zM1178 147h0zM130 145l0 2 3-2 2 3 2-2 0-1-3 1-2-2zM148 141h0zM1136 138l-4 1 0 1 2 0zM1190 136l1 3 2-1 3 1-2-3zM1182 136l-4 1 0 1 2 0zM1178 134h0zM1158 129h0zM404 44l1 0zM331 43h0zM381 31h0zM453 10l0 1 4 2 1-1-2-2-1 1z"/>
<path fill="#e4ee1e" stroke="#e4ee1e" fill-rule="evenodd" d="M1114 201l0 1 1 0zM1134 200h0zM1140 199l1 1-1 3 3 0 0-3 1-1 3 2-2-2-2 1zM754 199l-1 0 0 2zM1111 197h0zM714 197l1-1 1 1-1 1zM1108 196l1 1 0-1zM1120 194l2 3 5-1-2 0-2-2zM720 188l1-1 1 1-1 1zM721 182l1-1 2 3-2 1zM710 177l0 6 2 3-1 5 2 2-1 1 0 3 2 6 18 0-2-2 0-2 2-2-3-1 3-6-3-1-1-3 1-4-2-3-2 1-1-3-3 3-2-1-2 1-5-3zM717 174l-1 0-1 2 1 0z"/>
<path fill="#f6d716" stroke="#f6d716" fill-rule="evenodd" d="M715 200h0zM724 199h0zM720 192h0zM717 184l-1 4 1 0z"/>
</g>
<circle cx="1806.8" cy="260.6" r="3" fill="#f9aa0f"/>
<circle cx="1835.8" cy="279.2" r="3" fill="#f6d716"/>
<circle cx="1867.9" cy="308.3" r="4" fill="#f48017"/>
<circle cx="134.9" cy="303.1" r="3" fill="#f6d716"/>
<circle cx="186.7" cy="113.8" r="3" fill="#e4ee1e"/>
<circle cx="663.4" cy="135.6" r="3" fill="#f48017"/>
<use href="#halo" stroke="#e4ee1e" stroke-width="7.5"/>
<use href="#land"/>
<use href="#grid"/>
</g>
<rect x="75.5" y="78.5" width="1860" height="305.8" fill="none" stroke="#000" stroke-width="4.9"/>
<g class="tk"><text x="150.4" y="418.2" text-anchor="middle">165°W</text><text x="228.1" y="418.2" text-anchor="middle">150°W</text><text x="305.9" y="418.2" text-anchor="middle">135°W</text><text x="383.6" y="418.2" text-anchor="middle">120°W</text><text x="461.3" y="418.2" text-anchor="middle">105°W</text><text x="539" y="418.2" text-anchor="middle">90°W</text><text x="616.7" y="418.2" text-anchor="middle">75°W</text><text x="694.4" y="418.2" text-anchor="middle">60°W</text><text x="772.2" y="418.2" text-anchor="middle">45°W</text><text x="849.9" y="418.2" text-anchor="middle">30°W</text><text x="927.6" y="418.2" text-anchor="middle">15°W</text><text x="1005.3" y="418.2" text-anchor="middle">0°</text><text x="1083" y="418.2" text-anchor="middle">15°E</text><text x="1160.7" y="418.2" text-anchor="middle">30°E</text><text x="1238.4" y="418.2" text-anchor="middle">45°E</text><text x="1316.2" y="418.2" text-anchor="middle">60°E</text><text x="1393.9" y="418.2" text-anchor="middle">75°E</text><text x="1471.6" y="418.2" text-anchor="middle">90°E</text><text x="1549.3" y="418.2" text-anchor="middle">105°E</text><text x="1627" y="418.2" text-anchor="middle">120°E</text><text x="1704.7" y="418.2" text-anchor="middle">135°E</text><text x="1782.4" y="418.2" text-anchor="middle">150°E</text><text x="1860.2" y="418.2" text-anchor="middle">165°E</text><text x="59.5" y="136" text-anchor="end">20° N</text><text x="59.5" y="187.8" text-anchor="end">10° N</text><text x="59.5" y="239.7" text-anchor="end">0°</text><text x="59.5" y="291.6" text-anchor="end">10° S</text><text x="59.5" y="343.4" text-anchor="end">20° S</text></g>
<rect x="75" y="462" width="93.6" height="21" fill="#1d1282"/><rect x="168" y="462" width="93.6" height="21" fill="#1c0a80"/><rect x="261" y="462" width="93.6" height="21" fill="#1e1285"/><rect x="354" y="462" width="93.6" height="21" fill="#1c2f91"/><rect x="447" y="462" width="93.6" height="21" fill="#2160a8"/><rect x="540" y="462" width="93.6" height="21" fill="#2496c4"/><rect x="633" y="462" width="93.6" height="21" fill="#1ea8cb"/><rect x="726" y="462" width="93.6" height="21" fill="#2aaab8"/><rect x="819" y="462" width="93.6" height="21" fill="#3aab98"/><rect x="912" y="462" width="93.6" height="21" fill="#67c07c"/><rect x="1005" y="462" width="93.6" height="21" fill="#8ecf5e"/><rect x="1098" y="462" width="93.6" height="21" fill="#bde03a"/><rect x="1191" y="462" width="93.6" height="21" fill="#e4ee1e"/><rect x="1284" y="462" width="93.6" height="21" fill="#f6d716"/><rect x="1377" y="462" width="93.6" height="21" fill="#f9aa0f"/><rect x="1470" y="462" width="93.6" height="21" fill="#f48017"/><rect x="1563" y="462" width="93.6" height="21" fill="#f65015"/><rect x="1656" y="462" width="93.6" height="21" fill="#f61e10"/><rect x="1749" y="462" width="93.6" height="21" fill="#d21408"/><rect x="1842" y="462" width="93.6" height="21" fill="#9a0f0a"/><path d="M354 483V468" stroke="#000" stroke-width="1.3"/><path d="M633 483V468" stroke="#000" stroke-width="1.3"/><path d="M912 483V468" stroke="#000" stroke-width="1.3"/><path d="M1191 483V468" stroke="#000" stroke-width="1.3"/><path d="M1470 483V468" stroke="#000" stroke-width="1.3"/><path d="M1749 483V468" stroke="#000" stroke-width="1.3"/><rect x="75" y="462" width="1860" height="21" fill="none" stroke="#000" stroke-width="3.7"/>
<g class="cb"><text x="75" y="537.8" text-anchor="middle">1.00</text><text x="354" y="537.8" text-anchor="middle">1.75</text><text x="633" y="537.8" text-anchor="middle">2.50</text><text x="912" y="537.8" text-anchor="middle">3.25</text><text x="1191" y="537.8" text-anchor="middle">4.00</text><text x="1470" y="537.8" text-anchor="middle">4.75</text><text x="1749" y="537.8" text-anchor="middle">5.50</text></g>
<text class="tt" x="50.2" y="59.2" style="font-size:65px" textLength="77.6" lengthAdjust="spacingAndGlyphs">(c)</text>
<text class="tt" x="439" y="47.2" textLength="261" lengthAdjust="spacingAndGlyphs">ANN mean</text>
<text class="em" x="715.2" y="47.2" style="font-size:59px" textLength="38.5" lengthAdjust="spacingAndGlyphs">E</text>
<text class="em" x="750.5" y="47.7" style="font-size:32px">q</text>
<text class="tt" x="790.5" y="47.2" textLength="709" lengthAdjust="spacingAndGlyphs">assuming gamma PDF (Eq. 8)</text>
</g>
</svg></body></html>
